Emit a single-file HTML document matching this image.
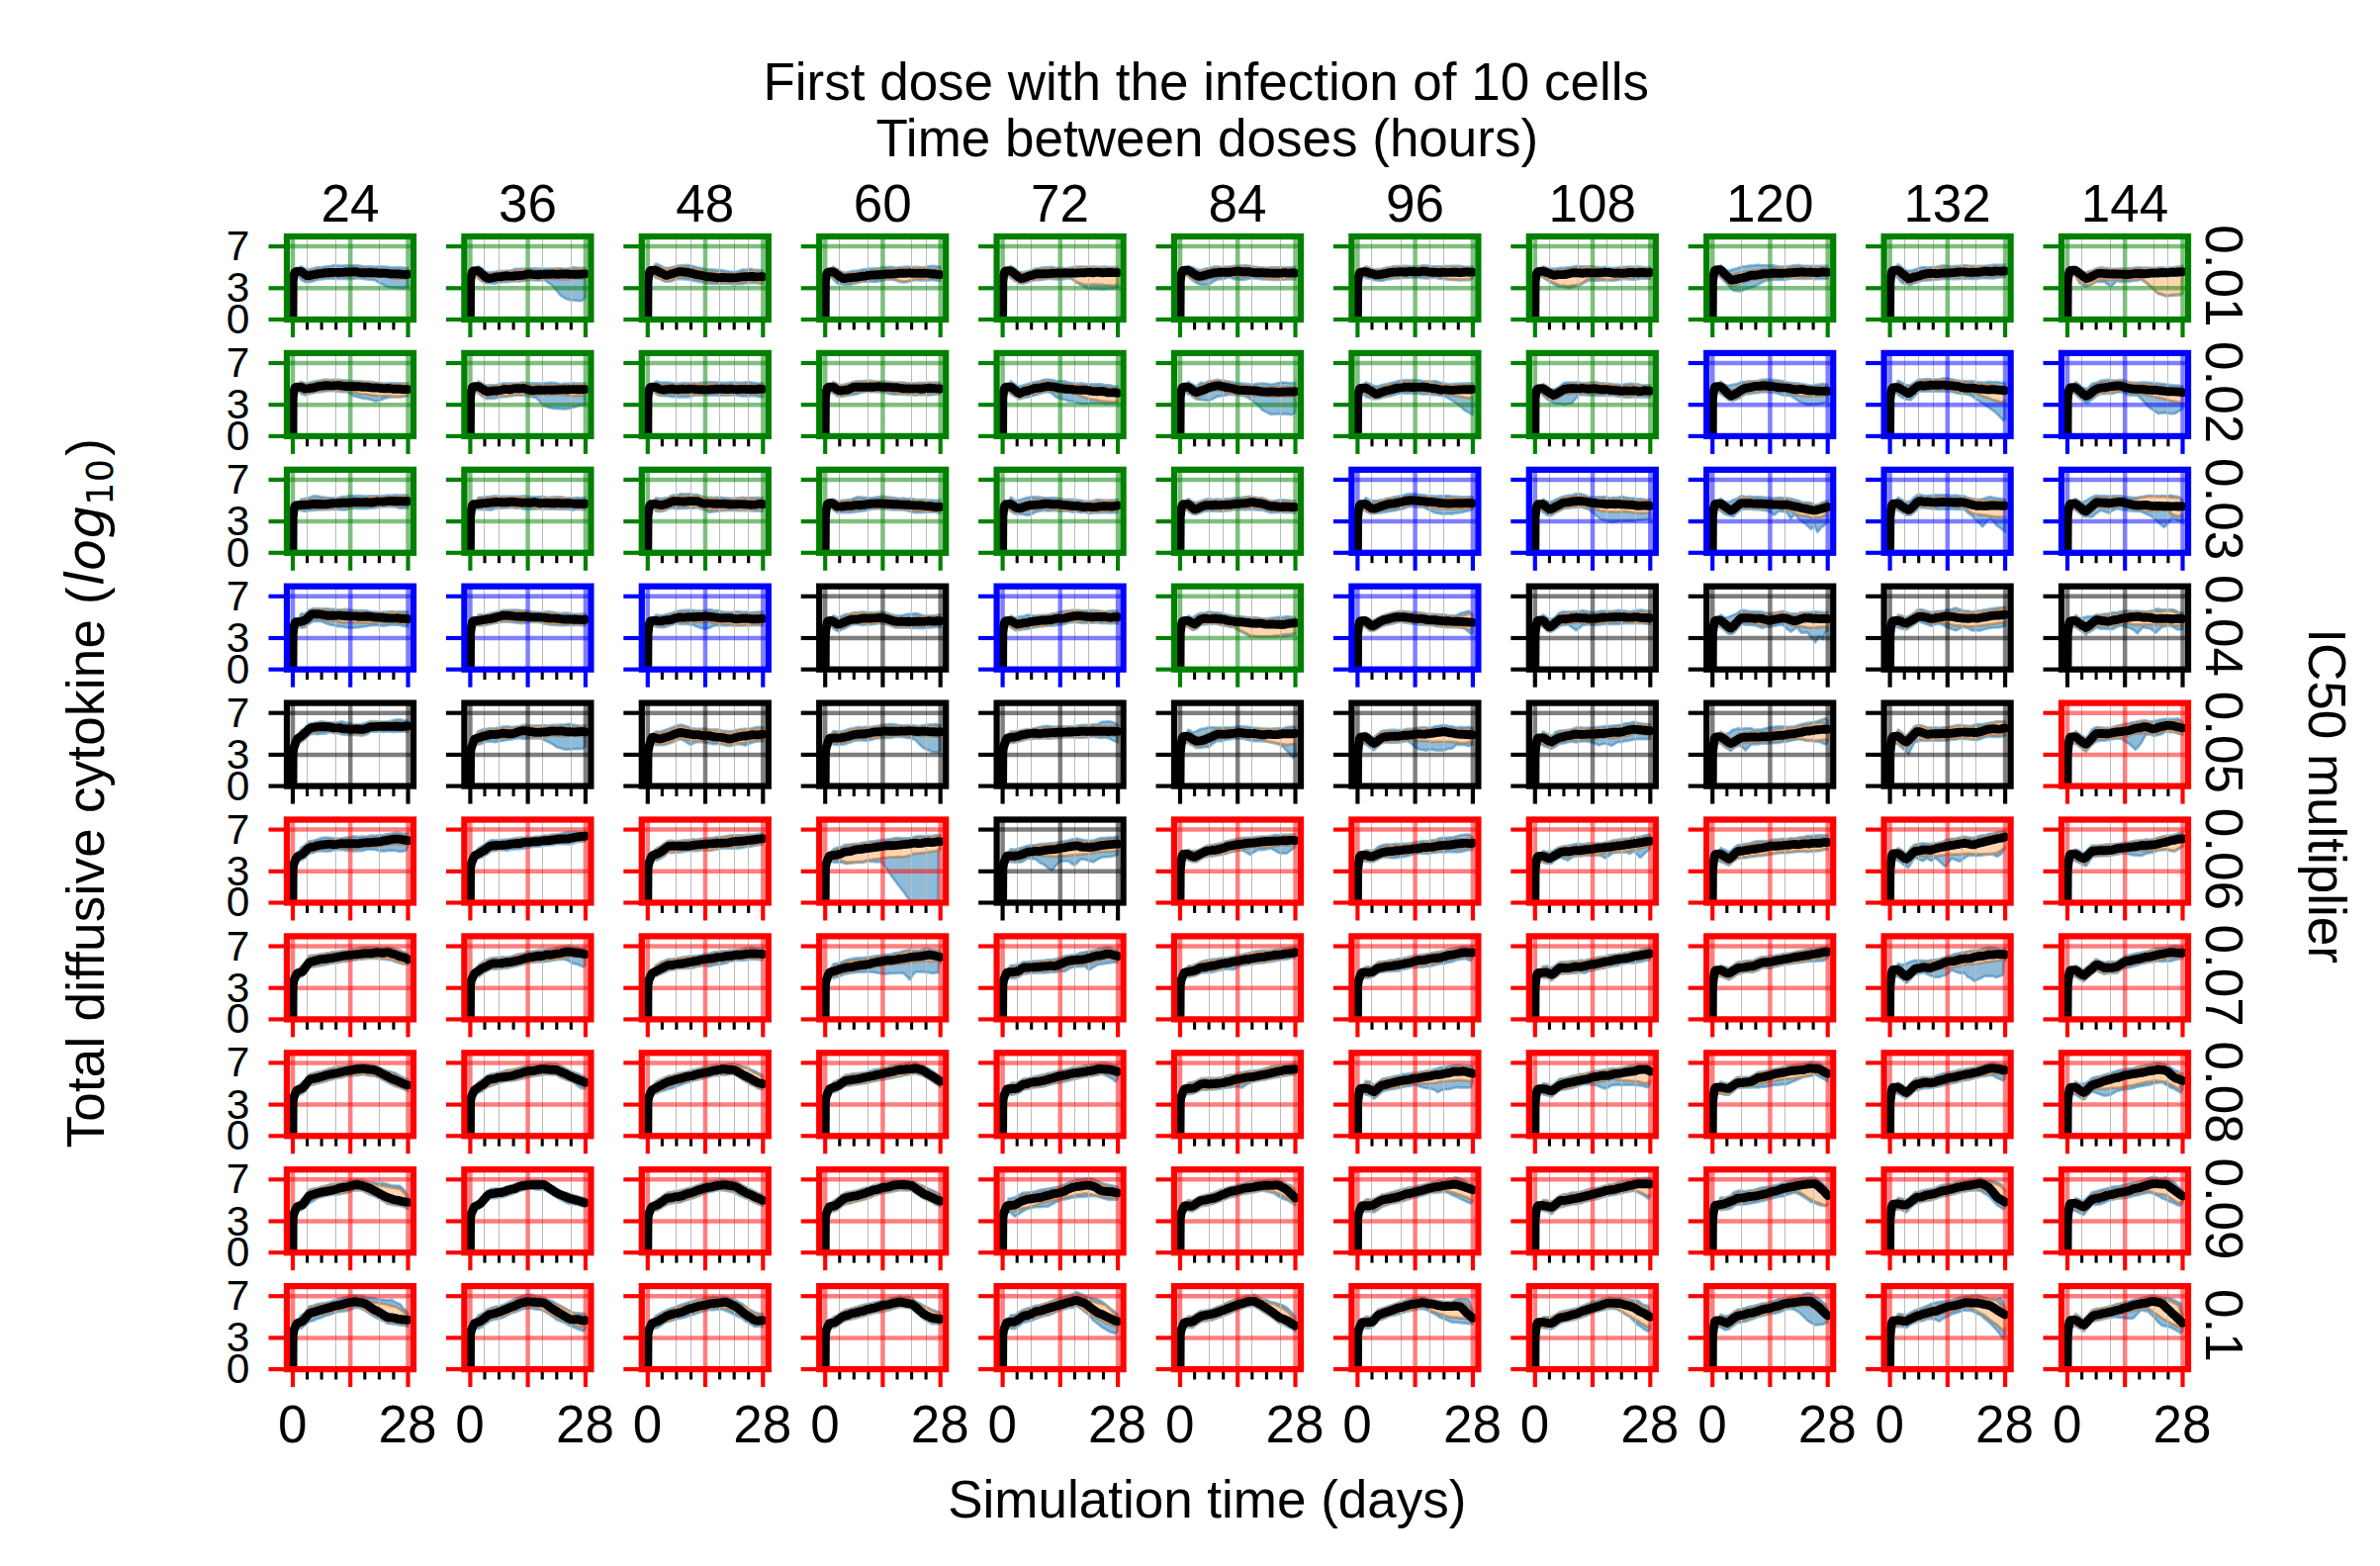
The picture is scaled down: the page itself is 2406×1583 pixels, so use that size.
<!DOCTYPE html>
<html lang="en"><head><meta charset="utf-8"><title>Total diffusive cytokine grid</title>
<style>html,body{margin:0;padding:0;background:#fff}svg{display:block}text{font-family:"Liberation Sans", sans-serif;fill:#000}.t{font-size:53.00px}.y{font-size:42.50px}.bb{fill:#1f77b4;fill-opacity:.5;stroke:#1f77b4;stroke-opacity:.5;stroke-width:2.6;stroke-linejoin:round}.ob{fill:#ff7f0e;fill-opacity:.33;stroke:#ff7f0e;stroke-opacity:.4;stroke-width:2.4;stroke-linejoin:round}.ml{fill:none;stroke:#000;stroke-width:8.9;stroke-linejoin:round;stroke-linecap:round}.g{color:#008000}.b{color:#0000ff}.k{color:#000}.r{color:#ff0000}</style></head><body>
<svg width="2406" height="1583" viewBox="0 0 2406 1583">
<rect width="2406" height="1583" fill="#fff"/>
<defs>
<clipPath id="c"><rect x="0" y="0" width="128" height="84"/></clipPath>
<g id="G" stroke="currentColor" stroke-opacity=".5" stroke-width="4.5" clip-path="url(#c)"><line x1="6" y1="0" x2="6" y2="84"/><line x1="64.2" y1="0" x2="64.2" y2="84"/><line x1="122.5" y1="0" x2="122.5" y2="84"/><line x1="0" y1="84" x2="128" y2="84"/><line x1="0" y1="52.3" x2="128" y2="52.3"/><line x1="0" y1="10.1" x2="128" y2="10.1"/></g>
<g id="m0" stroke="#bcbcbc" stroke-width="1"><line x1="20.5" y1="0" x2="20.5" y2="84"/><line x1="49.5" y1="0" x2="49.5" y2="84"/><line x1="93.5" y1="0" x2="93.5" y2="84"/></g>
<g id="m1" stroke="#bcbcbc" stroke-width="1"><line x1="20.1" y1="0" x2="20.1" y2="84"/><line x1="35.1" y1="0" x2="35.1" y2="84"/><line x1="79.1" y1="0" x2="79.1" y2="84"/><line x1="108.1" y1="0" x2="108.1" y2="84"/></g>
<g id="m2" stroke="#bcbcbc" stroke-width="1"><line x1="34.7" y1="0" x2="34.7" y2="84"/><line x1="49.7" y1="0" x2="49.7" y2="84"/><line x1="78.7" y1="0" x2="78.7" y2="84"/><line x1="93.7" y1="0" x2="93.7" y2="84"/><line x1="107.7" y1="0" x2="107.7" y2="84"/></g>
<g id="m3" stroke="#bcbcbc" stroke-width="1"><line x1="20.3" y1="0" x2="20.3" y2="84"/><line x1="49.3" y1="0" x2="49.3" y2="84"/><line x1="93.3" y1="0" x2="93.3" y2="84"/><line x1="108.3" y1="0" x2="108.3" y2="84"/></g>
<g id="m4" stroke="#bcbcbc" stroke-width="1"><line x1="20.9" y1="0" x2="20.9" y2="84"/><line x1="34.9" y1="0" x2="34.9" y2="84"/><line x1="78.9" y1="0" x2="78.9" y2="84"/><line x1="92.9" y1="0" x2="92.9" y2="84"/></g>
<g id="m5" stroke="#bcbcbc" stroke-width="1"><line x1="35.5" y1="0" x2="35.5" y2="84"/><line x1="49.5" y1="0" x2="49.5" y2="84"/><line x1="78.5" y1="0" x2="78.5" y2="84"/><line x1="107.5" y1="0" x2="107.5" y2="84"/></g>
<g id="m6" stroke="#bcbcbc" stroke-width="1"><line x1="20.1" y1="0" x2="20.1" y2="84"/><line x1="50.1" y1="0" x2="50.1" y2="84"/><line x1="79.1" y1="0" x2="79.1" y2="84"/><line x1="93.1" y1="0" x2="93.1" y2="84"/></g>
<g id="m7" stroke="#bcbcbc" stroke-width="1"><line x1="20.7" y1="0" x2="20.7" y2="84"/><line x1="49.7" y1="0" x2="49.7" y2="84"/><line x1="78.7" y1="0" x2="78.7" y2="84"/><line x1="93.7" y1="0" x2="93.7" y2="84"/><line x1="107.7" y1="0" x2="107.7" y2="84"/></g>
<g id="m8" stroke="#bcbcbc" stroke-width="1"><line x1="35.3" y1="0" x2="35.3" y2="84"/><line x1="79.3" y1="0" x2="79.3" y2="84"/><line x1="108.3" y1="0" x2="108.3" y2="84"/></g>
<g id="m9" stroke="#bcbcbc" stroke-width="1"><line x1="20.9" y1="0" x2="20.9" y2="84"/><line x1="34.9" y1="0" x2="34.9" y2="84"/><line x1="49.9" y1="0" x2="49.9" y2="84"/><line x1="78.9" y1="0" x2="78.9" y2="84"/><line x1="92.9" y1="0" x2="92.9" y2="84"/></g>
<g id="m10" stroke="#bcbcbc" stroke-width="1"><line x1="20.5" y1="0" x2="20.5" y2="84"/><line x1="49.5" y1="0" x2="49.5" y2="84"/><line x1="93.5" y1="0" x2="93.5" y2="84"/><line x1="107.5" y1="0" x2="107.5" y2="84"/></g>
<g id="F"><g stroke="#000" stroke-width="3.1"><line x1="20.6" y1="84" x2="20.6" y2="94.4"/><line x1="35.1" y1="84" x2="35.1" y2="94.4"/><line x1="49.7" y1="84" x2="49.7" y2="94.4"/><line x1="78.8" y1="84" x2="78.8" y2="94.4"/><line x1="93.4" y1="84" x2="93.4" y2="94.4"/><line x1="107.9" y1="84" x2="107.9" y2="94.4"/></g><g stroke="currentColor" stroke-width="4.17"><line x1="6" y1="84" x2="6" y2="102"/><line x1="64.2" y1="84" x2="64.2" y2="102"/><line x1="122.5" y1="84" x2="122.5" y2="102"/><line x1="-18.5" y1="84" x2="0" y2="84"/><line x1="-18.5" y1="52.3" x2="0" y2="52.3"/><line x1="-18.5" y1="10.1" x2="0" y2="10.1"/></g><rect x="0" y="0" width="128" height="84" fill="none" stroke="currentColor" stroke-width="6.25"/></g>
</defs>
<text class="t" x="1219.2" y="100.9" text-anchor="middle">First dose with the infection of 10 cells</text>
<text class="t" x="1220.3" y="158" text-anchor="middle">Time between doses (hours)</text>
<text class="t" x="1220.3" y="1534.4" text-anchor="middle">Simulation time (days)</text>
<text class="t" transform="translate(105,1160.5) rotate(-90)" text-anchor="start" letter-spacing=".22">Total diffusive cytokine (<tspan font-family="'DejaVu Sans',sans-serif" font-style="oblique" dx="1">log</tspan><tspan font-family="'DejaVu Sans',sans-serif" font-size="36.5px" dy="8.6" dx="0">10</tspan><tspan dy="-8.6" dx="3">)</tspan></text>
<text class="t" transform="translate(2333.7,804.6) rotate(90)" text-anchor="middle">IC50 multiplier</text>
<text class="t" x="354" y="223.6" text-anchor="middle">24</text>
<text class="t" x="533.4" y="223.6" text-anchor="middle">36</text>
<text class="t" x="712.8" y="223.6" text-anchor="middle">48</text>
<text class="t" x="892.2" y="223.6" text-anchor="middle">60</text>
<text class="t" x="1071.6" y="223.6" text-anchor="middle">72</text>
<text class="t" x="1251" y="223.6" text-anchor="middle">84</text>
<text class="t" x="1430.4" y="223.6" text-anchor="middle">96</text>
<text class="t" x="1609.8" y="223.6" text-anchor="middle">108</text>
<text class="t" x="1789.2" y="223.6" text-anchor="middle">120</text>
<text class="t" x="1968.6" y="223.6" text-anchor="middle">132</text>
<text class="t" x="2148" y="223.6" text-anchor="middle">144</text>
<text class="t" transform="translate(2230.2,278.8) rotate(90)" text-anchor="middle">0.01</text>
<text class="t" transform="translate(2230.2,396.7) rotate(90)" text-anchor="middle">0.02</text>
<text class="t" transform="translate(2230.2,514.6) rotate(90)" text-anchor="middle">0.03</text>
<text class="t" transform="translate(2230.2,632.5) rotate(90)" text-anchor="middle">0.04</text>
<text class="t" transform="translate(2230.2,750.4) rotate(90)" text-anchor="middle">0.05</text>
<text class="t" transform="translate(2230.2,868.3) rotate(90)" text-anchor="middle">0.06</text>
<text class="t" transform="translate(2230.2,986.2) rotate(90)" text-anchor="middle">0.07</text>
<text class="t" transform="translate(2230.2,1104.1) rotate(90)" text-anchor="middle">0.08</text>
<text class="t" transform="translate(2230.2,1222) rotate(90)" text-anchor="middle">0.09</text>
<text class="t" transform="translate(2230.2,1339.9) rotate(90)" text-anchor="middle">0.1</text>
<text class="y" x="252.3" y="336.9" text-anchor="end">0</text>
<text class="y" x="252.3" y="305.2" text-anchor="end">3</text>
<text class="y" x="252.3" y="263" text-anchor="end">7</text>
<text class="y" x="252.3" y="454.8" text-anchor="end">0</text>
<text class="y" x="252.3" y="423.1" text-anchor="end">3</text>
<text class="y" x="252.3" y="380.9" text-anchor="end">7</text>
<text class="y" x="252.3" y="572.7" text-anchor="end">0</text>
<text class="y" x="252.3" y="541" text-anchor="end">3</text>
<text class="y" x="252.3" y="498.8" text-anchor="end">7</text>
<text class="y" x="252.3" y="690.6" text-anchor="end">0</text>
<text class="y" x="252.3" y="659" text-anchor="end">3</text>
<text class="y" x="252.3" y="616.8" text-anchor="end">7</text>
<text class="y" x="252.3" y="808.5" text-anchor="end">0</text>
<text class="y" x="252.3" y="776.9" text-anchor="end">3</text>
<text class="y" x="252.3" y="734.6" text-anchor="end">7</text>
<text class="y" x="252.3" y="926.4" text-anchor="end">0</text>
<text class="y" x="252.3" y="894.8" text-anchor="end">3</text>
<text class="y" x="252.3" y="852.5" text-anchor="end">7</text>
<text class="y" x="252.3" y="1044.3" text-anchor="end">0</text>
<text class="y" x="252.3" y="1012.7" text-anchor="end">3</text>
<text class="y" x="252.3" y="970.5" text-anchor="end">7</text>
<text class="y" x="252.3" y="1162.2" text-anchor="end">0</text>
<text class="y" x="252.3" y="1130.6" text-anchor="end">3</text>
<text class="y" x="252.3" y="1088.4" text-anchor="end">7</text>
<text class="y" x="252.3" y="1280.1" text-anchor="end">0</text>
<text class="y" x="252.3" y="1248.5" text-anchor="end">3</text>
<text class="y" x="252.3" y="1206.3" text-anchor="end">7</text>
<text class="y" x="252.3" y="1398" text-anchor="end">0</text>
<text class="y" x="252.3" y="1366.4" text-anchor="end">3</text>
<text class="y" x="252.3" y="1324.2" text-anchor="end">7</text>
<text class="t" x="295.7" y="1458" text-anchor="middle">0</text>
<text class="t" x="412" y="1458" text-anchor="middle">28</text>
<text class="t" x="475.1" y="1458" text-anchor="middle">0</text>
<text class="t" x="591.4" y="1458" text-anchor="middle">28</text>
<text class="t" x="654.5" y="1458" text-anchor="middle">0</text>
<text class="t" x="770.8" y="1458" text-anchor="middle">28</text>
<text class="t" x="833.9" y="1458" text-anchor="middle">0</text>
<text class="t" x="950.2" y="1458" text-anchor="middle">28</text>
<text class="t" x="1013.3" y="1458" text-anchor="middle">0</text>
<text class="t" x="1129.6" y="1458" text-anchor="middle">28</text>
<text class="t" x="1192.7" y="1458" text-anchor="middle">0</text>
<text class="t" x="1309" y="1458" text-anchor="middle">28</text>
<text class="t" x="1372.1" y="1458" text-anchor="middle">0</text>
<text class="t" x="1488.4" y="1458" text-anchor="middle">28</text>
<text class="t" x="1551.5" y="1458" text-anchor="middle">0</text>
<text class="t" x="1667.8" y="1458" text-anchor="middle">28</text>
<text class="t" x="1730.9" y="1458" text-anchor="middle">0</text>
<text class="t" x="1847.2" y="1458" text-anchor="middle">28</text>
<text class="t" x="1910.3" y="1458" text-anchor="middle">0</text>
<text class="t" x="2026.6" y="1458" text-anchor="middle">28</text>
<text class="t" x="2089.7" y="1458" text-anchor="middle">0</text>
<text class="t" x="2206" y="1458" text-anchor="middle">28</text>
<g class="g" transform="translate(290,239)">
<g clip-path="url(#c)"><path class="bb" d="M10.2,38.5L14.3,40.3L18.5,42.9L22.6,43.8L26.8,43L31,41.7L35.1,41.3L39.3,40.8L43.4,40.9L47.6,40.8L51.8,40.5L55.9,40.3L60.1,40.6L64.2,40.2L68.4,40.2L72.6,40L76.7,40.6L80.9,40.4L85,40.6L89.2,40.5L93.4,40.5L97.5,40.8L101.7,41.3L105.8,42.1L110,42.9L114.2,42.5L118.3,42.7L122.5,42.6L122.5,50.5L118.3,52.7L114.2,52.4L110,52L105.8,51.6L101.7,51.2L97.5,48.9L93.4,46.9L89.2,44.3L85,43.8L80.9,43.4L76.7,42.9L72.6,42.2L68.4,42.8L64.2,43L60.1,43.1L55.9,42.7L51.8,42.9L47.6,42.8L43.4,42.7L39.3,42.8L35.1,43.5L31,43.7L26.8,45.2L22.6,46.2L18.5,46.2L14.3,43.6L10.2,38.5ZM10.2,35.3L14.3,30.3L18.5,32.7L22.6,33.2L26.8,32.3L31,31.2L35.1,31.3L39.3,30.2L43.4,30.1L47.6,29.2L51.8,29.6L55.9,29.5L60.1,29.3L64.2,29.1L68.4,29L72.6,29.6L76.7,30.1L80.9,30.4L85,30.3L89.2,30.7L93.4,30.3L97.5,30.5L101.7,30.8L105.8,31.4L110,31.4L114.2,31.4L118.3,31.6L122.5,31.7L122.5,35.3L118.3,34.8L114.2,34.1L110,33.7L105.8,34.1L101.7,33.9L97.5,33.8L93.4,33.2L89.2,32.9L85,32.7L80.9,32.1L76.7,32.1L72.6,32L68.4,31.8L64.2,31.4L60.1,32.1L55.9,33.3L51.8,33.7L47.6,33.4L43.4,33.2L39.3,33L35.1,33.4L31,33.1L26.8,34L22.6,35.3L18.5,35.1L14.3,33.3L10.2,35.3Z"/><polygon class="ob" points="10.2,35.3 14.3,33.3 18.5,35.1 22.6,35.3 26.8,34 31,33.1 35.1,33.4 39.3,33 43.4,33.2 47.6,33.4 51.8,33.7 55.9,33.3 60.1,32.1 64.2,31.4 68.4,31.8 72.6,32 76.7,32.1 80.9,32.1 85,32.7 89.2,32.9 93.4,33.2 97.5,33.8 101.7,33.9 105.8,34.1 110,33.7 114.2,34.1 118.3,34.8 122.5,35.3 122.5,42.6 118.3,42.7 114.2,42.5 110,42.9 105.8,42.1 101.7,41.3 97.5,40.8 93.4,40.5 89.2,40.5 85,40.6 80.9,40.4 76.7,40.6 72.6,40 68.4,40.2 64.2,40.2 60.1,40.6 55.9,40.3 51.8,40.5 47.6,40.8 43.4,40.9 39.3,40.8 35.1,41.3 31,41.7 26.8,43 22.6,43.8 18.5,42.9 14.3,40.3 10.2,38.5"/></g>
<use href="#m0"/><use href="#G"/>
<polyline class="ml" clip-path="url(#c)" points="6,84 6.2,45.9 7,39.6 8.1,36.2 9.1,35.6 10.2,35.4 11.2,35.4 12.2,35.3 13.3,35.3 14.3,35.6 15.4,36.1 16.4,36.9 17.4,37.7 18.5,38.6 20.6,39.7 22.6,39.6 24.7,39.1 26.8,38.7 28.9,38.3 31,37.8 33,37.6 35.1,37.4 37.2,37.1 39.3,36.8 41.4,36.7 43.4,36.5 45.5,36.5 47.6,36.4 49.7,36.4 51.8,36.5 53.8,36.4 55.9,36.4 58,36.1 60.1,36 62.2,36.1 64.2,36 66.3,35.9 68.4,35.6 70.5,35.9 72.6,36.3 74.6,36.6 76.7,36.8 78.8,36.7 80.9,36.6 83,36.5 85,36.8 87.1,36.8 89.2,36.9 91.3,36.9 93.4,37.3 95.4,37.2 97.5,37.1 99.6,37.1 101.7,37.4 103.8,37.7 105.8,37.9 107.9,37.9 110,38 112.1,37.9 114.2,38.1 116.2,38.3 118.3,38.4 120.4,38.5 122.5,38.2"/>
<use href="#F"/></g>
<g class="g" transform="translate(469.4,239)">
<g clip-path="url(#c)"><path class="bb" d="M10.2,38.2L14.3,42.1L18.5,44.2L22.6,46.6L26.8,45L31,44.9L35.1,44.5L39.3,45L43.4,44.5L47.6,44.7L51.8,44.3L55.9,44.5L60.1,44.1L64.2,43.5L68.4,43.3L72.6,43.1L76.7,43.3L80.9,42.8L85,42.9L89.2,42.8L93.4,42.9L97.5,43.2L101.7,43.3L105.8,43.2L110,42.6L114.2,42.4L118.3,42.7L122.5,42.6L122.5,61.9L118.3,65.2L114.2,64.9L110,64.5L105.8,64.1L101.7,62.5L97.5,59.9L93.4,55L89.2,49.8L85,46.9L80.9,44L76.7,44.5L72.6,44.4L68.4,44.3L64.2,44.3L60.1,45L55.9,45.4L51.8,45.1L47.6,45.5L43.4,46.1L39.3,46.3L35.1,46.8L31,47.6L26.8,47.2L22.6,47.5L18.5,45.9L14.3,43L10.2,38.2ZM10.2,35L14.3,30L18.5,33.1L22.6,36.2L26.8,36.1L31,35.7L35.1,34.8L39.3,34.7L43.4,34.5L47.6,34.2L51.8,32.7L55.9,32.8L60.1,32.5L64.2,32.8L68.4,32.2L72.6,32.4L76.7,32.5L80.9,32.5L85,32.5L89.2,32.5L93.4,32.3L97.5,32.2L101.7,32.9L105.8,32.2L110,31.3L114.2,31.8L118.3,31.7L122.5,31.9L122.5,32.7L118.3,32.6L114.2,33L110,33.4L105.8,33.9L101.7,33.8L97.5,33L93.4,33.1L89.2,33.4L85,34.2L80.9,34.5L76.7,34.3L72.6,34.7L68.4,34.1L64.2,34L60.1,33.4L55.9,34L51.8,34.7L47.6,35.1L43.4,35.3L39.3,35.9L35.1,36.3L31,37L26.8,37.6L22.6,37.9L18.5,34.7L14.3,31.3L10.2,35Z"/><polygon class="ob" points="10.2,35 14.3,31.3 18.5,34.7 22.6,37.9 26.8,37.6 31,37 35.1,36.3 39.3,35.9 43.4,35.3 47.6,35.1 51.8,34.7 55.9,34 60.1,33.4 64.2,34 68.4,34.1 72.6,34.7 76.7,34.3 80.9,34.5 85,34.2 89.2,33.4 93.4,33.1 97.5,33 101.7,33.8 105.8,33.9 110,33.4 114.2,33 118.3,32.6 122.5,32.7 122.5,42.6 118.3,42.7 114.2,42.4 110,42.6 105.8,43.2 101.7,43.3 97.5,43.2 93.4,42.9 89.2,42.8 85,42.9 80.9,42.8 76.7,43.3 72.6,43.1 68.4,43.3 64.2,43.5 60.1,44.1 55.9,44.5 51.8,44.3 47.6,44.7 43.4,44.5 39.3,45 35.1,44.5 31,44.9 26.8,45 22.6,46.6 18.5,44.2 14.3,42.1 10.2,38.2"/></g>
<use href="#m1"/><use href="#G"/>
<polyline class="ml" clip-path="url(#c)" points="6,84 6.2,45.9 7,39.4 8.1,35.8 9.1,35 10.2,34.9 11.2,34.8 12.2,34.8 13.3,34.7 14.3,35.1 15.4,35.8 16.4,36.8 17.4,37.7 18.5,38.5 20.6,40.4 22.6,41.9 24.7,42.4 26.8,42.2 28.9,41.9 31,41.2 33,40.9 35.1,40.7 37.2,40.7 39.3,40.3 41.4,40 43.4,39.8 45.5,40.1 47.6,40.1 49.7,40.1 51.8,39.6 53.8,39.6 55.9,39.5 58,39.4 60.1,39.1 62.2,38.5 64.2,38.2 66.3,37.9 68.4,38.3 70.5,38.6 72.6,38.6 74.6,38.7 76.7,38.5 78.8,38.4 80.9,38.1 83,38.3 85,38.3 87.1,38.2 89.2,37.9 91.3,38.1 93.4,38.2 95.4,38.3 97.5,37.9 99.6,38 101.7,37.9 103.8,38 105.8,38.2 107.9,38.3 110,38.4 112.1,38.2 114.2,38.3 116.2,38.1 118.3,38.2 120.4,37.9 122.5,37.9"/>
<use href="#F"/></g>
<g class="g" transform="translate(648.8,239)">
<g clip-path="url(#c)"><path class="bb" d="M10.2,37.9L14.3,40.5L18.5,42.3L22.6,44.6L26.8,44.9L31,43.4L35.1,41.8L39.3,41L43.4,41L47.6,41.1L51.8,42.2L55.9,43.2L60.1,44.2L64.2,45.1L68.4,45.9L72.6,46.2L76.7,46.4L80.9,46.2L85,46.3L89.2,46.5L93.4,46.7L97.5,46.2L101.7,46.2L105.8,45.8L110,45.4L114.2,45.8L118.3,46.8L122.5,47.2L122.5,48L118.3,47.6L114.2,47L110,47.1L105.8,47.2L101.7,48.3L97.5,48.3L93.4,48.6L89.2,47.9L85,47.7L80.9,47.9L76.7,47.9L72.6,48.1L68.4,47.8L64.2,47.3L60.1,46.1L55.9,45.6L51.8,44.7L47.6,43.7L43.4,43.4L39.3,43L35.1,43.2L31,44.9L26.8,45.7L22.6,45.4L18.5,43.1L14.3,42L10.2,37.9ZM10.2,34.7L14.3,27.5L18.5,29.3L22.6,31.5L26.8,31.9L31,30.9L35.1,29.9L39.3,29.3L43.4,29L47.6,28.9L51.8,30.1L55.9,31.2L60.1,32.1L64.2,33.1L68.4,33.2L72.6,33.5L76.7,33.9L80.9,34.1L85,34.9L89.2,35.6L93.4,35.8L97.5,35.2L101.7,33.4L105.8,33.7L110,32.8L114.2,33.9L118.3,33.8L122.5,34.8L122.5,36.7L118.3,35.9L114.2,34.9L110,35.1L105.8,35.5L101.7,36.1L97.5,37L93.4,37.7L89.2,37.7L85,37L80.9,36.7L76.7,36.1L72.6,36L68.4,35.6L64.2,35.2L60.1,34.2L55.9,33.2L51.8,32.5L47.6,31.4L43.4,30.9L39.3,30.7L35.1,30.7L31,31.8L26.8,32.8L22.6,32.6L18.5,30.9L14.3,29.3L10.2,34.7Z"/><polygon class="ob" points="10.2,34.7 14.3,29.3 18.5,30.9 22.6,32.6 26.8,32.8 31,31.8 35.1,30.7 39.3,30.7 43.4,30.9 47.6,31.4 51.8,32.5 55.9,33.2 60.1,34.2 64.2,35.2 68.4,35.6 72.6,36 76.7,36.1 80.9,36.7 85,37 89.2,37.7 93.4,37.7 97.5,37 101.7,36.1 105.8,35.5 110,35.1 114.2,34.9 118.3,35.9 122.5,36.7 122.5,47.2 118.3,46.8 114.2,45.8 110,45.4 105.8,45.8 101.7,46.2 97.5,46.2 93.4,46.7 89.2,46.5 85,46.3 80.9,46.2 76.7,46.4 72.6,46.2 68.4,45.9 64.2,45.1 60.1,44.2 55.9,43.2 51.8,42.2 47.6,41.1 43.4,41 39.3,41 35.1,41.8 31,43.4 26.8,44.9 22.6,44.6 18.5,42.3 14.3,40.5 10.2,37.9"/></g>
<use href="#m2"/><use href="#G"/>
<polyline class="ml" clip-path="url(#c)" points="6,84 6.2,45.8 7,39.2 8.1,35.3 9.1,34.5 10.2,34.4 11.2,34.3 12.2,34.2 13.3,34.2 14.3,34.4 15.4,34.8 16.4,35.4 17.4,36 18.5,36.5 20.6,37.3 22.6,38.5 24.7,39.4 26.8,38.9 28.9,38.2 31,37.7 33,37.1 35.1,36.3 37.2,35.6 39.3,35.7 41.4,35.8 43.4,36.1 45.5,36.2 47.6,36.7 49.7,37.2 51.8,37.7 53.8,38.2 55.9,38.6 58,39 60.1,39.4 62.2,39.8 64.2,40.3 66.3,40.7 68.4,40.8 70.5,41 72.6,41.2 74.6,41.5 76.7,41.7 78.8,41.6 80.9,41.5 83,41.5 85,41.6 87.1,41.7 89.2,41.7 91.3,41.6 93.4,41.7 95.4,41.7 97.5,41.4 99.6,41.1 101.7,40.9 103.8,40.7 105.8,40.7 107.9,40.6 110,40.4 112.1,40.5 114.2,40.7 116.2,40.9 118.3,40.9 120.4,40.8 122.5,40.8"/>
<use href="#F"/></g>
<g class="g" transform="translate(828.2,239)">
<g clip-path="url(#c)"><path class="bb" d="M10.2,38.8L14.3,41.7L18.5,43.9L22.6,46.3L26.8,47.4L31,46.6L35.1,46.2L39.3,45.5L43.4,44.6L47.6,44.4L51.8,43.8L55.9,43.6L60.1,42.9L64.2,43L68.4,42.8L72.6,42.4L76.7,43.1L80.9,44.8L85,45.5L89.2,45.1L93.4,44L97.5,43.2L101.7,42.7L105.8,43.2L110,42.4L114.2,42.3L118.3,42.3L122.5,42.8L122.5,44.7L118.3,44.7L114.2,44L110,44.5L105.8,44.3L101.7,44.4L97.5,44L93.4,44.8L89.2,46L85,46.4L80.9,45.7L76.7,44.2L72.6,43.7L68.4,43.7L64.2,44.6L60.1,45.5L55.9,46.1L51.8,45.4L47.6,45.9L43.4,45.6L39.3,47L35.1,47.7L31,49L26.8,48.9L22.6,48.2L18.5,47.7L14.3,43.5L10.2,38.8ZM10.2,35.6L14.3,30.5L18.5,33.5L22.6,35.7L26.8,36.8L31,35.6L35.1,34.9L39.3,34.5L43.4,33.6L47.6,32.9L51.8,32.6L55.9,32.3L60.1,32.3L64.2,30.9L68.4,31L72.6,30.8L76.7,31.5L80.9,31.2L85,30.9L89.2,30.5L93.4,31L97.5,30.9L101.7,31L105.8,31.2L110,30.4L114.2,29.7L118.3,30.1L122.5,30.7L122.5,33.3L118.3,33.5L114.2,33.3L110,32.9L105.8,32L101.7,31.8L97.5,31.7L93.4,32L89.2,32.1L85,32.4L80.9,32.7L76.7,32.8L72.6,32.9L68.4,33L64.2,33.2L60.1,33.8L55.9,34.5L51.8,35L47.6,35.6L43.4,35.9L39.3,36.2L35.1,36.7L31,36.9L26.8,37.8L22.6,36.6L18.5,34.4L14.3,31.5L10.2,35.6Z"/><polygon class="ob" points="10.2,35.6 14.3,31.5 18.5,34.4 22.6,36.6 26.8,37.8 31,36.9 35.1,36.7 39.3,36.2 43.4,35.9 47.6,35.6 51.8,35 55.9,34.5 60.1,33.8 64.2,33.2 68.4,33 72.6,32.9 76.7,32.8 80.9,32.7 85,32.4 89.2,32.1 93.4,32 97.5,31.7 101.7,31.8 105.8,32 110,32.9 114.2,33.3 118.3,33.5 122.5,33.3 122.5,42.8 118.3,42.3 114.2,42.3 110,42.4 105.8,43.2 101.7,42.7 97.5,43.2 93.4,44 89.2,45.1 85,45.5 80.9,44.8 76.7,43.1 72.6,42.4 68.4,42.8 64.2,43 60.1,42.9 55.9,43.6 51.8,43.8 47.6,44.4 43.4,44.6 39.3,45.5 35.1,46.2 31,46.6 26.8,47.4 22.6,46.3 18.5,43.9 14.3,41.7 10.2,38.8"/></g>
<use href="#m3"/><use href="#G"/>
<polyline class="ml" clip-path="url(#c)" points="6,84 6.2,45.9 7,39.8 8.1,36.7 9.1,36.1 10.2,36 11.2,35.9 12.2,35.8 13.3,35.8 14.3,36 15.4,36.5 16.4,37.2 17.4,38 18.5,38.8 20.6,40.5 22.6,41.9 24.7,42.5 26.8,42.3 28.9,41.9 31,41.7 33,41.6 35.1,41.4 37.2,41.3 39.3,40.9 41.4,40.6 43.4,40.3 45.5,40.1 47.6,39.8 49.7,39.3 51.8,39.1 53.8,38.9 55.9,39 58,38.7 60.1,38.7 62.2,38.5 64.2,38.5 66.3,38 68.4,38 70.5,37.9 72.6,38 74.6,37.9 76.7,37.7 78.8,37.5 80.9,37.2 83,37.1 85,37.2 87.1,37.3 89.2,37.1 91.3,37 93.4,37.2 95.4,37.3 97.5,37.4 99.6,37.2 101.7,37.2 103.8,37.4 105.8,37.2 107.9,37.2 110,37.4 112.1,37.7 114.2,38 116.2,37.8 118.3,38.2 120.4,38.4 122.5,38.6"/>
<use href="#F"/></g>
<g class="g" transform="translate(1007.6,239)">
<g clip-path="url(#c)"><path class="bb" d="M10.2,38.2L14.3,41.3L18.5,44.1L22.6,46.4L26.8,47.1L31,45.5L35.1,44.3L39.3,43.2L43.4,43.3L47.6,42.7L51.8,42.1L55.9,42.2L60.1,42.4L64.2,42.2L68.4,41.4L72.6,41.1L76.7,42.6L80.9,45.9L85,47.6L89.2,48.8L93.4,48.7L97.5,48.5L101.7,48.6L105.8,48.8L110,49.1L114.2,49.2L118.3,49.5L122.5,48.4L122.5,51.2L118.3,52.9L114.2,52.7L110,53.2L105.8,53.4L101.7,52.9L97.5,53L93.4,53L89.2,51.6L85,49L80.9,46.8L76.7,43.6L72.6,42.3L68.4,43.2L64.2,43.1L60.1,43.5L55.9,43L51.8,43L47.6,43.5L43.4,44.1L39.3,44.1L35.1,45.1L31,46.4L26.8,47.9L22.6,47.3L18.5,45L14.3,42.2L10.2,38.2ZM10.2,35L14.3,29.8L18.5,32.6L22.6,35.8L26.8,36.3L31,35.3L35.1,33.9L39.3,32.6L43.4,32.1L47.6,31.2L51.8,31.1L55.9,30.8L60.1,31.8L64.2,31.8L68.4,32.1L72.6,31.9L76.7,31.2L80.9,30.6L85,30.5L89.2,30.5L93.4,30.7L97.5,30.5L101.7,30.8L105.8,30.9L110,30.5L114.2,31L118.3,30.9L122.5,31.2L122.5,32L118.3,31.7L114.2,32.1L110,31.9L105.8,31.7L101.7,31.7L97.5,31.4L93.4,31.5L89.2,31.4L85,31.4L80.9,31.4L76.7,32.1L72.6,32.7L68.4,32.9L64.2,32.6L60.1,32.7L55.9,32.6L51.8,32.8L47.6,32.8L43.4,33.5L39.3,33.8L35.1,34.8L31,36.2L26.8,37.1L22.6,36.7L18.5,33.5L14.3,31L10.2,35Z"/><polygon class="ob" points="10.2,35 14.3,31 18.5,33.5 22.6,36.7 26.8,37.1 31,36.2 35.1,34.8 39.3,33.8 43.4,33.5 47.6,32.8 51.8,32.8 55.9,32.6 60.1,32.7 64.2,32.6 68.4,32.9 72.6,32.7 76.7,32.1 80.9,31.4 85,31.4 89.2,31.4 93.4,31.5 97.5,31.4 101.7,31.7 105.8,31.7 110,31.9 114.2,32.1 118.3,31.7 122.5,32 122.5,48.4 118.3,49.5 114.2,49.2 110,49.1 105.8,48.8 101.7,48.6 97.5,48.5 93.4,48.7 89.2,48.8 85,47.6 80.9,45.9 76.7,42.6 72.6,41.1 68.4,41.4 64.2,42.2 60.1,42.4 55.9,42.2 51.8,42.1 47.6,42.7 43.4,43.3 39.3,43.2 35.1,44.3 31,45.5 26.8,47.1 22.6,46.4 18.5,44.1 14.3,41.3 10.2,38.2"/></g>
<use href="#m4"/><use href="#G"/>
<polyline class="ml" clip-path="url(#c)" points="6,84 6.2,45.9 7,39.4 8.1,35.8 9.1,35 10.2,34.9 11.2,34.8 12.2,34.8 13.3,34.7 14.3,35 15.4,35.6 16.4,36.3 17.4,37.2 18.5,38.1 20.6,39.8 22.6,41.4 24.7,42.5 26.8,42.1 28.9,41.5 31,40.6 33,40 35.1,39.4 37.2,38.8 39.3,38 41.4,37.8 43.4,37.7 45.5,37.9 47.6,37.7 49.7,37.8 51.8,37.6 53.8,37.5 55.9,37.3 58,37.2 60.1,37.2 62.2,37 64.2,37.1 66.3,37.1 68.4,37 70.5,37 72.6,37 74.6,37.1 76.7,36.8 78.8,37.1 80.9,37 83,36.9 85,36.8 87.1,36.9 89.2,36.8 91.3,36.4 93.4,36.3 95.4,36.5 97.5,36.8 99.6,36.4 101.7,36.4 103.8,36.4 105.8,36.7 107.9,36.7 110,36.6 112.1,36.5 114.2,36.5 116.2,36.5 118.3,36.6 120.4,36.6 122.5,36.6"/>
<use href="#F"/></g>
<g class="g" transform="translate(1187,239)">
<g clip-path="url(#c)"><path class="bb" d="M10.2,37.9L14.3,40L16.4,41.5L18.5,42.3L22.6,44.8L24.7,45.7L26.8,44.5L31,43.7L35.1,42.5L39.3,42L43.4,41.2L47.6,40.8L51.8,40.8L55.9,40.1L60.1,40.4L64.2,40.4L68.4,40.6L72.6,40.5L76.7,40.4L80.9,40.8L85,41L89.2,41.6L93.4,42.5L97.5,43L101.7,43.2L105.8,43.2L110,42.9L114.2,42.6L118.3,42.1L122.5,41.9L122.5,43.4L118.3,43.4L114.2,43.5L110,43.8L105.8,44L101.7,44L97.5,43.9L93.4,43.3L89.2,43.4L85,42.8L80.9,42.4L76.7,42.5L72.6,43.5L68.4,43.9L64.2,43.6L60.1,43L55.9,41.2L51.8,42.4L47.6,43.1L43.4,43.5L39.3,45.8L35.1,48.6L31,48.9L26.8,48.7L24.7,48.3L22.6,47.2L18.5,44.1L16.4,42.8L14.3,40.8L10.2,37.9ZM10.2,34.7L14.3,29.8L16.4,30.9L18.5,31.1L22.6,33.3L24.7,33.7L26.8,34.3L31,32.8L35.1,32L39.3,30.7L43.4,30.4L47.6,31L51.8,30.6L55.9,30.6L60.1,29.7L64.2,29.9L68.4,29.4L72.6,29.2L76.7,29.8L80.9,30.5L85,31L89.2,31.3L93.4,31.7L97.5,31.3L101.7,31.2L105.8,31.2L110,31.2L114.2,31.2L118.3,31L122.5,30.6L122.5,32.5L118.3,31.9L114.2,32L110,32.1L105.8,32L101.7,32L97.5,32.1L93.4,32.5L89.2,32.2L85,32L80.9,31.4L76.7,30.6L72.6,30.7L68.4,30.5L64.2,30.7L60.1,30.5L55.9,31.7L51.8,31.4L47.6,31.8L43.4,31.4L39.3,33L35.1,33.8L31,34.3L26.8,35.1L24.7,35.8L22.6,35.2L18.5,32.9L16.4,31.8L14.3,30.7L10.2,34.7Z"/><polygon class="ob" points="10.2,34.7 14.3,30.7 16.4,31.8 18.5,32.9 22.6,35.2 24.7,35.8 26.8,35.1 31,34.3 35.1,33.8 39.3,33 43.4,31.4 47.6,31.8 51.8,31.4 55.9,31.7 60.1,30.5 64.2,30.7 68.4,30.5 72.6,30.7 76.7,30.6 80.9,31.4 85,32 89.2,32.2 93.4,32.5 97.5,32.1 101.7,32 105.8,32 110,32.1 114.2,32 118.3,31.9 122.5,32.5 122.5,41.9 118.3,42.1 114.2,42.6 110,42.9 105.8,43.2 101.7,43.2 97.5,43 93.4,42.5 89.2,41.6 85,41 80.9,40.8 76.7,40.4 72.6,40.5 68.4,40.6 64.2,40.4 60.1,40.4 55.9,40.1 51.8,40.8 47.6,40.8 43.4,41.2 39.3,42 35.1,42.5 31,43.7 26.8,44.5 24.7,45.7 22.6,44.8 18.5,42.3 16.4,41.5 14.3,40 10.2,37.9"/></g>
<use href="#m5"/><use href="#G"/>
<polyline class="ml" clip-path="url(#c)" points="6,84 6.2,45.8 7,39.2 8.1,35.3 9.1,34.5 10.2,34.4 11.2,34.3 12.2,34.2 13.3,34.2 14.3,34.4 15.4,34.9 16.4,35.5 17.4,36.2 18.5,37 20.6,38.4 22.6,39.4 24.7,40.3 26.8,40.1 28.9,39.8 31,39.2 33,38.7 35.1,38.2 37.2,37.7 39.3,37.2 41.4,36.8 43.4,36.6 45.5,36.3 47.6,36.3 49.7,36.1 51.8,36.4 53.8,36.3 55.9,36.2 58,36 60.1,35.6 62.2,35.4 64.2,35.2 66.3,35.3 68.4,35.7 70.5,35.8 72.6,35.8 74.6,35.6 76.7,35.8 78.8,36.3 80.9,36.6 83,36.7 85,36.8 87.1,36.7 89.2,36.8 91.3,36.9 93.4,37 95.4,37 97.5,37.1 99.6,37.2 101.7,37.3 103.8,37.3 105.8,37.3 107.9,37.1 110,36.9 112.1,36.7 114.2,37.1 116.2,37 118.3,37 120.4,36.7 122.5,37.1"/>
<use href="#F"/></g>
<g class="g" transform="translate(1366.4,239)">
<g clip-path="url(#c)"><path class="bb" d="M10.2,39.3L14.3,40.4L18.5,41.5L22.6,42.5L26.8,42.9L31,41.9L35.1,41.8L39.3,41.5L43.4,41.5L47.6,41L51.8,40.8L55.9,40.1L60.1,40.1L64.2,39.9L68.4,39.7L72.6,39.8L76.7,40L80.9,40.9L85,40.9L89.2,40.8L93.4,41.5L97.5,42.9L101.7,43.2L105.8,43.4L110,43.6L114.2,43.4L118.3,43.5L122.5,41.7L122.5,42.6L118.3,44.3L114.2,44.2L110,44.4L105.8,44.3L101.7,44L97.5,43.8L93.4,43L89.2,42.9L85,41.8L80.9,42L76.7,42.4L72.6,42.3L68.4,42L64.2,41.6L60.1,41.8L55.9,41.9L51.8,41.8L47.6,42.4L43.4,42.4L39.3,43.1L35.1,43.7L31,44.9L26.8,44.8L22.6,44.1L18.5,42.7L14.3,42.2L10.2,39.3ZM10.2,36.1L14.3,30.2L18.5,31.8L22.6,33.2L26.8,33.3L31,32.5L35.1,31.5L39.3,31L43.4,30.1L47.6,30L51.8,29.9L55.9,29.9L60.1,30.1L64.2,30.2L68.4,29.9L72.6,29.3L76.7,29.5L80.9,30.1L85,30.3L89.2,30.3L93.4,30L97.5,30L101.7,29.7L105.8,29.7L110,29.9L114.2,30.5L118.3,30.7L122.5,30.2L122.5,32L118.3,31.7L114.2,31.6L110,31.4L105.8,31.3L101.7,31L97.5,30.9L93.4,31.1L89.2,31.5L85,31.8L80.9,31.4L76.7,31L72.6,30.8L68.4,30.8L64.2,31L60.1,31.1L55.9,30.7L51.8,30.7L47.6,30.9L43.4,31.1L39.3,31.8L35.1,32.4L31,33.6L26.8,34.6L22.6,34.3L18.5,32.7L14.3,31.1L10.2,36.1Z"/><polygon class="ob" points="10.2,36.1 14.3,31.1 18.5,32.7 22.6,34.3 26.8,34.6 31,33.6 35.1,32.4 39.3,31.8 43.4,31.1 47.6,30.9 51.8,30.7 55.9,30.7 60.1,31.1 64.2,31 68.4,30.8 72.6,30.8 76.7,31 80.9,31.4 85,31.8 89.2,31.5 93.4,31.1 97.5,30.9 101.7,31 105.8,31.3 110,31.4 114.2,31.6 118.3,31.7 122.5,32 122.5,41.7 118.3,43.5 114.2,43.4 110,43.6 105.8,43.4 101.7,43.2 97.5,42.9 93.4,41.5 89.2,40.8 85,40.9 80.9,40.9 76.7,40 72.6,39.8 68.4,39.7 64.2,39.9 60.1,40.1 55.9,40.1 51.8,40.8 47.6,41 43.4,41.5 39.3,41.5 35.1,41.8 31,41.9 26.8,42.9 22.6,42.5 18.5,41.5 14.3,40.4 10.2,39.3"/></g>
<use href="#m6"/><use href="#G"/>
<polyline class="ml" clip-path="url(#c)" points="6,84 6.2,46.8 7,40.4 8.1,36.8 9.1,36.1 10.2,36 11.2,35.9 12.2,35.8 13.3,35.8 14.3,35.9 15.4,36.1 16.4,36.4 17.4,36.8 18.5,37.2 20.6,37.7 22.6,38.3 24.7,38.9 26.8,38.9 28.9,38.4 31,38.1 33,37.7 35.1,37.4 37.2,36.9 39.3,36.4 41.4,36.2 43.4,36.1 45.5,36.1 47.6,35.9 49.7,35.8 51.8,36 53.8,36 55.9,36 58,35.5 60.1,35.6 62.2,35.5 64.2,35.8 66.3,35.9 68.4,35.8 70.5,35.5 72.6,35.2 74.6,35.4 76.7,35.7 78.8,36.1 80.9,36.2 83,36.1 85,36.4 87.1,36.4 89.2,36.5 91.3,36.3 93.4,36.3 95.4,36.4 97.5,36.4 99.6,36.4 101.7,36.1 103.8,36.3 105.8,36.2 107.9,36.5 110,36.6 112.1,36.2 114.2,36.2 116.2,35.9 118.3,36.2 120.4,36.1 122.5,36.1"/>
<use href="#F"/></g>
<g class="g" transform="translate(1545.8,239)">
<g clip-path="url(#c)"><path class="bb" d="M10.2,38.9L14.3,40.9L18.5,43.3L22.6,45.8L26.8,47.4L31,49.6L35.1,49.5L39.3,50.2L43.4,49.3L47.6,49.1L51.8,48.2L55.9,45.6L60.1,42.6L64.2,42.5L68.4,42.3L72.6,42.5L76.7,43.2L80.9,43.7L85,43.4L89.2,42.7L93.4,41.7L97.5,41.6L101.7,41.7L105.8,41.7L110,41.3L114.2,41L118.3,41.1L122.5,41.6L122.5,42.8L118.3,42.6L114.2,42.8L110,43.3L105.8,43.8L101.7,43.5L97.5,42.9L93.4,43.4L89.2,44.3L85,44.8L80.9,44.5L76.7,44.5L72.6,44.5L68.4,44.8L64.2,44.8L60.1,44.5L55.9,46.6L51.8,49.1L47.6,50.3L43.4,51.6L39.3,52.2L35.1,51L31,50.8L26.8,49.5L22.6,46.9L18.5,44.4L14.3,41.7L10.2,38.9ZM10.2,35.8L14.3,30.3L18.5,31.8L22.6,32.5L26.8,32.6L31,31.9L35.1,31.8L39.3,31.2L43.4,30.7L47.6,30L51.8,30.3L55.9,30.2L60.1,30.4L64.2,30.2L68.4,30.9L72.6,31.3L76.7,30.8L80.9,31.7L85,31.7L89.2,31.6L93.4,30.9L97.5,30.8L101.7,30.6L105.8,30.8L110,30.5L114.2,30.9L118.3,31.2L122.5,31.1L122.5,32.6L118.3,32.6L114.2,32.3L110,32.1L105.8,31.6L101.7,31.6L97.5,31.9L93.4,32.6L89.2,32.5L85,32.6L80.9,33.1L76.7,33.2L72.6,32.7L68.4,31.8L64.2,31L60.1,31.2L55.9,31.3L51.8,32L47.6,32L43.4,32.6L39.3,32.9L35.1,33.6L31,34.1L26.8,34.9L22.6,34.4L18.5,32.9L14.3,31.1L10.2,35.8Z"/><polygon class="ob" points="10.2,35.8 14.3,31.1 18.5,32.9 22.6,34.4 26.8,34.9 31,34.1 35.1,33.6 39.3,32.9 43.4,32.6 47.6,32 51.8,32 55.9,31.3 60.1,31.2 64.2,31 68.4,31.8 72.6,32.7 76.7,33.2 80.9,33.1 85,32.6 89.2,32.5 93.4,32.6 97.5,31.9 101.7,31.6 105.8,31.6 110,32.1 114.2,32.3 118.3,32.6 122.5,32.6 122.5,41.6 118.3,41.1 114.2,41 110,41.3 105.8,41.7 101.7,41.7 97.5,41.6 93.4,41.7 89.2,42.7 85,43.4 80.9,43.7 76.7,43.2 72.6,42.5 68.4,42.3 64.2,42.5 60.1,42.6 55.9,45.6 51.8,48.2 47.6,49.1 43.4,49.3 39.3,50.2 35.1,49.5 31,49.6 26.8,47.4 22.6,45.8 18.5,43.3 14.3,40.9 10.2,38.9"/></g>
<use href="#m7"/><use href="#G"/>
<polyline class="ml" clip-path="url(#c)" points="6,84 6.2,46.7 7,40.3 8.1,36.4 9.1,35.6 10.2,35.4 11.2,35.4 12.2,35.3 13.3,35.2 14.3,35.4 15.4,35.6 16.4,36 17.4,36.4 18.5,36.7 20.6,37.4 22.6,38.4 24.7,39.2 26.8,39.1 28.9,38.6 31,38.6 33,38.6 35.1,38.5 37.2,38.3 39.3,37.8 41.4,37.4 43.4,36.9 45.5,36.8 47.6,36.8 49.7,36.9 51.8,37 53.8,37.2 55.9,37 58,36.8 60.1,36.7 62.2,36.9 64.2,36.9 66.3,36.9 68.4,36.8 70.5,36.9 72.6,36.6 74.6,36.6 76.7,36.3 78.8,36.4 80.9,36.5 83,36.8 85,37.1 87.1,37.2 89.2,37 91.3,37.1 93.4,37.2 95.4,37.2 97.5,37.1 99.6,36.7 101.7,36.5 103.8,36.4 105.8,36.8 107.9,36.8 110,36.9 112.1,36.4 114.2,36.5 116.2,36.5 118.3,36.8 120.4,36.6 122.5,36.5"/>
<use href="#F"/></g>
<g class="g" transform="translate(1725.2,239)">
<g clip-path="url(#c)"><path class="bb" d="M10.2,38L14.3,40.1L18.5,44.1L22.6,48L26.8,49.6L31,48.2L35.1,47L39.3,45.7L43.4,44.5L47.6,43.8L51.8,43.2L55.9,43L60.1,42.6L64.2,42.4L68.4,41.7L72.6,41.5L76.7,41.3L80.9,41.6L85,41.8L89.2,41.7L93.4,41.8L97.5,41.4L101.7,41.8L105.8,41.7L110,41.4L114.2,40.5L118.3,39.8L122.5,40.5L122.5,42.8L118.3,43L114.2,42.8L110,43.1L105.8,42.5L101.7,42.6L97.5,42.9L93.4,42.8L89.2,42.5L85,42.7L80.9,43.6L76.7,43.9L72.6,43.9L68.4,43.7L64.2,44L60.1,44.6L55.9,46.5L51.8,48.8L47.6,50.8L43.4,52.3L39.3,53.1L35.1,55.5L31,55.3L26.8,54.6L22.6,49.9L18.5,45.8L14.3,41.5L10.2,38ZM10.2,34.9L14.3,29L18.5,33.1L22.6,35L26.8,33.2L31,32.3L35.1,30.7L39.3,30.3L43.4,29.6L47.6,29.3L51.8,28.7L55.9,29.2L60.1,29.3L64.2,29.4L68.4,29.4L72.6,30.3L76.7,30.6L80.9,30.4L85,29.7L89.2,29.3L93.4,28.9L97.5,29.8L101.7,29.7L105.8,29.9L110,29.9L114.2,29.9L118.3,29.9L122.5,29.5L122.5,31.6L118.3,31.5L114.2,31.1L110,31.2L105.8,31.5L101.7,31.3L97.5,31.5L93.4,31.8L89.2,31.8L85,31.9L80.9,31.2L76.7,31.4L72.6,31.7L68.4,32.4L64.2,33.2L60.1,33.2L55.9,33.6L51.8,34L47.6,34.5L43.4,35.1L39.3,35.8L35.1,36.6L31,37.6L26.8,39L22.6,38.2L18.5,34.4L14.3,30.5L10.2,34.9Z"/><polygon class="ob" points="10.2,34.9 14.3,30.5 18.5,34.4 22.6,38.2 26.8,39 31,37.6 35.1,36.6 39.3,35.8 43.4,35.1 47.6,34.5 51.8,34 55.9,33.6 60.1,33.2 64.2,33.2 68.4,32.4 72.6,31.7 76.7,31.4 80.9,31.2 85,31.9 89.2,31.8 93.4,31.8 97.5,31.5 101.7,31.3 105.8,31.5 110,31.2 114.2,31.1 118.3,31.5 122.5,31.6 122.5,40.5 118.3,39.8 114.2,40.5 110,41.4 105.8,41.7 101.7,41.8 97.5,41.4 93.4,41.8 89.2,41.7 85,41.8 80.9,41.6 76.7,41.3 72.6,41.5 68.4,41.7 64.2,42.4 60.1,42.6 55.9,43 51.8,43.2 47.6,43.8 43.4,44.5 39.3,45.7 35.1,47 31,48.2 26.8,49.6 22.6,48 18.5,44.1 14.3,40.1 10.2,38"/></g>
<use href="#m8"/><use href="#G"/>
<polyline class="ml" clip-path="url(#c)" points="6,84 6.2,46.7 7,39.7 8.1,34.9 9.1,34 10.2,33.9 11.2,33.8 12.2,33.7 13.3,33.7 14.3,34.1 15.4,34.8 16.4,35.9 17.4,37.1 18.5,38.1 20.6,40.2 22.6,42.2 24.7,44 26.8,44 28.9,43.6 31,43 33,42.4 35.1,42.1 37.2,41.7 39.3,41.2 41.4,40.5 43.4,39.7 45.5,39.3 47.6,39.1 49.7,39.2 51.8,38.9 53.8,38.6 55.9,38 58,37.8 60.1,37.8 62.2,37.9 64.2,37.5 66.3,37.2 68.4,37 70.5,37.2 72.6,37.2 74.6,37.2 76.7,37.3 78.8,37.1 80.9,37 83,36.7 85,36.7 87.1,36.5 89.2,36.5 91.3,36.3 93.4,36.2 95.4,36 97.5,36 99.6,36.3 101.7,36.4 103.8,36.3 105.8,36.1 107.9,36.4 110,36.5 112.1,36.6 114.2,36.4 116.2,36 118.3,36 120.4,36.1 122.5,36.2"/>
<use href="#F"/></g>
<g class="g" transform="translate(1904.6,239)">
<g clip-path="url(#c)"><path class="bb" d="M10.2,38.3L14.3,40.6L18.5,43.6L22.6,46.8L26.8,47.2L31,45.9L35.1,44.3L39.3,43.2L43.4,42.6L47.6,42.6L51.8,42.4L55.9,42.3L60.1,41.4L64.2,41L68.4,41.2L72.6,41.8L76.7,41L80.9,40.7L85,40.3L89.2,40.8L93.4,40.3L97.5,40L101.7,39.7L105.8,39.9L110,40.1L114.2,40L118.3,40L122.5,40.1L122.5,40.9L118.3,41.5L114.2,41.9L110,42.5L105.8,42.3L101.7,42.2L97.5,42.2L93.4,42.9L89.2,42.9L85,42.4L80.9,42.6L76.7,43L72.6,43.3L68.4,43.1L64.2,42.8L60.1,42.9L55.9,43.5L51.8,43.8L47.6,44.2L43.4,44.4L39.3,44.6L35.1,45.9L31,47L26.8,49.2L22.6,48L18.5,47.3L14.3,42.5L10.2,38.3ZM10.2,35.2L14.3,28.2L18.5,31.6L22.6,34.4L26.8,34.8L31,33.6L35.1,32L39.3,31.1L43.4,31.2L47.6,31L51.8,31L55.9,30L60.1,29.2L64.2,29.8L68.4,30.3L72.6,29.8L76.7,29.7L80.9,29.1L85,29.5L89.2,29.7L93.4,29.9L97.5,29.9L101.7,29.7L105.8,29.3L110,28.7L114.2,28.5L118.3,28.8L122.5,28.3L122.5,30.6L118.3,30.3L114.2,30.5L110,30.5L105.8,31.1L101.7,30.9L97.5,30.7L93.4,30.7L89.2,30.5L85,30.4L80.9,30.5L76.7,31L72.6,31.4L68.4,31.7L64.2,31.4L60.1,31.4L55.9,31.4L51.8,31.9L47.6,32.9L43.4,33.5L39.3,34.1L35.1,35.3L31,36.7L26.8,38.2L22.6,37.1L18.5,33.7L14.3,30.3L10.2,35.2Z"/><polygon class="ob" points="10.2,35.2 14.3,30.3 18.5,33.7 22.6,37.1 26.8,38.2 31,36.7 35.1,35.3 39.3,34.1 43.4,33.5 47.6,32.9 51.8,31.9 55.9,31.4 60.1,31.4 64.2,31.4 68.4,31.7 72.6,31.4 76.7,31 80.9,30.5 85,30.4 89.2,30.5 93.4,30.7 97.5,30.7 101.7,30.9 105.8,31.1 110,30.5 114.2,30.5 118.3,30.3 122.5,30.6 122.5,40.1 118.3,40 114.2,40 110,40.1 105.8,39.9 101.7,39.7 97.5,40 93.4,40.3 89.2,40.8 85,40.3 80.9,40.7 76.7,41 72.6,41.8 68.4,41.2 64.2,41 60.1,41.4 55.9,42.3 51.8,42.4 47.6,42.6 43.4,42.6 39.3,43.2 35.1,44.3 31,45.9 26.8,47.2 22.6,46.8 18.5,43.6 14.3,40.6 10.2,38.3"/></g>
<use href="#m9"/><use href="#G"/>
<polyline class="ml" clip-path="url(#c)" points="6,84 6.2,46.7 7,39.9 8.1,35.4 9.1,34.5 10.2,34.4 11.2,34.3 12.2,34.2 13.3,34.2 14.3,34.5 15.4,35.1 16.4,36 17.4,36.8 18.5,37.6 20.6,39.2 22.6,41.1 24.7,42.7 26.8,42.4 28.9,41.4 31,40.9 33,40.5 35.1,40 37.2,39.3 39.3,38.4 41.4,38.1 43.4,37.6 45.5,37.5 47.6,37.4 49.7,37.4 51.8,37.5 53.8,37.6 55.9,37.4 58,37.1 60.1,36.9 62.2,37 64.2,36.9 66.3,36.9 68.4,36.6 70.5,36.6 72.6,36.3 74.6,36.2 76.7,35.9 78.8,35.9 80.9,35.9 83,36.1 85,36.4 87.1,36.3 89.2,36.1 91.3,36.2 93.4,36.2 95.4,36.1 97.5,35.9 99.6,35.5 101.7,35.3 103.8,35.1 105.8,35.5 107.9,35.5 110,35.6 112.1,35 114.2,35.1 116.2,35.1 118.3,35.3 120.4,35 122.5,34.9"/>
<use href="#F"/></g>
<g class="g" transform="translate(2084,239)">
<g clip-path="url(#c)"><path class="bb" d="M10.2,38.3L14.3,39.4L18.5,46.1L22.6,47.4L24.7,48.3L26.8,49.3L31,47.6L35.1,45.2L39.3,43.2L43.4,43.4L47.6,43.9L49.7,44L51.8,43.9L55.9,43.5L60.1,43.6L64.2,43.3L68.4,43.6L72.6,43.6L76.7,43L80.9,42.7L85,45.8L89.2,49.4L93.4,53.2L97.5,57L101.7,58.1L105.8,59.7L110,59.1L114.2,58.8L118.3,58.5L120.4,58.4L122.5,56.5L122.5,57.3L120.4,59.5L118.3,59.3L114.2,59.6L110,60L105.8,60.5L101.7,59L97.5,57.9L93.4,54L89.2,50.2L85,46.6L80.9,43.6L76.7,44.6L72.6,44.7L68.4,45.8L64.2,45.3L60.1,46.1L55.9,45.1L51.8,48.9L49.7,50.3L47.6,48.9L43.4,45.9L39.3,45.9L35.1,46L31,48.4L26.8,50.1L24.7,50.8L22.6,50L18.5,47.5L14.3,40.3L10.2,38.3ZM10.2,35.2L14.3,30.5L18.5,33.7L22.6,35.7L24.7,36.7L26.8,35.6L31,34.4L35.1,32.4L39.3,31.4L43.4,31.7L47.6,32.4L49.7,32.3L51.8,32.7L55.9,32.7L60.1,32.4L64.2,32.7L68.4,32.1L72.6,32.1L76.7,31.2L80.9,31.5L85,31.6L89.2,31.7L93.4,31.9L97.5,31.5L101.7,31.4L105.8,31.9L110,31.4L114.2,31L118.3,30.5L120.4,30.3L122.5,29.6L122.5,30.4L120.4,31.1L118.3,31.4L114.2,32.4L110,32.8L105.8,32.7L101.7,32.2L97.5,32.4L93.4,32.7L89.2,32.5L85,32.6L80.9,32.4L76.7,32.8L72.6,32.9L68.4,33.2L64.2,33.7L60.1,33.3L55.9,33.5L51.8,33.5L49.7,33.6L47.6,33.3L43.4,32.6L39.3,32.2L35.1,33.3L31,35.2L26.8,36.5L24.7,37.5L22.6,36.6L18.5,34.7L14.3,31.3L10.2,35.2Z"/><polygon class="ob" points="10.2,35.2 14.3,31.3 18.5,34.7 22.6,36.6 24.7,37.5 26.8,36.5 31,35.2 35.1,33.3 39.3,32.2 43.4,32.6 47.6,33.3 49.7,33.6 51.8,33.5 55.9,33.5 60.1,33.3 64.2,33.7 68.4,33.2 72.6,32.9 76.7,32.8 80.9,32.4 85,32.6 89.2,32.5 93.4,32.7 97.5,32.4 101.7,32.2 105.8,32.7 110,32.8 114.2,32.4 118.3,31.4 120.4,31.1 122.5,30.4 122.5,56.5 120.4,58.4 118.3,58.5 114.2,58.8 110,59.1 105.8,59.7 101.7,58.1 97.5,57 93.4,53.2 89.2,49.4 85,45.8 80.9,42.7 76.7,43 72.6,43.6 68.4,43.6 64.2,43.3 60.1,43.6 55.9,43.5 51.8,43.9 49.7,44 47.6,43.9 43.4,43.4 39.3,43.2 35.1,45.2 31,47.6 26.8,49.3 24.7,48.3 22.6,47.4 18.5,46.1 14.3,39.4 10.2,38.3"/></g>
<use href="#m10"/><use href="#G"/>
<polyline class="ml" clip-path="url(#c)" points="6,84 6.2,46.7 7,39.9 8.1,35.4 9.1,34.5 10.2,34.4 11.2,34.3 12.2,34.2 13.3,34.2 14.3,34.5 15.4,35.1 16.4,36 17.4,36.8 18.5,37.7 20.6,39.3 22.6,41 24.7,42.5 26.8,42.2 28.9,41.3 31,40.2 33,39.2 35.1,38.1 37.2,37.4 39.3,37.4 41.4,37.4 43.4,37.6 45.5,37.7 47.6,37.9 49.7,38 51.8,37.9 53.8,38 55.9,37.9 58,38.1 60.1,38.1 62.2,38.3 64.2,38.2 66.3,38.5 68.4,38.3 70.5,38.1 72.6,37.8 74.6,37.4 76.7,37.6 78.8,37.3 80.9,37.8 83,37.8 85,37.8 87.1,37.6 89.2,37.2 91.3,37.1 93.4,37 95.4,37.1 97.5,37 99.6,36.7 101.7,36.5 103.8,36.7 105.8,36.7 107.9,36.6 110,36.4 112.1,36.3 114.2,36.4 116.2,36.2 118.3,36 120.4,35.9 122.5,35.7"/>
<use href="#F"/></g>
<g class="g" transform="translate(290,356.9)">
<g clip-path="url(#c)"><path class="bb" d="M10.2,37.4L14.3,39.4L18.5,41L22.6,40L26.8,39.3L31,38.8L35.1,38.5L39.3,37.6L43.4,37.5L47.6,37.3L51.8,37.9L55.9,38.3L60.1,38.2L64.2,38.1L68.4,39.4L72.6,41L76.7,41.4L80.9,41.6L85,42.4L89.2,42.8L93.4,43.4L97.5,43.2L101.7,43.2L105.8,43.5L110,43.8L114.2,43.6L118.3,43.1L122.5,42.7L122.5,43.6L118.3,44L114.2,44.5L110,44.6L105.8,44.3L101.7,45.2L97.5,46.4L93.4,48.1L89.2,48.7L85,47.2L80.9,46.2L76.7,45.9L72.6,44.7L68.4,43.6L64.2,41.2L60.1,39L55.9,39.2L51.8,38.7L47.6,38.2L43.4,38.4L39.3,38.5L35.1,39.3L31,39.6L26.8,40.4L22.6,41.4L18.5,42.7L14.3,41.1L10.2,37.4ZM10.2,34.3L14.3,28.9L18.5,30.6L22.6,30.2L26.8,28.9L31,28.1L35.1,27.5L39.3,26.7L43.4,27.1L47.6,26.8L51.8,27L55.9,27.5L60.1,27.5L64.2,28.2L68.4,28.1L72.6,28.3L76.7,28.6L80.9,28.8L85,29.1L89.2,29.6L93.4,30L97.5,30.7L101.7,30.5L105.8,30.1L110,30.5L114.2,30.4L118.3,30.6L122.5,30.5L122.5,31.4L118.3,31.5L114.2,31.3L110,31.6L105.8,31.7L101.7,31.7L97.5,31.5L93.4,30.8L89.2,30.5L85,29.9L80.9,29.9L76.7,29.5L72.6,29.2L68.4,28.9L64.2,29.1L60.1,29L55.9,28.3L51.8,27.9L47.6,27.7L43.4,27.9L39.3,27.6L35.1,28.3L31,29.7L26.8,30.4L22.6,31L18.5,31.5L14.3,29.7L10.2,34.3Z"/><polygon class="ob" points="10.2,34.3 14.3,29.7 18.5,31.5 22.6,31 26.8,30.4 31,29.7 35.1,28.3 39.3,27.6 43.4,27.9 47.6,27.7 51.8,27.9 55.9,28.3 60.1,29 64.2,29.1 68.4,28.9 72.6,29.2 76.7,29.5 80.9,29.9 85,29.9 89.2,30.5 93.4,30.8 97.5,31.5 101.7,31.7 105.8,31.7 110,31.6 114.2,31.3 118.3,31.5 122.5,31.4 122.5,42.7 118.3,43.1 114.2,43.6 110,43.8 105.8,43.5 101.7,43.2 97.5,43.2 93.4,43.4 89.2,42.8 85,42.4 80.9,41.6 76.7,41.4 72.6,41 68.4,39.4 64.2,38.1 60.1,38.2 55.9,38.3 51.8,37.9 47.6,37.3 43.4,37.5 39.3,37.6 35.1,38.5 31,38.8 26.8,39.3 22.6,40 18.5,41 14.3,39.4 10.2,37.4"/></g>
<use href="#m0"/><use href="#G"/>
<polyline class="ml" clip-path="url(#c)" points="6,84 6.2,45 7,38.6 8.1,35.2 9.1,34.5 10.2,34.4 11.2,34.3 12.2,34.2 13.3,34.2 14.3,34.4 15.4,34.8 16.4,35.3 17.4,35.9 18.5,36.2 20.6,36 22.6,35.6 24.7,35.3 26.8,35.1 28.9,34.6 31,33.9 33,33.5 35.1,33.2 37.2,33.1 39.3,32.8 41.4,32.8 43.4,33 45.5,33 47.6,33 49.7,32.7 51.8,32.7 53.8,32.8 55.9,33.2 58,33.3 60.1,33.7 62.2,33.5 64.2,33.6 66.3,33.4 68.4,33.8 70.5,33.9 72.6,33.9 74.6,34.1 76.7,34.3 78.8,34.4 80.9,34.4 83,34.6 85,34.9 87.1,35.2 89.2,35 91.3,35.1 93.4,35.2 95.4,35.7 97.5,35.8 99.6,35.8 101.7,35.6 103.8,35.8 105.8,36 107.9,36.4 110,36.2 112.1,36.3 114.2,36.2 116.2,36.7 118.3,36.7 120.4,36.7 122.5,36.7"/>
<use href="#F"/></g>
<g class="g" transform="translate(469.4,356.9)">
<g clip-path="url(#c)"><path class="bb" d="M10.2,37.1L14.3,39.7L18.5,43.2L22.6,43.9L26.8,43L31,42.4L35.1,43L39.3,43.5L43.4,43.2L47.6,42.5L51.8,42L55.9,41.7L60.1,41.6L64.2,41.2L68.4,42.5L72.6,42L76.7,42.3L80.9,41.9L85,42.1L89.2,42L93.4,41.8L97.5,41.9L101.7,42.5L105.8,42.6L110,43.1L114.2,42.8L118.3,43.2L122.5,42.4L122.5,51.9L118.3,52.7L114.2,53.7L110,55.1L105.8,56.1L101.7,56.7L97.5,56.3L93.4,56.3L89.2,55.8L85,55L80.9,53.2L76.7,49.5L72.6,45.3L68.4,44.3L64.2,43.7L60.1,42.8L55.9,42.8L51.8,42.9L47.6,43.3L43.4,44L39.3,44.4L35.1,44.7L31,45.8L26.8,46L22.6,46.2L18.5,44.2L14.3,40.9L10.2,37.1ZM10.2,34L14.3,28.6L18.5,30.9L22.6,32.7L26.8,32.4L31,32.4L35.1,31.6L39.3,30.5L43.4,30.7L47.6,30.6L51.8,30.6L55.9,30.2L60.1,29.5L64.2,30.7L68.4,30.5L72.6,30.5L76.7,30.6L80.9,30.3L85,30L89.2,29.8L93.4,30.3L97.5,31.3L101.7,30.6L105.8,30.8L110,30.4L114.2,30.7L118.3,30.7L122.5,30.6L122.5,31.9L118.3,31.6L114.2,31.7L110,32L105.8,32.5L101.7,32.2L97.5,32.4L93.4,32.4L89.2,32.8L85,32.5L80.9,32.8L76.7,32.6L72.6,32.7L68.4,32.5L64.2,31.6L60.1,30.7L55.9,31.1L51.8,31.4L47.6,31.5L43.4,32L39.3,32L35.1,32.6L31,33.3L26.8,33.9L22.6,34.4L18.5,31.7L14.3,29.8L10.2,34Z"/><polygon class="ob" points="10.2,34 14.3,29.8 18.5,31.7 22.6,34.4 26.8,33.9 31,33.3 35.1,32.6 39.3,32 43.4,32 47.6,31.5 51.8,31.4 55.9,31.1 60.1,30.7 64.2,31.6 68.4,32.5 72.6,32.7 76.7,32.6 80.9,32.8 85,32.5 89.2,32.8 93.4,32.4 97.5,32.4 101.7,32.2 105.8,32.5 110,32 114.2,31.7 118.3,31.6 122.5,31.9 122.5,42.4 118.3,43.2 114.2,42.8 110,43.1 105.8,42.6 101.7,42.5 97.5,41.9 93.4,41.8 89.2,42 85,42.1 80.9,41.9 76.7,42.3 72.6,42 68.4,42.5 64.2,41.2 60.1,41.6 55.9,41.7 51.8,42 47.6,42.5 43.4,43.2 39.3,43.5 35.1,43 31,42.4 26.8,43 22.6,43.9 18.5,43.2 14.3,39.7 10.2,37.1"/></g>
<use href="#m1"/><use href="#G"/>
<polyline class="ml" clip-path="url(#c)" points="6,84 6.2,44.9 7,38.4 8.1,34.7 9.1,34 10.2,33.9 11.2,33.8 12.2,33.7 13.3,33.7 14.3,33.9 15.4,34.4 16.4,35.1 17.4,35.7 18.5,36.4 20.6,37.8 22.6,38.8 24.7,38.9 26.8,38.3 28.9,38.3 31,38 33,38.1 35.1,37.8 37.2,37.5 39.3,36.8 41.4,36.6 43.4,36.7 45.5,36.8 47.6,36.6 49.7,36 51.8,35.9 53.8,35.8 55.9,35.9 58,35.7 60.1,35.6 62.2,36.2 64.2,36.8 66.3,37.4 68.4,37.8 70.5,37.7 72.6,37.4 74.6,37.3 76.7,37.3 78.8,37.4 80.9,37.5 83,37.2 85,37.2 87.1,37.3 89.2,37.5 91.3,37.2 93.4,37.1 95.4,37.1 97.5,37 99.6,36.9 101.7,36.9 103.8,37.2 105.8,36.8 107.9,36.7 110,36.7 112.1,36.7 114.2,36.8 116.2,36.8 118.3,36.7 120.4,36.8 122.5,36.7"/>
<use href="#F"/></g>
<g class="g" transform="translate(648.8,356.9)">
<g clip-path="url(#c)"><path class="bb" d="M10.2,36.5L14.3,40.6L18.5,42L22.6,41.2L26.8,41.1L31,41.2L35.1,41.3L39.3,41L43.4,41.2L47.6,41.5L51.8,41.8L55.9,42L60.1,41.7L64.2,41.5L68.4,40.8L72.6,40.6L76.7,40.5L80.9,41L85,42L89.2,41.8L93.4,41.5L97.5,40.7L101.7,41L105.8,41.4L110,40.9L114.2,40.9L118.3,41.4L122.5,42L122.5,44.5L118.3,44.1L114.2,43.3L110,43.4L105.8,43.6L101.7,43.6L97.5,43.1L93.4,42.4L89.2,42.9L85,42.8L80.9,42.9L76.7,42.5L72.6,42.7L68.4,42.6L64.2,42.7L60.1,42.6L55.9,42.8L51.8,43.2L47.6,44.4L43.4,44.5L39.3,44.6L35.1,44.4L31,44.2L26.8,43.6L22.6,43.3L18.5,43.2L14.3,41.4L10.2,36.5ZM10.2,33.4L14.3,28.7L18.5,29.5L22.6,29.7L26.8,29.7L31,30.1L35.1,30.7L39.3,30.5L43.4,30.2L47.6,30.3L51.8,30.2L55.9,30.5L60.1,29.9L64.2,29.6L68.4,29.5L72.6,29.5L76.7,29.7L80.9,30L85,29.9L89.2,29.6L93.4,29.7L97.5,29.9L101.7,29.9L105.8,29.5L110,29.7L114.2,30.1L118.3,30.6L122.5,30.1L122.5,31.8L118.3,32.2L114.2,32.6L110,32L105.8,31.8L101.7,31.1L97.5,31.3L93.4,31.2L89.2,31.7L85,32.6L80.9,32.5L76.7,32L72.6,31L68.4,30.8L64.2,31L60.1,31.2L55.9,31.4L51.8,31.1L47.6,31.4L43.4,31.5L39.3,31.9L35.1,32.1L31,32.1L26.8,32.4L22.6,31.9L18.5,32.4L14.3,30.8L10.2,33.4Z"/><polygon class="ob" points="10.2,33.4 14.3,30.8 18.5,32.4 22.6,31.9 26.8,32.4 31,32.1 35.1,32.1 39.3,31.9 43.4,31.5 47.6,31.4 51.8,31.1 55.9,31.4 60.1,31.2 64.2,31 68.4,30.8 72.6,31 76.7,32 80.9,32.5 85,32.6 89.2,31.7 93.4,31.2 97.5,31.3 101.7,31.1 105.8,31.8 110,32 114.2,32.6 118.3,32.2 122.5,31.8 122.5,42 118.3,41.4 114.2,40.9 110,40.9 105.8,41.4 101.7,41 97.5,40.7 93.4,41.5 89.2,41.8 85,42 80.9,41 76.7,40.5 72.6,40.6 68.4,40.8 64.2,41.5 60.1,41.7 55.9,42 51.8,41.8 47.6,41.5 43.4,41.2 39.3,41 35.1,41.3 31,41.2 26.8,41.1 22.6,41.2 18.5,42 14.3,40.6 10.2,36.5"/></g>
<use href="#m2"/><use href="#G"/>
<polyline class="ml" clip-path="url(#c)" points="6,84 6.2,45 7,38.6 8.1,35.2 9.1,34.5 10.2,34.3 11.2,34.3 12.2,34.2 13.3,34.4 14.3,34.7 15.4,35.2 16.4,35.7 17.4,36.1 18.5,36.6 20.6,37 22.6,37.1 24.7,36.8 26.8,36.5 28.9,36.3 31,36.3 33,36.5 35.1,36.9 37.2,36.7 39.3,36.5 41.4,36.3 43.4,36.5 45.5,36.5 47.6,36.3 49.7,36.2 51.8,36.2 53.8,36.6 55.9,36.7 58,36.9 60.1,36.8 62.2,37 64.2,37 66.3,37 68.4,36.8 70.5,36.6 72.6,36.6 74.6,36.4 76.7,36.5 78.8,36.3 80.9,36.2 83,36.4 85,36.6 87.1,36.6 89.2,36.4 91.3,36.3 93.4,36.7 95.4,36.7 97.5,36.8 99.6,36.5 101.7,36.5 103.8,36.5 105.8,36.6 107.9,36.7 110,36.6 112.1,36.7 114.2,36.7 116.2,36.7 118.3,36.3 120.4,36.3 122.5,36.5"/>
<use href="#F"/></g>
<g class="g" transform="translate(828.2,356.9)">
<g clip-path="url(#c)"><path class="bb" d="M10.2,37.9L14.3,39.7L18.5,42.7L22.6,43.2L26.8,42.5L31,40.9L35.1,39.9L39.3,39L43.4,38.9L47.6,38.4L51.8,38.3L55.9,38.3L60.1,38.7L64.2,38.8L68.4,39.2L72.6,39.7L76.7,40.1L80.9,40.7L85,40.9L89.2,41.4L93.4,41.6L97.5,41.7L101.7,41.5L105.8,40.9L110,40.3L114.2,40.5L118.3,40.5L122.5,40.3L122.5,41.2L118.3,41.7L114.2,42.3L110,42.5L105.8,42.1L101.7,42.4L97.5,42.6L93.4,42.4L89.2,42.2L85,41.8L80.9,41.6L76.7,42L72.6,41.5L68.4,40.5L64.2,39.7L60.1,39.6L55.9,39.2L51.8,39.1L47.6,39.2L43.4,39.7L39.3,41L35.1,42L31,42.5L26.8,43.3L22.6,44L18.5,43.6L14.3,40.7L10.2,37.9ZM10.2,34.7L14.3,29.1L18.5,31.3L22.6,32.3L26.8,31.3L31,30.3L35.1,28.9L39.3,28.4L43.4,28.3L47.6,28L51.8,28L55.9,28.4L60.1,28.6L64.2,28.7L68.4,29L72.6,29.4L76.7,29.8L80.9,29.6L85,29.6L89.2,30.4L93.4,30.4L97.5,30.5L101.7,29.9L105.8,30.2L110,29.7L114.2,30L118.3,29.7L122.5,30.2L122.5,31.1L118.3,30.6L114.2,30.8L110,30.6L105.8,31L101.7,30.8L97.5,31.4L93.4,31.2L89.2,31.3L85,30.5L80.9,30.4L76.7,30.6L72.6,30.4L68.4,30.2L64.2,29.6L60.1,29.6L55.9,29.2L51.8,28.8L47.6,28.9L43.4,29.2L39.3,29.6L35.1,30.4L31,31.4L26.8,32.1L22.6,33.1L18.5,32.2L14.3,29.9L10.2,34.7Z"/><polygon class="ob" points="10.2,34.7 14.3,29.9 18.5,32.2 22.6,33.1 26.8,32.1 31,31.4 35.1,30.4 39.3,29.6 43.4,29.2 47.6,28.9 51.8,28.8 55.9,29.2 60.1,29.6 64.2,29.6 68.4,30.2 72.6,30.4 76.7,30.6 80.9,30.4 85,30.5 89.2,31.3 93.4,31.2 97.5,31.4 101.7,30.8 105.8,31 110,30.6 114.2,30.8 118.3,30.6 122.5,31.1 122.5,40.3 118.3,40.5 114.2,40.5 110,40.3 105.8,40.9 101.7,41.5 97.5,41.7 93.4,41.6 89.2,41.4 85,40.9 80.9,40.7 76.7,40.1 72.6,39.7 68.4,39.2 64.2,38.8 60.1,38.7 55.9,38.3 51.8,38.3 47.6,38.4 43.4,38.9 39.3,39 35.1,39.9 31,40.9 26.8,42.5 22.6,43.2 18.5,42.7 14.3,39.7 10.2,37.9"/></g>
<use href="#m3"/><use href="#G"/>
<polyline class="ml" clip-path="url(#c)" points="6,84 6.2,45.8 7,39.2 8.1,35.3 9.1,34.5 10.2,34.4 11.2,34.3 12.2,34.2 13.3,34.2 14.3,34.5 15.4,35 16.4,35.8 17.4,36.6 18.5,37.2 20.6,38.2 22.6,37.9 24.7,37.6 26.8,37.3 28.9,37.1 31,36.1 33,35.1 35.1,34.5 37.2,34.4 39.3,34.4 41.4,34.3 43.4,34.2 45.5,34.4 47.6,34.4 49.7,34.3 51.8,34.1 53.8,34.4 55.9,34.1 58,34 60.1,33.8 62.2,34.2 64.2,34.4 66.3,34.4 68.4,34.5 70.5,34.5 72.6,34.7 74.6,34.8 76.7,34.9 78.8,34.9 80.9,35.2 83,35.6 85,35.9 87.1,36 89.2,36 91.3,36.1 93.4,36.1 95.4,36 97.5,36 99.6,36 101.7,36.3 103.8,36.1 105.8,36.1 107.9,35.6 110,35.6 112.1,35.4 114.2,35.6 116.2,35.7 118.3,36 120.4,36 122.5,36.1"/>
<use href="#F"/></g>
<g class="g" transform="translate(1007.6,356.9)">
<g clip-path="url(#c)"><path class="bb" d="M10.2,37.4L14.3,39.9L18.5,43.2L22.6,45.6L26.8,44.4L31,42.6L35.1,41.5L39.3,40.5L43.4,39.9L47.6,38.8L51.8,37.8L55.9,38.7L60.1,39.3L64.2,40L68.4,39.9L72.6,40.2L76.7,41.1L80.9,41.3L85,43.5L89.2,44.7L93.4,46.5L97.5,46.9L101.7,47.6L105.8,48.7L110,48.8L114.2,49.2L118.3,49.3L122.5,48.8L122.5,50.5L118.3,51.4L114.2,51.3L110,51.7L105.8,50.7L101.7,50.9L97.5,50.5L93.4,51L89.2,51.6L85,51L80.9,50.1L76.7,48.8L72.6,48.5L68.4,47.2L64.2,46.1L60.1,44.5L55.9,40.8L51.8,39.4L47.6,40L43.4,41.2L39.3,42.6L35.1,43.6L31,44.7L26.8,45.3L22.6,46.6L18.5,44L14.3,41.6L10.2,37.4ZM10.2,34.3L14.3,28.3L18.5,31.5L22.6,33.7L26.8,32.7L31,31.3L35.1,30L39.3,29.2L43.4,28.4L47.6,27L51.8,26.6L55.9,27.1L60.1,28.2L64.2,28.4L68.4,28.4L72.6,29.7L76.7,30.3L80.9,31L85,30.5L89.2,31L93.4,31.4L97.5,31.5L101.7,31.3L105.8,31.5L110,32.3L114.2,32.3L118.3,33.3L122.5,33.8L122.5,36L118.3,35.4L114.2,35.1L110,34.7L105.8,34.8L101.7,34.1L97.5,33.8L93.4,33.2L89.2,32.9L85,32.5L80.9,32.1L76.7,31.7L72.6,31.7L68.4,31.4L64.2,31.4L60.1,30.5L55.9,30L51.8,28.4L47.6,29.3L43.4,30.1L39.3,31.3L35.1,32.1L31,33.3L26.8,34.9L22.6,36.1L18.5,33.3L14.3,30.7L10.2,34.3Z"/><polygon class="ob" points="10.2,34.3 14.3,30.7 18.5,33.3 22.6,36.1 26.8,34.9 31,33.3 35.1,32.1 39.3,31.3 43.4,30.1 47.6,29.3 51.8,28.4 55.9,30 60.1,30.5 64.2,31.4 68.4,31.4 72.6,31.7 76.7,31.7 80.9,32.1 85,32.5 89.2,32.9 93.4,33.2 97.5,33.8 101.7,34.1 105.8,34.8 110,34.7 114.2,35.1 118.3,35.4 122.5,36 122.5,48.8 118.3,49.3 114.2,49.2 110,48.8 105.8,48.7 101.7,47.6 97.5,46.9 93.4,46.5 89.2,44.7 85,43.5 80.9,41.3 76.7,41.1 72.6,40.2 68.4,39.9 64.2,40 60.1,39.3 55.9,38.7 51.8,37.8 47.6,38.8 43.4,39.9 39.3,40.5 35.1,41.5 31,42.6 26.8,44.4 22.6,45.6 18.5,43.2 14.3,39.9 10.2,37.4"/></g>
<use href="#m4"/><use href="#G"/>
<polyline class="ml" clip-path="url(#c)" points="6,84 6.2,45 7,38.6 8.1,35.2 9.1,34.5 10.2,34.4 11.2,34.3 12.2,34.2 13.3,34.2 14.3,34.5 15.4,35 16.4,35.8 17.4,36.6 18.5,37.5 20.6,39.4 22.6,40.8 24.7,40.1 26.8,39.1 28.9,38.4 31,38.1 33,37.5 35.1,36.8 37.2,35.9 39.3,35.5 41.4,35.3 43.4,35.1 45.5,34.8 47.6,34.3 49.7,34 51.8,33.5 53.8,33.8 55.9,34 58,34.3 60.1,34.6 62.2,35.2 64.2,35.4 66.3,35.8 68.4,36 70.5,36.4 72.6,36.3 74.6,36.5 76.7,36.8 78.8,37.1 80.9,37.2 83,37.2 85,37.3 87.1,37.2 89.2,37.4 91.3,37.5 93.4,37.9 95.4,38.3 97.5,38.6 99.6,38.7 101.7,38.8 103.8,38.7 105.8,38.6 107.9,38.8 110,39.2 112.1,40 114.2,40 116.2,40 118.3,39.9 120.4,40.1 122.5,40.4"/>
<use href="#F"/></g>
<g class="g" transform="translate(1187,356.9)">
<g clip-path="url(#c)"><path class="bb" d="M10.2,37.4L14.3,39.7L16.4,41L18.5,42.6L22.6,45.6L26.8,43.7L31,41.3L35.1,39.1L39.3,37.9L43.4,37.4L47.6,38.2L51.8,39.4L55.9,40.6L60.1,41.4L64.2,41.7L68.4,42.2L72.6,42.8L76.7,43.4L80.9,43L85,43L89.2,43L93.4,43.5L97.5,43.9L101.7,44.1L105.8,43.9L110,43.6L114.2,43.9L118.3,43.8L122.5,43.8L122.5,60.1L118.3,62.6L114.2,61.6L110,61.7L105.8,61.4L101.7,61.7L97.5,61.9L93.4,59.7L89.2,57.6L85,53L80.9,49.7L76.7,46.4L72.6,44.2L68.4,43.2L64.2,42.5L60.1,42.2L55.9,41.8L51.8,42.8L47.6,43.4L43.4,44L39.3,46.3L35.1,48.3L31,47.6L26.8,47.3L22.6,46.8L18.5,44L16.4,42.4L14.3,41.9L10.2,37.4ZM10.2,34.3L14.3,28.9L16.4,30.6L18.5,31.5L22.6,33.8L26.8,29.8L31,30.3L35.1,28.4L39.3,27.8L43.4,26.9L47.6,27.6L51.8,28.1L55.9,28.8L60.1,29.5L64.2,30.7L68.4,30.7L72.6,31L76.7,31.7L80.9,31.4L85,30.9L89.2,30.7L93.4,30.9L97.5,31.9L101.7,31.1L105.8,30.2L110,29.6L114.2,30L118.3,30.5L122.5,29.8L122.5,34.4L118.3,34.5L114.2,34.4L110,34.3L105.8,34.1L101.7,34.4L97.5,34.5L93.4,34.9L89.2,34.4L85,34.3L80.9,33.4L76.7,33L72.6,32.8L68.4,32.7L64.2,32.6L60.1,31.7L55.9,30.5L51.8,29.6L47.6,28.7L43.4,28L39.3,28.7L35.1,29.2L31,31.3L26.8,33.3L22.6,35.3L18.5,32.8L16.4,32.1L14.3,31.2L10.2,34.3Z"/><polygon class="ob" points="10.2,34.3 14.3,31.2 16.4,32.1 18.5,32.8 22.6,35.3 26.8,33.3 31,31.3 35.1,29.2 39.3,28.7 43.4,28 47.6,28.7 51.8,29.6 55.9,30.5 60.1,31.7 64.2,32.6 68.4,32.7 72.6,32.8 76.7,33 80.9,33.4 85,34.3 89.2,34.4 93.4,34.9 97.5,34.5 101.7,34.4 105.8,34.1 110,34.3 114.2,34.4 118.3,34.5 122.5,34.4 122.5,43.8 118.3,43.8 114.2,43.9 110,43.6 105.8,43.9 101.7,44.1 97.5,43.9 93.4,43.5 89.2,43 85,43 80.9,43 76.7,43.4 72.6,42.8 68.4,42.2 64.2,41.7 60.1,41.4 55.9,40.6 51.8,39.4 47.6,38.2 43.4,37.4 39.3,37.9 35.1,39.1 31,41.3 26.8,43.7 22.6,45.6 18.5,42.6 16.4,41 14.3,39.7 10.2,37.4"/></g>
<use href="#m5"/><use href="#G"/>
<polyline class="ml" clip-path="url(#c)" points="6,84 6.2,45 7,38.6 8.1,35.2 9.1,34.5 10.2,34.4 11.2,34.3 12.2,34.2 13.3,34.2 14.3,34.5 15.4,35 16.4,35.7 17.4,36.5 18.5,37.4 20.6,39 22.6,39.8 24.7,39 26.8,38.1 28.9,37.5 31,36.7 33,35.8 35.1,34.9 37.2,34.2 39.3,33.7 41.4,33.2 43.4,33 45.5,33 47.6,33.5 49.7,33.9 51.8,34.5 53.8,34.9 55.9,35.1 58,35.6 60.1,36 62.2,36.8 64.2,37.1 66.3,37.5 68.4,37.4 70.5,37.6 72.6,37.6 74.6,37.8 76.7,38 78.8,37.9 80.9,38.1 83,38.1 85,38.4 87.1,38.8 89.2,39 91.3,39.2 93.4,39.2 95.4,39.3 97.5,39.1 99.6,39.1 101.7,39.2 103.8,39.4 105.8,39.5 107.9,39.3 110,39.2 112.1,39.2 114.2,39.1 116.2,39.1 118.3,39.1 120.4,39.1 122.5,38.9"/>
<use href="#F"/></g>
<g class="g" transform="translate(1366.4,356.9)">
<g clip-path="url(#c)"><path class="bb" d="M10.2,38.5L14.3,41.3L18.5,43.7L22.6,45.4L26.8,45.5L31,44.2L35.1,42.9L39.3,41.5L43.4,39.9L47.6,39.1L51.8,38.6L55.9,38.5L60.1,38.7L64.2,38.6L68.4,38.4L72.6,38.8L76.7,39.3L80.9,40.4L85,40.8L89.2,41.1L93.4,41.3L97.5,42L101.7,42.5L105.8,43.6L110,43.9L114.2,44.8L118.3,45.3L122.5,44.7L122.5,62.4L118.3,60.2L114.2,57.8L110,53.9L105.8,50.7L101.7,48.1L97.5,45.5L93.4,43.5L89.2,43.1L85,42.3L80.9,42.3L76.7,41.4L72.6,41.9L68.4,41L64.2,41L60.1,40.6L55.9,41.1L51.8,40.6L47.6,41.1L43.4,42.1L39.3,43.4L35.1,44L31,45L26.8,46.3L22.6,46.5L18.5,45.4L14.3,44.1L10.2,38.5ZM10.2,35.3L14.3,29.7L18.5,31L22.6,33.1L26.8,33.3L31,32.1L35.1,31.5L39.3,30.1L43.4,29.4L47.6,28.2L51.8,27.5L55.9,27.2L60.1,27.3L64.2,27.4L68.4,27.3L72.6,28.4L76.7,28.4L80.9,28.6L85,28.4L89.2,29.6L93.4,30.5L97.5,31.4L101.7,31.2L105.8,30.8L110,30.6L114.2,30.7L118.3,30.5L122.5,30.6L122.5,31.8L118.3,32.1L114.2,32.3L110,32.3L105.8,32.6L101.7,32.5L97.5,32.7L93.4,32.3L89.2,31.8L85,30.9L80.9,29.9L76.7,29.6L72.6,30.1L68.4,30.3L64.2,30L60.1,29.3L55.9,28.9L51.8,29.3L47.6,30.5L43.4,31.3L39.3,31.9L35.1,32.7L31,34.3L26.8,35.8L22.6,35.5L18.5,33.8L14.3,31.4L10.2,35.3Z"/><polygon class="ob" points="10.2,35.3 14.3,31.4 18.5,33.8 22.6,35.5 26.8,35.8 31,34.3 35.1,32.7 39.3,31.9 43.4,31.3 47.6,30.5 51.8,29.3 55.9,28.9 60.1,29.3 64.2,30 68.4,30.3 72.6,30.1 76.7,29.6 80.9,29.9 85,30.9 89.2,31.8 93.4,32.3 97.5,32.7 101.7,32.5 105.8,32.6 110,32.3 114.2,32.3 118.3,32.1 122.5,31.8 122.5,44.7 118.3,45.3 114.2,44.8 110,43.9 105.8,43.6 101.7,42.5 97.5,42 93.4,41.3 89.2,41.1 85,40.8 80.9,40.4 76.7,39.3 72.6,38.8 68.4,38.4 64.2,38.6 60.1,38.7 55.9,38.5 51.8,38.6 47.6,39.1 43.4,39.9 39.3,41.5 35.1,42.9 31,44.2 26.8,45.5 22.6,45.4 18.5,43.7 14.3,41.3 10.2,38.5"/></g>
<use href="#m6"/><use href="#G"/>
<polyline class="ml" clip-path="url(#c)" points="6,84 6.2,45.9 7,39.6 8.1,36.2 9.1,35.6 10.2,35.4 11.2,35.4 12.2,35.3 13.3,35.3 14.3,35.5 15.4,35.9 16.4,36.4 17.4,37.1 18.5,37.6 20.6,39 22.6,40.3 24.7,41.4 26.8,40.9 28.9,40.1 31,39.3 33,38.6 35.1,38 37.2,37.6 39.3,37.1 41.4,36.6 43.4,35.9 45.5,35.4 47.6,35.2 49.7,35 51.8,34.7 53.8,34.3 55.9,34.2 58,34.3 60.1,34.6 62.2,34.4 64.2,34.6 66.3,34.5 68.4,34.5 70.5,34.4 72.6,34.4 74.6,34.6 76.7,34.8 78.8,35.2 80.9,35.6 83,35.8 85,35.9 87.1,36.4 89.2,36.9 91.3,37.2 93.4,37 95.4,37 97.5,37.2 99.6,37.5 101.7,37.5 103.8,37.4 105.8,37.2 107.9,37.1 110,37 112.1,36.9 114.2,36.7 116.2,36.8 118.3,36.9 120.4,37 122.5,36.6"/>
<use href="#F"/></g>
<g class="g" transform="translate(1545.8,356.9)">
<g clip-path="url(#c)"><path class="bb" d="M10.2,38.8L14.3,42.1L18.5,44.6L22.6,47.3L26.8,46.5L31,44.2L35.1,41.1L39.3,41.4L43.4,40.6L47.6,40L49.7,40.1L51.8,40.1L55.9,41.1L60.1,40.6L64.2,41L68.4,40.7L72.6,41.4L76.7,40.9L80.9,42.1L85,41.6L89.2,42.3L93.4,42.4L97.5,43.6L101.7,43.6L105.8,43.3L110,42.9L114.2,42.6L118.3,42.4L122.5,42.8L122.5,44.4L118.3,44.7L114.2,44.3L110,44.5L105.8,44.2L101.7,45L97.5,44.7L93.4,44.4L89.2,43.7L85,43L80.9,43L76.7,42.9L72.6,43.1L68.4,43L64.2,42.9L60.1,42.9L55.9,42.4L51.8,42.3L49.7,42.4L47.6,45.4L43.4,50.6L39.3,51.4L35.1,52.2L31,51.2L26.8,51.3L22.6,49.2L18.5,47L14.3,43L10.2,38.8ZM10.2,35.6L14.3,31.2L18.5,33.8L22.6,36.8L26.8,36.1L31,33.5L35.1,30.1L39.3,29.7L43.4,29.7L47.6,29.7L49.7,29.5L51.8,29.9L55.9,30.3L60.1,29.9L64.2,29.6L68.4,29.5L72.6,30.5L76.7,30.7L80.9,30.9L85,31.3L89.2,31.6L93.4,32.2L97.5,31.4L101.7,30.8L105.8,31L110,31.5L114.2,32.4L118.3,32.3L122.5,32.3L122.5,34L118.3,33.7L114.2,33.6L110,32.9L105.8,32.9L101.7,33L97.5,33.5L93.4,33.5L89.2,33L85,32.2L80.9,31.9L76.7,31.5L72.6,31.3L68.4,30.4L64.2,30.5L60.1,30.7L55.9,31.2L51.8,31.2L49.7,30.9L47.6,30.9L43.4,31.1L39.3,32L35.1,32.2L31,35.4L26.8,37.7L22.6,37.9L18.5,34.7L14.3,32L10.2,35.6Z"/><polygon class="ob" points="10.2,35.6 14.3,32 18.5,34.7 22.6,37.9 26.8,37.7 31,35.4 35.1,32.2 39.3,32 43.4,31.1 47.6,30.9 49.7,30.9 51.8,31.2 55.9,31.2 60.1,30.7 64.2,30.5 68.4,30.4 72.6,31.3 76.7,31.5 80.9,31.9 85,32.2 89.2,33 93.4,33.5 97.5,33.5 101.7,33 105.8,32.9 110,32.9 114.2,33.6 118.3,33.7 122.5,34 122.5,42.8 118.3,42.4 114.2,42.6 110,42.9 105.8,43.3 101.7,43.6 97.5,43.6 93.4,42.4 89.2,42.3 85,41.6 80.9,42.1 76.7,40.9 72.6,41.4 68.4,40.7 64.2,41 60.1,40.6 55.9,41.1 51.8,40.1 49.7,40.1 47.6,40 43.4,40.6 39.3,41.4 35.1,41.1 31,44.2 26.8,46.5 22.6,47.3 18.5,44.6 14.3,42.1 10.2,38.8"/></g>
<use href="#m7"/><use href="#G"/>
<polyline class="ml" clip-path="url(#c)" points="6,84 6.2,45.9 7,39.8 8.1,36.7 9.1,36.1 10.2,36 11.2,35.9 12.2,35.8 13.3,35.8 14.3,36.1 15.4,36.7 16.4,37.5 17.4,38.2 18.5,38.7 20.6,40.1 22.6,41.5 24.7,42.6 26.8,41.7 28.9,40.5 31,39.2 33,38.1 35.1,36.6 37.2,36.4 39.3,35.9 41.4,36 43.4,35.6 45.5,35.8 47.6,35.9 49.7,36 51.8,35.8 53.8,35.5 55.9,35.8 58,36 60.1,36.4 62.2,36 64.2,36.1 66.3,35.8 68.4,36.3 70.5,36.4 72.6,36.9 74.6,36.8 76.7,36.8 78.8,36.8 80.9,37.3 83,37.4 85,37.6 87.1,37.6 89.2,37.9 91.3,38.1 93.4,38.3 95.4,38.3 97.5,38 99.6,38.3 101.7,38.2 103.8,38.2 105.8,37.9 107.9,38.1 110,38.6 112.1,38.7 114.2,38.4 116.2,37.9 118.3,38.1 120.4,38.1 122.5,38.2"/>
<use href="#F"/></g>
<g class="b" transform="translate(1725.2,356.9)">
<g clip-path="url(#c)"><path class="bb" d="M10.2,38L14.3,39.5L18.5,42.9L22.6,46.5L26.8,47.4L31,45.4L35.1,43L39.3,40.2L43.4,39.7L47.6,38.9L51.8,38.5L55.9,37.8L60.1,38.5L64.2,38.7L68.4,38.4L72.6,38.5L76.7,38.4L80.9,39.6L85,40.1L89.2,42L93.4,42.8L97.5,43.5L101.7,43.2L105.8,43.3L110,43.6L114.2,43.6L118.3,43.1L122.5,42.3L122.5,49L118.3,50.4L114.2,51.6L110,51.9L105.8,52.1L101.7,52.5L97.5,50.5L93.4,49L89.2,45.6L85,43.3L80.9,42.7L76.7,42.6L72.6,41.2L68.4,40.2L64.2,39.6L60.1,39.6L55.9,39.4L51.8,40.3L47.6,40.6L43.4,41.2L39.3,41.5L35.1,44.4L31,46.7L26.8,48.4L22.6,47.9L18.5,44.1L14.3,41.4L10.2,38ZM10.2,34.9L14.3,28.6L18.5,32.1L22.6,32.8L26.8,31.8L31,31.1L35.1,29.2L39.3,29L43.4,28.3L47.6,28.5L51.8,28L55.9,26.9L60.1,26.7L64.2,27L68.4,27.1L72.6,27.7L76.7,28.3L80.9,29.3L85,30L89.2,30.3L93.4,30.6L97.5,31.5L101.7,32.1L105.8,32.9L110,32L114.2,31.7L118.3,31L122.5,32L122.5,33.9L118.3,34.1L114.2,33.9L110,34.4L105.8,33.9L101.7,33.4L97.5,32.5L93.4,32.3L89.2,31.9L85,31.5L80.9,30.8L76.7,30.6L72.6,29.9L68.4,29.7L64.2,28.9L60.1,28.9L55.9,28.1L51.8,28.8L47.6,29.4L43.4,30.1L39.3,30.6L35.1,33L31,35.4L26.8,37.7L22.6,36.7L18.5,32.9L14.3,30.1L10.2,34.9Z"/><polygon class="ob" points="10.2,34.9 14.3,30.1 18.5,32.9 22.6,36.7 26.8,37.7 31,35.4 35.1,33 39.3,30.6 43.4,30.1 47.6,29.4 51.8,28.8 55.9,28.1 60.1,28.9 64.2,28.9 68.4,29.7 72.6,29.9 76.7,30.6 80.9,30.8 85,31.5 89.2,31.9 93.4,32.3 97.5,32.5 101.7,33.4 105.8,33.9 110,34.4 114.2,33.9 118.3,34.1 122.5,33.9 122.5,42.3 118.3,43.1 114.2,43.6 110,43.6 105.8,43.3 101.7,43.2 97.5,43.5 93.4,42.8 89.2,42 85,40.1 80.9,39.6 76.7,38.4 72.6,38.5 68.4,38.4 64.2,38.7 60.1,38.5 55.9,37.8 51.8,38.5 47.6,38.9 43.4,39.7 39.3,40.2 35.1,43 31,45.4 26.8,47.4 22.6,46.5 18.5,42.9 14.3,39.5 10.2,38"/></g>
<use href="#m8"/><use href="#G"/>
<polyline class="ml" clip-path="url(#c)" points="6,84 6.2,46.7 7,39.7 8.1,34.9 9.1,34 10.2,33.9 11.2,33.8 12.2,33.7 13.3,33.7 14.3,34 15.4,34.7 16.4,35.6 17.4,36.7 18.5,37.6 20.6,39.9 22.6,41.8 24.7,43.3 26.8,42.5 28.9,41.4 31,40.3 33,38.9 35.1,37.5 37.2,36.3 39.3,35.4 41.4,35.2 43.4,34.8 45.5,34.4 47.6,33.8 49.7,33.5 51.8,33.5 53.8,33.4 55.9,33.1 58,32.9 60.1,33.1 62.2,33.4 64.2,33.6 66.3,33.5 68.4,33.9 70.5,34.2 72.6,34.8 74.6,34.9 76.7,35 78.8,35 80.9,35.2 83,35.5 85,36 87.1,36.4 89.2,36.9 91.3,37 93.4,36.6 95.4,36.5 97.5,36.6 99.6,37.3 101.7,37.7 103.8,37.8 105.8,37.9 107.9,38 110,38.2 112.1,38.3 114.2,38.3 116.2,38.5 118.3,38.5 120.4,38.2 122.5,38.5"/>
<use href="#F"/></g>
<g class="b" transform="translate(1904.6,356.9)">
<g clip-path="url(#c)"><path class="bb" d="M10.2,38.6L14.3,39.9L18.5,42.2L22.6,44.4L26.8,44L31,40.8L35.1,37.5L39.3,37.2L43.4,37L47.6,37.2L51.8,37.3L55.9,36.9L60.1,36.6L64.2,37.1L68.4,38.1L72.6,38.6L76.7,39.3L80.9,40L85,40.2L89.2,40.3L93.4,41.2L97.5,42.6L101.7,44.2L105.8,45.3L110,47.4L114.2,48.2L118.3,49.9L120.4,48.7L122.5,48L122.5,67.1L120.4,68L118.3,65.7L114.2,61.3L110,57.9L105.8,55L101.7,52L97.5,49.5L93.4,47L89.2,43.6L85,42.1L80.9,41.4L76.7,41L72.6,40.3L68.4,39.2L64.2,38.7L60.1,38.7L55.9,39.1L51.8,38.9L47.6,38.8L43.4,38.5L39.3,38.9L35.1,39.3L31,43.4L26.8,47.6L22.6,46.9L18.5,45L14.3,42.4L10.2,38.6ZM10.2,35.5L14.3,27.9L18.5,30L22.6,32.3L26.8,32.1L31,29.4L35.1,26.7L39.3,26.6L43.4,26.1L47.6,26.5L51.8,26.7L55.9,26.5L60.1,25.4L64.2,25.6L68.4,26.5L72.6,27.3L76.7,28.1L80.9,28.1L85,28.3L89.2,28.2L93.4,29.3L97.5,29.5L101.7,29.9L105.8,28.8L110,29.3L114.2,29.2L118.3,29.9L120.4,30L122.5,30.1L122.5,33.2L120.4,33.3L118.3,33.3L114.2,33.1L110,32.6L105.8,31.5L101.7,31.5L97.5,31.1L93.4,31.2L89.2,30.5L85,30.3L80.9,30L76.7,29.1L72.6,28.2L68.4,27.3L64.2,26.8L60.1,26.8L55.9,27.3L51.8,27.7L47.6,27.6L43.4,27.8L39.3,28.4L35.1,28.4L31,31.6L26.8,34.1L22.6,34.4L18.5,32.6L14.3,30.4L10.2,35.5Z"/><polygon class="ob" points="10.2,35.5 14.3,30.4 18.5,32.6 22.6,34.4 26.8,34.1 31,31.6 35.1,28.4 39.3,28.4 43.4,27.8 47.6,27.6 51.8,27.7 55.9,27.3 60.1,26.8 64.2,26.8 68.4,27.3 72.6,28.2 76.7,29.1 80.9,30 85,30.3 89.2,30.5 93.4,31.2 97.5,31.1 101.7,31.5 105.8,31.5 110,32.6 114.2,33.1 118.3,33.3 120.4,33.3 122.5,33.2 122.5,48 120.4,48.7 118.3,49.9 114.2,48.2 110,47.4 105.8,45.3 101.7,44.2 97.5,42.6 93.4,41.2 89.2,40.3 85,40.2 80.9,40 76.7,39.3 72.6,38.6 68.4,38.1 64.2,37.1 60.1,36.6 55.9,36.9 51.8,37.3 47.6,37.2 43.4,37 39.3,37.2 35.1,37.5 31,40.8 26.8,44 22.6,44.4 18.5,42.2 14.3,39.9 10.2,38.6"/></g>
<use href="#m9"/><use href="#G"/>
<polyline class="ml" clip-path="url(#c)" points="6,84 6.2,46.7 7,40.1 8.1,35.9 9.1,35 10.2,34.9 11.2,34.8 12.2,34.8 13.3,34.7 14.3,34.9 15.4,35.4 16.4,36.1 17.4,36.6 18.5,37.2 20.6,38.4 22.6,39.9 24.7,40.7 26.8,39.4 28.9,37.6 31,35.8 33,34.3 35.1,33.1 37.2,32.8 39.3,33.1 41.4,33.1 43.4,33 45.5,32.5 47.6,32.3 49.7,32.2 51.8,32.3 53.8,32.2 55.9,32.3 58,32.2 60.1,32.2 62.2,32.4 64.2,32.7 66.3,32.7 68.4,32.9 70.5,33.1 72.6,33.5 74.6,33.6 76.7,34.1 78.8,34.7 80.9,35.2 83,35.4 85,35.4 87.1,35.3 89.2,35.3 91.3,35.5 93.4,36 95.4,36.2 97.5,36.3 99.6,36.4 101.7,36.7 103.8,37 105.8,37 107.9,36.9 110,36.9 112.1,37 114.2,37.2 116.2,37.4 118.3,37.5 120.4,37.8 122.5,37.9"/>
<use href="#F"/></g>
<g class="b" transform="translate(2084,356.9)">
<g clip-path="url(#c)"><path class="bb" d="M10.2,38.6L14.3,41L18.5,43.8L22.6,46.6L26.8,46.9L31,44.6L35.1,42L39.3,40.2L43.4,40.2L47.6,39.7L51.8,39.7L55.9,38.6L60.1,37.7L64.2,38.7L68.4,40.1L72.6,40.9L76.7,41L80.9,41.3L85,41.9L89.2,43.1L93.4,44.1L97.5,44.8L101.7,45.6L105.8,46.9L110,48.1L114.2,48.9L118.3,49.5L120.4,50.1L122.5,50.5L122.5,56.1L120.4,57.7L118.3,59L114.2,61.3L110,61.2L105.8,60.5L101.7,60.5L97.5,61.2L93.4,57.9L89.2,55.5L85,51L80.9,46.6L76.7,42.9L72.6,42.6L68.4,42.7L64.2,40.8L60.1,39.4L55.9,39.8L51.8,40.9L47.6,40.9L43.4,41.3L39.3,41.2L35.1,43.5L31,46.8L26.8,50.2L22.6,49.4L18.5,45.7L14.3,41.9L10.2,38.6ZM10.2,35.5L14.3,29.2L18.5,32.2L22.6,35.7L26.8,35.4L31,30.9L35.1,30.2L39.3,28L43.4,27.3L47.6,27L51.8,27.7L55.9,27.6L60.1,27.2L64.2,27.9L68.4,29.5L72.6,29.8L76.7,29.9L80.9,29.6L85,29.6L89.2,29.8L93.4,30.4L97.5,30.6L101.7,31.1L105.8,31.7L110,32.1L114.2,32.5L118.3,32.7L120.4,33.3L122.5,33.3L122.5,35L120.4,35L118.3,35L114.2,34.8L110,34.4L105.8,34.8L101.7,33.8L97.5,33.7L93.4,32.6L89.2,32.1L85,31.3L80.9,31.2L76.7,31.2L72.6,30.6L68.4,30.3L64.2,28.7L60.1,28.1L55.9,28.5L51.8,29L47.6,29.4L43.4,29.9L39.3,30.4L35.1,32L31,34.7L26.8,37.7L22.6,37.3L18.5,34.5L14.3,31.1L10.2,35.5Z"/><polygon class="ob" points="10.2,35.5 14.3,31.1 18.5,34.5 22.6,37.3 26.8,37.7 31,34.7 35.1,32 39.3,30.4 43.4,29.9 47.6,29.4 51.8,29 55.9,28.5 60.1,28.1 64.2,28.7 68.4,30.3 72.6,30.6 76.7,31.2 80.9,31.2 85,31.3 89.2,32.1 93.4,32.6 97.5,33.7 101.7,33.8 105.8,34.8 110,34.4 114.2,34.8 118.3,35 120.4,35 122.5,35 122.5,50.5 120.4,50.1 118.3,49.5 114.2,48.9 110,48.1 105.8,46.9 101.7,45.6 97.5,44.8 93.4,44.1 89.2,43.1 85,41.9 80.9,41.3 76.7,41 72.6,40.9 68.4,40.1 64.2,38.7 60.1,37.7 55.9,38.6 51.8,39.7 47.6,39.7 43.4,40.2 39.3,40.2 35.1,42 31,44.6 26.8,46.9 22.6,46.6 18.5,43.8 14.3,41 10.2,38.6"/></g>
<use href="#m10"/><use href="#G"/>
<polyline class="ml" clip-path="url(#c)" points="6,84 6.2,46.7 7,40.1 8.1,35.9 9.1,35 10.2,34.9 11.2,34.8 12.2,34.8 13.3,34.7 14.3,35.1 15.4,35.7 16.4,36.6 17.4,37.5 18.5,38.3 20.6,40.2 22.6,42.1 24.7,43.4 26.8,42.5 28.9,41.2 31,39.4 33,37.8 35.1,36.5 37.2,35.7 39.3,35.3 41.4,35 43.4,35 45.5,34.5 47.6,34.2 49.7,33.7 51.8,33.7 53.8,33.3 55.9,33.1 58,33 60.1,33.1 62.2,34 64.2,34.6 66.3,35.3 68.4,35.6 70.5,36.1 72.6,36.1 74.6,36.5 76.7,36.3 78.8,36.5 80.9,36.3 83,36.7 85,36.8 87.1,37.2 89.2,37.2 91.3,37.4 93.4,37.3 95.4,37.5 97.5,37.7 99.6,38.1 101.7,38.1 103.8,38.5 105.8,38.7 107.9,38.9 110,38.9 112.1,39 114.2,39 116.2,39.1 118.3,39.2 120.4,39.4 122.5,39.7"/>
<use href="#F"/></g>
<g class="g" transform="translate(290,474.8)">
<g clip-path="url(#c)"><path class="bb" d="M10.2,39.7L14.3,40L16.4,40.3L18.5,39.5L22.6,39.3L26.8,39.1L31,39.3L35.1,39.4L39.3,39.6L43.4,39.5L47.6,39.2L51.8,38.6L55.9,38.3L60.1,38.2L64.2,38.2L68.4,37.2L72.6,37.2L76.7,37.2L80.9,37.2L85,37.1L89.2,36.5L93.4,36.7L97.5,36.8L101.7,36.5L105.8,36.6L110,36.2L114.2,36.8L118.3,36.3L122.5,36.3L122.5,38.7L118.3,38.9L114.2,38.9L110,37.7L105.8,37.4L101.7,37.4L97.5,37.6L93.4,37.7L89.2,38.6L85,38.9L80.9,39.5L76.7,39.5L72.6,39.5L68.4,39.2L64.2,39.2L60.1,40.7L55.9,40.7L51.8,40.5L47.6,40L43.4,40.4L39.3,40.4L35.1,40.7L31,40.7L26.8,41.1L22.6,41.4L18.5,42.2L16.4,41.6L14.3,41.5L10.2,39.7ZM10.2,36.5L14.3,29.8L16.4,29.7L18.5,29.1L22.6,28.2L26.8,26.6L31,26.8L35.1,27.5L39.3,27.9L43.4,28.4L47.6,28.5L51.8,28.2L55.9,27.2L60.1,26.9L64.2,26.1L68.4,26.2L72.6,26.2L76.7,26.5L80.9,26.7L85,26.5L89.2,26.5L93.4,26.3L97.5,26.5L101.7,25.8L105.8,26L110,25.4L114.2,25.8L118.3,25.6L122.5,25.8L122.5,26.7L118.3,26.6L114.2,27L110,27.5L105.8,27.2L101.7,27.3L97.5,27.4L93.4,27.9L89.2,27.7L85,27.5L80.9,28.4L76.7,29L72.6,29.3L68.4,28.8L64.2,29.3L60.1,28.7L55.9,29.2L51.8,29L47.6,29.9L43.4,30.1L39.3,29.7L35.1,30.2L31,30L26.8,30.4L22.6,30.2L18.5,30.6L16.4,30.7L14.3,30.6L10.2,36.5Z"/><polygon class="ob" points="10.2,36.5 14.3,30.6 16.4,30.7 18.5,30.6 22.6,30.2 26.8,30.4 31,30 35.1,30.2 39.3,29.7 43.4,30.1 47.6,29.9 51.8,29 55.9,29.2 60.1,28.7 64.2,29.3 68.4,28.8 72.6,29.3 76.7,29 80.9,28.4 85,27.5 89.2,27.7 93.4,27.9 97.5,27.4 101.7,27.3 105.8,27.2 110,27.5 114.2,27 118.3,26.6 122.5,26.7 122.5,36.3 118.3,36.3 114.2,36.8 110,36.2 105.8,36.6 101.7,36.5 97.5,36.8 93.4,36.7 89.2,36.5 85,37.1 80.9,37.2 76.7,37.2 72.6,37.2 68.4,37.2 64.2,38.2 60.1,38.2 55.9,38.3 51.8,38.6 47.6,39.2 43.4,39.5 39.3,39.6 35.1,39.4 31,39.3 26.8,39.1 22.6,39.3 18.5,39.5 16.4,40.3 14.3,40 10.2,39.7"/></g>
<use href="#m0"/><use href="#G"/>
<polyline class="ml" clip-path="url(#c)" points="6,84 6.2,47.6 7,41.1 8.1,36.9 9.1,36.1 10.2,36 11.2,35.9 12.2,35.8 13.3,35.7 14.3,35.7 15.4,35.6 16.4,35.6 17.4,35.5 18.5,35.6 20.6,35.5 22.6,35.2 24.7,34.9 26.8,34.7 28.9,34.7 31,34.9 33,34.7 35.1,35 37.2,35 39.3,35 41.4,34.7 43.4,34.4 45.5,34.2 47.6,34.1 49.7,34 51.8,34 53.8,33.7 55.9,33.5 58,33.5 60.1,33.5 62.2,33.5 64.2,33.2 66.3,33.1 68.4,32.9 70.5,32.9 72.6,33 74.6,33.1 76.7,33.1 78.8,32.9 80.9,32.8 83,33.1 85,33.2 87.1,33 89.2,32.6 91.3,32.2 93.4,32.3 95.4,32.3 97.5,32.3 99.6,32.2 101.7,31.8 103.8,31.8 105.8,31.7 107.9,31.9 110,31.9 112.1,32 114.2,32 116.2,32 118.3,31.8 120.4,31.9 122.5,31.9"/>
<use href="#F"/></g>
<g class="g" transform="translate(469.4,474.8)">
<g clip-path="url(#c)"><path class="bb" d="M10.2,39.1L14.3,39.1L18.5,38.3L22.6,38.4L26.8,37.5L31,37.6L35.1,37.4L39.3,37.4L43.4,37.4L47.6,37.4L51.8,38.1L55.9,37.9L60.1,37.6L64.2,37.6L68.4,37.9L72.6,38.7L76.7,38.5L80.9,38.7L85,38.4L89.2,38.8L93.4,38.6L97.5,39.3L101.7,38.8L105.8,38.8L110,38.4L114.2,38.6L118.3,39.4L122.5,39.6L122.5,40.5L118.3,40.3L114.2,40L110,40.9L105.8,40.2L101.7,39.8L97.5,40.1L93.4,39.9L89.2,40L85,39.8L80.9,39.6L76.7,39.7L72.6,39.6L68.4,40.1L64.2,39.9L60.1,39.9L55.9,38.7L51.8,38.9L47.6,38.2L43.4,38.6L39.3,38.8L35.1,38.9L31,39.3L26.8,41L22.6,40.3L18.5,40.3L14.3,40.1L10.2,39.1ZM10.2,35.9L14.3,28L18.5,27.8L22.6,27.2L26.8,27L31,26.6L35.1,26.9L39.3,27.1L43.4,27L47.6,27L51.8,26.9L55.9,26.9L60.1,26.6L64.2,27.1L68.4,27.3L72.6,27.5L76.7,27.3L80.9,27.5L85,28.2L89.2,27.7L93.4,27.4L97.5,27.5L101.7,28.2L105.8,28.6L110,28.6L114.2,28.3L118.3,28.4L122.5,28.1L122.5,30.5L118.3,30.3L114.2,30.2L110,30L105.8,29.8L101.7,29L97.5,28.4L93.4,28.9L89.2,29L85,29L80.9,28.4L76.7,28.9L72.6,29.2L68.4,29.3L64.2,28.3L60.1,27.8L55.9,27.7L51.8,27.7L47.6,27.8L43.4,27.9L39.3,28L35.1,27.7L31,27.8L26.8,28.5L22.6,28.9L18.5,29.4L14.3,29.5L10.2,35.9Z"/><polygon class="ob" points="10.2,35.9 14.3,29.5 18.5,29.4 22.6,28.9 26.8,28.5 31,27.8 35.1,27.7 39.3,28 43.4,27.9 47.6,27.8 51.8,27.7 55.9,27.7 60.1,27.8 64.2,28.3 68.4,29.3 72.6,29.2 76.7,28.9 80.9,28.4 85,29 89.2,29 93.4,28.9 97.5,28.4 101.7,29 105.8,29.8 110,30 114.2,30.2 118.3,30.3 122.5,30.5 122.5,39.6 118.3,39.4 114.2,38.6 110,38.4 105.8,38.8 101.7,38.8 97.5,39.3 93.4,38.6 89.2,38.8 85,38.4 80.9,38.7 76.7,38.5 72.6,38.7 68.4,37.9 64.2,37.6 60.1,37.6 55.9,37.9 51.8,38.1 47.6,37.4 43.4,37.4 39.3,37.4 35.1,37.4 31,37.6 26.8,37.5 22.6,38.4 18.5,38.3 14.3,39.1 10.2,39.1"/></g>
<use href="#m1"/><use href="#G"/>
<polyline class="ml" clip-path="url(#c)" points="6,84 6.2,47.6 7,40.7 8.1,36 9.1,35 10.2,34.9 11.2,34.8 12.2,34.8 13.3,34.7 14.3,34.6 15.4,34.4 16.4,34.3 17.4,34.2 18.5,34.1 20.6,33.8 22.6,33.7 24.7,33.4 26.8,33.3 28.9,33 31,32.9 33,32.6 35.1,32.9 37.2,32.8 39.3,33.1 41.4,33 43.4,33.1 45.5,32.6 47.6,32.3 49.7,32.5 51.8,32.8 53.8,33 55.9,33.1 58,33.4 60.1,33.3 62.2,33.3 64.2,33.2 66.3,33.5 68.4,33.3 70.5,32.9 72.6,33.2 74.6,33.6 76.7,34 78.8,33.8 80.9,33.7 83,33.7 85,33.8 87.1,33.9 89.2,34 91.3,33.9 93.4,33.7 95.4,33.7 97.5,33.9 99.6,34.1 101.7,34 103.8,33.9 105.8,33.8 107.9,34 110,34.3 112.1,34.4 114.2,34.4 116.2,34.3 118.3,34.4 120.4,34.5 122.5,34.4"/>
<use href="#F"/></g>
<g class="g" transform="translate(648.8,474.8)">
<g clip-path="url(#c)"><path class="bb" d="M10.2,37.6L14.3,40.5L18.5,41.4L22.6,40.9L26.8,38.7L31,37L35.1,36.8L39.3,37.2L43.4,37L47.6,37.3L51.8,37.6L55.9,37.2L60.1,38.4L64.2,39.9L68.4,40.3L72.6,40.4L76.7,40.2L80.9,40.5L85,40.1L89.2,39.5L93.4,39.5L97.5,39.9L101.7,40.4L105.8,40.5L110,40.4L114.2,40.2L118.3,40.1L122.5,40L122.5,41.9L118.3,41.7L114.2,41.8L110,41.3L105.8,41.3L101.7,41.3L97.5,41.4L93.4,41.1L89.2,41.2L85,41.3L80.9,41.4L76.7,42.2L72.6,42.4L68.4,43.2L64.2,40.8L60.1,39.7L55.9,38.2L51.8,39.1L47.6,38.7L43.4,39.3L39.3,39.2L35.1,39.5L31,38.8L26.8,39.7L22.6,41.7L18.5,42.3L14.3,42.1L10.2,37.6ZM10.2,34.5L14.3,28.5L18.5,29.2L22.6,28.8L26.8,28.1L31,25.7L35.1,25.8L39.3,24.3L43.4,24.8L47.6,24.2L51.8,25.3L55.9,25.1L60.1,26.6L64.2,27.8L68.4,27.9L72.6,28.2L76.7,27.9L80.9,28L85,28.5L89.2,29L93.4,29.1L97.5,28.6L101.7,28.1L105.8,28.4L110,28.3L114.2,28.2L118.3,28.3L122.5,28.4L122.5,29.4L118.3,29.6L114.2,29.4L110,29.8L105.8,29.6L101.7,29L97.5,29.4L93.4,29.9L89.2,30.8L85,30.2L80.9,29.6L76.7,29.3L72.6,29L68.4,28.7L64.2,28.7L60.1,27.8L55.9,26.9L51.8,26.3L47.6,26.4L43.4,26.3L39.3,26.7L35.1,26.8L31,27L26.8,29L22.6,30.4L18.5,30.7L14.3,29.9L10.2,34.5Z"/><polygon class="ob" points="10.2,34.5 14.3,29.9 18.5,30.7 22.6,30.4 26.8,29 31,27 35.1,26.8 39.3,26.7 43.4,26.3 47.6,26.4 51.8,26.3 55.9,26.9 60.1,27.8 64.2,28.7 68.4,28.7 72.6,29 76.7,29.3 80.9,29.6 85,30.2 89.2,30.8 93.4,29.9 97.5,29.4 101.7,29 105.8,29.6 110,29.8 114.2,29.4 118.3,29.6 122.5,29.4 122.5,40 118.3,40.1 114.2,40.2 110,40.4 105.8,40.5 101.7,40.4 97.5,39.9 93.4,39.5 89.2,39.5 85,40.1 80.9,40.5 76.7,40.2 72.6,40.4 68.4,40.3 64.2,39.9 60.1,38.4 55.9,37.2 51.8,37.6 47.6,37.3 43.4,37 39.3,37.2 35.1,36.8 31,37 26.8,38.7 22.6,40.9 18.5,41.4 14.3,40.5 10.2,37.6"/></g>
<use href="#m2"/><use href="#G"/>
<polyline class="ml" clip-path="url(#c)" points="6,84 6.2,47.6 7,40.7 8.1,36 9.1,35 10.2,34.9 11.2,34.8 12.2,34.7 13.3,34.7 14.3,34.9 15.4,35.1 16.4,35.3 17.4,35.5 18.5,35.7 20.6,35.8 22.6,35.2 24.7,34.6 26.8,33.8 28.9,32.9 31,32 33,31.9 35.1,31.9 37.2,32 39.3,32.1 41.4,32.2 43.4,32.2 45.5,32 47.6,31.8 49.7,31.7 51.8,31.8 53.8,31.8 55.9,31.8 58,32.4 60.1,33.4 62.2,34.1 64.2,34.3 66.3,34.1 68.4,34.1 70.5,34.3 72.6,34.4 74.6,34.4 76.7,34.5 78.8,34.5 80.9,34.6 83,34.5 85,34.6 87.1,34.9 89.2,35 91.3,35.1 93.4,35 95.4,34.9 97.5,34.8 99.6,34.8 101.7,34.8 103.8,34.9 105.8,35.1 107.9,35.3 110,35.4 112.1,35.3 114.2,35.3 116.2,35 118.3,34.6 120.4,34.5 122.5,34.8"/>
<use href="#F"/></g>
<g class="g" transform="translate(828.2,474.8)">
<g clip-path="url(#c)"><path class="bb" d="M10.2,36.8L14.3,39.6L18.5,42L22.6,41.2L26.8,40.6L31,40.4L35.1,40.5L39.3,40.6L43.4,39.8L47.6,38.9L51.8,38.4L55.9,38.7L60.1,38.9L64.2,38.4L68.4,38.4L72.6,38.8L76.7,39.2L80.9,39.5L85,40L89.2,40.4L93.4,41L97.5,41L101.7,41.4L105.8,41.7L110,42.1L114.2,42L118.3,41.9L122.5,42.2L122.5,44.2L118.3,43L114.2,42.8L110,43L105.8,43.1L101.7,43.5L97.5,43.4L93.4,42.8L89.2,41.4L85,40.8L80.9,40.7L76.7,40.6L72.6,40.5L68.4,40.2L64.2,39.7L60.1,39.7L55.9,39.6L51.8,40.3L47.6,41.2L43.4,41.9L39.3,42.3L35.1,42.8L31,43.5L26.8,43.3L22.6,43.2L18.5,43.5L14.3,40.9L10.2,36.8ZM10.2,33.7L14.3,29.6L18.5,31.8L22.6,31.1L26.8,30.7L31,30.3L35.1,28.8L39.3,27.5L43.4,28L47.6,28.1L51.8,28.8L55.9,27.9L60.1,27.6L64.2,26.7L68.4,27.6L72.6,28L76.7,28.4L80.9,29.2L85,28.8L89.2,29.4L93.4,29.3L97.5,30.1L101.7,30.2L105.8,30L110,30.8L114.2,30.8L118.3,31L122.5,30.8L122.5,34L118.3,33.4L114.2,33.2L110,32.1L105.8,31.4L101.7,31.1L97.5,31.5L93.4,31.7L89.2,31.3L85,30.9L80.9,30.6L76.7,30.2L72.6,29.6L68.4,29.1L64.2,29.3L60.1,29.8L55.9,30.7L51.8,30.6L47.6,30.7L43.4,30.7L39.3,30.7L35.1,31.2L31,31.1L26.8,31.7L22.6,31.9L18.5,33.2L14.3,31L10.2,33.7Z"/><polygon class="ob" points="10.2,33.7 14.3,31 18.5,33.2 22.6,31.9 26.8,31.7 31,31.1 35.1,31.2 39.3,30.7 43.4,30.7 47.6,30.7 51.8,30.6 55.9,30.7 60.1,29.8 64.2,29.3 68.4,29.1 72.6,29.6 76.7,30.2 80.9,30.6 85,30.9 89.2,31.3 93.4,31.7 97.5,31.5 101.7,31.1 105.8,31.4 110,32.1 114.2,33.2 118.3,33.4 122.5,34 122.5,42.2 118.3,41.9 114.2,42 110,42.1 105.8,41.7 101.7,41.4 97.5,41 93.4,41 89.2,40.4 85,40 80.9,39.5 76.7,39.2 72.6,38.8 68.4,38.4 64.2,38.4 60.1,38.9 55.9,38.7 51.8,38.4 47.6,38.9 43.4,39.8 39.3,40.6 35.1,40.5 31,40.4 26.8,40.6 22.6,41.2 18.5,42 14.3,39.6 10.2,36.8"/></g>
<use href="#m3"/><use href="#G"/>
<polyline class="ml" clip-path="url(#c)" points="6,84 6.2,47.5 7,40.3 8.1,35 9.1,34 10.2,33.8 11.2,33.7 12.2,33.7 13.3,34 14.3,34.6 15.4,35.4 16.4,36.1 17.4,36.8 18.5,37.3 20.6,37.3 22.6,37.3 24.7,36.9 26.8,36.8 28.9,36.5 31,36.6 33,36.4 35.1,36 37.2,35.8 39.3,35.6 41.4,36 43.4,35.5 45.5,35.5 47.6,34.9 49.7,34.9 51.8,34.4 53.8,34.3 55.9,34.3 58,34.1 60.1,34.2 62.2,34.1 64.2,34.3 66.3,34.5 68.4,34.4 70.5,34.6 72.6,34.7 74.6,34.9 76.7,34.8 78.8,34.9 80.9,35.1 83,35.3 85,35.3 87.1,35.4 89.2,35.3 91.3,35.6 93.4,35.8 95.4,36.1 97.5,36.1 99.6,36.1 101.7,36.2 103.8,36.2 105.8,36.6 107.9,36.8 110,37 112.1,37 114.2,37.2 116.2,37.5 118.3,37.9 120.4,37.6 122.5,37.6"/>
<use href="#F"/></g>
<g class="g" transform="translate(1007.6,474.8)">
<g clip-path="url(#c)"><path class="bb" d="M10.2,39.1L14.3,40.9L18.5,42.9L22.6,43.5L26.8,42L31,41.2L35.1,40.2L39.3,40.2L43.4,39.8L47.6,39.4L51.8,39.3L55.9,39.7L60.1,40.5L64.2,41.3L68.4,41.1L72.6,41.1L76.7,41.1L80.9,41.2L85,41.1L89.2,42L93.4,42.6L97.5,42.8L101.7,42.2L105.8,42.4L110,42L114.2,41.6L118.3,41.3L122.5,41.5L122.5,43.4L118.3,43.4L114.2,43.6L110,43.2L105.8,43.4L101.7,43.7L97.5,43.7L93.4,44.3L89.2,43L85,43.5L80.9,42.4L76.7,42.9L72.6,41.9L68.4,41.9L64.2,42.1L60.1,41.5L55.9,41.5L51.8,41.6L47.6,41.2L43.4,42L39.3,42.9L35.1,45L31,46.1L26.8,45.1L22.6,44.8L18.5,44.6L14.3,42.2L10.2,39.1ZM10.2,35.9L14.3,27.8L18.5,31.1L22.6,30.8L26.8,29.4L31,28.2L35.1,27.6L39.3,27.6L43.4,27.7L47.6,28.3L51.8,28.4L55.9,28.3L60.1,28.5L64.2,29.3L68.4,30L72.6,30L76.7,30.1L80.9,30.6L85,30.9L89.2,31.9L93.4,32L97.5,31.5L101.7,30.3L105.8,30.6L110,31L114.2,30.7L118.3,30.4L122.5,29.9L122.5,31.6L118.3,32L114.2,31.5L110,31.8L105.8,31.7L101.7,32.1L97.5,32.5L93.4,32.9L89.2,32.7L85,32.7L80.9,32.6L76.7,31.9L72.6,31.4L68.4,30.9L64.2,31.1L60.1,30.6L55.9,30.6L51.8,30.3L47.6,30.1L43.4,30L39.3,30.4L35.1,30.8L31,32.4L26.8,33.4L22.6,34.5L18.5,33.3L14.3,31L10.2,35.9Z"/><polygon class="ob" points="10.2,35.9 14.3,31 18.5,33.3 22.6,34.5 26.8,33.4 31,32.4 35.1,30.8 39.3,30.4 43.4,30 47.6,30.1 51.8,30.3 55.9,30.6 60.1,30.6 64.2,31.1 68.4,30.9 72.6,31.4 76.7,31.9 80.9,32.6 85,32.7 89.2,32.7 93.4,32.9 97.5,32.5 101.7,32.1 105.8,31.7 110,31.8 114.2,31.5 118.3,32 122.5,31.6 122.5,41.5 118.3,41.3 114.2,41.6 110,42 105.8,42.4 101.7,42.2 97.5,42.8 93.4,42.6 89.2,42 85,41.1 80.9,41.2 76.7,41.1 72.6,41.1 68.4,41.1 64.2,41.3 60.1,40.5 55.9,39.7 51.8,39.3 47.6,39.4 43.4,39.8 39.3,40.2 35.1,40.2 31,41.2 26.8,42 22.6,43.5 18.5,42.9 14.3,40.9 10.2,39.1"/></g>
<use href="#m4"/><use href="#G"/>
<polyline class="ml" clip-path="url(#c)" points="6,84 6.2,47.6 7,40.7 8.1,36 9.1,35 10.2,34.9 11.2,34.8 12.2,34.8 13.3,34.7 14.3,35 15.4,35.5 16.4,36.2 17.4,37 18.5,37.7 20.6,38.8 22.6,38.9 24.7,38.7 26.8,37.9 28.9,37.2 31,36.5 33,36 35.1,35.8 37.2,35.6 39.3,35.5 41.4,35.3 43.4,35.2 45.5,35 47.6,34.5 49.7,34.4 51.8,34.4 53.8,34.7 55.9,34.9 58,35.1 60.1,34.9 62.2,34.9 64.2,35.2 66.3,35.5 68.4,35.8 70.5,35.9 72.6,36.1 74.6,36.5 76.7,36.6 78.8,36.7 80.9,36.7 83,36.8 85,37.3 87.1,37.7 89.2,37.7 91.3,37.6 93.4,37.5 95.4,37.8 97.5,37.8 99.6,37.8 101.7,37.5 103.8,37.2 105.8,37.1 107.9,37 110,37 112.1,37.1 114.2,37 116.2,37.2 118.3,36.9 120.4,36.6 122.5,36.2"/>
<use href="#F"/></g>
<g class="g" transform="translate(1187,474.8)">
<g clip-path="url(#c)"><path class="bb" d="M10.2,39.1L14.3,41.2L18.5,44L22.6,44.5L26.8,42.4L31,40.3L35.1,40.2L39.3,40.2L43.4,40.3L47.6,40.5L51.8,40.7L55.9,40.6L60.1,39.5L64.2,39.5L68.4,38.8L72.6,39.1L76.7,38.3L80.9,38.7L85,38.8L89.2,38.9L93.4,40.2L97.5,41.5L101.7,41.3L105.8,41.9L110,42L114.2,42.2L118.3,42.3L122.5,42.7L122.5,43.7L118.3,43.3L114.2,43.5L110,43.2L105.8,43.2L101.7,43.3L97.5,43.4L93.4,42.1L89.2,40.7L85,40.8L80.9,40.3L76.7,40.1L72.6,40.4L68.4,40.2L64.2,40.3L60.1,40.4L55.9,41.4L51.8,41.6L47.6,42.1L43.4,41.8L39.3,42L35.1,41.6L31,42L26.8,43.6L22.6,45.3L18.5,44.9L14.3,42L10.2,39.1ZM10.2,35.9L14.3,29.2L18.5,32.2L22.6,33.3L26.8,31.7L31,30.1L35.1,29.6L39.3,30.2L43.4,29.8L47.6,30.2L51.8,29.6L55.9,29.5L60.1,28.6L64.2,28.6L68.4,27.9L72.6,27.4L76.7,27L80.9,27.7L85,28.2L89.2,28.5L93.4,30.1L97.5,31.5L101.7,31.3L105.8,30.7L110,30.4L114.2,30.7L118.3,31.3L122.5,31.6L122.5,32.5L118.3,32.1L114.2,32.3L110,32.6L105.8,32.2L101.7,32.1L97.5,32.4L93.4,30.9L89.2,29.5L85,29L80.9,28.5L76.7,28L72.6,28.8L68.4,29.5L64.2,30.1L60.1,30.2L55.9,31L51.8,30.9L47.6,31.1L43.4,31.1L39.3,31.3L35.1,31.4L31,31.2L26.8,32.8L22.6,34.2L18.5,33.6L14.3,31.1L10.2,35.9Z"/><polygon class="ob" points="10.2,35.9 14.3,31.1 18.5,33.6 22.6,34.2 26.8,32.8 31,31.2 35.1,31.4 39.3,31.3 43.4,31.1 47.6,31.1 51.8,30.9 55.9,31 60.1,30.2 64.2,30.1 68.4,29.5 72.6,28.8 76.7,28 80.9,28.5 85,29 89.2,29.5 93.4,30.9 97.5,32.4 101.7,32.1 105.8,32.2 110,32.6 114.2,32.3 118.3,32.1 122.5,32.5 122.5,42.7 118.3,42.3 114.2,42.2 110,42 105.8,41.9 101.7,41.3 97.5,41.5 93.4,40.2 89.2,38.9 85,38.8 80.9,38.7 76.7,38.3 72.6,39.1 68.4,38.8 64.2,39.5 60.1,39.5 55.9,40.6 51.8,40.7 47.6,40.5 43.4,40.3 39.3,40.2 35.1,40.2 31,40.3 26.8,42.4 22.6,44.5 18.5,44 14.3,41.2 10.2,39.1"/></g>
<use href="#m5"/><use href="#G"/>
<polyline class="ml" clip-path="url(#c)" points="6,84 6.2,47.6 7,40.7 8.1,36 9.1,35 10.2,34.9 11.2,34.8 12.2,34.8 13.3,34.7 14.3,35.1 15.4,35.7 16.4,36.6 17.4,37.5 18.5,38.6 20.6,40 22.6,39.6 24.7,38.8 26.8,37.8 28.9,36.9 31,36.1 33,35.8 35.1,36 37.2,35.9 39.3,36 41.4,35.5 43.4,35.8 45.5,35.8 47.6,35.8 49.7,35.6 51.8,35.6 53.8,35.5 55.9,35.4 58,35.2 60.1,34.7 62.2,34.6 64.2,34.4 66.3,34.4 68.4,34.1 70.5,34.1 72.6,34 74.6,33.5 76.7,33.1 78.8,32.9 80.9,33.2 83,33.6 85,33.8 87.1,34 89.2,34.4 91.3,35 93.4,35.7 95.4,36.4 97.5,37 99.6,37 101.7,36.8 103.8,37.3 105.8,37.5 107.9,37.7 110,37.5 112.1,37.4 114.2,37.4 116.2,37.5 118.3,37.9 120.4,37.7 122.5,37.8"/>
<use href="#F"/></g>
<g class="b" transform="translate(1366.4,474.8)">
<g clip-path="url(#c)"><path class="bb" d="M10.2,39.1L14.3,41.2L18.5,43.5L22.6,43.7L26.8,41.9L31,41L35.1,39.9L39.3,39.4L43.4,38.7L47.6,38.3L51.8,37.6L55.9,36.4L60.1,35.3L64.2,35.9L68.4,36.4L72.6,36.8L76.7,37.2L80.9,38L85,39.2L89.2,39.5L93.4,39.7L97.5,39.7L101.7,39.6L105.8,40L110,39.4L114.2,39.2L118.3,39L122.5,39L122.5,39.9L118.3,41.5L114.2,42.4L110,43.5L105.8,43.8L101.7,44.8L97.5,44.3L93.4,45L89.2,44.3L85,43.7L80.9,42.1L76.7,40.1L72.6,38.1L68.4,38L64.2,37.4L60.1,37.1L55.9,38L51.8,39.7L47.6,40.5L43.4,41.5L39.3,41.9L35.1,42.6L31,43.3L26.8,43.8L22.6,44.5L18.5,44.3L14.3,42.1L10.2,39.1ZM10.2,35.9L14.3,28.4L18.5,30.9L22.6,31.3L26.8,31L31,30.6L35.1,29.3L39.3,28.5L43.4,27.4L47.6,26.8L51.8,25.9L55.9,24.7L60.1,24.2L64.2,24.4L68.4,25L72.6,25.5L76.7,26.2L80.9,26.4L85,26.8L89.2,26.5L93.4,26.4L97.5,26.2L101.7,26.9L105.8,27.1L110,27.5L114.2,27.4L118.3,27.3L122.5,27.3L122.5,29.1L118.3,28.7L114.2,28.5L110,29.2L105.8,28.7L101.7,28.3L97.5,28.8L93.4,29.2L89.2,29.5L85,28.3L80.9,28.3L76.7,27.7L72.6,27.8L68.4,26.8L64.2,27.1L60.1,26.6L55.9,27.5L51.8,27.7L47.6,28.5L43.4,29.1L39.3,29.5L35.1,30.1L31,31.4L26.8,32.6L22.6,33.7L18.5,33.4L14.3,31.4L10.2,35.9Z"/><polygon class="ob" points="10.2,35.9 14.3,31.4 18.5,33.4 22.6,33.7 26.8,32.6 31,31.4 35.1,30.1 39.3,29.5 43.4,29.1 47.6,28.5 51.8,27.7 55.9,27.5 60.1,26.6 64.2,27.1 68.4,26.8 72.6,27.8 76.7,27.7 80.9,28.3 85,28.3 89.2,29.5 93.4,29.2 97.5,28.8 101.7,28.3 105.8,28.7 110,29.2 114.2,28.5 118.3,28.7 122.5,29.1 122.5,39 118.3,39 114.2,39.2 110,39.4 105.8,40 101.7,39.6 97.5,39.7 93.4,39.7 89.2,39.5 85,39.2 80.9,38 76.7,37.2 72.6,36.8 68.4,36.4 64.2,35.9 60.1,35.3 55.9,36.4 51.8,37.6 47.6,38.3 43.4,38.7 39.3,39.4 35.1,39.9 31,41 26.8,41.9 22.6,43.7 18.5,43.5 14.3,41.2 10.2,39.1"/></g>
<use href="#m6"/><use href="#G"/>
<polyline class="ml" clip-path="url(#c)" points="6,84 6.2,47.6 7,40.7 8.1,36 9.1,35 10.2,34.9 11.2,34.8 12.2,34.8 13.3,34.7 14.3,35 15.4,35.6 16.4,36.4 17.4,37.1 18.5,37.9 20.6,39.3 22.6,39.3 24.7,38.8 26.8,38.1 28.9,37.2 31,36.6 33,35.9 35.1,35.3 37.2,34.7 39.3,34.4 41.4,34.3 43.4,34.1 45.5,33.5 47.6,33.2 49.7,32.7 51.8,32.3 53.8,31.7 55.9,31.4 58,31.2 60.1,31 62.2,31.1 64.2,31.1 66.3,31.3 68.4,31.5 70.5,31.8 72.6,31.9 74.6,32.2 76.7,32.4 78.8,32.5 80.9,32.6 83,32.8 85,33.1 87.1,33.4 89.2,33.8 91.3,33.8 93.4,34 95.4,34.1 97.5,34.2 99.6,34.2 101.7,34.1 103.8,34 105.8,33.9 107.9,33.9 110,34.1 112.1,33.9 114.2,33.8 116.2,33.7 118.3,33.7 120.4,33.9 122.5,34"/>
<use href="#F"/></g>
<g class="b" transform="translate(1545.8,474.8)">
<g clip-path="url(#c)"><path class="bb" d="M10.2,39.1L14.3,40.6L18.5,43.6L22.6,44.4L26.8,42.3L31,40.5L35.1,38.4L39.3,38L43.4,37.5L47.6,37.4L51.8,36.8L55.9,37.7L60.1,38.2L64.2,39.5L68.4,40.1L72.6,41.9L76.7,41.7L80.9,42.5L85,42.4L89.2,42.7L93.4,42.2L97.5,42.1L101.7,42.7L105.8,43.3L110,43.6L114.2,43.8L118.3,43.7L122.5,43.7L122.5,49.6L118.3,49.8L114.2,50.6L110,50.7L105.8,52.1L101.7,51.8L97.5,51.9L93.4,51.7L89.2,52.3L85,53.1L80.9,52.7L76.7,51.3L72.6,50.2L68.4,46.9L64.2,43.4L60.1,40.1L55.9,38.8L51.8,37.6L47.6,38.2L43.4,38.3L39.3,38.9L35.1,39.4L31,41.5L26.8,43.5L22.6,46.3L18.5,46.1L14.3,43.2L10.2,39.1ZM10.2,35.9L14.3,29.8L18.5,32.1L22.6,32.3L26.8,30.1L31,28.3L35.1,26.9L39.3,26L43.4,25.8L47.6,24.2L51.8,24.4L55.9,25.4L60.1,27.3L64.2,27.9L68.4,27.5L72.6,27.5L76.7,27.3L80.9,28.7L85,28.1L89.2,28.3L93.4,27.1L97.5,27.9L101.7,28.7L105.8,28.8L110,29.4L114.2,29.5L118.3,30.2L122.5,30.1L122.5,31.3L118.3,31L114.2,31.1L110,31.4L105.8,31.4L101.7,30.9L97.5,29.9L93.4,29.4L89.2,29.8L85,30L80.9,29.8L76.7,29.7L72.6,29.7L68.4,29.7L64.2,29.5L60.1,28.2L55.9,27L51.8,26L47.6,26.8L43.4,27.3L39.3,27.5L35.1,28L31,30.3L26.8,33L22.6,35.4L18.5,34.9L14.3,31.1L10.2,35.9Z"/><polygon class="ob" points="10.2,35.9 14.3,31.1 18.5,34.9 22.6,35.4 26.8,33 31,30.3 35.1,28 39.3,27.5 43.4,27.3 47.6,26.8 51.8,26 55.9,27 60.1,28.2 64.2,29.5 68.4,29.7 72.6,29.7 76.7,29.7 80.9,29.8 85,30 89.2,29.8 93.4,29.4 97.5,29.9 101.7,30.9 105.8,31.4 110,31.4 114.2,31.1 118.3,31 122.5,31.3 122.5,43.7 118.3,43.7 114.2,43.8 110,43.6 105.8,43.3 101.7,42.7 97.5,42.1 93.4,42.2 89.2,42.7 85,42.4 80.9,42.5 76.7,41.7 72.6,41.9 68.4,40.1 64.2,39.5 60.1,38.2 55.9,37.7 51.8,36.8 47.6,37.4 43.4,37.5 39.3,38 35.1,38.4 31,40.5 26.8,42.3 22.6,44.4 18.5,43.6 14.3,40.6 10.2,39.1"/></g>
<use href="#m7"/><use href="#G"/>
<polyline class="ml" clip-path="url(#c)" points="6,84 6.2,47.6 7,40.7 8.1,36 9.1,35 10.2,34.9 11.2,34.8 12.2,34.8 13.3,34.7 14.3,35.1 15.4,35.8 16.4,36.7 17.4,37.6 18.5,38.5 20.6,40 22.6,39.7 24.7,38.5 26.8,37.4 28.9,36.3 31,35.4 33,34.2 35.1,33.4 37.2,33.1 39.3,33.1 41.4,32.5 43.4,32.3 45.5,31.8 47.6,31.9 49.7,31.7 51.8,31.6 53.8,31.8 55.9,32.1 58,32.4 60.1,33 62.2,33.2 64.2,33.7 66.3,33.6 68.4,34.1 70.5,34.3 72.6,34.3 74.6,34.5 76.7,34.7 78.8,34.9 80.9,34.7 83,34.8 85,34.7 87.1,34.9 89.2,34.7 91.3,34.8 93.4,35 95.4,35.1 97.5,35.3 99.6,35.3 101.7,35.6 103.8,35.6 105.8,35.9 107.9,36.2 110,36.5 112.1,36.6 114.2,36.2 116.2,36.3 118.3,36.1 120.4,36.5 122.5,36.6"/>
<use href="#F"/></g>
<g class="b" transform="translate(1725.2,474.8)">
<g clip-path="url(#c)"><path class="bb" d="M10.2,38.8L14.3,39.8L18.5,42.3L22.6,44.5L26.8,44.7L31,41.3L35.1,38.2L39.3,38.3L43.4,38.6L47.6,38.6L51.8,38.9L55.9,39.3L60.1,39.6L64.2,39.3L68.4,39L72.6,39L74.6,39.4L76.7,40L80.9,40.5L85,41.5L89.2,43.6L93.4,45.7L97.5,46.6L99.6,46.3L101.7,47L105.8,48.3L109.2,48.3L110,47.9L112.1,47.9L114.2,48.1L115.4,47.9L118.3,46.5L122.5,44.1L122.5,52.3L118.3,56.9L115.4,58.8L114.2,60.8L112.1,63.2L110,58.3L109.2,55.6L105.8,60.3L101.7,56.5L99.6,54.4L97.5,53.2L93.4,49.9L89.2,45L85,49.5L80.9,43L76.7,42.3L74.6,42L72.6,42.1L68.4,45.8L64.2,42.7L60.1,41.5L55.9,40.8L51.8,40.3L47.6,40.3L43.4,39.8L39.3,40L35.1,40.2L31,43.7L26.8,47.4L22.6,46.3L18.5,44.9L14.3,42L10.2,38.8ZM10.2,35.6L14.3,29.1L18.5,32L22.6,32.9L26.8,30.5L31,29.1L35.1,26.2L39.3,27.4L43.4,27L47.6,27.6L51.8,27.4L55.9,27.4L60.1,28.1L64.2,28.5L68.4,28.7L72.6,28.3L74.6,28.1L76.7,28.5L80.9,28.5L85,29.2L89.2,30.2L93.4,31.5L97.5,33.2L99.6,33L101.7,32.9L105.8,33.6L109.2,35.1L110,35.5L112.1,35.3L114.2,34.4L115.4,33.7L118.3,32.6L122.5,31.2L122.5,33.3L118.3,34.1L115.4,35L114.2,35.5L112.1,36.3L110,36.4L109.2,36.3L105.8,35.7L101.7,35.2L99.6,34.8L97.5,34.6L93.4,33.4L89.2,32.4L85,30.8L80.9,30.3L76.7,29.8L74.6,30.6L72.6,30.6L68.4,30.8L64.2,30.4L60.1,30.5L55.9,30.6L51.8,30.1L47.6,29.5L43.4,28.7L39.3,28.7L35.1,28.1L31,32.2L26.8,35.5L22.6,36.2L18.5,33.1L14.3,30.3L10.2,35.6Z"/><polygon class="ob" points="10.2,35.6 14.3,30.3 18.5,33.1 22.6,36.2 26.8,35.5 31,32.2 35.1,28.1 39.3,28.7 43.4,28.7 47.6,29.5 51.8,30.1 55.9,30.6 60.1,30.5 64.2,30.4 68.4,30.8 72.6,30.6 74.6,30.6 76.7,29.8 80.9,30.3 85,30.8 89.2,32.4 93.4,33.4 97.5,34.6 99.6,34.8 101.7,35.2 105.8,35.7 109.2,36.3 110,36.4 112.1,36.3 114.2,35.5 115.4,35 118.3,34.1 122.5,33.3 122.5,44.1 118.3,46.5 115.4,47.9 114.2,48.1 112.1,47.9 110,47.9 109.2,48.3 105.8,48.3 101.7,47 99.6,46.3 97.5,46.6 93.4,45.7 89.2,43.6 85,41.5 80.9,40.5 76.7,40 74.6,39.4 72.6,39 68.4,39 64.2,39.3 60.1,39.6 55.9,39.3 51.8,38.9 47.6,38.6 43.4,38.6 39.3,38.3 35.1,38.2 31,41.3 26.8,44.7 22.6,44.5 18.5,42.3 14.3,39.8 10.2,38.8"/></g>
<use href="#m8"/><use href="#G"/>
<polyline class="ml" clip-path="url(#c)" points="6,84 6.2,47.6 7,40.5 8.1,35.5 9.1,34.5 10.2,34.4 11.2,34.3 12.2,34.2 13.3,34.2 14.3,34.5 15.4,34.9 16.4,35.7 17.4,36.5 18.5,37.2 20.6,38.7 22.6,40.1 24.7,41.3 26.8,40.3 28.9,38.6 31,36.9 33,35.2 35.1,33.8 37.2,33.8 39.3,34 41.4,33.9 43.4,33.9 45.5,34 47.6,34.3 49.7,34.3 51.8,34.4 53.8,34.3 55.9,34.4 58,34.6 60.1,34.7 62.2,34.9 64.2,34.9 66.3,35 68.4,35.3 70.5,35.3 72.6,35.3 74.6,35.5 76.7,35.4 78.8,35.5 80.9,35.2 83,35.7 85,36.2 87.1,36.7 89.2,37.2 91.3,37.5 93.4,38.1 95.4,38.6 97.5,39 99.6,39.4 101.7,39.8 103.8,40.3 105.8,40.7 107.9,41.1 110,41.1 112.1,40.6 114.2,39.9 116.2,39.4 118.3,38.9 120.4,38.3 122.5,37.7"/>
<use href="#F"/></g>
<g class="b" transform="translate(1904.6,474.8)">
<g clip-path="url(#c)"><path class="bb" d="M10.2,38.8L14.3,39.4L18.5,41.5L22.6,44.2L26.8,44.1L31,40.8L35.1,36.9L39.3,37.1L43.4,37.8L47.6,37.8L51.8,37.7L55.9,36.7L60.1,36.7L64.2,36.2L68.4,37L72.6,37.1L76.7,37.7L80.9,37.7L85,41.1L89.2,44.1L93.4,45L97.5,45.4L99.6,45.8L101.7,46L103.8,46.2L105.8,46.7L107.9,46.8L110,47.3L114.2,47.8L118.3,47.8L122.5,48.1L122.5,62.9L118.3,59.4L114.2,56.6L110,51.6L107.9,49.4L105.8,50.6L103.8,52.3L101.7,55.2L99.6,57.6L97.5,55.3L93.4,51.7L89.2,46.8L85,43.8L80.9,40L76.7,40.1L72.6,40.2L68.4,39.9L64.2,40L60.1,39.8L55.9,40.1L51.8,39.6L47.6,39.5L43.4,38.9L39.3,38.3L35.1,38.7L31,42.7L26.8,45.8L22.6,45.9L18.5,43.7L14.3,41.3L10.2,38.8ZM10.2,35.6L14.3,28L18.5,30.5L22.6,32.6L26.8,31.6L31,27.4L35.1,24.9L39.3,25.9L43.4,26.3L47.6,25.9L51.8,25.6L55.9,25.4L60.1,25.6L64.2,25.6L68.4,26.1L72.6,25.7L76.7,26.4L80.9,26.6L85,28.2L89.2,29.2L93.4,29.9L97.5,30.1L99.6,29.4L101.7,28.9L103.8,28.1L105.8,27.8L107.9,27.4L110,28.1L114.2,28.8L118.3,29.3L122.5,30.2L122.5,31.3L118.3,31.5L114.2,31.4L110,31.4L107.9,31.4L105.8,31.6L103.8,31.7L101.7,31.3L99.6,30.8L97.5,30.9L93.4,30.8L89.2,30L85,29L80.9,28.6L76.7,28.9L72.6,29.3L68.4,28.7L64.2,28.4L60.1,27.6L55.9,28L51.8,28.1L47.6,29L43.4,28.3L39.3,27.8L35.1,27.7L31,32L26.8,35.9L22.6,36L18.5,33.1L14.3,30.5L10.2,35.6Z"/><polygon class="ob" points="10.2,35.6 14.3,30.5 18.5,33.1 22.6,36 26.8,35.9 31,32 35.1,27.7 39.3,27.8 43.4,28.3 47.6,29 51.8,28.1 55.9,28 60.1,27.6 64.2,28.4 68.4,28.7 72.6,29.3 76.7,28.9 80.9,28.6 85,29 89.2,30 93.4,30.8 97.5,30.9 99.6,30.8 101.7,31.3 103.8,31.7 105.8,31.6 107.9,31.4 110,31.4 114.2,31.4 118.3,31.5 122.5,31.3 122.5,48.1 118.3,47.8 114.2,47.8 110,47.3 107.9,46.8 105.8,46.7 103.8,46.2 101.7,46 99.6,45.8 97.5,45.4 93.4,45 89.2,44.1 85,41.1 80.9,37.7 76.7,37.7 72.6,37.1 68.4,37 64.2,36.2 60.1,36.7 55.9,36.7 51.8,37.7 47.6,37.8 43.4,37.8 39.3,37.1 35.1,36.9 31,40.8 26.8,44.1 22.6,44.2 18.5,41.5 14.3,39.4 10.2,38.8"/></g>
<use href="#m9"/><use href="#G"/>
<polyline class="ml" clip-path="url(#c)" points="6,84 6.2,47.6 7,40.5 8.1,35.5 9.1,34.5 10.2,34.4 11.2,34.3 12.2,34.2 13.3,34.2 14.3,34.4 15.4,34.9 16.4,35.6 17.4,36.4 18.5,37.1 20.6,38.4 22.6,39.7 24.7,40.6 26.8,39.7 28.9,37.5 31,35.5 33,33.2 35.1,31.9 37.2,31.9 39.3,32.3 41.4,32.6 43.4,32.5 45.5,32.6 47.6,32.8 49.7,32.9 51.8,33.1 53.8,33 55.9,32.8 58,32.6 60.1,32.7 62.2,32.8 64.2,32.8 66.3,32.9 68.4,32.9 70.5,33.2 72.6,33 74.6,33.2 76.7,33 78.8,33 80.9,33.2 83,33.7 85,34.3 87.1,34.8 89.2,35.5 91.3,35.9 93.4,36.5 95.4,36.4 97.5,36.5 99.6,36.6 101.7,36.7 103.8,36.6 105.8,36.5 107.9,36.1 110,36.2 112.1,36.1 114.2,36.3 116.2,36.3 118.3,36.5 120.4,36.5 122.5,36.4"/>
<use href="#F"/></g>
<g class="b" transform="translate(2084,474.8)">
<g clip-path="url(#c)"><path class="bb" d="M10.2,38.8L14.3,39.9L18.5,42.1L22.6,45.4L26.8,45.6L31,42.3L35.1,38L39.3,37.8L43.4,38.1L47.6,38.8L51.8,38.1L55.9,37.5L60.1,36.6L64.2,38L68.4,39.1L72.6,39.9L76.7,39.9L80.9,40.6L85,41.1L89.2,41.6L93.4,41.5L97.5,41.6L99.6,40.9L101.7,40.4L103.8,40.5L105.8,40.9L107.9,42.2L110,43.4L112.1,45.2L114.2,46L118.3,47.4L122.5,45.6L122.5,53.9L118.3,51.4L114.2,49.8L112.1,48.6L110,51.7L107.9,53.8L105.8,56.5L103.8,58.2L101.7,56.7L99.6,54.8L97.5,52.6L93.4,48.9L89.2,46.2L85,44.5L80.9,42.5L76.7,42.1L72.6,41.8L68.4,41.5L64.2,40.9L60.1,40.3L55.9,39.5L51.8,41.3L47.6,43.8L43.4,42.2L39.3,41.3L35.1,44.2L31,47.7L26.8,47.4L22.6,47.5L18.5,44.3L14.3,41.1L10.2,38.8ZM10.2,35.6L14.3,29.2L18.5,32.1L22.6,32.6L26.8,30.1L31,27.7L35.1,26L39.3,26.4L43.4,26.5L47.6,26.8L51.8,26.6L55.9,26.4L60.1,26.5L64.2,27.4L68.4,27.7L72.6,28.2L76.7,28L80.9,27.4L85,26.8L89.2,26.1L93.4,26.4L97.5,26.5L99.6,26.6L101.7,26.3L103.8,26.4L105.8,26.4L107.9,26.7L110,25.8L112.1,26.2L114.2,26.7L118.3,27.3L122.5,30.8L122.5,31.8L118.3,28.3L114.2,28.2L112.1,28.2L110,28L107.9,28.1L105.8,27.2L103.8,27.3L101.7,27.1L99.6,27.5L97.5,27.3L93.4,27.2L89.2,26.9L85,27.7L80.9,28.2L76.7,29.5L72.6,30.9L68.4,30.6L64.2,29.6L60.1,27.9L55.9,28.3L51.8,28.5L47.6,29L43.4,28.7L39.3,28.6L35.1,28.1L31,32L26.8,35.7L22.6,36.4L18.5,33.5L14.3,30.5L10.2,35.6Z"/><polygon class="ob" points="10.2,35.6 14.3,30.5 18.5,33.5 22.6,36.4 26.8,35.7 31,32 35.1,28.1 39.3,28.6 43.4,28.7 47.6,29 51.8,28.5 55.9,28.3 60.1,27.9 64.2,29.6 68.4,30.6 72.6,30.9 76.7,29.5 80.9,28.2 85,27.7 89.2,26.9 93.4,27.2 97.5,27.3 99.6,27.5 101.7,27.1 103.8,27.3 105.8,27.2 107.9,28.1 110,28 112.1,28.2 114.2,28.2 118.3,28.3 122.5,31.8 122.5,45.6 118.3,47.4 114.2,46 112.1,45.2 110,43.4 107.9,42.2 105.8,40.9 103.8,40.5 101.7,40.4 99.6,40.9 97.5,41.6 93.4,41.5 89.2,41.6 85,41.1 80.9,40.6 76.7,39.9 72.6,39.9 68.4,39.1 64.2,38 60.1,36.6 55.9,37.5 51.8,38.1 47.6,38.8 43.4,38.1 39.3,37.8 35.1,38 31,42.3 26.8,45.6 22.6,45.4 18.5,42.1 14.3,39.9 10.2,38.8"/></g>
<use href="#m10"/><use href="#G"/>
<polyline class="ml" clip-path="url(#c)" points="6,84 6.2,47.6 7,40.5 8.1,35.5 9.1,34.5 10.2,34.4 11.2,34.3 12.2,34.2 13.3,34.2 14.3,34.5 15.4,35.1 16.4,35.9 17.4,36.7 18.5,37.5 20.6,39.5 22.6,41.3 24.7,42.1 26.8,40.4 28.9,38.4 31,36.7 33,34.8 35.1,33.2 37.2,33 39.3,33.3 41.4,33.3 43.4,33.4 45.5,33.5 47.6,33.9 49.7,33.7 51.8,33.5 53.8,33.1 55.9,32.9 58,32.6 60.1,32.6 62.2,33 64.2,33.7 66.3,34.1 68.4,34.6 70.5,35.1 72.6,35.6 74.6,35.9 76.7,35.9 78.8,35.9 80.9,35.9 83,35.7 85,35.6 87.1,35.8 89.2,36.3 91.3,36.6 93.4,36.8 95.4,36.7 97.5,36.7 99.6,36.6 101.7,36.9 103.8,36.9 105.8,37 107.9,36.9 110,37.2 112.1,37.1 114.2,37.1 116.2,37 118.3,37.2 120.4,37 122.5,37.1"/>
<use href="#F"/></g>
<g class="b" transform="translate(290,592.7)">
<g clip-path="url(#c)"><path class="bb" d="M10.2,40.1L14.3,40.3L18.5,39.5L22.6,34.9L26.8,32.4L31,32.5L35.1,33.3L39.3,34L43.4,34.6L47.6,35.2L51.8,35.6L55.9,36.4L60.1,36.6L64.2,36.9L68.4,36.5L72.6,36.6L76.7,36.8L80.9,36.8L85,36.7L89.2,36.4L93.4,36.3L97.5,36.2L101.7,36.3L105.8,36.4L110,36.9L114.2,37.5L118.3,37.7L122.5,37.6L122.5,40.8L118.3,40.2L114.2,39.2L110,38.8L105.8,38.9L101.7,39.5L97.5,40L93.4,39.5L89.2,39.4L85,39.5L80.9,40.4L76.7,40.7L72.6,41.5L68.4,41.7L64.2,42.2L60.1,41.6L55.9,40.8L51.8,40.5L47.6,39.6L43.4,38.8L39.3,37.3L35.1,35.6L31,35.4L26.8,35.3L22.6,37.7L18.5,41.4L14.3,41.9L10.2,40.1ZM10.2,37L14.3,27.7L18.5,27.6L22.6,23.8L26.8,22.4L31,22.4L35.1,22.9L39.3,22.4L43.4,22.9L47.6,23L51.8,23.5L55.9,23.4L60.1,23.2L64.2,23.8L68.4,24.1L72.6,24.5L76.7,24.4L80.9,24.6L85,25.7L89.2,25.9L93.4,26.3L97.5,25.9L101.7,25.7L105.8,25.3L110,25.8L114.2,25.6L118.3,25.5L122.5,25.7L122.5,27.7L118.3,27.9L114.2,27.1L110,26.8L105.8,26.1L101.7,27L97.5,27L93.4,27.4L89.2,26.8L85,26.5L80.9,26.4L76.7,26.1L72.6,25.9L68.4,25.3L64.2,25.3L60.1,25L55.9,24.9L51.8,24.8L47.6,24.7L43.4,24.4L39.3,23.9L35.1,23.7L31,23.6L26.8,23.7L22.6,25.9L18.5,30.1L14.3,31L10.2,37Z"/><polygon class="ob" points="10.2,37 14.3,31 18.5,30.1 22.6,25.9 26.8,23.7 31,23.6 35.1,23.7 39.3,23.9 43.4,24.4 47.6,24.7 51.8,24.8 55.9,24.9 60.1,25 64.2,25.3 68.4,25.3 72.6,25.9 76.7,26.1 80.9,26.4 85,26.5 89.2,26.8 93.4,27.4 97.5,27 101.7,27 105.8,26.1 110,26.8 114.2,27.1 118.3,27.9 122.5,27.7 122.5,37.6 118.3,37.7 114.2,37.5 110,36.9 105.8,36.4 101.7,36.3 97.5,36.2 93.4,36.3 89.2,36.4 85,36.7 80.9,36.8 76.7,36.8 72.6,36.6 68.4,36.5 64.2,36.9 60.1,36.6 55.9,36.4 51.8,35.6 47.6,35.2 43.4,34.6 39.3,34 35.1,33.3 31,32.5 26.8,32.4 22.6,34.9 18.5,39.5 14.3,40.3 10.2,40.1"/></g>
<use href="#m0"/><use href="#G"/>
<polyline class="ml" clip-path="url(#c)" points="6,84 6.2,48.5 7,41.7 8.1,37 9.1,36.1 10.2,36 11.2,35.9 12.2,35.8 13.3,35.7 14.3,35.6 15.4,35.3 16.4,34.9 17.4,34.6 18.5,34.2 20.6,32.5 22.6,30.3 24.7,28.5 26.8,28 28.9,28.2 31,28.1 33,28.2 35.1,28.4 37.2,28.9 39.3,29.3 41.4,29.5 43.4,29.6 45.5,29.6 47.6,29.6 49.7,29.5 51.8,29.4 53.8,29.3 55.9,29.8 58,29.8 60.1,30 62.2,30 64.2,30.4 66.3,30.2 68.4,30.2 70.5,30.3 72.6,30.5 74.6,30.7 76.7,30.4 78.8,30.5 80.9,30.3 83,30.5 85,30.6 87.1,31 89.2,31.2 91.3,31.3 93.4,31.3 95.4,31.5 97.5,31.6 99.6,32 101.7,31.9 103.8,32.1 105.8,32.2 107.9,32.2 110,32.2 112.1,32.1 114.2,32.5 116.2,32.4 118.3,32.7 120.4,32.7 122.5,33"/>
<use href="#F"/></g>
<g class="b" transform="translate(469.4,592.7)">
<g clip-path="url(#c)"><path class="bb" d="M10.2,39.5L14.3,39L18.5,38.9L22.6,38.3L26.8,37.3L31,36.4L35.1,35.7L39.3,35.1L43.4,35.2L47.6,35.3L51.8,35.4L55.9,35.6L60.1,35.3L64.2,35.6L68.4,35.3L72.6,35.5L76.7,35.5L80.9,36.6L85,37.6L89.2,38.2L93.4,38.4L97.5,37.9L101.7,38.4L105.8,38.1L110,38.7L114.2,38.1L118.3,38.7L122.5,38.5L122.5,39.5L118.3,39.5L114.2,38.9L110,39.5L105.8,39L101.7,39.5L97.5,39.5L93.4,39.2L89.2,39L85,38.4L80.9,38.1L76.7,36.6L72.6,36.3L68.4,36.1L64.2,36.4L60.1,37.4L55.9,37.3L51.8,36.8L47.6,36.2L43.4,36L39.3,35.9L35.1,36.5L31,37.3L26.8,38.1L22.6,39.1L18.5,39.7L14.3,39.8L10.2,39.5ZM10.2,36.3L14.3,28.7L18.5,28.6L22.6,28.3L26.8,27L31,26.3L35.1,25.2L39.3,24.1L43.4,24L47.6,23.9L51.8,23.8L55.9,24.1L60.1,24.3L64.2,24.8L68.4,25.7L72.6,26L76.7,26.4L80.9,26.1L85,25.7L89.2,26.2L93.4,26.9L97.5,27.4L101.7,26.9L105.8,27.1L110,27.8L114.2,28.1L118.3,27.8L122.5,27.9L122.5,28.8L118.3,29.1L114.2,28.9L110,29.6L105.8,29.6L101.7,28.8L97.5,28.2L93.4,27.8L89.2,27.5L85,27.6L80.9,27.3L76.7,27.2L72.6,26.9L68.4,26.5L64.2,25.6L60.1,25.2L55.9,25L51.8,25.4L47.6,25.3L43.4,25.4L39.3,25L35.1,26L31,27.2L26.8,28.6L22.6,29.5L18.5,29.9L14.3,29.5L10.2,36.3Z"/><polygon class="ob" points="10.2,36.3 14.3,29.5 18.5,29.9 22.6,29.5 26.8,28.6 31,27.2 35.1,26 39.3,25 43.4,25.4 47.6,25.3 51.8,25.4 55.9,25 60.1,25.2 64.2,25.6 68.4,26.5 72.6,26.9 76.7,27.2 80.9,27.3 85,27.6 89.2,27.5 93.4,27.8 97.5,28.2 101.7,28.8 105.8,29.6 110,29.6 114.2,28.9 118.3,29.1 122.5,28.8 122.5,38.5 118.3,38.7 114.2,38.1 110,38.7 105.8,38.1 101.7,38.4 97.5,37.9 93.4,38.4 89.2,38.2 85,37.6 80.9,36.6 76.7,35.5 72.6,35.5 68.4,35.3 64.2,35.6 60.1,35.3 55.9,35.6 51.8,35.4 47.6,35.3 43.4,35.2 39.3,35.1 35.1,35.7 31,36.4 26.8,37.3 22.6,38.3 18.5,38.9 14.3,39 10.2,39.5"/></g>
<use href="#m1"/><use href="#G"/>
<polyline class="ml" clip-path="url(#c)" points="6,84 6.2,48.4 7,41.3 8.1,36.1 9.1,35 10.2,34.9 11.2,34.8 12.2,34.8 13.3,34.7 14.3,34.6 15.4,34.5 16.4,34.3 17.4,34.1 18.5,33.9 20.6,33.7 22.6,33.2 24.7,32.9 26.8,32.6 28.9,32.1 31,31.6 33,31.1 35.1,30.6 37.2,30 39.3,29.5 41.4,29.5 43.4,29.6 45.5,29.6 47.6,29.9 49.7,30.2 51.8,30.4 53.8,30.4 55.9,30.5 58,30.5 60.1,30.6 62.2,30.6 64.2,30.8 66.3,31.1 68.4,31.2 70.5,31.2 72.6,31.2 74.6,31.2 76.7,31.2 78.8,31.4 80.9,31.6 83,31.9 85,32.1 87.1,32.4 89.2,32.4 91.3,32.4 93.4,32.5 95.4,32.7 97.5,33 99.6,33.2 101.7,33.5 103.8,33.2 105.8,33.4 107.9,33.3 110,33.6 112.1,33.3 114.2,33.5 116.2,33.7 118.3,33.8 120.4,33.7 122.5,33.6"/>
<use href="#F"/></g>
<g class="b" transform="translate(648.8,592.7)">
<g clip-path="url(#c)"><path class="bb" d="M10.2,37.9L14.3,39.1L18.5,39.7L22.6,39.4L26.8,38.1L31,37.1L35.1,36.3L39.3,36.4L43.4,36.2L47.6,36L51.8,36.1L55.9,36.2L60.1,36.2L64.2,35.8L68.4,35.8L72.6,36.9L76.7,37.5L80.9,37.8L85,38.1L89.2,38.3L93.4,39L97.5,39L101.7,38.9L105.8,38.8L110,38.5L114.2,38.6L118.3,38.3L122.5,38.5L122.5,39.8L118.3,39.4L114.2,39.4L110,39.3L105.8,39.6L101.7,39.7L97.5,39.8L93.4,39.8L89.2,39.2L85,39.8L80.9,39.4L76.7,39.3L72.6,40.1L68.4,42L64.2,43L60.1,42.2L55.9,40.8L51.8,39.1L47.6,38.5L43.4,37.9L39.3,38.4L35.1,37.3L31,38.8L26.8,40L22.6,41.5L18.5,41.6L14.3,40.9L10.2,37.9ZM10.2,34.7L14.3,28.8L18.5,29.4L22.6,29.1L26.8,27.8L31,26.7L35.1,25.4L39.3,24.3L43.4,24L47.6,23.8L51.8,24.2L55.9,24.7L60.1,24.5L64.2,24.3L68.4,23.4L72.6,24L76.7,24.4L80.9,25.5L85,26L89.2,26L93.4,26.1L97.5,25.4L101.7,26.1L105.8,25.9L110,26.6L114.2,26.1L118.3,25.9L122.5,25.7L122.5,28.5L118.3,28L114.2,27.9L110,27.8L105.8,28.3L101.7,28.1L97.5,27.8L93.4,27.5L89.2,27.6L85,27.7L80.9,27.5L76.7,27.5L72.6,26.8L68.4,26.1L64.2,25.2L60.1,25.7L55.9,26.6L51.8,26.7L47.6,26.8L43.4,26.6L39.3,26.6L35.1,26.8L31,28.2L26.8,29.9L22.6,31L18.5,31.2L14.3,30.1L10.2,34.7Z"/><polygon class="ob" points="10.2,34.7 14.3,30.1 18.5,31.2 22.6,31 26.8,29.9 31,28.2 35.1,26.8 39.3,26.6 43.4,26.6 47.6,26.8 51.8,26.7 55.9,26.6 60.1,25.7 64.2,25.2 68.4,26.1 72.6,26.8 76.7,27.5 80.9,27.5 85,27.7 89.2,27.6 93.4,27.5 97.5,27.8 101.7,28.1 105.8,28.3 110,27.8 114.2,27.9 118.3,28 122.5,28.5 122.5,38.5 118.3,38.3 114.2,38.6 110,38.5 105.8,38.8 101.7,38.9 97.5,39 93.4,39 89.2,38.3 85,38.1 80.9,37.8 76.7,37.5 72.6,36.9 68.4,35.8 64.2,35.8 60.1,36.2 55.9,36.2 51.8,36.1 47.6,36 43.4,36.2 39.3,36.4 35.1,36.3 31,37.1 26.8,38.1 22.6,39.4 18.5,39.7 14.3,39.1 10.2,37.9"/></g>
<use href="#m2"/><use href="#G"/>
<polyline class="ml" clip-path="url(#c)" points="6,84 6.2,48.4 7,41.3 8.1,36.1 9.1,35 10.2,34.9 11.2,34.8 12.2,34.7 13.3,34.7 14.3,34.8 15.4,34.9 16.4,35.1 17.4,35.2 18.5,35.2 20.6,35 22.6,34.4 24.7,34.2 26.8,34.1 28.9,33.8 31,33.3 33,32.5 35.1,31.9 37.2,31.5 39.3,31.3 41.4,31.4 43.4,31.5 45.5,31.2 47.6,31 49.7,31 51.8,31.1 53.8,31.1 55.9,30.8 58,30.8 60.1,30.7 62.2,30.5 64.2,30.2 66.3,30.4 68.4,30.6 70.5,31 72.6,31.1 74.6,31.4 76.7,31.8 78.8,32 80.9,32.2 83,32 85,32 87.1,31.9 89.2,32 91.3,32.3 93.4,32.8 95.4,33 97.5,33 99.6,32.7 101.7,32.5 103.8,32.4 105.8,32.5 107.9,32.5 110,32.9 112.1,33 114.2,33.1 116.2,33 118.3,33 120.4,32.7 122.5,32.7"/>
<use href="#F"/></g>
<g class="k" transform="translate(828.2,592.7)">
<g clip-path="url(#c)"><path class="bb" d="M10.2,38.1L14.3,41.1L18.5,43.4L22.6,41.7L26.8,40L31,38.1L35.1,36.9L39.3,37.3L43.4,37.4L47.6,37.5L51.8,37.5L55.9,37.3L60.1,36.8L64.2,36L68.4,37.5L72.6,38.9L76.7,40.8L80.9,40.8L85,40.7L89.2,40.1L93.4,40.3L97.5,40.1L101.7,40.3L105.8,40.1L110,39.8L114.2,39.8L118.3,39.4L122.5,39.7L122.5,41.4L118.3,41.1L114.2,41.7L110,41.7L105.8,42.4L101.7,42.4L97.5,41.9L93.4,42.3L89.2,41.5L85,41.8L80.9,41.7L76.7,41.7L72.6,40L68.4,38.8L64.2,37.3L60.1,37.6L55.9,38.2L51.8,38.8L47.6,38.8L43.4,39.3L39.3,38.5L35.1,38.5L31,39.7L26.8,42.2L22.6,43.9L18.5,45.5L14.3,42.7L10.2,38.1ZM10.2,34.9L14.3,29.4L18.5,31.6L22.6,30.1L26.8,28.2L31,27.8L35.1,26.3L39.3,26.3L43.4,25.9L47.6,26.2L51.8,26.4L55.9,26.6L60.1,25.9L64.2,25.9L68.4,26.7L72.6,28.3L76.7,29.4L80.9,29.7L85,29L89.2,28L93.4,27.9L97.5,27.4L101.7,28.2L105.8,29.7L110,29.6L114.2,29.7L118.3,29.2L122.5,28.5L122.5,29.9L118.3,30.1L114.2,30.6L110,30.5L105.8,30.5L101.7,30.4L97.5,31.1L93.4,31.7L89.2,31.9L85,31.7L80.9,31.5L76.7,30.8L72.6,29.6L68.4,28.1L64.2,27.3L60.1,27.3L55.9,27.8L51.8,27.2L47.6,27L43.4,26.8L39.3,27.2L35.1,27.2L31,29L26.8,30.4L22.6,32.8L18.5,33.6L14.3,31.7L10.2,34.9Z"/><polygon class="ob" points="10.2,34.9 14.3,31.7 18.5,33.6 22.6,32.8 26.8,30.4 31,29 35.1,27.2 39.3,27.2 43.4,26.8 47.6,27 51.8,27.2 55.9,27.8 60.1,27.3 64.2,27.3 68.4,28.1 72.6,29.6 76.7,30.8 80.9,31.5 85,31.7 89.2,31.9 93.4,31.7 97.5,31.1 101.7,30.4 105.8,30.5 110,30.5 114.2,30.6 118.3,30.1 122.5,29.9 122.5,39.7 118.3,39.4 114.2,39.8 110,39.8 105.8,40.1 101.7,40.3 97.5,40.1 93.4,40.3 89.2,40.1 85,40.7 80.9,40.8 76.7,40.8 72.6,38.9 68.4,37.5 64.2,36 60.1,36.8 55.9,37.3 51.8,37.5 47.6,37.5 43.4,37.4 39.3,37.3 35.1,36.9 31,38.1 26.8,40 22.6,41.7 18.5,43.4 14.3,41.1 10.2,38.1"/></g>
<use href="#m3"/><use href="#G"/>
<polyline class="ml" clip-path="url(#c)" points="6,84 6.2,49.3 7,42 8.1,36.2 9.1,35 10.2,34.9 11.2,34.8 12.2,34.8 13.3,35.1 14.3,35.7 15.4,36.4 16.4,37.1 17.4,37.9 18.5,38.3 20.6,38.1 22.6,37.4 24.7,36.5 26.8,35.6 28.9,34.7 31,34 33,33.4 35.1,33.3 37.2,33.3 39.3,33.3 41.4,32.7 43.4,32.4 45.5,32.2 47.6,32.3 49.7,32.2 51.8,32.4 53.8,32.2 55.9,32.2 58,31.9 60.1,31.8 62.2,31.9 64.2,31.7 66.3,32.4 68.4,32.8 70.5,33.7 72.6,34.1 74.6,34.9 76.7,35.4 78.8,35.6 80.9,35.7 83,35.6 85,35.7 87.1,35.7 89.2,35.8 91.3,35.6 93.4,35.9 95.4,35.7 97.5,35.7 99.6,35.5 101.7,35.5 103.8,35.7 105.8,35.6 107.9,35.4 110,35.1 112.1,35.2 114.2,35.3 116.2,35.4 118.3,35.1 120.4,35 122.5,35"/>
<use href="#F"/></g>
<g class="b" transform="translate(1007.6,592.7)">
<g clip-path="url(#c)"><path class="bb" d="M10.2,39.1L14.3,40.7L18.5,43.5L22.6,43.3L26.8,42.2L31,41L35.1,40.6L39.3,40.3L43.4,39.8L47.6,39.7L51.8,38.8L55.9,38.5L60.1,37.6L64.2,36.9L68.4,36.2L72.6,35.6L76.7,35.6L80.9,35.3L85,35.7L89.2,35.6L93.4,35.8L97.5,36.1L101.7,35.8L105.8,35.7L110,35.6L114.2,36.1L118.3,36L122.5,36L122.5,37.7L118.3,37.2L114.2,37.7L110,37L105.8,37.5L101.7,36.6L97.5,36.9L93.4,36.7L89.2,37.2L85,37L80.9,36.2L76.7,36.4L72.6,36.8L68.4,38.2L64.2,38.8L60.1,39.6L55.9,40L51.8,39.7L47.6,40.6L43.4,40.7L39.3,41.6L35.1,42.1L31,43.2L26.8,43.4L22.6,44.2L18.5,44.4L14.3,41.5L10.2,39.1ZM10.2,35.9L14.3,29.7L18.5,32L22.6,30.7L26.8,30.2L31,28.7L35.1,29.4L39.3,29.6L43.4,29L47.6,29L51.8,28.7L55.9,27.6L60.1,27L64.2,25.9L68.4,25.1L72.6,24.6L76.7,24.2L80.9,24L85,24.4L89.2,24.5L93.4,24.4L97.5,24.2L101.7,24.6L105.8,25.1L110,25.6L114.2,24.8L118.3,24.5L122.5,24.9L122.5,26L118.3,26.2L114.2,26.1L110,26.4L105.8,25.9L101.7,25.8L97.5,25.8L93.4,26L89.2,25.9L85,25.2L80.9,24.8L76.7,25L72.6,25.4L68.4,26L64.2,26.7L60.1,27.8L55.9,28.5L51.8,29.6L47.6,29.8L43.4,30.9L39.3,31.1L35.1,32L31,32.5L26.8,33.8L22.6,34.5L18.5,33.7L14.3,30.7L10.2,35.9Z"/><polygon class="ob" points="10.2,35.9 14.3,30.7 18.5,33.7 22.6,34.5 26.8,33.8 31,32.5 35.1,32 39.3,31.1 43.4,30.9 47.6,29.8 51.8,29.6 55.9,28.5 60.1,27.8 64.2,26.7 68.4,26 72.6,25.4 76.7,25 80.9,24.8 85,25.2 89.2,25.9 93.4,26 97.5,25.8 101.7,25.8 105.8,25.9 110,26.4 114.2,26.1 118.3,26.2 122.5,26 122.5,36 118.3,36 114.2,36.1 110,35.6 105.8,35.7 101.7,35.8 97.5,36.1 93.4,35.8 89.2,35.6 85,35.7 80.9,35.3 76.7,35.6 72.6,35.6 68.4,36.2 64.2,36.9 60.1,37.6 55.9,38.5 51.8,38.8 47.6,39.7 43.4,39.8 39.3,40.3 35.1,40.6 31,41 26.8,42.2 22.6,43.3 18.5,43.5 14.3,40.7 10.2,39.1"/></g>
<use href="#m4"/><use href="#G"/>
<polyline class="ml" clip-path="url(#c)" points="6,84 6.2,47.6 7,40.7 8.1,36 9.1,35 10.2,34.9 11.2,34.8 12.2,34.8 13.3,34.7 14.3,34.9 15.4,35.4 16.4,36 17.4,36.7 18.5,37.3 20.6,38.4 22.6,38 24.7,37.6 26.8,37.2 28.9,36.9 31,36.6 33,36.2 35.1,35.7 37.2,35.4 39.3,35.2 41.4,35 43.4,34.7 45.5,34.3 47.6,34.2 49.7,34.3 51.8,34.1 53.8,34.1 55.9,33.6 58,33.2 60.1,32.7 62.2,32.4 64.2,32.4 66.3,32.4 68.4,32.1 70.5,31.7 72.6,31.1 74.6,30.8 76.7,30.3 78.8,30.1 80.9,29.9 83,29.9 85,30 87.1,30.2 89.2,30.5 91.3,30.6 93.4,30.8 95.4,31 97.5,31 99.6,30.8 101.7,30.7 103.8,30.8 105.8,31 107.9,30.8 110,30.8 112.1,31.2 114.2,31.5 116.2,31.4 118.3,31 120.4,30.9 122.5,31.1"/>
<use href="#F"/></g>
<g class="g" transform="translate(1187,592.7)">
<g clip-path="url(#c)"><path class="bb" d="M10.2,39.1L14.3,40.7L18.5,43.3L22.6,42.3L26.8,38.4L31,37.6L35.1,37.5L39.3,37.3L43.4,37.3L47.6,38.5L51.8,38.9L55.9,40.1L60.1,40.5L64.2,43.1L68.4,45.3L72.6,47.3L76.7,49.6L80.9,50L85,50.5L89.2,50.5L93.4,50.4L97.5,50.7L101.7,49.8L105.8,49.7L110,48.8L114.2,48.4L118.3,48.3L122.5,47L122.5,48.5L118.3,50.4L114.2,50.7L110,51L105.8,51L101.7,51.3L97.5,51.6L93.4,51.3L89.2,51.3L85,51.3L80.9,50.8L76.7,50.7L72.6,48.6L68.4,46.2L64.2,44L60.1,41.3L55.9,40.9L51.8,39.8L47.6,39.4L43.4,38.1L39.3,38.1L35.1,38.3L31,38.5L26.8,39.2L22.6,43.2L18.5,44.2L14.3,41.5L10.2,39.1ZM10.2,35.9L14.3,29.7L18.5,31.7L22.6,28.8L26.8,27L31,27L35.1,25.6L39.3,26.4L43.4,26.5L47.6,27.1L51.8,28.5L55.9,29L60.1,30.2L64.2,30.4L68.4,30.4L72.6,31L76.7,31.3L80.9,31.4L85,31.8L89.2,32.5L93.4,32.7L97.5,32L101.7,31.6L105.8,31.1L110,31.2L114.2,30.4L118.3,30.8L122.5,31.6L122.5,32.5L118.3,33L114.2,33.3L110,34.2L105.8,33.9L101.7,33.8L97.5,33.2L93.4,33.5L89.2,33.4L85,32.7L80.9,32.2L76.7,32.1L72.6,32L68.4,31.7L64.2,31.4L60.1,31.1L55.9,30.5L51.8,29.8L47.6,29.3L43.4,28.4L39.3,28.1L35.1,28L31,28.2L26.8,28.2L22.6,32.1L18.5,32.6L14.3,30.6L10.2,35.9Z"/><polygon class="ob" points="10.2,35.9 14.3,30.6 18.5,32.6 22.6,32.1 26.8,28.2 31,28.2 35.1,28 39.3,28.1 43.4,28.4 47.6,29.3 51.8,29.8 55.9,30.5 60.1,31.1 64.2,31.4 68.4,31.7 72.6,32 76.7,32.1 80.9,32.2 85,32.7 89.2,33.4 93.4,33.5 97.5,33.2 101.7,33.8 105.8,33.9 110,34.2 114.2,33.3 118.3,33 122.5,32.5 122.5,47 118.3,48.3 114.2,48.4 110,48.8 105.8,49.7 101.7,49.8 97.5,50.7 93.4,50.4 89.2,50.5 85,50.5 80.9,50 76.7,49.6 72.6,47.3 68.4,45.3 64.2,43.1 60.1,40.5 55.9,40.1 51.8,38.9 47.6,38.5 43.4,37.3 39.3,37.3 35.1,37.5 31,37.6 26.8,38.4 22.6,42.3 18.5,43.3 14.3,40.7 10.2,39.1"/></g>
<use href="#m5"/><use href="#G"/>
<polyline class="ml" clip-path="url(#c)" points="6,84 6.2,47.6 7,40.7 8.1,36 9.1,35 10.2,34.9 11.2,34.8 12.2,34.8 13.3,34.7 14.3,34.9 15.4,35.4 16.4,36 17.4,36.6 18.5,37.3 20.6,38.2 22.6,37 24.7,34.9 26.8,33.3 28.9,32.8 31,32.6 33,32.7 35.1,32.9 37.2,32.9 39.3,32.7 41.4,32.6 43.4,32.8 45.5,33.1 47.6,33.3 49.7,33.3 51.8,33.9 53.8,34.5 55.9,34.9 58,35.2 60.1,35.5 62.2,35.9 64.2,36 66.3,35.9 68.4,36.1 70.5,36.4 72.6,36.7 74.6,36.8 76.7,37.1 78.8,37.4 80.9,37.4 83,37.5 85,37.4 87.1,37.4 89.2,37.7 91.3,38.1 93.4,38.4 95.4,38.4 97.5,38.2 99.6,38.3 101.7,38.4 103.8,38.5 105.8,38.6 107.9,38.6 110,38.8 112.1,38.4 114.2,38 116.2,37.5 118.3,37.4 120.4,37.2 122.5,37.1"/>
<use href="#F"/></g>
<g class="b" transform="translate(1366.4,592.7)">
<g clip-path="url(#c)"><path class="bb" d="M10.2,39.1L14.3,40.6L18.5,44L22.6,44.2L26.8,41.9L31,39.3L35.1,38.2L39.3,37.3L43.4,36.4L47.6,35.3L51.8,35.6L55.9,36.1L60.1,36.7L64.2,36.9L68.4,37.2L72.6,37.4L76.7,38.1L80.9,38.5L85,39.4L89.2,39.9L93.4,40.4L97.5,40.5L101.7,40.7L105.8,40.8L110,41.1L114.2,42L118.3,43.7L120.4,43.1L122.5,42.8L122.5,47.3L120.4,48L118.3,46L114.2,42.8L110,41.9L105.8,41.6L101.7,41.6L97.5,41.4L93.4,41.3L89.2,40.7L85,40.3L80.9,39.4L76.7,39.4L72.6,39L68.4,39L64.2,38L60.1,37.7L55.9,36.9L51.8,36.4L47.6,36.1L43.4,37.2L39.3,38.2L35.1,39L31,40.2L26.8,42.7L22.6,45L18.5,44.9L14.3,41.7L10.2,39.1ZM10.2,35.9L14.3,31.1L18.5,33.9L22.6,34.1L26.8,31.8L31,29.6L35.1,28.4L39.3,27L43.4,26.2L47.6,25.2L51.8,25.2L55.9,25.6L60.1,26L64.2,26.4L68.4,26.5L72.6,27.1L76.7,27.8L80.9,28.1L85,28L89.2,28.6L93.4,28.4L97.5,29.5L101.7,29.5L105.8,29.5L110,27.1L114.2,26L118.3,24.8L120.4,26.7L122.5,28L122.5,29.7L120.4,28.1L118.3,27.5L114.2,29.3L110,30.4L105.8,31L101.7,30.5L97.5,30.4L93.4,30.6L89.2,29.5L85,29.7L80.9,29.2L76.7,29.1L72.6,28L68.4,27.3L64.2,27.2L60.1,27L55.9,26.4L51.8,26L47.6,26L43.4,27L39.3,27.8L35.1,29.3L31,30.4L26.8,32.9L22.6,34.9L18.5,34.7L14.3,31.9L10.2,35.9Z"/><polygon class="ob" points="10.2,35.9 14.3,31.9 18.5,34.7 22.6,34.9 26.8,32.9 31,30.4 35.1,29.3 39.3,27.8 43.4,27 47.6,26 51.8,26 55.9,26.4 60.1,27 64.2,27.2 68.4,27.3 72.6,28 76.7,29.1 80.9,29.2 85,29.7 89.2,29.5 93.4,30.6 97.5,30.4 101.7,30.5 105.8,31 110,30.4 114.2,29.3 118.3,27.5 120.4,28.1 122.5,29.7 122.5,42.8 120.4,43.1 118.3,43.7 114.2,42 110,41.1 105.8,40.8 101.7,40.7 97.5,40.5 93.4,40.4 89.2,39.9 85,39.4 80.9,38.5 76.7,38.1 72.6,37.4 68.4,37.2 64.2,36.9 60.1,36.7 55.9,36.1 51.8,35.6 47.6,35.3 43.4,36.4 39.3,37.3 35.1,38.2 31,39.3 26.8,41.9 22.6,44.2 18.5,44 14.3,40.6 10.2,39.1"/></g>
<use href="#m6"/><use href="#G"/>
<polyline class="ml" clip-path="url(#c)" points="6,84 6.2,47.6 7,40.7 8.1,36 9.1,35 10.2,34.9 11.2,34.8 12.2,34.8 13.3,34.7 14.3,35.1 15.4,35.8 16.4,36.8 17.4,37.7 18.5,38.7 20.6,40.2 22.6,39.6 24.7,38.1 26.8,36.9 28.9,35.6 31,34.6 33,33.8 35.1,33.4 37.2,32.9 39.3,32.3 41.4,31.8 43.4,31.2 45.5,31 47.6,30.9 49.7,31.1 51.8,31.1 53.8,31.3 55.9,31.3 58,31.7 60.1,31.8 62.2,32.4 64.2,32.7 66.3,32.7 68.4,32.7 70.5,32.6 72.6,33 74.6,33.3 76.7,33.9 78.8,34.1 80.9,34 83,34 85,34.1 87.1,34.6 89.2,34.7 91.3,35 93.4,35 95.4,35.3 97.5,35 99.6,35.4 101.7,35.4 103.8,35.6 105.8,35.6 107.9,35.6 110,35.7 112.1,35.8 114.2,36 116.2,36 118.3,36.4 120.4,36.3 122.5,36.5"/>
<use href="#F"/></g>
<g class="k" transform="translate(1545.8,592.7)">
<g clip-path="url(#c)"><path class="bb" d="M10.2,39.2L14.3,40.5L16.4,42.3L18.5,44.6L22.6,44.5L26.8,41.6L28.9,39.8L31,38.7L35.1,37.9L39.3,37.6L43.4,37.1L47.6,36.9L51.8,36.6L53.8,36.2L55.9,36.4L60.1,37L64.2,37.3L68.4,37.6L72.6,37L76.7,36.6L80.9,35.9L85,36L89.2,35.6L93.4,35.4L97.5,35.8L101.7,36.6L105.8,36.8L110,36.5L114.2,36.5L118.3,36.8L122.5,37.1L122.5,38L118.3,38.1L114.2,37.6L110,37.4L105.8,37.6L101.7,37.5L97.5,37.5L93.4,37.7L89.2,38.3L85,38L80.9,38.2L76.7,38.2L72.6,38.8L68.4,39.1L64.2,39.3L60.1,38.5L55.9,39L53.8,39.6L51.8,41.4L47.6,44.5L43.4,41.5L39.3,38.8L35.1,39.3L31,40.1L28.9,41.5L26.8,43.2L22.6,46.1L18.5,45.5L16.4,43.1L14.3,41.3L10.2,39.2ZM10.2,36L14.3,28.8L16.4,30.2L18.5,32.1L22.6,33.4L26.8,30.6L28.9,28.4L31,26.4L35.1,25.5L39.3,25.9L43.4,25.7L47.6,25.4L51.8,25.1L53.8,24.2L55.9,24.7L60.1,25.5L64.2,26.7L68.4,25.8L72.6,24.9L76.7,24.8L80.9,25L85,25.1L89.2,24.2L93.4,24.2L97.5,24.9L101.7,25.6L105.8,24.8L110,24.2L114.2,23.8L118.3,24.6L122.5,25.2L122.5,26.7L118.3,26.2L114.2,26L110,26.5L105.8,26.6L101.7,26.6L97.5,26.3L93.4,26.4L89.2,26.5L85,26.1L80.9,26.4L76.7,26.9L72.6,27.8L68.4,28.1L64.2,28.1L60.1,27.3L55.9,27.1L53.8,26.9L51.8,27.2L47.6,27L43.4,27L39.3,27.2L35.1,28L31,29.1L28.9,30.7L26.8,32.5L22.6,35.5L18.5,35.2L16.4,33.4L14.3,31.8L10.2,36Z"/><polygon class="ob" points="10.2,36 14.3,31.8 16.4,33.4 18.5,35.2 22.6,35.5 26.8,32.5 28.9,30.7 31,29.1 35.1,28 39.3,27.2 43.4,27 47.6,27 51.8,27.2 53.8,26.9 55.9,27.1 60.1,27.3 64.2,28.1 68.4,28.1 72.6,27.8 76.7,26.9 80.9,26.4 85,26.1 89.2,26.5 93.4,26.4 97.5,26.3 101.7,26.6 105.8,26.6 110,26.5 114.2,26 118.3,26.2 122.5,26.7 122.5,37.1 118.3,36.8 114.2,36.5 110,36.5 105.8,36.8 101.7,36.6 97.5,35.8 93.4,35.4 89.2,35.6 85,36 80.9,35.9 76.7,36.6 72.6,37 68.4,37.6 64.2,37.3 60.1,37 55.9,36.4 53.8,36.2 51.8,36.6 47.6,36.9 43.4,37.1 39.3,37.6 35.1,37.9 31,38.7 28.9,39.8 26.8,41.6 22.6,44.5 18.5,44.6 16.4,42.3 14.3,40.5 10.2,39.2"/></g>
<use href="#m7"/><use href="#G"/>
<polyline class="ml" clip-path="url(#c)" points="6,84 6.2,48.4 7,41.2 8.1,35.6 9.1,34.5 10.2,34.4 11.2,34.3 12.2,34.2 13.3,34.2 14.3,34.7 15.4,35.6 16.4,36.8 17.4,38 18.5,39.4 20.6,41.2 22.6,40.4 24.7,38.6 26.8,36.6 28.9,35 31,33.3 33,33.2 35.1,32.9 37.2,33.1 39.3,32.7 41.4,32.4 43.4,32 45.5,31.9 47.6,31.6 49.7,31.8 51.8,32 53.8,32.1 55.9,32.1 58,32.1 60.1,32.6 62.2,32.7 64.2,32.6 66.3,32.6 68.4,32.3 70.5,32.2 72.6,31.6 74.6,31.6 76.7,31.4 78.8,31.4 80.9,31.2 83,31.2 85,31.1 87.1,31 89.2,30.9 91.3,30.9 93.4,30.9 95.4,31 97.5,31.2 99.6,31.4 101.7,31.4 103.8,31.4 105.8,31.1 107.9,31.1 110,31.2 112.1,31.5 114.2,31.7 116.2,31.8 118.3,31.8 120.4,32 122.5,32"/>
<use href="#F"/></g>
<g class="k" transform="translate(1725.2,592.7)">
<g clip-path="url(#c)"><path class="bb" d="M10.2,39.2L14.3,40.1L18.5,42.6L22.6,46.4L26.8,45.5L31,40.9L35.1,36L39.3,35.8L43.4,36.6L47.6,36.9L51.8,38.5L55.9,38.8L60.1,39.5L64.2,39.1L68.4,37.9L72.6,36.4L76.7,35.5L80.9,37L85,38.8L89.2,39.9L91.3,40.1L93.4,39.9L95.4,40.7L97.5,40.7L101.7,41.5L105.8,41.8L110,41.7L114.2,41.1L117.5,41.2L118.3,40.8L120.4,41.2L122.5,41L122.5,45.2L120.4,46.2L118.3,50.7L117.5,53.5L114.2,50.2L110,56.7L105.8,51.5L101.7,46.5L97.5,47L95.4,46.8L93.4,44.1L91.3,41.2L89.2,43.1L85,45.9L80.9,42.6L76.7,38.7L72.6,39.3L68.4,40.2L64.2,41.1L60.1,41.1L55.9,42.2L51.8,40.4L47.6,39.2L43.4,39L39.3,38.9L35.1,38.3L31,43.3L26.8,47.8L22.6,48.3L18.5,44.7L14.3,41.6L10.2,39.2ZM10.2,36L14.3,28.7L18.5,31.9L22.6,30.9L26.8,29.1L31,27.1L35.1,24.2L39.3,24.2L43.4,25.3L47.6,25.3L51.8,25.6L55.9,25.7L60.1,26.6L64.2,27.3L68.4,26.7L72.6,26L76.7,25.1L80.9,26.4L85,27.7L89.2,27.6L91.3,28L93.4,27.1L95.4,26.5L97.5,26.3L101.7,26.1L105.8,26.1L110,25.6L114.2,26.1L117.5,26.1L118.3,26.6L120.4,26.2L122.5,25.8L122.5,28L120.4,27.9L118.3,28L117.5,28.1L114.2,27.9L110,28L105.8,28.2L101.7,28.3L97.5,27.3L95.4,27.4L93.4,28.1L91.3,29.7L89.2,31L85,29.4L80.9,27.7L76.7,25.9L72.6,27L68.4,27.8L64.2,29.3L60.1,28.6L55.9,28.7L51.8,27.7L47.6,27.5L43.4,27L39.3,27.1L35.1,27L31,31.6L26.8,36.1L22.6,37L18.5,33.9L14.3,30.6L10.2,36Z"/><polygon class="ob" points="10.2,36 14.3,30.6 18.5,33.9 22.6,37 26.8,36.1 31,31.6 35.1,27 39.3,27.1 43.4,27 47.6,27.5 51.8,27.7 55.9,28.7 60.1,28.6 64.2,29.3 68.4,27.8 72.6,27 76.7,25.9 80.9,27.7 85,29.4 89.2,31 91.3,29.7 93.4,28.1 95.4,27.4 97.5,27.3 101.7,28.3 105.8,28.2 110,28 114.2,27.9 117.5,28.1 118.3,28 120.4,27.9 122.5,28 122.5,41 120.4,41.2 118.3,40.8 117.5,41.2 114.2,41.1 110,41.7 105.8,41.8 101.7,41.5 97.5,40.7 95.4,40.7 93.4,39.9 91.3,40.1 89.2,39.9 85,38.8 80.9,37 76.7,35.5 72.6,36.4 68.4,37.9 64.2,39.1 60.1,39.5 55.9,38.8 51.8,38.5 47.6,36.9 43.4,36.6 39.3,35.8 35.1,36 31,40.9 26.8,45.5 22.6,46.4 18.5,42.6 14.3,40.1 10.2,39.2"/></g>
<use href="#m8"/><use href="#G"/>
<polyline class="ml" clip-path="url(#c)" points="6,84 6.2,48.4 7,41.2 8.1,35.6 9.1,34.5 10.2,34.4 11.2,34.3 12.2,34.2 13.3,34.2 14.3,34.5 15.4,35.1 16.4,36 17.4,36.9 18.5,37.8 20.6,39.6 22.6,41.5 24.7,42.4 26.8,40.7 28.9,38.4 31,36.1 33,33.7 35.1,32 37.2,31.9 39.3,32.1 41.4,32 43.4,32.1 45.5,32.2 47.6,32.5 49.7,32.5 51.8,32.4 53.8,32.4 55.9,32.7 58,33.3 60.1,33.8 62.2,34.4 64.2,34.5 66.3,34 68.4,33.5 70.5,33.1 72.6,32.8 74.6,32.2 76.7,31.9 78.8,32.2 80.9,32.6 83,33.2 85,33.9 87.1,34.6 89.2,35 91.3,34.5 93.4,33.8 95.4,33 97.5,32.3 99.6,32.1 101.7,32.2 103.8,32.1 105.8,32.3 107.9,32.5 110,32.6 112.1,32.7 114.2,32.9 116.2,32.8 118.3,32.8 120.4,32.7 122.5,32.9"/>
<use href="#F"/></g>
<g class="k" transform="translate(1904.6,592.7)">
<g clip-path="url(#c)"><path class="bb" d="M10.2,39.5L14.3,39.5L18.5,40.9L22.6,42.5L26.8,39.5L31,36.9L35.1,33.9L39.3,34.7L43.4,35.8L47.6,37.4L51.8,37L55.9,36.5L60.1,36.9L64.2,38L68.4,38.8L72.6,39.7L76.7,39.7L80.9,40.1L85,40.5L89.2,40.6L93.4,40.2L97.5,39.8L101.7,39.2L105.8,38.7L110,38.1L114.2,37.4L118.3,36.8L122.5,36.4L122.5,39.9L118.3,41.3L114.2,41.7L110,41.8L105.8,42.4L101.7,43.4L97.5,44.8L93.4,44.4L89.2,44.8L85,42.6L80.9,41.4L76.7,42.6L72.6,44.7L68.4,43.2L64.2,41.9L60.1,39.4L55.9,38L51.8,38.6L47.6,40L43.4,38.5L39.3,37.1L35.1,35.5L31,38.5L26.8,41.1L22.6,43.6L18.5,43.1L14.3,42L10.2,39.5ZM10.2,36.3L14.3,28.7L18.5,29.8L22.6,31.5L26.8,29.1L31,26.3L35.1,23L39.3,23.8L43.4,25.1L47.6,26.4L51.8,25.7L55.9,25.1L60.1,24.8L64.2,23.4L68.4,23.1L72.6,21.8L76.7,23.4L80.9,24.5L85,24.9L89.2,25.8L93.4,25.1L97.5,24.5L101.7,23.7L105.8,23L110,22.3L114.2,21.9L118.3,21.4L122.5,21L122.5,22.2L118.3,22.9L114.2,23.8L110,24.4L105.8,24.8L101.7,25.1L97.5,25.4L93.4,25.9L89.2,26.6L85,26.3L80.9,25.9L76.7,25.7L72.6,25.5L68.4,25.9L64.2,25.2L60.1,26.2L55.9,26.2L51.8,27.1L47.6,28L43.4,27L39.3,25.6L35.1,24.4L31,27.3L26.8,30.2L22.6,32.5L18.5,31.3L14.3,30.6L10.2,36.3Z"/><polygon class="ob" points="10.2,36.3 14.3,30.6 18.5,31.3 22.6,32.5 26.8,30.2 31,27.3 35.1,24.4 39.3,25.6 43.4,27 47.6,28 51.8,27.1 55.9,26.2 60.1,26.2 64.2,25.2 68.4,25.9 72.6,25.5 76.7,25.7 80.9,25.9 85,26.3 89.2,26.6 93.4,25.9 97.5,25.4 101.7,25.1 105.8,24.8 110,24.4 114.2,23.8 118.3,22.9 122.5,22.2 122.5,36.4 118.3,36.8 114.2,37.4 110,38.1 105.8,38.7 101.7,39.2 97.5,39.8 93.4,40.2 89.2,40.6 85,40.5 80.9,40.1 76.7,39.7 72.6,39.7 68.4,38.8 64.2,38 60.1,36.9 55.9,36.5 51.8,37 47.6,37.4 43.4,35.8 39.3,34.7 35.1,33.9 31,36.9 26.8,39.5 22.6,42.5 18.5,40.9 14.3,39.5 10.2,39.5"/></g>
<use href="#m9"/><use href="#G"/>
<polyline class="ml" clip-path="url(#c)" points="6,84 6.2,48.4 7,41.3 8.1,36.1 9.1,35 10.2,34.9 11.2,34.8 12.2,34.8 13.3,34.7 14.3,34.8 15.4,35 16.4,35.4 17.4,35.7 18.5,36.2 20.6,37.1 22.6,37.4 24.7,36.3 26.8,35 28.9,33.9 31,32.7 33,31.5 35.1,30.5 37.2,30.6 39.3,30.7 41.4,31.1 43.4,31.4 45.5,32.3 47.6,32.7 49.7,32.7 51.8,32 53.8,31.8 55.9,31.4 58,31.1 60.1,30.6 62.2,30.3 64.2,30.2 66.3,30.4 68.4,30.7 70.5,30.9 72.6,31.4 74.6,31.7 76.7,32 78.8,32.1 80.9,32.3 83,32.3 85,32.5 87.1,32.3 89.2,32.2 91.3,32.2 93.4,32.3 95.4,32.3 97.5,31.7 99.6,31.3 101.7,31.1 103.8,30.6 105.8,30.4 107.9,29.8 110,29.7 112.1,29.4 114.2,29.2 116.2,29.3 118.3,29.1 120.4,28.8 122.5,28.6"/>
<use href="#F"/></g>
<g class="k" transform="translate(2084,592.7)">
<g clip-path="url(#c)"><path class="bb" d="M10.2,40L14.3,40.6L18.5,43.2L22.6,45.7L24.7,47.1L26.8,45.6L31,42.4L35.1,39.2L39.3,39.8L43.4,39.3L47.6,39.9L51.8,39.5L55.9,38.9L60.1,37.8L64.2,37.2L68.4,37.5L70.5,38.2L72.6,38.5L76.7,38.5L80.9,38.8L83,38.7L85,38.7L89.2,38.6L93.4,38.8L95.4,38.4L97.5,38.6L101.7,38.5L105.8,38.8L110,38.6L114.2,39.3L118.3,39.6L122.5,37.6L122.5,43L118.3,44.1L114.2,42L110,39.8L105.8,40.4L101.7,41L97.5,44.9L95.4,47L93.4,45.3L89.2,42.5L85,42L83,41.2L80.9,42.7L76.7,47.6L72.6,43.9L70.5,42.8L68.4,42.1L64.2,41L60.1,39.6L55.9,41.1L51.8,43.4L47.6,43.2L43.4,42.8L39.3,42.9L35.1,41.5L31,44.7L26.8,47L24.7,49.1L22.6,46.6L18.5,44.1L14.3,41.5L10.2,40ZM10.2,36.8L14.3,29.1L18.5,32L22.6,31.6L24.7,30.9L26.8,30.7L31,30.4L35.1,28.7L39.3,28.9L43.4,27.9L47.6,27.5L51.8,26.5L55.9,26.5L60.1,25.4L64.2,24.7L68.4,24.8L70.5,25L72.6,25.1L76.7,24.8L80.9,25.3L83,25.4L85,25.3L89.2,25L93.4,24.1L95.4,22.8L97.5,22.8L101.7,23.5L105.8,23.6L110,23.4L114.2,23.9L118.3,26L122.5,26.6L122.5,28.3L118.3,27.4L114.2,26.2L110,24.7L105.8,24.9L101.7,25.4L97.5,25.7L95.4,25.7L93.4,25.6L89.2,25.9L85,26.1L83,26.2L80.9,26.2L76.7,25.6L72.6,26L70.5,26.7L68.4,26.4L64.2,26.7L60.1,27.1L55.9,28.6L51.8,28.9L47.6,29.2L43.4,29.5L39.3,29.7L35.1,29.7L31,33.4L26.8,36.5L24.7,37.6L22.6,35.9L18.5,33.4L14.3,31.1L10.2,36.8Z"/><polygon class="ob" points="10.2,36.8 14.3,31.1 18.5,33.4 22.6,35.9 24.7,37.6 26.8,36.5 31,33.4 35.1,29.7 39.3,29.7 43.4,29.5 47.6,29.2 51.8,28.9 55.9,28.6 60.1,27.1 64.2,26.7 68.4,26.4 70.5,26.7 72.6,26 76.7,25.6 80.9,26.2 83,26.2 85,26.1 89.2,25.9 93.4,25.6 95.4,25.7 97.5,25.7 101.7,25.4 105.8,24.9 110,24.7 114.2,26.2 118.3,27.4 122.5,28.3 122.5,37.6 118.3,39.6 114.2,39.3 110,38.6 105.8,38.8 101.7,38.5 97.5,38.6 95.4,38.4 93.4,38.8 89.2,38.6 85,38.7 83,38.7 80.9,38.8 76.7,38.5 72.6,38.5 70.5,38.2 68.4,37.5 64.2,37.2 60.1,37.8 55.9,38.9 51.8,39.5 47.6,39.9 43.4,39.3 39.3,39.8 35.1,39.2 31,42.4 26.8,45.6 24.7,47.1 22.6,45.7 18.5,43.2 14.3,40.6 10.2,40"/></g>
<use href="#m10"/><use href="#G"/>
<polyline class="ml" clip-path="url(#c)" points="6,84 6.2,49.3 7,42 8.1,36.2 9.1,35.1 10.2,34.9 11.2,34.8 12.2,34.8 13.3,34.7 14.3,35 15.4,35.5 16.4,36.3 17.4,37.1 18.5,37.8 20.6,39.1 22.6,40.5 24.7,41.7 26.8,40.6 28.9,39 31,37.2 33,35.5 35.1,34.1 37.2,34.1 39.3,34.5 41.4,34.8 43.4,34.9 45.5,35.3 47.6,35.4 49.7,35 51.8,34.2 53.8,34.1 55.9,33.7 58,33.3 60.1,32.6 62.2,32.2 64.2,32 66.3,31.8 68.4,31.3 70.5,31.1 72.6,30.9 74.6,30.9 76.7,30.4 78.8,30.7 80.9,31.1 83,31.5 85,31.3 87.1,31.4 89.2,31.6 91.3,31.8 93.4,32.4 95.4,32.7 97.5,32.7 99.6,32.6 101.7,32.5 103.8,32.7 105.8,32.4 107.9,32.7 110,32.8 112.1,33 114.2,32.9 116.2,32.8 118.3,32.8 120.4,32.6 122.5,32.7"/>
<use href="#F"/></g>
<g class="k" transform="translate(290,710.6)">
<g clip-path="url(#c)"><path class="bb" d="M10.2,38.1L14.3,37.9L18.5,34.7L22.6,30.3L26.8,29.9L31,29.2L35.1,27.8L39.3,28L43.4,28.4L47.6,29.7L51.8,29.8L55.9,30.2L60.1,30.3L64.2,31.2L68.4,31.5L72.6,31.8L76.7,31.7L80.9,29.7L85,27.7L89.2,27.2L93.4,27.2L97.5,26.9L101.7,27L105.8,27L110,27.3L114.2,27.8L118.3,28.1L122.5,28.5L122.5,29.4L118.3,29L114.2,29.2L110,29.4L105.8,29.2L101.7,29L97.5,29.3L93.4,28.9L89.2,29L85,29.1L80.9,31.6L76.7,33L72.6,32.6L68.4,32.3L64.2,32.2L60.1,32.3L55.9,31.8L51.8,30.7L47.6,30.6L43.4,29.4L39.3,31L35.1,31L31,31.7L26.8,31.1L22.6,32.2L18.5,36.3L14.3,39.8L10.2,38.1ZM10.2,34.9L14.3,27.5L18.5,24.9L22.6,20.9L26.8,20.2L31,19.3L35.1,18.3L39.3,19.3L43.4,19.6L47.6,19.7L51.8,19.4L55.9,18.8L60.1,19.9L64.2,20.7L68.4,21.6L72.6,21.4L76.7,21.1L80.9,19.7L85,18.4L89.2,18.4L93.4,18.7L97.5,18.9L101.7,18.8L105.8,18L110,16.9L114.2,16.6L118.3,17.4L122.5,17.8L122.5,19.7L118.3,20L114.2,19.5L110,19.4L105.8,19.2L101.7,19.6L97.5,19.8L93.4,19.6L89.2,19.3L85,19.5L80.9,21.4L76.7,23.2L72.6,23.1L68.4,22.6L64.2,22.6L60.1,22L55.9,21.8L51.8,21L47.6,20.6L43.4,20.5L39.3,20.1L35.1,19.8L31,20.3L26.8,21.1L22.6,21.8L18.5,26.1L14.3,29.3L10.2,34.9Z"/><polygon class="ob" points="10.2,34.9 14.3,29.3 18.5,26.1 22.6,21.8 26.8,21.1 31,20.3 35.1,19.8 39.3,20.1 43.4,20.5 47.6,20.6 51.8,21 55.9,21.8 60.1,22 64.2,22.6 68.4,22.6 72.6,23.1 76.7,23.2 80.9,21.4 85,19.5 89.2,19.3 93.4,19.6 97.5,19.8 101.7,19.6 105.8,19.2 110,19.4 114.2,19.5 118.3,20 122.5,19.7 122.5,28.5 118.3,28.1 114.2,27.8 110,27.3 105.8,27 101.7,27 97.5,26.9 93.4,27.2 89.2,27.2 85,27.7 80.9,29.7 76.7,31.7 72.6,31.8 68.4,31.5 64.2,31.2 60.1,30.3 55.9,30.2 51.8,29.8 47.6,29.7 43.4,28.4 39.3,28 35.1,27.8 31,29.2 26.8,29.9 22.6,30.3 18.5,34.7 14.3,37.9 10.2,38.1"/></g>
<use href="#m0"/><use href="#G"/>
<polyline class="ml" clip-path="url(#c)" points="6,84 6.2,50.8 7,45.3 8.1,42.4 9.1,39.5 10.2,36.8 11.2,35.8 12.2,35.1 13.3,34.4 14.3,33.7 15.4,33 16.4,32.2 17.4,31.3 18.5,30.3 20.6,28.2 22.6,26.1 24.7,25.3 26.8,24.8 28.9,24.4 31,24.3 33,24.2 35.1,24.1 37.2,23.9 39.3,24.1 41.4,24.1 43.4,24.4 45.5,24.7 47.6,25.2 49.7,25.3 51.8,25.3 53.8,25.2 55.9,25.9 58,26 60.1,26.2 62.2,26.3 64.2,26.7 66.3,26.6 68.4,26.5 70.5,26.4 72.6,26.6 74.6,26.6 76.7,26.8 78.8,26.2 80.9,25.6 83,24.6 85,24.2 87.1,24 89.2,24 91.3,23.8 93.4,23.8 95.4,23.7 97.5,23.7 99.6,23.7 101.7,23.7 103.8,23.7 105.8,23.8 107.9,23.6 110,23.6 112.1,23.7 114.2,23.9 116.2,23.9 118.3,23.6 120.4,23.4 122.5,23.3"/>
<use href="#F"/></g>
<g class="k" transform="translate(469.4,710.6)">
<g clip-path="url(#c)"><path class="bb" d="M10.2,38.1L14.3,40.1L18.5,38.7L22.6,37.2L26.8,36L31,35.9L35.1,35.7L39.3,35.7L43.4,35.1L47.6,35.2L51.8,34.1L55.9,33.3L60.1,32.6L64.2,33.4L68.4,34.2L72.6,34.9L76.7,34.8L80.9,34.3L85,33.5L89.2,32.7L93.4,33.1L97.5,33.6L101.7,33.5L105.8,33.1L110,33L114.2,33L118.3,33.5L120.4,33.5L122.5,34.2L122.5,43.4L120.4,45.6L118.3,46.5L114.2,46.3L110,46.6L105.8,46.8L101.7,47.1L97.5,45.7L93.4,44.6L89.2,41.6L85,39.4L80.9,37.7L76.7,35.7L72.6,35.9L68.4,35.6L64.2,35.9L60.1,36.3L55.9,35.5L51.8,36.2L47.6,36.9L43.4,37.4L39.3,38.2L35.1,38.8L31,39.6L26.8,38.8L22.6,39L18.5,40.6L14.3,42.1L10.2,38.1ZM10.2,34.9L14.3,28.3L18.5,26.8L22.6,26.2L26.8,25.8L31,25.6L35.1,24.9L39.3,23.9L43.4,23.8L47.6,24.5L51.8,23.9L55.9,23.5L60.1,22.1L64.2,22.4L68.4,22.9L72.6,22.9L76.7,22.8L80.9,22.7L85,22.6L89.2,22.2L93.4,22.3L97.5,22L101.7,21.7L105.8,21.1L110,21.9L114.2,22.6L118.3,23.2L120.4,22.8L122.5,22.7L122.5,24.6L120.4,24.5L118.3,24.6L114.2,24.3L110,24.1L105.8,24L101.7,24.1L97.5,23.9L93.4,23.9L89.2,23.8L85,23.9L80.9,23.8L76.7,23.7L72.6,23.8L68.4,23.8L64.2,24.2L60.1,23.9L55.9,24.7L51.8,24.8L47.6,25.3L43.4,25.4L39.3,25.6L35.1,26.1L31,26.5L26.8,26.8L22.6,28L18.5,28.7L14.3,30.2L10.2,34.9Z"/><polygon class="ob" points="10.2,34.9 14.3,30.2 18.5,28.7 22.6,28 26.8,26.8 31,26.5 35.1,26.1 39.3,25.6 43.4,25.4 47.6,25.3 51.8,24.8 55.9,24.7 60.1,23.9 64.2,24.2 68.4,23.8 72.6,23.8 76.7,23.7 80.9,23.8 85,23.9 89.2,23.8 93.4,23.9 97.5,23.9 101.7,24.1 105.8,24 110,24.1 114.2,24.3 118.3,24.6 120.4,24.5 122.5,24.6 122.5,34.2 120.4,33.5 118.3,33.5 114.2,33 110,33 105.8,33.1 101.7,33.5 97.5,33.6 93.4,33.1 89.2,32.7 85,33.5 80.9,34.3 76.7,34.8 72.6,34.9 68.4,34.2 64.2,33.4 60.1,32.6 55.9,33.3 51.8,34.1 47.6,35.2 43.4,35.1 39.3,35.7 35.1,35.7 31,35.9 26.8,36 22.6,37.2 18.5,38.7 14.3,40.1 10.2,38.1"/></g>
<use href="#m1"/><use href="#G"/>
<polyline class="ml" clip-path="url(#c)" points="6,84 6.2,50.8 7,45.3 8.1,42.4 9.1,39.5 10.2,36.8 11.2,36.2 12.2,35.9 13.3,35.5 14.3,35.2 15.4,34.9 16.4,34.6 17.4,34.2 18.5,33.9 20.6,33.3 22.6,32.8 24.7,32.3 26.8,31.8 28.9,31.8 31,31.9 33,31.7 35.1,31.4 37.2,30.9 39.3,30.7 41.4,30.8 43.4,31.1 45.5,31.2 47.6,31.2 49.7,30.7 51.8,30.2 53.8,29.4 55.9,28.8 58,28.1 60.1,28.1 62.2,28.1 64.2,28.7 66.3,28.9 68.4,29 70.5,29.6 72.6,29.7 74.6,29.8 76.7,29.6 78.8,29.4 80.9,29.4 83,29.2 85,28.9 87.1,28.6 89.2,28.3 91.3,28.5 93.4,28.5 95.4,28.5 97.5,28.3 99.6,28.5 101.7,28.9 103.8,29.2 105.8,29.2 107.9,29.2 110,29.3 112.1,29.4 114.2,29.2 116.2,29 118.3,28.9 120.4,29 122.5,29.3"/>
<use href="#F"/></g>
<g class="k" transform="translate(648.8,710.6)">
<g clip-path="url(#c)"><path class="bb" d="M10.2,36L14.3,41.7L16.4,41.1L18.5,41.6L20.6,41L22.6,41.5L26.8,40.1L31,39L35.1,37.2L39.3,35.7L43.4,36.7L47.6,37.2L49.7,38.1L51.8,38L55.9,38.6L60.1,37.8L64.2,38L68.4,37.7L72.6,38.5L74.6,39.3L76.7,40.2L80.9,40.8L85,41.5L89.2,42.2L93.4,41.3L97.5,40.7L101.7,40.2L103.8,40L105.8,39.3L110,38.3L114.2,37.9L118.3,37.8L122.5,37.7L122.5,38.5L118.3,38.9L114.2,39.3L110,40.7L105.8,42.5L103.8,43L101.7,42.2L97.5,41.5L93.4,42.1L89.2,43.6L85,43L80.9,42L76.7,41.1L74.6,41.6L72.6,41.7L68.4,40.9L64.2,40.2L60.1,39.3L55.9,39.5L51.8,40.9L49.7,42.3L47.6,41.4L43.4,38.4L39.3,36.6L35.1,38L31,39.8L26.8,41.2L22.6,42.3L20.6,42.5L18.5,42.5L16.4,42.6L14.3,42.5L10.2,36ZM10.2,32.8L14.3,28.9L16.4,29L18.5,29.3L20.6,28.3L22.6,27.6L26.8,26.3L31,24.7L35.1,23L39.3,22L43.4,23L47.6,24.4L49.7,25.5L51.8,25.6L55.9,26.3L60.1,26L64.2,26.3L68.4,26.7L72.6,27L74.6,26.8L76.7,27L80.9,27.9L85,28.3L89.2,28.8L93.4,28.1L97.5,27.1L101.7,26.4L103.8,26.2L105.8,26.1L110,25.9L114.2,25L118.3,24.3L122.5,24.6L122.5,25.4L118.3,26L114.2,26.2L110,26.8L105.8,26.9L103.8,27L101.7,27.2L97.5,27.9L93.4,28.9L89.2,30.1L85,29.6L80.9,28.8L76.7,27.9L74.6,27.8L72.6,27.9L68.4,27.6L64.2,27.2L60.1,26.9L55.9,27.1L51.8,26.9L49.7,26.6L47.6,25.6L43.4,24.5L39.3,23.7L35.1,25.1L31,26.3L26.8,27.8L22.6,29.4L20.6,30.4L18.5,31L16.4,30.5L14.3,30.1L10.2,32.8Z"/><polygon class="ob" points="10.2,32.8 14.3,30.1 16.4,30.5 18.5,31 20.6,30.4 22.6,29.4 26.8,27.8 31,26.3 35.1,25.1 39.3,23.7 43.4,24.5 47.6,25.6 49.7,26.6 51.8,26.9 55.9,27.1 60.1,26.9 64.2,27.2 68.4,27.6 72.6,27.9 74.6,27.8 76.7,27.9 80.9,28.8 85,29.6 89.2,30.1 93.4,28.9 97.5,27.9 101.7,27.2 103.8,27 105.8,26.9 110,26.8 114.2,26.2 118.3,26 122.5,25.4 122.5,37.7 118.3,37.8 114.2,37.9 110,38.3 105.8,39.3 103.8,40 101.7,40.2 97.5,40.7 93.4,41.3 89.2,42.2 85,41.5 80.9,40.8 76.7,40.2 74.6,39.3 72.6,38.5 68.4,37.7 64.2,38 60.1,37.8 55.9,38.6 51.8,38 49.7,38.1 47.6,37.2 43.4,36.7 39.3,35.7 35.1,37.2 31,39 26.8,40.1 22.6,41.5 20.6,41 18.5,41.6 16.4,41.1 14.3,41.7 10.2,36"/></g>
<use href="#m2"/><use href="#G"/>
<polyline class="ml" clip-path="url(#c)" points="6,84 6.2,50.8 7,45 8.1,41.4 9.1,37.9 10.2,34.8 11.2,34.7 12.2,34.9 13.3,35.2 14.3,35.5 15.4,35.7 16.4,36 17.4,36.2 18.5,36.3 20.6,35.9 22.6,35.2 24.7,34.6 26.8,33.9 28.9,33.4 31,32.4 33,31.7 35.1,30.9 37.2,30.2 39.3,29.9 41.4,30.1 43.4,30.7 45.5,30.9 47.6,31.1 49.7,31.7 51.8,32 53.8,32.1 55.9,32.1 58,32.3 60.1,32.7 62.2,33.1 64.2,33 66.3,33 68.4,33 70.5,33.6 72.6,34.2 74.6,34.3 76.7,34.5 78.8,34.5 80.9,34.9 83,35.2 85,35.7 87.1,36.2 89.2,36.4 91.3,36 93.4,35.3 95.4,34.8 97.5,34.2 99.6,33.9 101.7,33.4 103.8,33.4 105.8,33.2 107.9,32.9 110,32.4 112.1,32.1 114.2,32.2 116.2,32.3 118.3,32.2 120.4,31.9 122.5,31.6"/>
<use href="#F"/></g>
<g class="k" transform="translate(828.2,710.6)">
<g clip-path="url(#c)"><path class="bb" d="M10.2,37.1L14.3,40.4L18.5,40.2L22.6,40.2L26.8,39.6L31,38.4L35.1,37L39.3,36L43.4,35.8L47.6,35.5L51.8,35.4L55.9,35.1L60.1,34.4L64.2,33.8L68.4,33.7L72.6,33.7L76.7,33L80.9,33.3L85,33.2L89.2,33.8L93.4,33.2L97.5,33L101.7,33.3L105.8,33.7L110,33.6L114.2,33.5L118.3,34L120.4,34.4L122.5,34.7L122.5,47.6L120.4,50.1L118.3,49.8L114.2,49.7L110,47.4L105.8,46L101.7,42.2L97.5,37.7L93.4,35.6L89.2,35.3L85,34.6L80.9,34.2L76.7,34.4L72.6,35.4L68.4,35.4L64.2,35.2L60.1,35.6L55.9,36.4L51.8,37.4L47.6,38L43.4,37.9L39.3,37.7L35.1,38.3L31,40L26.8,41.5L22.6,42.2L18.5,42.3L14.3,42.1L10.2,37.1ZM10.2,33.9L14.3,28.5L18.5,28.9L22.6,28.9L26.8,27.5L31,26.1L35.1,25.3L39.3,24.3L43.4,24.6L47.6,24.1L51.8,24.2L55.9,23.8L60.1,22.9L64.2,22.2L68.4,21.7L72.6,21.3L76.7,21.8L80.9,22.4L85,22.7L89.2,22.4L93.4,22.6L97.5,22.9L101.7,23.1L105.8,22.4L110,21.9L114.2,21.6L118.3,21.3L120.4,21.9L122.5,22.4L122.5,25L120.4,24.3L118.3,24L114.2,23.5L110,24L105.8,23.9L101.7,24.5L97.5,24.5L93.4,24.8L89.2,24.4L85,23.8L80.9,23.6L76.7,23.9L72.6,23.9L68.4,23.6L64.2,23L60.1,23.8L55.9,24.7L51.8,25.6L47.6,25.8L43.4,26L39.3,26.1L35.1,26.5L31,27.7L26.8,29.1L22.6,30.3L18.5,30.4L14.3,30.7L10.2,33.9Z"/><polygon class="ob" points="10.2,33.9 14.3,30.7 18.5,30.4 22.6,30.3 26.8,29.1 31,27.7 35.1,26.5 39.3,26.1 43.4,26 47.6,25.8 51.8,25.6 55.9,24.7 60.1,23.8 64.2,23 68.4,23.6 72.6,23.9 76.7,23.9 80.9,23.6 85,23.8 89.2,24.4 93.4,24.8 97.5,24.5 101.7,24.5 105.8,23.9 110,24 114.2,23.5 118.3,24 120.4,24.3 122.5,25 122.5,34.7 120.4,34.4 118.3,34 114.2,33.5 110,33.6 105.8,33.7 101.7,33.3 97.5,33 93.4,33.2 89.2,33.8 85,33.2 80.9,33.3 76.7,33 72.6,33.7 68.4,33.7 64.2,33.8 60.1,34.4 55.9,35.1 51.8,35.4 47.6,35.5 43.4,35.8 39.3,36 35.1,37 31,38.4 26.8,39.6 22.6,40.2 18.5,40.2 14.3,40.4 10.2,37.1"/></g>
<use href="#m3"/><use href="#G"/>
<polyline class="ml" clip-path="url(#c)" points="6,84 6.2,50.8 7,45.1 8.1,41.9 9.1,38.7 10.2,35.8 11.2,35.5 12.2,35.5 13.3,35.5 14.3,35.5 15.4,35.4 16.4,35.4 17.4,35.5 18.5,35.5 20.6,35.4 22.6,35.1 24.7,34.7 26.8,34.3 28.9,33.9 31,33.2 33,32.6 35.1,32.1 37.2,31.7 39.3,31.6 41.4,31.3 43.4,31.4 45.5,31.2 47.6,31 49.7,30.5 51.8,30.2 53.8,29.7 55.9,29.4 58,29.3 60.1,29.2 62.2,29.1 64.2,28.6 66.3,28.3 68.4,28.6 70.5,28.6 72.6,28.7 74.6,28.5 76.7,28.7 78.8,28.7 80.9,28.6 83,28.4 85,28.5 87.1,28.5 89.2,28.4 91.3,28.3 93.4,28.2 95.4,28.6 97.5,28.7 99.6,28.9 101.7,28.8 103.8,28.7 105.8,28.6 107.9,28.6 110,28.9 112.1,29 114.2,29.1 116.2,29.2 118.3,29.3 120.4,29.4 122.5,29.2"/>
<use href="#F"/></g>
<g class="k" transform="translate(1007.6,710.6)">
<g clip-path="url(#c)"><path class="bb" d="M10.2,37.1L14.3,39.9L18.5,38.9L22.6,38.1L26.8,37.1L31,35.7L35.1,35.6L39.3,35.1L43.4,35.4L47.6,34.7L51.8,35.4L55.9,35L60.1,34.9L64.2,34.1L68.4,33.7L72.6,33.7L76.7,33.4L80.9,33.8L85,34.1L89.2,34.1L93.4,33.6L97.5,33.3L101.7,33.3L105.8,33.4L110,33.1L114.2,33L118.3,32.8L122.5,33.2L122.5,39.9L118.3,38.3L114.2,36.1L110,35L105.8,35.3L101.7,34.8L97.5,34.2L93.4,34.4L89.2,35L85,34.9L80.9,35.1L76.7,34.9L72.6,34.5L68.4,34.8L64.2,35L60.1,35.7L55.9,35.9L51.8,36.2L47.6,35.6L43.4,36.2L39.3,35.9L35.1,36.7L31,36.5L26.8,37.9L22.6,39L18.5,39.8L14.3,40.7L10.2,37.1ZM10.2,33.9L14.3,28.9L18.5,28.6L22.6,28.1L26.8,27.2L31,26.4L35.1,26.1L39.3,25.4L43.4,24.3L47.6,23.4L51.8,23.2L55.9,23.9L60.1,23.9L64.2,23.7L68.4,24L72.6,23.8L76.7,23.7L80.9,23.1L85,22.5L89.2,22.1L93.4,22.4L97.5,21.7L101.7,21.8L105.8,19.3L110,19L114.2,18.7L118.3,19.9L122.5,21.9L122.5,23.5L118.3,23.8L114.2,23.4L110,23.7L105.8,23.7L101.7,23.6L97.5,23.4L93.4,23.6L89.2,23.7L85,24.2L80.9,24.7L76.7,25L72.6,25.2L68.4,24.9L64.2,24.9L60.1,24.9L55.9,25.3L51.8,25.4L47.6,25.2L43.4,25.8L39.3,26.2L35.1,26.9L31,27.3L26.8,28L22.6,29.1L18.5,29.5L14.3,30L10.2,33.9Z"/><polygon class="ob" points="10.2,33.9 14.3,30 18.5,29.5 22.6,29.1 26.8,28 31,27.3 35.1,26.9 39.3,26.2 43.4,25.8 47.6,25.2 51.8,25.4 55.9,25.3 60.1,24.9 64.2,24.9 68.4,24.9 72.6,25.2 76.7,25 80.9,24.7 85,24.2 89.2,23.7 93.4,23.6 97.5,23.4 101.7,23.6 105.8,23.7 110,23.7 114.2,23.4 118.3,23.8 122.5,23.5 122.5,33.2 118.3,32.8 114.2,33 110,33.1 105.8,33.4 101.7,33.3 97.5,33.3 93.4,33.6 89.2,34.1 85,34.1 80.9,33.8 76.7,33.4 72.6,33.7 68.4,33.7 64.2,34.1 60.1,34.9 55.9,35 51.8,35.4 47.6,34.7 43.4,35.4 39.3,35.1 35.1,35.6 31,35.7 26.8,37.1 22.6,38.1 18.5,38.9 14.3,39.9 10.2,37.1"/></g>
<use href="#m4"/><use href="#G"/>
<polyline class="ml" clip-path="url(#c)" points="6,84 6.2,49.8 7,44.3 8.1,41.3 9.1,38.4 10.2,35.8 11.2,35.3 12.2,35.2 13.3,35 14.3,34.8 15.4,34.7 16.4,34.6 17.4,34.5 18.5,34.4 20.6,34 22.6,33.2 24.7,32.5 26.8,32 28.9,31.8 31,31.3 33,31 35.1,30.8 37.2,30.5 39.3,30.6 41.4,30.9 43.4,31 45.5,30.8 47.6,30.4 49.7,30.4 51.8,30.4 53.8,30.1 55.9,30 58,29.8 60.1,29.9 62.2,29.6 64.2,29.7 66.3,29.7 68.4,29.5 70.5,29.4 72.6,29.2 74.6,29.4 76.7,29.1 78.8,29.1 80.9,29 83,29 85,28.6 87.1,28.6 89.2,28.5 91.3,28.9 93.4,28.6 95.4,28.6 97.5,28.4 99.6,28.6 101.7,28.6 103.8,28.6 105.8,28.6 107.9,28.7 110,28.7 112.1,28.9 114.2,28.7 116.2,28.5 118.3,28.6 120.4,28.8 122.5,28.8"/>
<use href="#F"/></g>
<g class="k" transform="translate(1187,710.6)">
<g clip-path="url(#c)"><path class="bb" d="M10.2,40.2L14.3,39.2L16.4,41L18.5,42.1L22.6,44.1L26.8,43.1L31,42.3L35.1,40.4L39.3,37.9L43.4,36L47.6,35.6L51.8,35.6L55.9,35.2L60.1,34.8L64.2,34.5L68.4,34.5L72.6,35.4L76.7,35.7L80.9,35.9L85,35.8L89.2,36.8L93.4,38.3L97.5,39.1L101.7,40.1L105.8,40.9L110,41.7L114.2,42.5L118.3,41.6L120.4,41.4L122.5,41.1L122.5,52.9L120.4,55.4L118.3,53.4L114.2,48.7L110,44.3L105.8,41.8L101.7,40.9L97.5,40L93.4,39.2L89.2,38.6L85,38.7L80.9,38.6L76.7,37.8L72.6,37L68.4,36L64.2,36L60.1,35.8L55.9,36.8L51.8,37.4L47.6,38.6L43.4,38.4L39.3,41L35.1,44.6L31,44.4L26.8,45.3L22.6,45.5L18.5,43.1L16.4,42.1L14.3,40.6L10.2,40.2ZM10.2,37.1L14.3,27L16.4,28.3L18.5,29.8L22.6,28.6L26.8,26.4L31,25.7L35.1,24.6L39.3,24.7L43.4,25L47.6,25L51.8,24.7L55.9,24.6L60.1,24.4L64.2,23.9L68.4,23.6L72.6,24L76.7,24.5L80.9,25.1L85,25.3L89.2,25.7L93.4,25.9L97.5,26.2L101.7,25.6L105.8,25.4L110,25.6L114.2,24.5L118.3,24L120.4,24L122.5,24.6L122.5,26.4L120.4,27.1L118.3,26.9L114.2,27L110,26.6L105.8,26.2L101.7,26.5L97.5,27L93.4,26.8L89.2,26.7L85,26.6L80.9,26.8L76.7,26.3L72.6,26.3L68.4,26.6L64.2,26.2L60.1,26.2L55.9,26.3L51.8,26.7L47.6,26.7L43.4,26.5L39.3,28.5L35.1,30.8L31,33L26.8,34.1L22.6,34.5L18.5,32.3L16.4,30.7L14.3,29.9L10.2,37.1Z"/><polygon class="ob" points="10.2,37.1 14.3,29.9 16.4,30.7 18.5,32.3 22.6,34.5 26.8,34.1 31,33 35.1,30.8 39.3,28.5 43.4,26.5 47.6,26.7 51.8,26.7 55.9,26.3 60.1,26.2 64.2,26.2 68.4,26.6 72.6,26.3 76.7,26.3 80.9,26.8 85,26.6 89.2,26.7 93.4,26.8 97.5,27 101.7,26.5 105.8,26.2 110,26.6 114.2,27 118.3,26.9 120.4,27.1 122.5,26.4 122.5,41.1 120.4,41.4 118.3,41.6 114.2,42.5 110,41.7 105.8,40.9 101.7,40.1 97.5,39.1 93.4,38.3 89.2,36.8 85,35.8 80.9,35.9 76.7,35.7 72.6,35.4 68.4,34.5 64.2,34.5 60.1,34.8 55.9,35.2 51.8,35.6 47.6,35.6 43.4,36 39.3,37.9 35.1,40.4 31,42.3 26.8,43.1 22.6,44.1 18.5,42.1 16.4,41 14.3,39.2 10.2,40.2"/></g>
<use href="#m5"/><use href="#G"/>
<polyline class="ml" clip-path="url(#c)" points="6,84 6.2,51 7,42.9 8.1,35.5 9.1,34 10.2,33.9 11.2,33.8 12.2,33.7 13.3,33.7 14.3,33.9 15.4,34.4 16.4,35 17.4,35.7 18.5,36.5 20.6,37.7 22.6,38.8 24.7,38.5 26.8,38.3 28.9,37.7 31,37.2 33,36.2 35.1,35.4 37.2,34.4 39.3,33.6 41.4,32.5 43.4,31.7 45.5,31.5 47.6,31.5 49.7,31.6 51.8,31.5 53.8,31.4 55.9,31.1 58,31.1 60.1,30.8 62.2,30.5 64.2,30 66.3,30 68.4,30.2 70.5,30.7 72.6,30.7 74.6,31 76.7,30.8 78.8,31 80.9,30.8 83,31.2 85,31.5 87.1,31.9 89.2,32.1 91.3,32.2 93.4,31.8 95.4,31.7 97.5,31.7 99.6,32 101.7,32 103.8,32 105.8,31.7 107.9,31.4 110,31.2 112.1,31 114.2,31.1 116.2,31.1 118.3,31.3 120.4,31 122.5,30.8"/>
<use href="#F"/></g>
<g class="k" transform="translate(1366.4,710.6)">
<g clip-path="url(#c)"><path class="bb" d="M10.2,40.5L14.3,40.3L18.5,42.3L22.6,45.7L24.7,44.2L26.8,42.6L31,39L35.1,39L39.3,39.5L43.4,39L47.6,38.7L51.8,38.1L55.9,37.5L60.1,37.2L62.2,36.9L64.2,37.8L68.4,38.3L72.6,38.2L74.6,38.5L76.7,38.5L80.9,39.4L85,39.1L89.2,39.1L93.4,39.2L97.5,39.1L101.7,39.3L105.8,39.7L110,40.4L114.2,40.5L118.3,39.8L122.5,39.2L122.5,42L118.3,43.6L114.2,42.3L110,42.1L105.8,42.4L101.7,45.8L97.5,46.4L93.4,47.8L89.2,48L85,47.8L80.9,47L76.7,47.5L74.6,48.1L72.6,47.5L68.4,47.1L64.2,44.8L62.2,42.7L60.1,40.9L55.9,38.4L51.8,39.3L47.6,40L43.4,39.9L39.3,40.3L35.1,39.8L31,40.5L26.8,43.8L24.7,45.8L22.6,47.8L18.5,45L14.3,41.8L10.2,40.5ZM10.2,37.4L14.3,29.9L18.5,32.9L22.6,34.8L24.7,32.9L26.8,31L31,28.1L35.1,27.6L39.3,27.3L43.4,27.1L47.6,27.5L51.8,27.5L55.9,26.3L60.1,26.2L62.2,26L64.2,25.4L68.4,24.9L72.6,24.6L74.6,24.7L76.7,25.2L80.9,24.6L85,23.5L89.2,23L93.4,22.3L97.5,23.2L101.7,23.6L105.8,24.9L110,24.3L114.2,24.6L118.3,24.2L122.5,25.1L122.5,27.8L118.3,27.2L114.2,27.2L110,26.7L105.8,26.7L101.7,26.2L97.5,25.9L93.4,25L89.2,25.5L85,25.9L80.9,26.5L76.7,26.1L74.6,25.6L72.6,25.4L68.4,26.2L64.2,27L62.2,27.1L60.1,27L55.9,27.2L51.8,28.3L47.6,28.8L43.4,29.5L39.3,29.2L35.1,29.2L31,29L26.8,32.7L24.7,34.6L22.6,36.8L18.5,34.1L14.3,31.5L10.2,37.4Z"/><polygon class="ob" points="10.2,37.4 14.3,31.5 18.5,34.1 22.6,36.8 24.7,34.6 26.8,32.7 31,29 35.1,29.2 39.3,29.2 43.4,29.5 47.6,28.8 51.8,28.3 55.9,27.2 60.1,27 62.2,27.1 64.2,27 68.4,26.2 72.6,25.4 74.6,25.6 76.7,26.1 80.9,26.5 85,25.9 89.2,25.5 93.4,25 97.5,25.9 101.7,26.2 105.8,26.7 110,26.7 114.2,27.2 118.3,27.2 122.5,27.8 122.5,39.2 118.3,39.8 114.2,40.5 110,40.4 105.8,39.7 101.7,39.3 97.5,39.1 93.4,39.2 89.2,39.1 85,39.1 80.9,39.4 76.7,38.5 74.6,38.5 72.6,38.2 68.4,38.3 64.2,37.8 62.2,36.9 60.1,37.2 55.9,37.5 51.8,38.1 47.6,38.7 43.4,39 39.3,39.5 35.1,39 31,39 26.8,42.6 24.7,44.2 22.6,45.7 18.5,42.3 14.3,40.3 10.2,40.5"/></g>
<use href="#m6"/><use href="#G"/>
<polyline class="ml" clip-path="url(#c)" points="6,84 6.2,51 7,43.1 8.1,35.9 9.1,34.5 10.2,34.4 11.2,34.3 12.2,34.2 13.3,34.2 14.3,34.5 15.4,35.1 16.4,36 17.4,36.9 18.5,37.8 20.6,39.6 22.6,40.9 24.7,39.7 26.8,38 28.9,36.4 31,34.9 33,34.4 35.1,34.1 37.2,34.1 39.3,33.8 41.4,33.8 43.4,33.6 45.5,33.8 47.6,33.5 49.7,33.2 51.8,32.9 53.8,32.7 55.9,32.6 58,32.4 60.1,32.3 62.2,31.9 64.2,31.7 66.3,31.5 68.4,31.3 70.5,31.5 72.6,31.5 74.6,31.6 76.7,31.1 78.8,30.9 80.9,30.6 83,30.4 85,30.1 87.1,29.8 89.2,29.6 91.3,29.2 93.4,28.9 95.4,29.5 97.5,29.7 99.6,30.3 101.7,30.4 103.8,30.8 105.8,31.3 107.9,31.5 110,31.6 112.1,31.6 114.2,31.9 116.2,31.9 118.3,32.1 120.4,31.9 122.5,32.3"/>
<use href="#F"/></g>
<g class="k" transform="translate(1545.8,710.6)">
<g clip-path="url(#c)"><path class="bb" d="M10.2,41.1L14.3,41.3L18.5,42.8L22.6,45L24.7,43.6L26.8,42.5L31,39.3L35.1,38.3L39.3,37.8L43.4,37.6L47.6,36.8L51.8,36.8L55.9,36.4L60.1,36.7L64.2,36.6L68.4,36.1L70.5,35.2L72.6,35L76.7,34.9L80.9,35.5L83,35.1L85,35.6L89.2,34.8L93.4,34.7L97.5,33.7L101.7,32.4L105.8,30.9L110,30.5L114.2,31.4L118.3,32.2L122.5,33L122.5,36.1L118.3,36.7L114.2,36.4L110,36.5L105.8,36.9L101.7,37.8L97.5,38.5L93.4,39.3L89.2,39.7L85,42.3L83,43.2L80.9,42.1L76.7,40.9L72.6,41.9L70.5,42.8L68.4,41.6L64.2,40.1L60.1,39.1L55.9,38.7L51.8,39.1L47.6,39.9L43.4,39.2L39.3,39.6L35.1,40.8L31,41.1L26.8,44.1L24.7,45.3L22.6,46.4L18.5,44.8L14.3,43.1L10.2,41.1ZM10.2,38L14.3,29L18.5,31.2L22.6,33.1L24.7,32L26.8,29.3L31,28L35.1,28L39.3,27.3L43.4,26.4L47.6,25L51.8,24.8L55.9,25.2L60.1,25L64.2,24.9L68.4,24.4L70.5,24.3L72.6,24.2L76.7,23.5L80.9,23.2L83,23.3L85,23L89.2,22.5L93.4,21.9L97.5,20.7L101.7,20.1L105.8,19.1L110,20.2L114.2,21L118.3,21.1L122.5,21.8L122.5,23.1L118.3,22.2L114.2,22.2L110,21.9L105.8,21.8L101.7,22.7L97.5,23.9L93.4,24.7L89.2,24.9L85,25.3L83,25.6L80.9,25.5L76.7,25.8L72.6,25.7L70.5,26.2L68.4,26L64.2,26.7L60.1,26.3L55.9,26.2L51.8,26.1L47.6,26.5L43.4,27.5L39.3,28.3L35.1,29L31,29.6L26.8,32.1L24.7,33.5L22.6,34.7L18.5,32.7L14.3,30.6L10.2,38Z"/><polygon class="ob" points="10.2,38 14.3,30.6 18.5,32.7 22.6,34.7 24.7,33.5 26.8,32.1 31,29.6 35.1,29 39.3,28.3 43.4,27.5 47.6,26.5 51.8,26.1 55.9,26.2 60.1,26.3 64.2,26.7 68.4,26 70.5,26.2 72.6,25.7 76.7,25.8 80.9,25.5 83,25.6 85,25.3 89.2,24.9 93.4,24.7 97.5,23.9 101.7,22.7 105.8,21.8 110,21.9 114.2,22.2 118.3,22.2 122.5,23.1 122.5,33 118.3,32.2 114.2,31.4 110,30.5 105.8,30.9 101.7,32.4 97.5,33.7 93.4,34.7 89.2,34.8 85,35.6 83,35.1 80.9,35.5 76.7,34.9 72.6,35 70.5,35.2 68.4,36.1 64.2,36.6 60.1,36.7 55.9,36.4 51.8,36.8 47.6,36.8 43.4,37.6 39.3,37.8 35.1,38.3 31,39.3 26.8,42.5 24.7,43.6 22.6,45 18.5,42.8 14.3,41.3 10.2,41.1"/></g>
<use href="#m7"/><use href="#G"/>
<polyline class="ml" clip-path="url(#c)" points="6,84 6.2,51.1 7,43.5 8.1,36.9 9.1,35.6 10.2,35.4 11.2,35.4 12.2,35.3 13.3,35.2 14.3,35.4 15.4,35.8 16.4,36.4 17.4,37 18.5,37.7 20.6,38.9 22.6,39.5 24.7,38.3 26.8,36.9 28.9,35.8 31,34.8 33,34.5 35.1,34 37.2,33.4 39.3,33 41.4,32.8 43.4,32.3 45.5,31.7 47.6,31.6 49.7,31.6 51.8,31.8 53.8,31.9 55.9,31.8 58,31.7 60.1,31.4 62.2,31.5 64.2,31.6 66.3,31.4 68.4,31.1 70.5,30.9 72.6,30.8 74.6,30.9 76.7,30.7 78.8,30.5 80.9,30 83,29.9 85,29.7 87.1,29.7 89.2,29.7 91.3,29.6 93.4,29.4 95.4,28.8 97.5,28.2 99.6,27.6 101.7,27.2 103.8,26.8 105.8,26.7 107.9,26.8 110,27.1 112.1,27.1 114.2,27.5 116.2,27.6 118.3,27.7 120.4,28 122.5,28.2"/>
<use href="#F"/></g>
<g class="k" transform="translate(1725.2,710.6)">
<g clip-path="url(#c)"><path class="bb" d="M10.2,40.5L14.3,40L18.5,42.9L22.6,45.2L24.7,46.2L26.8,44.9L31,42.6L35.1,40.6L39.3,40.3L43.4,39.6L45.5,39.7L47.6,39.6L51.8,39.6L55.9,39.3L60.1,38.8L64.2,38.5L68.4,37.9L72.6,37.7L76.7,36.9L80.9,36.8L85,36.1L89.2,35.4L93.4,35.9L97.5,36.5L101.7,37.5L105.8,37.4L110,38.2L114.2,37.6L118.3,37.2L120.4,37.2L122.5,36.5L122.5,39.1L120.4,41.9L118.3,41.1L114.2,39.3L110,39.1L105.8,38.2L101.7,38.3L97.5,37.3L93.4,36.7L89.2,37.3L85,38.1L80.9,39.2L76.7,39.5L72.6,40.4L68.4,40.6L64.2,40.6L60.1,41.2L55.9,40.9L51.8,41.9L47.6,41.7L45.5,42L43.4,43.4L39.3,47.9L35.1,43.6L31,43.5L26.8,46.2L24.7,48.5L22.6,47.4L18.5,44.6L14.3,40.9L10.2,40.5ZM10.2,37.4L14.3,29.1L18.5,31.5L22.6,30.5L24.7,28.4L26.8,27.1L31,25.8L35.1,26.3L39.3,25.7L43.4,25.5L45.5,25.6L47.6,27.2L51.8,27L55.9,26.8L60.1,25.5L64.2,24.6L68.4,24.1L72.6,23.6L76.7,23.8L80.9,24.1L85,24L89.2,23.6L93.4,22.2L97.5,21.1L101.7,20.3L105.8,19.7L110,19.1L114.2,17.6L118.3,16.2L120.4,15.4L122.5,17.6L122.5,21.9L120.4,22.7L118.3,20.1L114.2,20.5L110,20.5L105.8,21.7L101.7,22.4L97.5,23.7L93.4,24.1L89.2,24.9L85,25.1L80.9,25.5L76.7,26.1L72.6,26.7L68.4,27.4L64.2,28.3L60.1,29.8L55.9,29.6L51.8,29.1L47.6,29L45.5,29.5L43.4,30.1L39.3,30.1L35.1,30.4L31,32.9L26.8,35.4L24.7,36.7L22.6,35L18.5,32.4L14.3,30L10.2,37.4Z"/><polygon class="ob" points="10.2,37.4 14.3,30 18.5,32.4 22.6,35 24.7,36.7 26.8,35.4 31,32.9 35.1,30.4 39.3,30.1 43.4,30.1 45.5,29.5 47.6,29 51.8,29.1 55.9,29.6 60.1,29.8 64.2,28.3 68.4,27.4 72.6,26.7 76.7,26.1 80.9,25.5 85,25.1 89.2,24.9 93.4,24.1 97.5,23.7 101.7,22.4 105.8,21.7 110,20.5 114.2,20.5 118.3,20.1 120.4,22.7 122.5,21.9 122.5,36.5 120.4,37.2 118.3,37.2 114.2,37.6 110,38.2 105.8,37.4 101.7,37.5 97.5,36.5 93.4,35.9 89.2,35.4 85,36.1 80.9,36.8 76.7,36.9 72.6,37.7 68.4,37.9 64.2,38.5 60.1,38.8 55.9,39.3 51.8,39.6 47.6,39.6 45.5,39.7 43.4,39.6 39.3,40.3 35.1,40.6 31,42.6 26.8,44.9 24.7,46.2 22.6,45.2 18.5,42.9 14.3,40 10.2,40.5"/></g>
<use href="#m8"/><use href="#G"/>
<polyline class="ml" clip-path="url(#c)" points="6,84 6.2,51 7,43.1 8.1,35.9 9.1,34.5 10.2,34.4 11.2,34.3 12.2,34.2 13.3,34.2 14.3,34.4 15.4,35 16.4,35.7 17.4,36.3 18.5,37 20.6,38.6 22.6,40.1 24.7,40.9 26.8,40 28.9,38.6 31,37.5 33,36.2 35.1,35.1 37.2,34.9 39.3,34.7 41.4,34.7 43.4,34.5 45.5,34.4 47.6,34.4 49.7,34.4 51.8,34.5 53.8,34.4 55.9,34.2 58,34 60.1,34.1 62.2,34 64.2,34 66.3,33.6 68.4,33.3 70.5,33 72.6,32.8 74.6,32.6 76.7,32.6 78.8,32.4 80.9,32 83,31.4 85,31.3 87.1,31.2 89.2,30.9 91.3,30.4 93.4,30 95.4,29.8 97.5,29.3 99.6,28.8 101.7,28.4 103.8,28.4 105.8,28.1 107.9,27.8 110,27.3 112.1,27.1 114.2,27 116.2,26.8 118.3,26.7 120.4,26.6 122.5,26.6"/>
<use href="#F"/></g>
<g class="k" transform="translate(1904.6,710.6)">
<g clip-path="url(#c)"><path class="bb" d="M10.2,40.2L14.3,41L18.5,43.7L22.6,46L24.7,43.1L26.8,41.1L31,36.9L35.1,35.6L39.3,37L43.4,37.4L47.6,37L51.8,36.8L55.9,37.1L60.1,36.6L64.2,36.1L68.4,35.6L72.6,35.5L76.7,35.1L80.9,35.4L85,35.8L89.2,36.3L93.4,35.7L97.5,34.5L101.7,33.1L105.8,32.6L110,32.5L114.2,32.4L118.3,31.9L122.5,32.3L122.5,33.2L118.3,34.2L114.2,34.4L110,34.3L105.8,33.9L101.7,34.8L97.5,36.4L93.4,37.6L89.2,37.1L85,36.6L80.9,36.3L76.7,36.1L72.6,36.9L68.4,37.1L64.2,37.9L60.1,37.9L55.9,38.3L51.8,38.2L47.6,37.8L43.4,38.3L39.3,37.8L35.1,38.6L31,39.9L26.8,47.6L24.7,52L22.6,49.3L18.5,45.6L14.3,41.9L10.2,40.2ZM10.2,37.1L14.3,26.8L18.5,30.4L22.6,33.3L24.7,30.6L26.8,28.4L31,23.6L35.1,22.2L39.3,23.2L43.4,24.7L47.6,25L51.8,24.7L55.9,25.1L60.1,24.7L64.2,24.6L68.4,23.6L72.6,22.8L76.7,22.3L80.9,22.6L85,23.2L89.2,22.9L93.4,21.4L97.5,21.4L101.7,21.2L105.8,20.2L110,19.5L114.2,18.7L118.3,18.8L122.5,19L122.5,19.9L118.3,19.6L114.2,19.5L110,20.4L105.8,21.5L101.7,23.1L97.5,23.8L93.4,24.4L89.2,24.3L85,24L80.9,23.4L76.7,23.2L72.6,23.7L68.4,24.4L64.2,25.4L60.1,26.2L55.9,26.5L51.8,26.3L47.6,25.8L43.4,25.5L39.3,24L35.1,23L31,24.4L26.8,29.2L24.7,31.5L22.6,34.1L18.5,31.2L14.3,28.8L10.2,37.1Z"/><polygon class="ob" points="10.2,37.1 14.3,28.8 18.5,31.2 22.6,34.1 24.7,31.5 26.8,29.2 31,24.4 35.1,23 39.3,24 43.4,25.5 47.6,25.8 51.8,26.3 55.9,26.5 60.1,26.2 64.2,25.4 68.4,24.4 72.6,23.7 76.7,23.2 80.9,23.4 85,24 89.2,24.3 93.4,24.4 97.5,23.8 101.7,23.1 105.8,21.5 110,20.4 114.2,19.5 118.3,19.6 122.5,19.9 122.5,32.3 118.3,31.9 114.2,32.4 110,32.5 105.8,32.6 101.7,33.1 97.5,34.5 93.4,35.7 89.2,36.3 85,35.8 80.9,35.4 76.7,35.1 72.6,35.5 68.4,35.6 64.2,36.1 60.1,36.6 55.9,37.1 51.8,36.8 47.6,37 43.4,37.4 39.3,37 35.1,35.6 31,36.9 26.8,41.1 24.7,43.1 22.6,46 18.5,43.7 14.3,41 10.2,40.2"/></g>
<use href="#m9"/><use href="#G"/>
<polyline class="ml" clip-path="url(#c)" points="6,84 6.2,51 7,42.9 8.1,35.5 9.1,34 10.2,33.9 11.2,33.8 12.2,33.7 13.3,33.7 14.3,34 15.4,34.6 16.4,35.5 17.4,36.3 18.5,37 20.6,38.6 22.6,39.5 24.7,37.8 26.8,35.4 28.9,33.3 31,31 33,29.1 35.1,28.9 37.2,29.5 39.3,30.2 41.4,31 43.4,31.6 45.5,31.6 47.6,31.3 49.7,31 51.8,31.1 53.8,31 55.9,31.1 58,30.9 60.1,31 62.2,30.7 64.2,30.9 66.3,30.8 68.4,30.6 70.5,30.2 72.6,30.1 74.6,29.7 76.7,29.6 78.8,29.5 80.9,29.4 83,29.6 85,29.5 87.1,29.8 89.2,29.7 91.3,29.9 93.4,29.9 95.4,29.6 97.5,29.1 99.6,28.4 101.7,27.6 103.8,27 105.8,26.6 107.9,26.4 110,26.2 112.1,26.2 114.2,26.4 116.2,26.5 118.3,26.3 120.4,25.8 122.5,25.5"/>
<use href="#F"/></g>
<g class="r" transform="translate(2084,710.6)">
<g clip-path="url(#c)"><path class="bb" d="M10.2,40.5L14.3,40.3L18.5,42.9L22.6,46.2L24.7,48L26.8,45.9L31,41.2L35.1,36.3L39.3,36.2L43.4,35.9L47.6,36L51.8,35.6L55.9,35L60.1,34.8L64.2,34L68.4,32.8L72.6,31.3L74.6,30.7L76.7,31L80.9,30.5L85,29.8L89.2,30.7L93.4,31.7L97.5,30.4L101.7,29L105.8,28L110,28.8L114.2,28.9L118.3,30.3L122.5,31.1L122.5,32L118.3,31.2L114.2,29.7L110,29.6L105.8,28.9L101.7,31.3L97.5,32.4L93.4,33.4L89.2,31.6L85,32.3L80.9,40.1L76.7,45.3L74.6,47.2L72.6,44.9L68.4,41.3L64.2,38.9L60.1,36.1L55.9,36.2L51.8,36.6L47.6,37.4L43.4,38.2L39.3,38.2L35.1,39L31,42.1L26.8,46.7L24.7,49.3L22.6,47.8L18.5,44.4L14.3,41.3L10.2,40.5ZM10.2,37.4L14.3,28.7L18.5,31.4L22.6,34.3L24.7,35.5L26.8,33.1L31,26.7L35.1,24.4L39.3,24.6L43.4,25.2L47.6,25.3L51.8,24.3L55.9,23.1L60.1,22.2L64.2,21.2L68.4,20.4L72.6,19.4L74.6,19.3L76.7,18.6L80.9,18L85,17.6L89.2,18.9L93.4,18.3L97.5,17.3L101.7,16.5L105.8,16.1L110,16.3L114.2,16.2L118.3,15.8L122.5,19.1L122.5,20.3L118.3,18.8L114.2,18L110,18.2L105.8,18.7L101.7,19.5L97.5,20.4L93.4,20.7L89.2,19.8L85,18.6L80.9,19.7L76.7,20.3L74.6,21.1L72.6,21.1L68.4,22.1L64.2,22L60.1,23.1L55.9,24L51.8,25.3L47.6,26.4L43.4,26.2L39.3,25.9L35.1,26.2L31,30.9L26.8,35.7L24.7,37.8L22.6,36L18.5,32.6L14.3,29.6L10.2,37.4Z"/><polygon class="ob" points="10.2,37.4 14.3,29.6 18.5,32.6 22.6,36 24.7,37.8 26.8,35.7 31,30.9 35.1,26.2 39.3,25.9 43.4,26.2 47.6,26.4 51.8,25.3 55.9,24 60.1,23.1 64.2,22 68.4,22.1 72.6,21.1 74.6,21.1 76.7,20.3 80.9,19.7 85,18.6 89.2,19.8 93.4,20.7 97.5,20.4 101.7,19.5 105.8,18.7 110,18.2 114.2,18 118.3,18.8 122.5,20.3 122.5,31.1 118.3,30.3 114.2,28.9 110,28.8 105.8,28 101.7,29 97.5,30.4 93.4,31.7 89.2,30.7 85,29.8 80.9,30.5 76.7,31 74.6,30.7 72.6,31.3 68.4,32.8 64.2,34 60.1,34.8 55.9,35 51.8,35.6 47.6,36 43.4,35.9 39.3,36.2 35.1,36.3 31,41.2 26.8,45.9 24.7,48 22.6,46.2 18.5,42.9 14.3,40.3 10.2,40.5"/></g>
<use href="#m10"/><use href="#G"/>
<polyline class="ml" clip-path="url(#c)" points="6,84 6.2,51 7,43.1 8.1,35.9 9.1,34.5 10.2,34.4 11.2,34.3 12.2,34.2 13.3,34.2 14.3,34.5 15.4,35 16.4,35.8 17.4,36.7 18.5,37.5 20.6,39.1 22.6,40.7 24.7,41.6 26.8,39.9 28.9,37.6 31,35.3 33,33 35.1,31.2 37.2,31 39.3,30.9 41.4,30.9 43.4,31 45.5,31.2 47.6,31.2 49.7,30.6 51.8,30.1 53.8,29.7 55.9,29.4 58,29.2 60.1,29 62.2,28.5 64.2,28.5 66.3,28 68.4,27.8 70.5,27.1 72.6,26.2 74.6,25.9 76.7,25.4 78.8,25.3 80.9,24.8 83,24.2 85,24 87.1,24.4 89.2,25.2 91.3,26 93.4,26.2 95.4,25.7 97.5,24.8 99.6,24.3 101.7,23.8 103.8,23.3 105.8,22.9 107.9,22.7 110,22.8 112.1,22.9 114.2,23.3 116.2,23.9 118.3,24.4 120.4,24.9 122.5,25.3"/>
<use href="#F"/></g>
<g class="r" transform="translate(290,828.5)">
<g clip-path="url(#c)"><path class="bb" d="M10.2,39.2L14.3,39.8L18.5,36.4L22.6,32.8L26.8,31.5L31,31L35.1,29.4L39.3,29.3L43.4,28.8L47.6,29.1L51.8,28.9L55.9,28.8L60.1,28.9L64.2,29.2L68.4,29.2L72.6,28.6L76.7,28L80.9,27.8L85,27.5L89.2,27.5L93.4,26.7L97.5,26.2L101.7,25L105.8,24.8L110,24.2L114.2,25.3L118.3,25.3L120.4,25.1L122.5,24.8L122.5,27.6L120.4,31.3L118.3,31.9L114.2,32.4L110,31.5L105.8,31.3L101.7,31.4L97.5,32L93.4,31.6L89.2,30.5L85,30.3L80.9,30.3L76.7,31.6L72.6,31.6L68.4,31.9L64.2,31.6L60.1,31.5L55.9,30.4L51.8,30.6L47.6,30.7L43.4,31.9L39.3,32.1L35.1,31.8L31,32.1L26.8,33.4L22.6,34.5L18.5,38.6L14.3,41.5L10.2,39.2ZM10.2,36L14.3,28.3L18.5,25.5L22.6,21.7L26.8,21.3L31,19.9L35.1,18.5L39.3,18L43.4,18.4L47.6,18.9L51.8,19.2L55.9,18.7L60.1,18.1L64.2,17.5L68.4,16.9L72.6,17.5L76.7,17L80.9,17.2L85,16.1L89.2,16.4L93.4,15.7L97.5,15.6L101.7,14.6L105.8,14.1L110,13.1L114.2,13.4L118.3,14.2L120.4,13.9L122.5,13.6L122.5,16.4L120.4,16L118.3,15.8L114.2,15.5L110,15.2L105.8,15.9L101.7,16.2L97.5,17.3L93.4,18.4L89.2,18.8L85,19L80.9,19L76.7,19.6L72.6,20.1L68.4,20.4L64.2,20.6L60.1,20.3L55.9,20.1L51.8,20.2L47.6,20.5L43.4,21.1L39.3,21.8L35.1,21.8L31,22.2L26.8,22.5L22.6,23.4L18.5,27.7L14.3,31.3L10.2,36Z"/><polygon class="ob" points="10.2,36 14.3,31.3 18.5,27.7 22.6,23.4 26.8,22.5 31,22.2 35.1,21.8 39.3,21.8 43.4,21.1 47.6,20.5 51.8,20.2 55.9,20.1 60.1,20.3 64.2,20.6 68.4,20.4 72.6,20.1 76.7,19.6 80.9,19 85,19 89.2,18.8 93.4,18.4 97.5,17.3 101.7,16.2 105.8,15.9 110,15.2 114.2,15.5 118.3,15.8 120.4,16 122.5,16.4 122.5,24.8 120.4,25.1 118.3,25.3 114.2,25.3 110,24.2 105.8,24.8 101.7,25 97.5,26.2 93.4,26.7 89.2,27.5 85,27.5 80.9,27.8 76.7,28 72.6,28.6 68.4,29.2 64.2,29.2 60.1,28.9 55.9,28.8 51.8,28.9 47.6,29.1 43.4,28.8 39.3,29.3 35.1,29.4 31,31 26.8,31.5 22.6,32.8 18.5,36.4 14.3,39.8 10.2,39.2"/></g>
<use href="#m0"/><use href="#G"/>
<polyline class="ml" clip-path="url(#c)" points="6,84 6.2,49.8 7,44.6 8.1,42.3 9.1,39.9 10.2,37.8 11.2,37.1 12.2,36.5 13.3,36 14.3,35.5 15.4,35 16.4,34.3 17.4,33.4 18.5,32.3 20.6,30 22.6,28.5 24.7,27.8 26.8,27.6 28.9,26.9 31,26.3 33,25.9 35.1,25.5 37.2,25.4 39.3,25.1 41.4,24.9 43.4,24.9 45.5,25 47.6,25.3 49.7,25.1 51.8,24.7 53.8,24.4 55.9,24.2 58,24.4 60.1,24.3 62.2,24.5 64.2,24.2 66.3,24.4 68.4,24.2 70.5,24.4 72.6,24.2 74.6,24 76.7,23.6 78.8,23.4 80.9,23.3 83,23.2 85,23.1 87.1,22.8 89.2,22.8 91.3,22.6 93.4,22.5 95.4,22.1 97.5,21.4 99.6,21.3 101.7,20.8 103.8,20.5 105.8,19.9 107.9,19.8 110,19.6 112.1,19.6 114.2,19.9 116.2,20.2 118.3,20.6 120.4,20.8 122.5,21.1"/>
<use href="#F"/></g>
<g class="r" transform="translate(469.4,828.5)">
<g clip-path="url(#c)"><path class="bb" d="M10.2,38.1L14.3,38.3L18.5,36.5L22.6,33.3L26.8,30.8L31,30.5L35.1,30.2L39.3,29.5L43.4,28.9L47.6,28.3L51.8,27.6L55.9,27L60.1,26.4L64.2,26.3L68.4,25.9L72.6,25.7L76.7,25.1L80.9,24.5L85,24.1L89.2,23.9L93.4,23.8L97.5,23.1L101.7,22.6L105.8,22L110,21.8L114.2,21.5L118.3,21.6L122.5,21.1L122.5,22L118.3,22.4L114.2,22.6L110,24.1L105.8,24.8L101.7,24.7L97.5,24.7L93.4,24.8L89.2,25.7L85,25.6L80.9,26.1L76.7,26.9L72.6,27.3L68.4,27.6L64.2,28.2L60.1,29.3L55.9,29.7L51.8,30L47.6,30.3L43.4,31.3L39.3,30.8L35.1,31L31,31.4L26.8,32.1L22.6,35.4L18.5,37.8L14.3,39.2L10.2,38.1ZM10.2,34.9L14.3,28.8L18.5,26.2L22.6,23.4L26.8,20.8L31,20.7L35.1,20.8L39.3,20.4L43.4,20L47.6,19.5L51.8,18.9L55.9,18.3L60.1,18L64.2,17.9L68.4,18L72.6,17L76.7,16.7L80.9,16.1L85,15.8L89.2,15.1L93.4,14.7L97.5,14.2L101.7,13.1L105.8,12.6L110,12.2L114.2,12.4L118.3,12.5L122.5,12.2L122.5,13.1L118.3,13.8L114.2,14.6L110,15L105.8,15.3L101.7,15.1L97.5,15.2L93.4,15.8L89.2,15.9L85,16.6L80.9,16.9L76.7,17.8L72.6,17.9L68.4,18.8L64.2,19.1L60.1,19.5L55.9,19.1L51.8,19.8L47.6,20.4L43.4,21.5L39.3,21.8L35.1,22.5L31,22.6L26.8,23.3L22.6,25.4L18.5,28L14.3,30.1L10.2,34.9Z"/><polygon class="ob" points="10.2,34.9 14.3,30.1 18.5,28 22.6,25.4 26.8,23.3 31,22.6 35.1,22.5 39.3,21.8 43.4,21.5 47.6,20.4 51.8,19.8 55.9,19.1 60.1,19.5 64.2,19.1 68.4,18.8 72.6,17.9 76.7,17.8 80.9,16.9 85,16.6 89.2,15.9 93.4,15.8 97.5,15.2 101.7,15.1 105.8,15.3 110,15 114.2,14.6 118.3,13.8 122.5,13.1 122.5,21.1 118.3,21.6 114.2,21.5 110,21.8 105.8,22 101.7,22.6 97.5,23.1 93.4,23.8 89.2,23.9 85,24.1 80.9,24.5 76.7,25.1 72.6,25.7 68.4,25.9 64.2,26.3 60.1,26.4 55.9,27 51.8,27.6 47.6,28.3 43.4,28.9 39.3,29.5 35.1,30.2 31,30.5 26.8,30.8 22.6,33.3 18.5,36.5 14.3,38.3 10.2,38.1"/></g>
<use href="#m1"/><use href="#G"/>
<polyline class="ml" clip-path="url(#c)" points="6,84 6.2,49.8 7,44.4 8.1,41.8 9.1,39.2 10.2,36.8 11.2,36 12.2,35.5 13.3,34.9 14.3,34.4 15.4,33.9 16.4,33.3 17.4,32.7 18.5,32.1 20.6,30.9 22.6,29.1 24.7,27.6 26.8,26.6 28.9,26.3 31,26.3 33,26 35.1,26 37.2,25.9 39.3,25.8 41.4,25.7 43.4,25.4 45.5,25 47.6,24.7 49.7,24.4 51.8,24.2 53.8,24 55.9,24.2 58,23.5 60.1,23.2 62.2,22.8 64.2,22.9 66.3,22.8 68.4,22.4 70.5,22.3 72.6,22.1 74.6,22.2 76.7,21.9 78.8,21.5 80.9,21.2 83,21.3 85,21.3 87.1,20.9 89.2,20.4 91.3,20.2 93.4,19.8 95.4,19.7 97.5,19.5 99.6,19.5 101.7,19.4 103.8,19.4 105.8,19.2 107.9,18.6 110,18.2 112.1,17.9 114.2,17.5 116.2,17.2 118.3,17 120.4,16.9 122.5,16.8"/>
<use href="#F"/></g>
<g class="r" transform="translate(648.8,828.5)">
<g clip-path="url(#c)"><path class="bb" d="M10.2,38.1L14.3,39.9L18.5,38.1L22.6,35.8L26.8,32.4L31,32.9L35.1,32.4L39.3,32.1L43.4,30.7L47.6,30.8L51.8,30.5L55.9,30.6L60.1,30L64.2,30L68.4,30.7L72.6,29.9L76.7,29.1L80.9,28.4L85,28.3L89.2,28L93.4,27.3L97.5,26.9L101.7,26.3L105.8,26.2L110,25.7L114.2,25.3L118.3,24.6L122.5,24.2L122.5,25L118.3,25.7L114.2,26.2L110,27.2L105.8,27.4L101.7,28.4L97.5,29.1L93.4,29.3L89.2,29.1L85,29.2L80.9,29.2L76.7,29.9L72.6,30.7L68.4,31.5L64.2,30.8L60.1,31L55.9,31.6L51.8,31.4L47.6,31.8L43.4,32.2L39.3,32.9L35.1,33.3L31,33.7L26.8,33.3L22.6,37.1L18.5,39.7L14.3,41.5L10.2,38.1ZM10.2,34.9L14.3,29.4L18.5,27.2L22.6,24.1L26.8,21.2L31,21.4L35.1,21.5L39.3,21.4L43.4,20.8L47.6,20.5L51.8,19.8L55.9,20.2L60.1,19.3L64.2,19.2L68.4,18.5L72.6,18.3L76.7,17.4L80.9,17.5L85,16.8L89.2,16.1L93.4,15.8L97.5,15.8L101.7,15.7L105.8,15.5L110,15.3L114.2,15.1L118.3,14.4L122.5,13.8L122.5,14.6L118.3,15.8L114.2,16.1L110,16.7L105.8,16.3L101.7,16.6L97.5,16.6L93.4,16.7L89.2,16.9L85,17.7L80.9,18.7L76.7,18.9L72.6,19.5L68.4,19.4L64.2,20.1L60.1,20.1L55.9,21.1L51.8,21.2L47.6,21.4L43.4,21.6L39.3,22.3L35.1,22.3L31,22.5L26.8,22L22.6,24.9L18.5,28.1L14.3,30.5L10.2,34.9Z"/><polygon class="ob" points="10.2,34.9 14.3,30.5 18.5,28.1 22.6,24.9 26.8,22 31,22.5 35.1,22.3 39.3,22.3 43.4,21.6 47.6,21.4 51.8,21.2 55.9,21.1 60.1,20.1 64.2,20.1 68.4,19.4 72.6,19.5 76.7,18.9 80.9,18.7 85,17.7 89.2,16.9 93.4,16.7 97.5,16.6 101.7,16.6 105.8,16.3 110,16.7 114.2,16.1 118.3,15.8 122.5,14.6 122.5,24.2 118.3,24.6 114.2,25.3 110,25.7 105.8,26.2 101.7,26.3 97.5,26.9 93.4,27.3 89.2,28 85,28.3 80.9,28.4 76.7,29.1 72.6,29.9 68.4,30.7 64.2,30 60.1,30 55.9,30.6 51.8,30.5 47.6,30.8 43.4,30.7 39.3,32.1 35.1,32.4 31,32.9 26.8,32.4 22.6,35.8 18.5,38.1 14.3,39.9 10.2,38.1"/></g>
<use href="#m2"/><use href="#G"/>
<polyline class="ml" clip-path="url(#c)" points="6,84 6.2,49.8 7,44.4 8.1,41.8 9.1,39.2 10.2,36.8 11.2,36.1 12.2,35.7 13.3,35.3 14.3,34.9 15.4,34.6 16.4,34.2 17.4,33.7 18.5,33.1 20.6,31.7 22.6,30.1 24.7,28.5 26.8,27 28.9,26.9 31,26.8 33,26.8 35.1,26.7 37.2,26.8 39.3,26.8 41.4,26.7 43.4,26.8 45.5,26.7 47.6,26.8 49.7,26.4 51.8,25.9 53.8,25.7 55.9,25.4 58,25.3 60.1,25.1 62.2,24.9 64.2,24.8 66.3,24.7 68.4,24.4 70.5,24.4 72.6,24.1 74.6,24 76.7,23.7 78.8,23.6 80.9,23.7 83,23.6 85,23.6 87.1,23.3 89.2,23 91.3,22.4 93.4,22.2 95.4,22 97.5,22 99.6,21.7 101.7,21.7 103.8,21.4 105.8,21.2 107.9,20.8 110,20.8 112.1,20.5 114.2,20.3 116.2,19.9 118.3,19.6 120.4,19.4 122.5,19.3"/>
<use href="#F"/></g>
<g class="r" transform="translate(828.2,828.5)">
<g clip-path="url(#c)"><path class="bb" d="M10.2,38.1L14.3,40.8L18.5,39.9L22.6,41.4L26.8,43L31,43L35.1,42.8L39.3,42.6L43.4,42.6L47.6,41.5L51.8,40.8L55.9,39.9L60.1,39.5L62.2,39.1L64.2,38.6L68.4,38.4L72.6,38L76.7,37.8L80.9,37.5L85,37.7L89.2,36.8L93.4,35.7L95.4,34.3L97.5,34.4L101.7,33.9L105.8,33.5L110,32.9L114.2,32.2L118.3,31.6L120,30.7L120.4,30.2L122.5,29L122.5,29.9L120.4,31.7L120,87.1L118.3,87.7L114.2,87.5L110,87.2L105.8,86.8L101.7,87.2L97.5,87.2L95.4,87.2L93.4,84.1L89.2,78.7L85,72.5L80.9,67.5L76.7,61.8L72.6,56.4L68.4,49.9L64.2,44.7L62.2,42.2L60.1,43L55.9,42.6L51.8,42.3L47.6,42.4L43.4,43.5L39.3,43.4L35.1,43.8L31,44.3L26.8,44.8L22.6,43.1L18.5,42.9L14.3,43.2L10.2,38.1ZM10.2,34.9L14.3,29.8L18.5,28.2L22.6,27.2L26.8,25.3L31,25.1L35.1,24.6L39.3,24.4L43.4,23.6L47.6,22.7L51.8,22.1L55.9,21.8L60.1,21.1L62.2,20.6L64.2,20.6L68.4,20.1L72.6,19.6L76.7,18.6L80.9,18.6L85,18.7L89.2,18.8L93.4,18.2L95.4,17.8L97.5,17.1L101.7,16.5L105.8,16.8L110,16.6L114.2,16.6L118.3,15.7L120,15.6L120.4,15.9L122.5,15.4L122.5,16.7L120.4,17.2L120,17.4L118.3,17.7L114.2,18L110,18.1L105.8,18.6L101.7,18.8L97.5,19.5L95.4,19.7L93.4,19.9L89.2,20.2L85,20.7L80.9,20.9L76.7,21.1L72.6,21.5L68.4,22.3L64.2,22.7L62.2,23.2L60.1,23.1L55.9,23.7L51.8,23.4L47.6,23.8L43.4,24.6L39.3,25.6L35.1,26.3L31,26.8L26.8,27.2L22.6,29L18.5,30.7L14.3,31.6L10.2,34.9Z"/><polygon class="ob" points="10.2,34.9 14.3,31.6 18.5,30.7 22.6,29 26.8,27.2 31,26.8 35.1,26.3 39.3,25.6 43.4,24.6 47.6,23.8 51.8,23.4 55.9,23.7 60.1,23.1 62.2,23.2 64.2,22.7 68.4,22.3 72.6,21.5 76.7,21.1 80.9,20.9 85,20.7 89.2,20.2 93.4,19.9 95.4,19.7 97.5,19.5 101.7,18.8 105.8,18.6 110,18.1 114.2,18 118.3,17.7 120,17.4 120.4,17.2 122.5,16.7 122.5,29 120.4,30.2 120,30.7 118.3,31.6 114.2,32.2 110,32.9 105.8,33.5 101.7,33.9 97.5,34.4 95.4,34.3 93.4,35.7 89.2,36.8 85,37.7 80.9,37.5 76.7,37.8 72.6,38 68.4,38.4 64.2,38.6 62.2,39.1 60.1,39.5 55.9,39.9 51.8,40.8 47.6,41.5 43.4,42.6 39.3,42.6 35.1,42.8 31,43 26.8,43 22.6,41.4 18.5,39.9 14.3,40.8 10.2,38.1"/></g>
<use href="#m3"/><use href="#G"/>
<polyline class="ml" clip-path="url(#c)" points="6,84 6.2,49.8 7,44.4 8.1,41.8 9.1,39.2 10.2,36.8 11.2,36.4 12.2,36.3 13.3,36.1 14.3,36 15.4,35.8 16.4,35.7 17.4,35.6 18.5,35.5 20.6,34.9 22.6,34.2 24.7,33 26.8,32.5 28.9,32.4 31,32.1 33,31.6 35.1,30.9 37.2,30.4 39.3,30.1 41.4,30 43.4,29.8 45.5,29.3 47.6,28.9 49.7,29 51.8,28.6 53.8,28.4 55.9,28 58,27.7 60.1,27.5 62.2,27.1 64.2,27 66.3,26.5 68.4,26.3 70.5,26.1 72.6,26.3 74.6,26.2 76.7,26.1 78.8,25.9 80.9,25.6 83,25.5 85,25.1 87.1,25 89.2,24.7 91.3,24.6 93.4,24.1 95.4,23.9 97.5,23.8 99.6,24 101.7,24.1 103.8,23.8 105.8,23.4 107.9,23 110,22.7 112.1,23 114.2,23.1 116.2,22.9 118.3,22.5 120.4,22.1 122.5,22.2"/>
<use href="#F"/></g>
<g class="k" transform="translate(1007.6,828.5)">
<g clip-path="url(#c)"><path class="bb" d="M10.2,38.1L14.3,41.7L18.5,41.4L22.6,41.2L24.7,40.1L26.8,39.5L31,37L35.1,36.6L39.3,36.5L43.4,36.3L47.6,36.7L51.8,37L55.9,37.3L60.1,37.3L64.2,37L68.4,36.6L72.6,36.3L76.7,35.8L78.8,35.7L80.9,35.5L85,35.2L89.2,34.8L93.4,34.5L97.5,33.5L101.7,33L105.8,32.3L110,32.4L114.2,32.4L118.3,31.7L122.5,31.5L122.5,35.2L118.3,36.7L114.2,37.6L110,37.8L105.8,38.3L101.7,40.4L97.5,42.9L93.4,41.6L89.2,40.5L85,40L80.9,44.2L78.8,46L76.7,45.1L72.6,42L68.4,42L64.2,42L60.1,46.4L55.9,51.2L51.8,48.9L47.6,45.4L43.4,43.5L39.3,39.9L35.1,39.8L31,39.2L26.8,42.2L24.7,42.9L22.6,43.3L18.5,43.2L14.3,42.8L10.2,38.1ZM10.2,34.9L14.3,29.9L18.5,30.2L22.6,29L24.7,28.6L26.8,27.8L31,26.5L35.1,25.8L39.3,25.6L43.4,24.8L47.6,24.4L51.8,24.1L55.9,23.6L60.1,23.3L64.2,22.6L68.4,21.9L72.6,21.1L76.7,19.7L78.8,19.5L80.9,19.1L85,20L89.2,20.9L93.4,21.4L97.5,21.1L101.7,19.6L105.8,18.5L110,18.3L114.2,18L118.3,17.8L122.5,17.1L122.5,19.4L118.3,20.1L114.2,20.6L110,20.5L105.8,20.7L101.7,21.6L97.5,22.8L93.4,23.1L89.2,22.6L85,22.3L80.9,21.8L78.8,22.2L76.7,22.2L72.6,23.2L68.4,23.5L64.2,24L60.1,24.1L55.9,24.6L51.8,25.3L47.6,26L43.4,26.8L39.3,27.2L35.1,28.2L31,29.1L26.8,30.7L24.7,31.2L22.6,31.5L18.5,32.2L14.3,31.6L10.2,34.9Z"/><polygon class="ob" points="10.2,34.9 14.3,31.6 18.5,32.2 22.6,31.5 24.7,31.2 26.8,30.7 31,29.1 35.1,28.2 39.3,27.2 43.4,26.8 47.6,26 51.8,25.3 55.9,24.6 60.1,24.1 64.2,24 68.4,23.5 72.6,23.2 76.7,22.2 78.8,22.2 80.9,21.8 85,22.3 89.2,22.6 93.4,23.1 97.5,22.8 101.7,21.6 105.8,20.7 110,20.5 114.2,20.6 118.3,20.1 122.5,19.4 122.5,31.5 118.3,31.7 114.2,32.4 110,32.4 105.8,32.3 101.7,33 97.5,33.5 93.4,34.5 89.2,34.8 85,35.2 80.9,35.5 78.8,35.7 76.7,35.8 72.6,36.3 68.4,36.6 64.2,37 60.1,37.3 55.9,37.3 51.8,37 47.6,36.7 43.4,36.3 39.3,36.5 35.1,36.6 31,37 26.8,39.5 24.7,40.1 22.6,41.2 18.5,41.4 14.3,41.7 10.2,38.1"/></g>
<use href="#m4"/><use href="#G"/>
<polyline class="ml" clip-path="url(#c)" points="6,84 6.2,49.8 7,44.4 8.1,41.8 9.1,39.2 10.2,36.8 11.2,36.6 12.2,36.6 13.3,36.7 14.3,36.7 15.4,36.8 16.4,36.9 17.4,36.8 18.5,36.7 20.6,36.5 22.6,36.1 24.7,35.4 26.8,34.8 28.9,33.6 31,32.9 33,32.6 35.1,32.5 37.2,32.2 39.3,31.9 41.4,31.9 43.4,32 45.5,31.6 47.6,31.2 49.7,30.8 51.8,30.6 53.8,30.4 55.9,30.2 58,30.1 60.1,29.8 62.2,29.2 64.2,29 66.3,28.6 68.4,28.3 70.5,27.9 72.6,27.5 74.6,27.2 76.7,27 78.8,26.5 80.9,26.5 83,26.7 85,27.5 87.1,27.7 89.2,27.9 91.3,27.8 93.4,28 95.4,27.8 97.5,27.7 99.6,27.3 101.7,26.9 103.8,26.4 105.8,26 107.9,25.9 110,25.6 112.1,25.4 114.2,25.2 116.2,25.1 118.3,24.8 120.4,24.6 122.5,24.6"/>
<use href="#F"/></g>
<g class="r" transform="translate(1187,828.5)">
<g clip-path="url(#c)"><path class="bb" d="M10.2,38.6L14.3,40.5L18.5,41.9L22.6,41.8L26.8,39.1L31,36.9L35.1,36.4L39.3,36.1L43.4,35.4L47.6,34.7L51.8,33.9L55.9,32.4L60.1,31.6L64.2,30.3L68.4,30.3L72.6,28.9L76.7,28.2L80.9,27.6L85,27.5L89.2,27.7L93.4,27.6L97.5,27.6L101.7,26.8L105.8,26.1L110,25.8L114.2,25.6L118.3,25.7L122.5,25.5L122.5,27.7L118.3,30.8L114.2,33.9L110,34.1L105.8,33.6L101.7,31.2L97.5,28.9L93.4,29.9L89.2,30.6L85,30.4L80.9,32.9L76.7,35.4L72.6,32.8L68.4,31.2L64.2,31.1L60.1,32.4L55.9,33.3L51.8,34.8L47.6,35.5L43.4,36.2L39.3,36.9L35.1,37.3L31,37.9L26.8,40.1L22.6,42.9L18.5,42.8L14.3,41.3L10.2,38.6ZM10.2,35.4L14.3,30.4L18.5,31.9L22.6,31.4L26.8,29.8L31,27.3L35.1,25.7L39.3,25.3L43.4,24.5L47.6,23.9L51.8,22.1L55.9,21.3L60.1,20.2L64.2,19.2L68.4,18.4L72.6,18.3L76.7,18.1L80.9,17.7L85,17.3L89.2,17L93.4,17L97.5,16.4L101.7,15.4L105.8,15.7L110,15.4L114.2,15.3L118.3,15.1L122.5,15.1L122.5,15.9L118.3,15.9L114.2,16.3L110,17L105.8,17.4L101.7,17.7L97.5,17.8L93.4,18.1L89.2,17.9L85,18.2L80.9,18.8L76.7,19.4L72.6,19.5L68.4,19.6L64.2,20.1L60.1,21L55.9,22.1L51.8,22.9L47.6,24.7L43.4,25.4L39.3,26.1L35.1,27.2L31,28.1L26.8,30.7L22.6,32.3L18.5,32.7L14.3,31.3L10.2,35.4Z"/><polygon class="ob" points="10.2,35.4 14.3,31.3 18.5,32.7 22.6,32.3 26.8,30.7 31,28.1 35.1,27.2 39.3,26.1 43.4,25.4 47.6,24.7 51.8,22.9 55.9,22.1 60.1,21 64.2,20.1 68.4,19.6 72.6,19.5 76.7,19.4 80.9,18.8 85,18.2 89.2,17.9 93.4,18.1 97.5,17.8 101.7,17.7 105.8,17.4 110,17 114.2,16.3 118.3,15.9 122.5,15.9 122.5,25.5 118.3,25.7 114.2,25.6 110,25.8 105.8,26.1 101.7,26.8 97.5,27.6 93.4,27.6 89.2,27.7 85,27.5 80.9,27.6 76.7,28.2 72.6,28.9 68.4,30.3 64.2,30.3 60.1,31.6 55.9,32.4 51.8,33.9 47.6,34.7 43.4,35.4 39.3,36.1 35.1,36.4 31,36.9 26.8,39.1 22.6,41.8 18.5,41.9 14.3,40.5 10.2,38.6"/></g>
<use href="#m5"/><use href="#G"/>
<polyline class="ml" clip-path="url(#c)" points="6,84 6.2,51 7,43.3 8.1,36.4 9.1,35 10.2,34.9 11.2,34.8 12.2,34.7 13.3,34.9 14.3,35.3 15.4,35.8 16.4,36.2 17.4,36.7 18.5,37.2 20.6,37.8 22.6,36.8 24.7,35.6 26.8,34.5 28.9,33.5 31,32.4 33,31.9 35.1,31.5 37.2,31.1 39.3,30.9 41.4,30.7 43.4,30.3 45.5,29.8 47.6,29.4 49.7,28.8 51.8,28 53.8,27.1 55.9,26.7 58,26.3 60.1,25.9 62.2,25.4 64.2,25.3 66.3,25 68.4,24.8 70.5,24.3 72.6,24.2 74.6,23.8 76.7,23.7 78.8,23.5 80.9,23.5 83,23.1 85,22.8 87.1,22.7 89.2,22.3 91.3,22.2 93.4,22 95.4,22 97.5,22 99.6,21.7 101.7,21.7 103.8,21.6 105.8,21.6 107.9,21.3 110,21.4 112.1,21.2 114.2,21.3 116.2,20.9 118.3,20.9 120.4,20.9 122.5,21.1"/>
<use href="#F"/></g>
<g class="r" transform="translate(1366.4,828.5)">
<g clip-path="url(#c)"><path class="bb" d="M10.2,41.4L14.3,41L18.5,41.8L22.6,41.6L26.8,39.4L31,37.4L35.1,36.9L39.3,36.5L43.4,36.1L47.6,35.7L51.8,35L55.9,34.6L60.1,34.3L64.2,33.6L68.4,33L72.6,32.6L76.7,32.6L80.9,32.6L85,31.9L89.2,31.4L93.4,30.2L97.5,29.8L101.7,29.3L105.8,29.4L110,29.4L114.2,29L118.3,28.4L122.5,28L122.5,30.5L118.3,30.8L114.2,31.8L110,32.7L105.8,32.9L101.7,32.8L97.5,32.6L93.4,33.1L89.2,32.8L85,33.4L80.9,33.7L76.7,34.5L72.6,34.1L68.4,34.3L64.2,34.5L60.1,35.8L55.9,36.9L51.8,37.7L47.6,38.1L43.4,38.9L39.3,38.7L35.1,37.9L31,38.2L26.8,40.3L22.6,42.4L18.5,42.8L14.3,42.1L10.2,41.4ZM10.2,38.3L14.3,30.8L18.5,31.2L22.6,31L26.8,27.5L31,25.8L35.1,24.9L39.3,25.2L43.4,24.6L47.6,24.6L51.8,24.2L55.9,24.3L60.1,23.8L64.2,22.7L68.4,22.4L72.6,21.6L76.7,21.9L80.9,20.8L85,20.4L89.2,18.6L93.4,18.5L97.5,18.1L101.7,18L105.8,16.9L110,15.8L114.2,15.2L118.3,14.9L122.5,17.5L122.5,19.3L118.3,19L114.2,19.7L110,19.7L105.8,20L101.7,20.3L97.5,20.8L93.4,21.6L89.2,21.8L85,22L80.9,22.2L76.7,22.7L72.6,23.4L68.4,24.1L64.2,24.4L60.1,24.8L55.9,25.4L51.8,25.7L47.6,26L43.4,26.5L39.3,27L35.1,27.3L31,27.7L26.8,30L22.6,32.5L18.5,32.9L14.3,31.6L10.2,38.3Z"/><polygon class="ob" points="10.2,38.3 14.3,31.6 18.5,32.9 22.6,32.5 26.8,30 31,27.7 35.1,27.3 39.3,27 43.4,26.5 47.6,26 51.8,25.7 55.9,25.4 60.1,24.8 64.2,24.4 68.4,24.1 72.6,23.4 76.7,22.7 80.9,22.2 85,22 89.2,21.8 93.4,21.6 97.5,20.8 101.7,20.3 105.8,20 110,19.7 114.2,19.7 118.3,19 122.5,19.3 122.5,28 118.3,28.4 114.2,29 110,29.4 105.8,29.4 101.7,29.3 97.5,29.8 93.4,30.2 89.2,31.4 85,31.9 80.9,32.6 76.7,32.6 72.6,32.6 68.4,33 64.2,33.6 60.1,34.3 55.9,34.6 51.8,35 47.6,35.7 43.4,36.1 39.3,36.5 35.1,36.9 31,37.4 26.8,39.4 22.6,41.6 18.5,41.8 14.3,41 10.2,41.4"/></g>
<use href="#m6"/><use href="#G"/>
<polyline class="ml" clip-path="url(#c)" points="6,84 6.2,51.1 7,43.6 8.1,37.4 9.1,36.1 10.2,36 11.2,35.9 12.2,35.8 13.3,35.8 14.3,35.9 15.4,36.2 16.4,36.6 17.4,37 18.5,37.3 20.6,37.6 22.6,36.6 24.7,35.8 26.8,34.8 28.9,34 31,33.2 33,32.9 35.1,32.4 37.2,32.1 39.3,32.1 41.4,32 43.4,31.6 45.5,31.2 47.6,31.2 49.7,31 51.8,30.7 53.8,30.4 55.9,30.3 58,30.1 60.1,29.9 62.2,29.4 64.2,29.4 66.3,29.3 68.4,29 70.5,28.4 72.6,28 74.6,28.1 76.7,27.9 78.8,27.9 80.9,27.7 83,27.5 85,27 87.1,26.6 89.2,26.2 91.3,26.1 93.4,25.9 95.4,25.8 97.5,25.7 99.6,25.5 101.7,25.3 103.8,24.8 105.8,24.5 107.9,24.4 110,24.2 112.1,24 114.2,23.9 116.2,23.9 118.3,24.1 120.4,24 122.5,23.8"/>
<use href="#F"/></g>
<g class="r" transform="translate(1545.8,828.5)">
<g clip-path="url(#c)"><path class="bb" d="M10.2,42.1L14.3,42.3L16.4,43.3L18.5,43.6L22.6,42.4L26.8,39.6L31,36.9L35.1,36.9L39.3,36.9L43.4,36.9L47.6,36.2L51.8,36.1L55.9,35.5L60.1,35.6L64.2,35.3L68.4,35.3L72.6,34.8L76.7,33.7L80.9,33.1L85,32.6L89.2,32.7L93.4,32.2L97.5,32L101.7,31.1L105.8,30.4L110,29.5L112.1,29.1L114.2,28.5L118.3,27.5L122.5,26.8L122.5,29.8L118.3,32.8L114.2,36.9L112.1,38.3L110,35.9L105.8,32.1L101.7,34.6L97.5,32.9L93.4,33.1L89.2,33.5L85,33.7L80.9,36.5L76.7,39L72.6,36.5L68.4,36.2L64.2,36.2L60.1,36.4L55.9,36.4L51.8,36.9L47.6,37.1L43.4,38.3L39.3,41.2L35.1,39.6L31,38.3L26.8,40.8L22.6,44.4L18.5,44.5L16.4,44.1L14.3,43.2L10.2,42.1ZM10.2,38.9L14.3,31.5L16.4,32.3L18.5,32.5L22.6,32.4L26.8,30L31,27.7L35.1,26.9L39.3,26.3L43.4,25.4L47.6,24.4L51.8,24.5L55.9,24.7L60.1,23.8L64.2,24.2L68.4,23.8L72.6,23.9L76.7,22.9L80.9,22.2L85,21L89.2,20.4L93.4,19.7L97.5,19.4L101.7,19.1L105.8,17.8L110,17.5L112.1,17.4L114.2,16.7L118.3,15.6L122.5,14.9L122.5,17.9L118.3,18.2L114.2,17.9L112.1,18.2L110,18.5L105.8,20L101.7,20.2L97.5,20.2L93.4,20.6L89.2,21.2L85,22.4L80.9,23L76.7,23.8L72.6,24.7L68.4,24.6L64.2,25.1L60.1,24.6L55.9,25.7L51.8,26.6L47.6,27L43.4,27.1L39.3,27.1L35.1,27.7L31,28.5L26.8,31.3L22.6,34L18.5,33.9L16.4,33.1L14.3,32.5L10.2,38.9Z"/><polygon class="ob" points="10.2,38.9 14.3,32.5 16.4,33.1 18.5,33.9 22.6,34 26.8,31.3 31,28.5 35.1,27.7 39.3,27.1 43.4,27.1 47.6,27 51.8,26.6 55.9,25.7 60.1,24.6 64.2,25.1 68.4,24.6 72.6,24.7 76.7,23.8 80.9,23 85,22.4 89.2,21.2 93.4,20.6 97.5,20.2 101.7,20.2 105.8,20 110,18.5 112.1,18.2 114.2,17.9 118.3,18.2 122.5,17.9 122.5,26.8 118.3,27.5 114.2,28.5 112.1,29.1 110,29.5 105.8,30.4 101.7,31.1 97.5,32 93.4,32.2 89.2,32.7 85,32.6 80.9,33.1 76.7,33.7 72.6,34.8 68.4,35.3 64.2,35.3 60.1,35.6 55.9,35.5 51.8,36.1 47.6,36.2 43.4,36.9 39.3,36.9 35.1,36.9 31,36.9 26.8,39.6 22.6,42.4 18.5,43.6 16.4,43.3 14.3,42.3 10.2,42.1"/></g>
<use href="#m7"/><use href="#G"/>
<polyline class="ml" clip-path="url(#c)" points="6,84 6.2,51.1 7,44 8.1,38.3 9.1,37.2 10.2,37 11.2,36.9 12.2,36.9 13.3,36.8 14.3,37 15.4,37.3 16.4,37.7 17.4,38.2 18.5,38.7 20.6,39.3 22.6,38.2 24.7,37.1 26.8,35.9 28.9,34.6 31,33.3 33,32.7 35.1,32.3 37.2,32.3 39.3,32.2 41.4,32.2 43.4,31.7 45.5,31.4 47.6,31.3 49.7,31.3 51.8,31.2 53.8,30.8 55.9,30.5 58,30.2 60.1,30.1 62.2,29.9 64.2,29.7 66.3,29.3 68.4,29 70.5,28.7 72.6,28.6 74.6,28.3 76.7,28.2 78.8,27.8 80.9,27.7 83,27.5 85,27.2 87.1,26.9 89.2,26.5 91.3,26.4 93.4,26.1 95.4,25.8 97.5,25.5 99.6,25.1 101.7,25 103.8,24.5 105.8,24.4 107.9,23.9 110,23.7 112.1,23.2 114.2,23 116.2,22.5 118.3,22.3 120.4,21.9 122.5,21.8"/>
<use href="#F"/></g>
<g class="r" transform="translate(1725.2,828.5)">
<g clip-path="url(#c)"><path class="bb" d="M10.2,40.8L14.3,40.7L18.5,42.5L22.6,45.5L26.8,41.6L31,38.8L35.1,37.9L39.3,37.8L43.4,36.9L47.6,36.5L51.8,35.9L55.9,35.9L60.1,35.1L64.2,34.4L68.4,33.7L72.6,33.1L76.7,32.5L80.9,32.2L85,32.5L89.2,31.8L93.4,31.6L97.5,31.3L101.7,31.7L105.8,31.4L110,31.1L114.2,30.7L118.3,29.9L122.5,29.4L122.5,30.3L118.3,30.8L114.2,31.6L110,32L105.8,32.3L101.7,32.6L97.5,32.1L93.4,32.5L89.2,32.7L85,33.3L80.9,33.7L76.7,33.7L72.6,34L68.4,34.6L64.2,35.2L60.1,36L55.9,36.7L51.8,36.7L47.6,37.4L43.4,37.8L39.3,38.7L35.1,38.7L31,39.6L26.8,42.5L22.6,46.4L18.5,44.3L14.3,42.7L10.2,40.8ZM10.2,37.7L14.3,28.7L18.5,30.7L22.6,33L26.8,29.6L31,25.8L35.1,25.2L39.3,24.6L43.4,24.1L47.6,22.5L51.8,21.7L55.9,21.6L60.1,21.8L64.2,21.1L68.4,20.1L72.6,20L76.7,19.3L80.9,19.7L85,18.8L89.2,19L93.4,17.9L97.5,17.8L101.7,16.4L105.8,16.5L110,16.1L114.2,15.9L118.3,15.9L122.5,15.4L122.5,18.8L118.3,18.9L114.2,19L110,19.1L105.8,19.1L101.7,19.3L97.5,19.3L93.4,19.7L89.2,19.9L85,20.7L80.9,20.8L76.7,21.1L72.6,21.3L68.4,21.8L64.2,22.2L60.1,22.9L55.9,23.4L51.8,24L47.6,24L43.4,25.1L39.3,26L35.1,27.2L31,27.7L26.8,32.3L22.6,36.3L18.5,34.1L14.3,31.3L10.2,37.7Z"/><polygon class="ob" points="10.2,37.7 14.3,31.3 18.5,34.1 22.6,36.3 26.8,32.3 31,27.7 35.1,27.2 39.3,26 43.4,25.1 47.6,24 51.8,24 55.9,23.4 60.1,22.9 64.2,22.2 68.4,21.8 72.6,21.3 76.7,21.1 80.9,20.8 85,20.7 89.2,19.9 93.4,19.7 97.5,19.3 101.7,19.3 105.8,19.1 110,19.1 114.2,19 118.3,18.9 122.5,18.8 122.5,29.4 118.3,29.9 114.2,30.7 110,31.1 105.8,31.4 101.7,31.7 97.5,31.3 93.4,31.6 89.2,31.8 85,32.5 80.9,32.2 76.7,32.5 72.6,33.1 68.4,33.7 64.2,34.4 60.1,35.1 55.9,35.9 51.8,35.9 47.6,36.5 43.4,36.9 39.3,37.8 35.1,37.9 31,38.8 26.8,41.6 22.6,45.5 18.5,42.5 14.3,40.7 10.2,40.8"/></g>
<use href="#m8"/><use href="#G"/>
<polyline class="ml" clip-path="url(#c)" points="6,84 6.2,51 7,43.3 8.1,36.4 9.1,35.1 10.2,34.9 11.2,34.8 12.2,34.8 13.3,34.7 14.3,35 15.4,35.4 16.4,36.2 17.4,36.8 18.5,37.5 20.6,38.7 22.6,39.7 24.7,38.3 26.8,36.5 28.9,34.2 31,32.3 33,31.9 35.1,31.7 37.2,31.5 39.3,31 41.4,30.9 43.4,30.4 45.5,30 47.6,29.8 49.7,29.7 51.8,29.2 53.8,29 55.9,28.6 58,28.4 60.1,27.8 62.2,27.3 64.2,26.8 66.3,26.7 68.4,26.8 70.5,26.7 72.6,26.5 74.6,26.4 76.7,26.2 78.8,25.9 80.9,25.8 83,25.8 85,25.4 87.1,25.1 89.2,25 91.3,25.2 93.4,25.2 95.4,24.9 97.5,24.4 99.6,24.4 101.7,24.4 103.8,24.5 105.8,23.9 107.9,23.7 110,23.6 112.1,23.9 114.2,23.8 116.2,23.5 118.3,23.1 120.4,22.9 122.5,23"/>
<use href="#F"/></g>
<g class="r" transform="translate(1904.6,828.5)">
<g clip-path="url(#c)"><path class="bb" d="M10.2,40.5L14.3,40L18.5,42.3L22.6,44.6L24.7,42.7L26.8,40.6L31,36.9L35.1,36.4L39.3,36.5L43.4,36.3L47.6,36.3L51.8,36.9L55.9,36.4L60.1,35.9L62.2,35.5L64.2,35.2L68.4,35.3L72.6,35.1L76.7,35L80.9,34.5L85,34.3L89.2,34.5L93.4,34.6L97.5,34.7L101.7,34.8L105.8,34.5L110,34.3L114.2,33.7L118.3,31.1L122.5,28.1L122.5,29.2L118.3,35.1L114.2,37.4L110,35.1L105.8,35.3L101.7,35.7L97.5,36.5L93.4,36.8L89.2,36.3L85,36.5L80.9,39.3L76.7,42.3L72.6,40.9L68.4,39.3L64.2,44.7L62.2,47.5L60.1,45.9L55.9,42L51.8,38.8L47.6,41.7L43.4,38.9L39.3,41.9L35.1,40.1L31,38.6L26.8,45.1L24.7,48.5L22.6,47.5L18.5,44.6L14.3,41.6L10.2,40.5ZM10.2,37.4L14.3,28.9L18.5,31.2L22.6,34.1L24.7,31.9L26.8,28.8L31,25.3L35.1,24.5L39.3,23.9L43.4,24.2L47.6,24.4L51.8,23.9L55.9,23L60.1,22L62.2,20.7L64.2,20L68.4,19.3L72.6,19.1L76.7,18.1L80.9,17L85,17.8L89.2,18.4L93.4,17.5L97.5,16L101.7,15.9L105.8,14.6L110,14.1L114.2,12.6L118.3,12L122.5,11L122.5,12.4L118.3,13.2L114.2,14.7L110,15.5L105.8,16.6L101.7,17.6L97.5,18.5L93.4,19.7L89.2,20.9L85,19.8L80.9,18.5L76.7,19L72.6,20.1L68.4,21.2L64.2,22.5L62.2,23L60.1,23.2L55.9,23.9L51.8,24.8L47.6,26L43.4,26.2L39.3,26.6L35.1,26.6L31,26.9L26.8,30.9L24.7,32.8L22.6,34.9L18.5,32.1L14.3,29.9L10.2,37.4Z"/><polygon class="ob" points="10.2,37.4 14.3,29.9 18.5,32.1 22.6,34.9 24.7,32.8 26.8,30.9 31,26.9 35.1,26.6 39.3,26.6 43.4,26.2 47.6,26 51.8,24.8 55.9,23.9 60.1,23.2 62.2,23 64.2,22.5 68.4,21.2 72.6,20.1 76.7,19 80.9,18.5 85,19.8 89.2,20.9 93.4,19.7 97.5,18.5 101.7,17.6 105.8,16.6 110,15.5 114.2,14.7 118.3,13.2 122.5,12.4 122.5,28.1 118.3,31.1 114.2,33.7 110,34.3 105.8,34.5 101.7,34.8 97.5,34.7 93.4,34.6 89.2,34.5 85,34.3 80.9,34.5 76.7,35 72.6,35.1 68.4,35.3 64.2,35.2 62.2,35.5 60.1,35.9 55.9,36.4 51.8,36.9 47.6,36.3 43.4,36.3 39.3,36.5 35.1,36.4 31,36.9 26.8,40.6 24.7,42.7 22.6,44.6 18.5,42.3 14.3,40 10.2,40.5"/></g>
<use href="#m9"/><use href="#G"/>
<polyline class="ml" clip-path="url(#c)" points="6,84 6.2,51 7,43.1 8.1,35.9 9.1,34.5 10.2,34.4 11.2,34.3 12.2,34.2 13.3,34.2 14.3,34.5 15.4,35 16.4,35.7 17.4,36.5 18.5,37.3 20.6,38.9 22.6,39.8 24.7,38.2 26.8,36.1 28.9,33.9 31,32.1 33,31.8 35.1,31.6 37.2,31.2 39.3,30.7 41.4,30.6 43.4,30.6 45.5,30.7 47.6,30.8 49.7,30.1 51.8,29.4 53.8,28.8 55.9,28.4 58,28 60.1,27.6 62.2,27.2 64.2,26.8 66.3,26.4 68.4,25.9 70.5,25.8 72.6,25.1 74.6,25.1 76.7,24.5 78.8,24.4 80.9,23.7 83,24.1 85,24.4 87.1,25 89.2,25.4 91.3,25.2 93.4,24.5 95.4,23.9 97.5,23.3 99.6,23 101.7,22.3 103.8,21.8 105.8,21.4 107.9,20.9 110,20.5 112.1,19.8 114.2,19.4 116.2,19 118.3,18.6 120.4,18.1 122.5,17.5"/>
<use href="#F"/></g>
<g class="r" transform="translate(2084,828.5)">
<g clip-path="url(#c)"><path class="bb" d="M10.2,40.8L14.3,40.3L18.5,42.5L22.6,45.2L24.7,43.3L26.8,40.8L31,36.6L35.1,36.3L39.3,36.1L43.4,36L47.6,36L51.8,35L55.9,34.4L60.1,33.4L64.2,33.2L68.4,32L72.6,31.5L76.7,31.3L80.9,31.3L85,31.6L89.2,31.1L93.4,31.1L97.5,30.4L101.7,30.1L105.8,29.6L110,30.6L114.2,31.4L118.3,28.9L122.5,26.5L122.5,27.4L118.3,29.8L114.2,32.2L110,31.4L105.8,30.4L101.7,30.9L97.5,31.2L93.4,32.9L89.2,33.7L85,34.6L80.9,36.5L76.7,36.3L72.6,35.9L68.4,35.1L64.2,34.1L60.1,34.5L55.9,35.3L51.8,35.9L47.6,36.8L43.4,36.8L39.3,36.9L35.1,37.2L31,38.1L26.8,44.2L24.7,47L22.6,46L18.5,44L14.3,42.1L10.2,40.8ZM10.2,37.7L14.3,30L18.5,31.8L22.6,33.9L24.7,32.4L26.8,29.6L31,26L35.1,26.3L39.3,25.8L43.4,25.4L47.6,24.7L51.8,24.9L55.9,24.3L60.1,23.7L64.2,23.2L68.4,22.6L72.6,21.7L76.7,21L80.9,20.9L85,20L89.2,20.4L93.4,19.6L97.5,18.2L101.7,17.1L105.8,16.4L110,16L114.2,15.2L118.3,13.7L122.5,12.5L122.5,14.7L118.3,15.7L114.2,16.4L110,17L105.8,17.3L101.7,17.9L97.5,19L93.4,20.5L89.2,21.2L85,21.7L80.9,21.7L76.7,21.9L72.6,22.6L68.4,23.6L64.2,24.3L60.1,24.5L55.9,25.1L51.8,25.8L47.6,26.8L43.4,26.4L39.3,26.7L35.1,27.1L31,27.9L26.8,31.7L24.7,33.2L22.6,34.8L18.5,32.7L14.3,30.9L10.2,37.7Z"/><polygon class="ob" points="10.2,37.7 14.3,30.9 18.5,32.7 22.6,34.8 24.7,33.2 26.8,31.7 31,27.9 35.1,27.1 39.3,26.7 43.4,26.4 47.6,26.8 51.8,25.8 55.9,25.1 60.1,24.5 64.2,24.3 68.4,23.6 72.6,22.6 76.7,21.9 80.9,21.7 85,21.7 89.2,21.2 93.4,20.5 97.5,19 101.7,17.9 105.8,17.3 110,17 114.2,16.4 118.3,15.7 122.5,14.7 122.5,26.5 118.3,28.9 114.2,31.4 110,30.6 105.8,29.6 101.7,30.1 97.5,30.4 93.4,31.1 89.2,31.1 85,31.6 80.9,31.3 76.7,31.3 72.6,31.5 68.4,32 64.2,33.2 60.1,33.4 55.9,34.4 51.8,35 47.6,36 43.4,36 39.3,36.1 35.1,36.3 31,36.6 26.8,40.8 24.7,43.3 22.6,45.2 18.5,42.5 14.3,40.3 10.2,40.8"/></g>
<use href="#m10"/><use href="#G"/>
<polyline class="ml" clip-path="url(#c)" points="6,84 6.2,51 7,43.3 8.1,36.4 9.1,35.1 10.2,34.9 11.2,34.8 12.2,34.8 13.3,34.7 14.3,35 15.4,35.4 16.4,36.1 17.4,36.8 18.5,37.5 20.6,38.6 22.6,39.4 24.7,38 26.8,35.9 28.9,33.8 31,32 33,31.7 35.1,31.5 37.2,31.4 39.3,31.2 41.4,31.2 43.4,31.2 45.5,31.1 47.6,31.1 49.7,30.8 51.8,30.6 53.8,29.8 55.9,29.3 58,29 60.1,28.8 62.2,28.7 64.2,28.4 66.3,28.1 68.4,28 70.5,27.6 72.6,27.5 74.6,27.3 76.7,26.9 78.8,26.5 80.9,26 83,26.2 85,26.3 87.1,25.9 89.2,25.8 91.3,25.5 93.4,25.6 95.4,25 97.5,24.6 99.6,24 101.7,23.5 103.8,23.1 105.8,22.6 107.9,22.1 110,21.4 112.1,21 114.2,20.8 116.2,20.2 118.3,19.7 120.4,19.5 122.5,19.5"/>
<use href="#F"/></g>
<g class="r" transform="translate(290,946.4)">
<g clip-path="url(#c)"><path class="bb" d="M10.2,39.2L14.3,40.6L18.5,37.4L22.6,31L26.8,30.1L31,29.4L35.1,28.4L39.3,27L43.4,26.6L47.6,26.2L51.8,26L55.9,25L60.1,24.7L64.2,23.9L68.4,23.6L72.6,22.7L76.7,22.5L80.9,21.9L85,21.8L89.2,21.7L93.4,21.9L97.5,22.5L101.7,22.9L105.8,23.4L110,25.1L114.2,26.4L118.3,27.5L122.5,27.4L122.5,28.3L118.3,28.3L114.2,27.3L110,25.9L105.8,24.3L101.7,23.7L97.5,23.4L93.4,22.7L89.2,22.6L85,22.6L80.9,22.7L76.7,23.3L72.6,23.6L68.4,24.4L64.2,24.8L60.1,25.6L55.9,25.8L51.8,26.9L47.6,27L43.4,27.9L39.3,28.9L35.1,29.7L31,30.3L26.8,31L22.6,31.8L18.5,38.2L14.3,41.5L10.2,39.2ZM10.2,36L14.3,30.6L18.5,26.4L22.6,19.7L26.8,19.2L31,18.7L35.1,18L39.3,17.1L43.4,16.7L47.6,15.7L51.8,15.5L55.9,14.5L60.1,14.5L64.2,13.5L68.4,12.9L72.6,12.1L76.7,11.4L80.9,11.1L85,11L89.2,11.2L93.4,11.4L97.5,11.4L101.7,11.1L105.8,11.6L110,12.9L114.2,13.9L118.3,15.9L122.5,17.6L122.5,18.7L118.3,16.9L114.2,14.8L110,13.8L105.8,12.4L101.7,12L97.5,12.3L93.4,12.3L89.2,12.1L85,11.9L80.9,11.9L76.7,12.3L72.6,12.9L68.4,13.8L64.2,14.3L60.1,15.4L55.9,15.3L51.8,16.4L47.6,16.6L43.4,17.6L39.3,18L35.1,18.8L31,19.5L26.8,20L22.6,20.6L18.5,27.3L14.3,31.4L10.2,36Z"/><polygon class="ob" points="10.2,36 14.3,31.4 18.5,27.3 22.6,20.6 26.8,20 31,19.5 35.1,18.8 39.3,18 43.4,17.6 47.6,16.6 51.8,16.4 55.9,15.3 60.1,15.4 64.2,14.3 68.4,13.8 72.6,12.9 76.7,12.3 80.9,11.9 85,11.9 89.2,12.1 93.4,12.3 97.5,12.3 101.7,12 105.8,12.4 110,13.8 114.2,14.8 118.3,16.9 122.5,18.7 122.5,27.4 118.3,27.5 114.2,26.4 110,25.1 105.8,23.4 101.7,22.9 97.5,22.5 93.4,21.9 89.2,21.7 85,21.8 80.9,21.9 76.7,22.5 72.6,22.7 68.4,23.6 64.2,23.9 60.1,24.7 55.9,25 51.8,26 47.6,26.2 43.4,26.6 39.3,27 35.1,28.4 31,29.4 26.8,30.1 22.6,31 18.5,37.4 14.3,40.6 10.2,39.2"/></g>
<use href="#m0"/><use href="#G"/>
<polyline class="ml" clip-path="url(#c)" points="6,84 6.2,49.8 7,44.6 8.1,42.3 9.1,39.9 10.2,37.8 11.2,37.2 12.2,36.9 13.3,36.5 14.3,36.2 15.4,35.8 16.4,35 17.4,33.8 18.5,32.1 20.6,29.1 22.6,26.6 24.7,25.8 26.8,25.2 28.9,24.7 31,24.3 33,23.5 35.1,23.3 37.2,23 39.3,23 41.4,22.5 43.4,22.2 45.5,22 47.6,21.6 49.7,21.3 51.8,20.8 53.8,20.5 55.9,20.1 58,19.7 60.1,19.5 62.2,19.4 64.2,19 66.3,18.8 68.4,18.5 70.5,18.5 72.6,18 74.6,17.9 76.7,17.6 78.8,17.4 80.9,17.3 83,17.3 85,17.4 87.1,16.9 89.2,16.6 91.3,16.4 93.4,16.5 95.4,16.9 97.5,16.8 99.6,16.6 101.7,16.3 103.8,16.8 105.8,17.5 107.9,18 110,18.7 112.1,19.5 114.2,20.4 116.2,20.8 118.3,21.4 120.4,22.2 122.5,23.3"/>
<use href="#F"/></g>
<g class="r" transform="translate(469.4,946.4)">
<g clip-path="url(#c)"><path class="bb" d="M10.2,39.2L14.3,39.4L18.5,36.8L22.6,34.7L26.8,32.4L31,32L35.1,31.7L39.3,31.7L43.4,30.8L47.6,30.5L51.8,29.4L55.9,28.3L60.1,27.3L64.2,26.3L68.4,26.1L72.6,25.3L76.7,24.5L80.9,24.1L85,24L89.2,23.7L93.4,23.1L97.5,22.4L101.7,21.7L105.8,20.5L110,20.7L114.2,20.5L118.3,21.7L120.4,21.6L122.5,22.4L122.5,29.3L120.4,31L118.3,30.2L114.2,28.4L110,27.5L105.8,25.1L101.7,23.6L97.5,23.2L93.4,23.9L89.2,24.5L85,25.2L80.9,25.9L76.7,26L72.6,26.1L68.4,26.9L64.2,27.1L60.1,28.3L55.9,29.4L51.8,30.5L47.6,31.4L43.4,32.2L39.3,32.5L35.1,33L31,33.3L26.8,33.4L22.6,35.5L18.5,38.1L14.3,41L10.2,39.2ZM10.2,36L14.3,29.1L18.5,26.1L22.6,23.8L26.8,22.2L31,21.7L35.1,21.3L39.3,21L43.4,21.1L47.6,20.4L51.8,18.9L55.9,17.9L60.1,17.2L64.2,15.8L68.4,15.2L72.6,14.6L76.7,14.1L80.9,13.6L85,13.2L89.2,12.5L93.4,11.3L97.5,10.7L101.7,10.2L105.8,9.7L110,10.6L114.2,11L118.3,12L120.4,11.7L122.5,12.3L122.5,13.3L120.4,12.8L118.3,12.8L114.2,12.4L110,12.3L105.8,11.2L101.7,11.1L97.5,11.6L93.4,12.2L89.2,13.4L85,14L80.9,14.8L76.7,15.4L72.6,15.9L68.4,16.7L64.2,17L60.1,18.1L55.9,18.8L51.8,19.7L47.6,21.3L43.4,22L39.3,22.9L35.1,22.6L31,22.9L26.8,23L22.6,25.1L18.5,27L14.3,29.9L10.2,36Z"/><polygon class="ob" points="10.2,36 14.3,29.9 18.5,27 22.6,25.1 26.8,23 31,22.9 35.1,22.6 39.3,22.9 43.4,22 47.6,21.3 51.8,19.7 55.9,18.8 60.1,18.1 64.2,17 68.4,16.7 72.6,15.9 76.7,15.4 80.9,14.8 85,14 89.2,13.4 93.4,12.2 97.5,11.6 101.7,11.1 105.8,11.2 110,12.3 114.2,12.4 118.3,12.8 120.4,12.8 122.5,13.3 122.5,22.4 120.4,21.6 118.3,21.7 114.2,20.5 110,20.7 105.8,20.5 101.7,21.7 97.5,22.4 93.4,23.1 89.2,23.7 85,24 80.9,24.1 76.7,24.5 72.6,25.3 68.4,26.1 64.2,26.3 60.1,27.3 55.9,28.3 51.8,29.4 47.6,30.5 43.4,30.8 39.3,31.7 35.1,31.7 31,32 26.8,32.4 22.6,34.7 18.5,36.8 14.3,39.4 10.2,39.2"/></g>
<use href="#m1"/><use href="#G"/>
<polyline class="ml" clip-path="url(#c)" points="6,84 6.2,49.8 7,44.6 8.1,42.3 9.1,39.9 10.2,37.8 11.2,36.9 12.2,36.3 13.3,35.6 14.3,34.9 15.4,34.2 16.4,33.6 17.4,32.9 18.5,32.3 20.6,31.2 22.6,30.3 24.7,29.3 26.8,28.1 28.9,27.6 31,27.5 33,27.5 35.1,27.5 37.2,27.4 39.3,27 41.4,26.6 43.4,26.4 45.5,26.3 47.6,26 49.7,25.4 51.8,25 53.8,24.6 55.9,24.2 58,23.5 60.1,22.8 62.2,22.2 64.2,21.8 66.3,21.2 68.4,21.2 70.5,20.6 72.6,20.4 74.6,19.9 76.7,20.1 78.8,19.9 80.9,19.3 83,18.7 85,18.6 87.1,18.8 89.2,18.4 91.3,18 93.4,17.6 95.4,17.5 97.5,17.1 99.6,16.5 101.7,16.1 103.8,15.8 105.8,15.8 107.9,15.9 110,16.3 112.1,16.5 114.2,16.9 116.2,16.9 118.3,17.3 120.4,17.7 122.5,18.1"/>
<use href="#F"/></g>
<g class="r" transform="translate(648.8,946.4)">
<g clip-path="url(#c)"><path class="bb" d="M10.2,39.2L14.3,39.5L18.5,37.8L22.6,36L26.8,34.1L31,32.9L35.1,32.3L39.3,31.6L43.4,31.3L47.6,31.3L51.8,30.7L55.9,29.9L60.1,29.1L64.2,28.3L68.4,28.1L72.6,27.1L76.7,26.1L80.9,25.1L85,24.9L89.2,24.5L93.4,23.7L97.5,23.1L101.7,22.7L105.8,22.7L110,22L114.2,22.6L118.3,22.9L120.4,23.1L122.5,22.5L122.5,23.4L120.4,24.3L118.3,23.7L114.2,23.5L110,23.3L105.8,24.1L101.7,24.6L97.5,24.2L93.4,24.7L89.2,25.5L85,27.3L80.9,28.2L76.7,28.5L72.6,29.4L68.4,30.5L64.2,29.6L60.1,30L55.9,30.8L51.8,32L47.6,32.4L43.4,32.7L39.3,32.7L35.1,33.1L31,34L26.8,34.9L22.6,36.9L18.5,38.7L14.3,40.4L10.2,39.2ZM10.2,36L14.3,29.3L18.5,26.6L22.6,24.9L26.8,23.1L31,22.9L35.1,22.4L39.3,21.5L43.4,21L47.6,20.1L51.8,20L55.9,19.5L60.1,18.8L64.2,17.9L68.4,17.4L72.6,16L76.7,15.7L80.9,14.9L85,14.9L89.2,14.4L93.4,14L97.5,13.5L101.7,12.6L105.8,11.8L110,11L114.2,11.7L118.3,12L120.4,12.7L122.5,12.4L122.5,13.2L120.4,13.6L118.3,13.6L114.2,13.1L110,12.6L105.8,12.6L101.7,13.5L97.5,14.4L93.4,14.9L89.2,15.3L85,15.8L80.9,16.4L76.7,16.9L72.6,17.6L68.4,18.9L64.2,20.2L60.1,21.1L55.9,20.9L51.8,20.8L47.6,20.9L43.4,21.8L39.3,22.3L35.1,23.2L31,23.7L26.8,24L22.6,25.8L18.5,27.5L14.3,30.1L10.2,36Z"/><polygon class="ob" points="10.2,36 14.3,30.1 18.5,27.5 22.6,25.8 26.8,24 31,23.7 35.1,23.2 39.3,22.3 43.4,21.8 47.6,20.9 51.8,20.8 55.9,20.9 60.1,21.1 64.2,20.2 68.4,18.9 72.6,17.6 76.7,16.9 80.9,16.4 85,15.8 89.2,15.3 93.4,14.9 97.5,14.4 101.7,13.5 105.8,12.6 110,12.6 114.2,13.1 118.3,13.6 120.4,13.6 122.5,13.2 122.5,22.5 120.4,23.1 118.3,22.9 114.2,22.6 110,22 105.8,22.7 101.7,22.7 97.5,23.1 93.4,23.7 89.2,24.5 85,24.9 80.9,25.1 76.7,26.1 72.6,27.1 68.4,28.1 64.2,28.3 60.1,29.1 55.9,29.9 51.8,30.7 47.6,31.3 43.4,31.3 39.3,31.6 35.1,32.3 31,32.9 26.8,34.1 22.6,36 18.5,37.8 14.3,39.5 10.2,39.2"/></g>
<use href="#m2"/><use href="#G"/>
<polyline class="ml" clip-path="url(#c)" points="6,84 6.2,49.8 7,44.6 8.1,42.3 9.1,39.9 10.2,37.8 11.2,37.1 12.2,36.5 13.3,36 14.3,35.5 15.4,34.9 16.4,34.3 17.4,33.9 18.5,33.3 20.6,32.2 22.6,31 24.7,30 26.8,29.2 28.9,29 31,29.1 33,28.6 35.1,28.1 37.2,27.7 39.3,27.8 41.4,27.6 43.4,27.1 45.5,26.8 47.6,26.3 49.7,25.9 51.8,25.4 53.8,25.3 55.9,24.9 58,24.4 60.1,23.7 62.2,23.5 64.2,23.2 66.3,23 68.4,22.6 70.5,22.6 72.6,22.3 74.6,21.6 76.7,21.2 78.8,21.2 80.9,21.1 83,20.7 85,20.1 87.1,20.1 89.2,19.8 91.3,19.8 93.4,19.2 95.4,18.8 97.5,18.8 99.6,18.9 101.7,18.6 103.8,18.2 105.8,17.8 107.9,17.8 110,17.5 112.1,17.6 114.2,17.5 116.2,17.7 118.3,17.7 120.4,18 122.5,18.1"/>
<use href="#F"/></g>
<g class="r" transform="translate(828.2,946.4)">
<g clip-path="url(#c)"><path class="bb" d="M10.2,38.1L14.3,40.6L18.5,39.3L22.6,37.9L26.8,36.6L31,36.1L35.1,34.9L39.3,34.2L43.4,33.2L47.6,32.8L51.8,32.2L55.9,31.4L60.1,30.4L64.2,29.7L68.4,28.9L72.6,28.7L76.7,28L80.9,27.8L85,27.3L89.2,26.9L91.3,26.5L93.4,26.2L95.4,26L97.5,25.9L101.7,25.4L105.8,25.1L110,25.2L114.2,25.4L118.3,25.3L120.4,24.8L120.8,24.8L122.5,25.4L122.5,27.6L120.8,26.9L120.4,36.7L118.3,36.9L114.2,37.6L110,36.7L105.8,36.1L101.7,35.8L97.5,36.1L95.4,38L93.4,40.9L91.3,43.8L89.2,41.1L85,37.4L80.9,37.1L76.7,37.6L72.6,37.5L68.4,38L64.2,38L60.1,37.3L55.9,36.5L51.8,36.1L47.6,36.1L43.4,36.3L39.3,36.4L35.1,36.8L31,37.3L26.8,38L22.6,39.6L18.5,41.1L14.3,42.4L10.2,38.1ZM10.2,34.9L14.3,28.2L18.5,27.5L22.6,26.1L26.8,24.4L31,23.2L35.1,22.5L39.3,21.9L43.4,22L47.6,21.3L51.8,20.9L55.9,20L60.1,19.5L64.2,19.3L68.4,18.5L72.6,18.3L76.7,16.8L80.9,16.5L85,14.9L89.2,14.1L91.3,13.6L93.4,13.9L95.4,14.5L97.5,14.3L101.7,14.3L105.8,12.9L110,12.7L114.2,13.4L118.3,13.8L120.4,14L120.8,13.8L122.5,14.5L122.5,15.4L120.8,15.2L120.4,15.4L118.3,15.4L114.2,14.6L110,14L105.8,14.9L101.7,15.6L97.5,15.6L95.4,15.3L93.4,15L91.3,15.1L89.2,15L85,16.5L80.9,17.5L76.7,19L72.6,20L68.4,20.7L64.2,21L60.1,21.7L55.9,21.9L51.8,22.6L47.6,23L43.4,23.9L39.3,24.2L35.1,24.8L31,25.2L26.8,26.7L22.6,28.5L18.5,29.7L14.3,30.5L10.2,34.9Z"/><polygon class="ob" points="10.2,34.9 14.3,30.5 18.5,29.7 22.6,28.5 26.8,26.7 31,25.2 35.1,24.8 39.3,24.2 43.4,23.9 47.6,23 51.8,22.6 55.9,21.9 60.1,21.7 64.2,21 68.4,20.7 72.6,20 76.7,19 80.9,17.5 85,16.5 89.2,15 91.3,15.1 93.4,15 95.4,15.3 97.5,15.6 101.7,15.6 105.8,14.9 110,14 114.2,14.6 118.3,15.4 120.4,15.4 120.8,15.2 122.5,15.4 122.5,25.4 120.8,24.8 120.4,24.8 118.3,25.3 114.2,25.4 110,25.2 105.8,25.1 101.7,25.4 97.5,25.9 95.4,26 93.4,26.2 91.3,26.5 89.2,26.9 85,27.3 80.9,27.8 76.7,28 72.6,28.7 68.4,28.9 64.2,29.7 60.1,30.4 55.9,31.4 51.8,32.2 47.6,32.8 43.4,33.2 39.3,34.2 35.1,34.9 31,36.1 26.8,36.6 22.6,37.9 18.5,39.3 14.3,40.6 10.2,38.1"/></g>
<use href="#m3"/><use href="#G"/>
<polyline class="ml" clip-path="url(#c)" points="6,84 6.2,49.8 7,44.4 8.1,41.8 9.1,39.2 10.2,36.8 11.2,36.3 12.2,36 13.3,35.7 14.3,35.5 15.4,35.2 16.4,34.9 17.4,34.6 18.5,34.2 20.6,33.4 22.6,32.7 24.7,32.3 26.8,31.8 28.9,31.4 31,31.2 33,31 35.1,30.6 37.2,30 39.3,29.6 41.4,29.3 43.4,29 45.5,28.8 47.6,28.6 49.7,28.2 51.8,27.7 53.8,27.1 55.9,26.6 58,26.2 60.1,25.8 62.2,25.6 64.2,25 66.3,24.8 68.4,24.4 70.5,24.4 72.6,24.3 74.6,24.1 76.7,23.8 78.8,23.4 80.9,22.9 83,22.7 85,22.5 87.1,22.1 89.2,21.7 91.3,21.2 93.4,21.1 95.4,20.7 97.5,20.6 99.6,20.5 101.7,20.3 103.8,19.9 105.8,19.7 107.9,19.2 110,18.9 112.1,18.8 114.2,19.2 116.2,19.5 118.3,20.1 120.4,20.6 122.5,21.1"/>
<use href="#F"/></g>
<g class="r" transform="translate(1007.6,946.4)">
<g clip-path="url(#c)"><path class="bb" d="M10.2,38.1L14.3,41L18.5,41.1L22.6,39.6L26.8,37.3L31,36.2L35.1,36.2L39.3,35.5L43.4,35.3L47.6,35.1L51.8,35.2L55.9,35.3L60.1,34.4L64.2,32.9L68.4,31.2L72.6,30L76.7,29.4L80.9,29L85,28.7L89.2,28.5L93.4,27.4L97.5,26.5L101.7,24.6L105.8,24L110,22.9L114.2,22.8L118.3,23.9L122.5,25.3L122.5,26.7L118.3,26.4L114.2,27L110,27.5L105.8,28.2L101.7,28.9L97.5,31.5L93.4,34.1L89.2,30.3L85,30.7L80.9,30.9L76.7,31.5L72.6,33.2L68.4,35.6L64.2,35.2L60.1,36.4L55.9,36.4L51.8,36.8L47.6,37L43.4,36.9L39.3,37.2L35.1,37.1L31,37.7L26.8,38.2L22.6,41L18.5,42.6L14.3,42.6L10.2,38.1ZM10.2,34.9L14.3,29.3L18.5,29.4L22.6,28.3L26.8,25.9L31,25.9L35.1,25.2L39.3,25.1L43.4,24.6L47.6,24.5L51.8,23.6L55.9,23.6L60.1,22.8L64.2,21.6L68.4,20.1L72.6,19.5L76.7,18.9L80.9,18L85,16.5L89.2,16.1L93.4,14.9L97.5,14.5L101.7,13L105.8,12.2L110,11.2L114.2,11L118.3,12.9L122.5,14.1L122.5,15.8L118.3,14L114.2,13.1L110,13.6L105.8,14.3L101.7,14.5L97.5,15.6L93.4,17.2L89.2,18.8L85,19L80.9,19.7L76.7,20.3L72.6,20.9L68.4,22L64.2,23.4L60.1,25L55.9,25.1L51.8,25.1L47.6,25.4L43.4,26.1L39.3,26.6L35.1,27.1L31,27.3L26.8,27.4L22.6,29.9L18.5,31L14.3,31.5L10.2,34.9Z"/><polygon class="ob" points="10.2,34.9 14.3,31.5 18.5,31 22.6,29.9 26.8,27.4 31,27.3 35.1,27.1 39.3,26.6 43.4,26.1 47.6,25.4 51.8,25.1 55.9,25.1 60.1,25 64.2,23.4 68.4,22 72.6,20.9 76.7,20.3 80.9,19.7 85,19 89.2,18.8 93.4,17.2 97.5,15.6 101.7,14.5 105.8,14.3 110,13.6 114.2,13.1 118.3,14 122.5,15.8 122.5,25.3 118.3,23.9 114.2,22.8 110,22.9 105.8,24 101.7,24.6 97.5,26.5 93.4,27.4 89.2,28.5 85,28.7 80.9,29 76.7,29.4 72.6,30 68.4,31.2 64.2,32.9 60.1,34.4 55.9,35.3 51.8,35.2 47.6,35.1 43.4,35.3 39.3,35.5 35.1,36.2 31,36.2 26.8,37.3 22.6,39.6 18.5,41.1 14.3,41 10.2,38.1"/></g>
<use href="#m4"/><use href="#G"/>
<polyline class="ml" clip-path="url(#c)" points="6,84 6.2,49.8 7,44.4 8.1,41.8 9.1,39.2 10.2,36.8 11.2,36.5 12.2,36.4 13.3,36.4 14.3,36.3 15.4,36.3 16.4,36.2 17.4,36 18.5,35.9 20.6,35.6 22.6,34.8 24.7,33.1 26.8,32 28.9,31.5 31,31.7 33,31.5 35.1,31.5 37.2,31.4 39.3,31.1 41.4,31.1 43.4,30.9 45.5,30.6 47.6,30.5 49.7,30.4 51.8,30.2 53.8,29.9 55.9,29.9 58,30.2 60.1,29.8 62.2,29 64.2,28 66.3,27.3 68.4,26.3 70.5,25.6 72.6,24.9 74.6,24.6 76.7,24.4 78.8,24.1 80.9,23.9 83,23.8 85,23.7 87.1,23.6 89.2,23.1 91.3,22.6 93.4,22 95.4,21.5 97.5,20.7 99.6,20.1 101.7,19.6 103.8,19.7 105.8,19.3 107.9,18.8 110,18.1 112.1,17.8 114.2,17.8 116.2,18.3 118.3,19.1 120.4,19.5 122.5,20.3"/>
<use href="#F"/></g>
<g class="r" transform="translate(1187,946.4)">
<g clip-path="url(#c)"><path class="bb" d="M10.2,38.1L14.3,40.4L18.5,39.8L22.6,38.7L26.8,36.4L31,35.8L35.1,35L39.3,34.3L43.4,33.5L47.6,32.8L51.8,32L55.9,30.7L60.1,29.7L64.2,28.9L68.4,28.9L72.6,28.2L76.7,27.4L80.9,26.9L85,26.4L89.2,26.2L93.4,25.6L97.5,24.8L101.7,24.2L105.8,22.9L110,22.2L114.2,21.5L118.3,21.4L122.5,21.3L122.5,22.1L118.3,22.2L114.2,23.4L110,23.6L105.8,24.4L101.7,25L97.5,25.7L93.4,26.4L89.2,27.1L85,27.2L80.9,27.8L76.7,28.3L72.6,29L68.4,29.7L64.2,31.2L60.1,33.7L55.9,33.2L51.8,33.2L47.6,34L43.4,34.8L39.3,36.4L35.1,36.5L31,36.9L26.8,37.2L22.6,39.5L18.5,40.6L14.3,41.2L10.2,38.1ZM10.2,34.9L14.3,30.1L18.5,29.6L22.6,27.9L26.8,25.8L31,24.6L35.1,23.9L39.3,23.2L43.4,22.9L47.6,22.2L51.8,22L55.9,21.3L60.1,20.6L64.2,19.6L68.4,18.7L72.6,17.5L76.7,16.6L80.9,15.5L85,14.9L89.2,14.5L93.4,14.5L97.5,14.4L101.7,13.6L105.8,13.1L110,12.2L114.2,11.8L118.3,11.1L122.5,10.8L122.5,11.6L118.3,11.9L114.2,12.6L110,13L105.8,13.9L101.7,14.4L97.5,15.2L93.4,15.4L89.2,15.3L85,15.7L80.9,16.4L76.7,17.4L72.6,18.4L68.4,19.5L64.2,20.5L60.1,21.7L55.9,22.1L51.8,22.9L47.6,23L43.4,23.7L39.3,24.1L35.1,24.8L31,25.5L26.8,26.6L22.6,29.1L18.5,30.5L14.3,31L10.2,34.9Z"/><polygon class="ob" points="10.2,34.9 14.3,31 18.5,30.5 22.6,29.1 26.8,26.6 31,25.5 35.1,24.8 39.3,24.1 43.4,23.7 47.6,23 51.8,22.9 55.9,22.1 60.1,21.7 64.2,20.5 68.4,19.5 72.6,18.4 76.7,17.4 80.9,16.4 85,15.7 89.2,15.3 93.4,15.4 97.5,15.2 101.7,14.4 105.8,13.9 110,13 114.2,12.6 118.3,11.9 122.5,11.6 122.5,21.3 118.3,21.4 114.2,21.5 110,22.2 105.8,22.9 101.7,24.2 97.5,24.8 93.4,25.6 89.2,26.2 85,26.4 80.9,26.9 76.7,27.4 72.6,28.2 68.4,28.9 64.2,28.9 60.1,29.7 55.9,30.7 51.8,32 47.6,32.8 43.4,33.5 39.3,34.3 35.1,35 31,35.8 26.8,36.4 22.6,38.7 18.5,39.8 14.3,40.4 10.2,38.1"/></g>
<use href="#m5"/><use href="#G"/>
<polyline class="ml" clip-path="url(#c)" points="6,84 6.2,49.8 7,44.4 8.1,41.8 9.1,39.2 10.2,36.8 11.2,36.4 12.2,36.2 13.3,36.1 14.3,35.9 15.4,35.7 16.4,35.5 17.4,35.4 18.5,35.2 20.6,34.7 22.6,34 24.7,32.7 26.8,31.7 28.9,31.4 31,31.4 33,30.9 35.1,30.4 37.2,29.9 39.3,29.7 41.4,29.4 43.4,28.9 45.5,28.3 47.6,28 49.7,27.5 51.8,27.4 53.8,27 55.9,26.7 58,26.1 60.1,25.6 62.2,25.5 64.2,25.1 66.3,24.8 68.4,24 70.5,23.7 72.6,23.3 74.6,23.4 76.7,23 78.8,22.5 80.9,22.1 83,21.7 85,21.4 87.1,21.2 89.2,21 91.3,20.8 93.4,20.2 95.4,20.1 97.5,19.7 99.6,19.5 101.7,18.9 103.8,19 105.8,18.7 107.9,18.6 110,18 112.1,17.8 114.2,17.5 116.2,17.5 118.3,17 120.4,16.8 122.5,16.4"/>
<use href="#F"/></g>
<g class="r" transform="translate(1366.4,946.4)">
<g clip-path="url(#c)"><path class="bb" d="M10.2,38.1L14.3,41.7L18.5,41.2L22.6,39.4L26.8,36L31,35.5L35.1,35L39.3,34.6L43.4,33.9L47.6,33.4L51.8,31.7L55.9,31.4L60.1,30.8L64.2,30.9L68.4,30.2L72.6,29.5L76.7,28.8L80.9,28L85,27.2L89.2,26L93.4,25.1L97.5,24L101.7,23.3L105.8,22.7L110,21.4L114.2,21.4L118.3,21.1L120.4,21.4L122.5,20.8L122.5,22.5L120.4,24.8L118.3,24L114.2,22.7L110,23.5L105.8,24.1L101.7,25.8L97.5,26.5L93.4,27.6L89.2,27.9L85,28.9L80.9,30.1L76.7,30.4L72.6,31.1L68.4,31.2L64.2,31.7L60.1,31.6L55.9,32.9L51.8,33.6L47.6,35L43.4,35.3L39.3,35.6L35.1,35.8L31,36.3L26.8,37L22.6,40.3L18.5,42L14.3,42.5L10.2,38.1ZM10.2,34.9L14.3,30.8L18.5,31L22.6,29.3L26.8,26.2L31,25.6L35.1,25.2L39.3,24.1L43.4,23.8L47.6,22.7L51.8,22.3L55.9,21.4L60.1,20.4L64.2,19.4L68.4,19L72.6,18.3L76.7,17.8L80.9,16.8L85,16.2L89.2,15.5L93.4,14.7L97.5,13.4L101.7,12.6L105.8,11.7L110,10.5L114.2,10.2L118.3,10.7L120.4,9.9L122.5,9.9L122.5,10.7L120.4,10.7L118.3,11.9L114.2,11.8L110,12.2L105.8,12.6L101.7,13.4L97.5,14.2L93.4,15.6L89.2,16.3L85,17L80.9,17.6L76.7,18.6L72.6,19.2L68.4,19.9L64.2,20.2L60.1,21.2L55.9,22.3L51.8,23.3L47.6,24L43.4,24.7L39.3,25.1L35.1,26.2L31,26.4L26.8,27L22.6,30.1L18.5,31.8L14.3,31.6L10.2,34.9Z"/><polygon class="ob" points="10.2,34.9 14.3,31.6 18.5,31.8 22.6,30.1 26.8,27 31,26.4 35.1,26.2 39.3,25.1 43.4,24.7 47.6,24 51.8,23.3 55.9,22.3 60.1,21.2 64.2,20.2 68.4,19.9 72.6,19.2 76.7,18.6 80.9,17.6 85,17 89.2,16.3 93.4,15.6 97.5,14.2 101.7,13.4 105.8,12.6 110,12.2 114.2,11.8 118.3,11.9 120.4,10.7 122.5,10.7 122.5,20.8 120.4,21.4 118.3,21.1 114.2,21.4 110,21.4 105.8,22.7 101.7,23.3 97.5,24 93.4,25.1 89.2,26 85,27.2 80.9,28 76.7,28.8 72.6,29.5 68.4,30.2 64.2,30.9 60.1,30.8 55.9,31.4 51.8,31.7 47.6,33.4 43.4,33.9 39.3,34.6 35.1,35 31,35.5 26.8,36 22.6,39.4 18.5,41.2 14.3,41.7 10.2,38.1"/></g>
<use href="#m6"/><use href="#G"/>
<polyline class="ml" clip-path="url(#c)" points="6,84 6.2,49.8 7,44.4 8.1,41.8 9.1,39.2 10.2,36.8 11.2,36.5 12.2,36.5 13.3,36.5 14.3,36.5 15.4,36.5 16.4,36.5 17.4,36.6 18.5,36.5 20.6,36.3 22.6,34.9 24.7,33.4 26.8,32.3 28.9,31.8 31,31.5 33,30.9 35.1,30.5 37.2,30.5 39.3,30.2 41.4,30 43.4,29.5 45.5,29.2 47.6,29 49.7,28.5 51.8,28.1 53.8,27.6 55.9,27.3 58,26.9 60.1,26.4 62.2,25.8 64.2,25.2 66.3,24.8 68.4,24.3 70.5,24.3 72.6,24.1 74.6,23.9 76.7,23.2 78.8,22.8 80.9,22.5 83,22.2 85,22.1 87.1,21.9 89.2,21.7 91.3,21.3 93.4,20.5 95.4,20 97.5,19.3 99.6,19 101.7,18.7 103.8,18.4 105.8,17.9 107.9,17.4 110,16.8 112.1,16.6 114.2,16.4 116.2,16.4 118.3,16.7 120.4,16.5 122.5,16.5"/>
<use href="#F"/></g>
<g class="r" transform="translate(1545.8,946.4)">
<g clip-path="url(#c)"><path class="bb" d="M10.2,40.2L14.3,41.3L18.5,41.3L22.6,43.9L26.8,40.8L28.9,39.3L31,37.5L35.1,36.9L39.3,37L43.4,36.7L47.6,36.4L51.8,35.4L55.9,34.4L60.1,34.2L64.2,33.1L68.4,32.8L72.6,32.1L76.7,31.3L80.9,30.3L85,28.9L89.2,27.6L93.4,26.5L97.5,25.9L101.7,25.7L105.8,24.6L110,23.9L114.2,23.4L118.3,23.2L122.5,22.8L122.5,23.7L118.3,24.6L114.2,25.7L110,26.2L105.8,27L101.7,26.9L97.5,27.6L93.4,28.2L89.2,29.7L85,30.2L80.9,31.2L76.7,32.2L72.6,32.9L68.4,33.6L64.2,34.5L60.1,35.7L55.9,37.3L51.8,36.5L47.6,37.3L43.4,37.6L39.3,37.8L35.1,37.8L31,38.4L28.9,40.2L26.8,41.6L22.6,44.7L18.5,42.2L14.3,42.1L10.2,40.2ZM10.2,37.1L14.3,30.3L18.5,30.2L22.6,32L26.8,29.1L28.9,27.7L31,26.2L35.1,26L39.3,25.8L43.4,25.1L47.6,25.2L51.8,24.1L55.9,24.6L60.1,23.4L64.2,22.6L68.4,21.5L72.6,20.9L76.7,20.3L80.9,19.2L85,18.6L89.2,18.1L93.4,17.3L97.5,16.6L101.7,16L105.8,15L110,14.6L114.2,13.2L118.3,12.3L122.5,11.7L122.5,12.8L118.3,13.7L114.2,14.1L110,15.4L105.8,15.8L101.7,16.8L97.5,17.5L93.4,18.4L89.2,18.9L85,19.4L80.9,20.1L76.7,21.1L72.6,21.7L68.4,22.4L64.2,23.5L60.1,24.2L55.9,25.5L51.8,25.4L47.6,26L43.4,26L39.3,26.7L35.1,26.9L31,27L28.9,28.5L26.8,30.6L22.6,34L18.5,31.8L14.3,31.7L10.2,37.1Z"/><polygon class="ob" points="10.2,37.1 14.3,31.7 18.5,31.8 22.6,34 26.8,30.6 28.9,28.5 31,27 35.1,26.9 39.3,26.7 43.4,26 47.6,26 51.8,25.4 55.9,25.5 60.1,24.2 64.2,23.5 68.4,22.4 72.6,21.7 76.7,21.1 80.9,20.1 85,19.4 89.2,18.9 93.4,18.4 97.5,17.5 101.7,16.8 105.8,15.8 110,15.4 114.2,14.1 118.3,13.7 122.5,12.8 122.5,22.8 118.3,23.2 114.2,23.4 110,23.9 105.8,24.6 101.7,25.7 97.5,25.9 93.4,26.5 89.2,27.6 85,28.9 80.9,30.3 76.7,31.3 72.6,32.1 68.4,32.8 64.2,33.1 60.1,34.2 55.9,34.4 51.8,35.4 47.6,36.4 43.4,36.7 39.3,37 35.1,36.9 31,37.5 28.9,39.3 26.8,40.8 22.6,43.9 18.5,41.3 14.3,41.3 10.2,40.2"/></g>
<use href="#m7"/><use href="#G"/>
<polyline class="ml" clip-path="url(#c)" points="6,84 6.2,51.1 7,44 8.1,38.3 9.1,37.1 10.2,37 11.2,36.9 12.2,36.8 13.3,36.7 14.3,36.7 15.4,36.6 16.4,36.6 17.4,36.6 18.5,36.7 20.6,37.9 22.6,38.8 24.7,37.8 26.8,35.7 28.9,33.8 31,32.1 33,31.9 35.1,32.1 37.2,32.1 39.3,32.2 41.4,31.8 43.4,31.4 45.5,30.9 47.6,30.7 49.7,30.9 51.8,30.8 53.8,30.6 55.9,30.3 58,29.7 60.1,29.1 62.2,28.6 64.2,28.4 66.3,28.3 68.4,27.7 70.5,27.3 72.6,26.7 74.6,26.3 76.7,25.8 78.8,25.6 80.9,25.2 83,24.7 85,24.2 87.1,23.6 89.2,23.4 91.3,22.9 93.4,22.8 95.4,22.5 97.5,22.3 99.6,22.1 101.7,21.6 103.8,21 105.8,20.3 107.9,20 110,19.7 112.1,19.5 114.2,18.9 116.2,18.7 118.3,18.1 120.4,18 122.5,17.5"/>
<use href="#F"/></g>
<g class="r" transform="translate(1725.2,946.4)">
<g clip-path="url(#c)"><path class="bb" d="M10.2,40.5L14.3,39.9L18.5,41.6L22.6,43.2L26.8,40.8L31,37.8L35.1,36.6L39.3,35.5L43.4,35.4L47.6,35.3L51.8,33.8L55.9,31.1L60.1,30.9L64.2,30.3L68.4,29.9L72.6,28.8L76.7,28.2L80.9,27.4L85,26.8L89.2,26.3L93.4,25.9L97.5,25.1L101.7,24.4L105.8,23.6L110,23.3L114.2,22.1L118.3,21.3L122.5,20.2L122.5,22.1L118.3,24.8L114.2,25L110,25.2L105.8,25.4L101.7,25.5L97.5,26.2L93.4,26.8L89.2,27.2L85,27.7L80.9,28.3L76.7,29L72.6,30.2L68.4,31.2L64.2,32.5L60.1,31.9L55.9,32L51.8,34.7L47.6,36.2L43.4,36.3L39.3,36.3L35.1,37.4L31,38.6L26.8,41.6L22.6,44L18.5,42.4L14.3,40.7L10.2,40.5ZM10.2,37.4L14.3,29.4L18.5,30.9L22.6,32.4L26.8,29.4L31,26.4L35.1,25.7L39.3,25.1L43.4,24.7L47.6,24.5L51.8,22.3L55.9,20.9L60.1,20.6L64.2,20.2L68.4,19.7L72.6,18.9L76.7,18L80.9,17.5L85,16.9L89.2,16.1L93.4,14.9L97.5,14.3L101.7,13.5L105.8,12.9L110,12.5L114.2,11.7L118.3,11L122.5,10.1L122.5,10.9L118.3,11.8L114.2,12.7L110,13.4L105.8,13.7L101.7,14.4L97.5,15.1L93.4,15.7L89.2,16.9L85,17.8L80.9,18.4L76.7,18.8L72.6,19.8L68.4,21L64.2,21.8L60.1,21.4L55.9,21.7L51.8,23.2L47.6,25.3L43.4,25.5L39.3,25.9L35.1,26.6L31,27.3L26.8,30.3L22.6,33.3L18.5,31.7L14.3,30.5L10.2,37.4Z"/><polygon class="ob" points="10.2,37.4 14.3,30.5 18.5,31.7 22.6,33.3 26.8,30.3 31,27.3 35.1,26.6 39.3,25.9 43.4,25.5 47.6,25.3 51.8,23.2 55.9,21.7 60.1,21.4 64.2,21.8 68.4,21 72.6,19.8 76.7,18.8 80.9,18.4 85,17.8 89.2,16.9 93.4,15.7 97.5,15.1 101.7,14.4 105.8,13.7 110,13.4 114.2,12.7 118.3,11.8 122.5,10.9 122.5,20.2 118.3,21.3 114.2,22.1 110,23.3 105.8,23.6 101.7,24.4 97.5,25.1 93.4,25.9 89.2,26.3 85,26.8 80.9,27.4 76.7,28.2 72.6,28.8 68.4,29.9 64.2,30.3 60.1,30.9 55.9,31.1 51.8,33.8 47.6,35.3 43.4,35.4 39.3,35.5 35.1,36.6 31,37.8 26.8,40.8 22.6,43.2 18.5,41.6 14.3,39.9 10.2,40.5"/></g>
<use href="#m8"/><use href="#G"/>
<polyline class="ml" clip-path="url(#c)" points="6,84 6.2,51 7,43.1 8.1,35.9 9.1,34.5 10.2,34.4 11.2,34.3 12.2,34.2 13.3,34.2 14.3,34.3 15.4,34.7 16.4,35.2 17.4,35.8 18.5,36.3 20.6,37.2 22.6,37.5 24.7,36.3 26.8,35 28.9,33.8 31,32.5 33,32 35.1,31.7 37.2,31.5 39.3,31.2 41.4,30.7 43.4,30.5 45.5,30.4 47.6,30.1 49.7,29.2 51.8,28.3 53.8,27.5 55.9,26.7 58,26.4 60.1,26.3 62.2,26.2 64.2,26 66.3,25.6 68.4,25.1 70.5,24.6 72.6,24.3 74.6,24 76.7,23.6 78.8,23.1 80.9,22.8 83,22.5 85,22.1 87.1,21.6 89.2,21.1 91.3,20.9 93.4,20.6 95.4,20.2 97.5,19.9 99.6,19.5 101.7,19.3 103.8,18.9 105.8,18.5 107.9,18.1 110,17.7 112.1,17.4 114.2,17.2 116.2,16.6 118.3,16.1 120.4,15.8 122.5,15.8"/>
<use href="#F"/></g>
<g class="r" transform="translate(1904.6,946.4)">
<g clip-path="url(#c)"><path class="bb" d="M10.2,40.2L14.3,39.1L18.5,42.6L22.6,46L26.8,42L31,37.4L35.1,36.1L39.3,35L43.4,35.7L47.6,36.3L51.8,34.6L55.9,33L60.1,31.9L62.2,32.1L64.2,31.9L68.4,31.6L72.6,30.9L74.6,30.4L76.7,29.9L80.9,28.9L85,28.4L87.1,28.2L89.2,28.1L91.3,27.9L93.4,27.6L95.4,27.8L97.5,27.2L99.6,26.8L101.7,26.1L105.8,25.7L110,25.3L114.2,24.8L118.3,23.6L120.4,23.7L120.8,23.5L122.5,23.2L122.5,25.1L120.8,24.9L120.4,39.1L118.3,39.8L114.2,41.5L110,40.4L105.8,40L101.7,40.4L99.6,41.3L97.5,42.8L95.4,43.2L93.4,44.4L91.3,45.3L89.2,43.7L87.1,42.1L85,41.4L80.9,37L76.7,37.4L74.6,36.7L72.6,36L68.4,34.2L64.2,38.1L62.2,39.3L60.1,39.7L55.9,41.4L51.8,41.3L47.6,40.2L43.4,38.2L39.3,36.6L35.1,38L31,38.9L26.8,43.6L22.6,47.4L18.5,43.9L14.3,40.9L10.2,40.2ZM10.2,37.1L14.3,27.7L18.5,28.8L22.6,27.5L26.8,25.7L31,24.3L35.1,24.5L39.3,24.7L43.4,24.9L47.6,24.2L51.8,23.6L55.9,23.1L60.1,21.6L62.2,21.2L64.2,20.2L68.4,19.1L72.6,17.7L74.6,17.5L76.7,16.7L80.9,16.2L85,15.2L87.1,14.7L89.2,14.4L91.3,14.2L93.4,14.2L95.4,14.1L97.5,13.5L99.6,12.4L101.7,12.1L105.8,11.1L110,11.5L114.2,12L118.3,12.9L120.4,13L120.8,13L122.5,12.1L122.5,14.1L120.8,14.1L120.4,14.1L118.3,13.7L114.2,13.9L110,13.7L105.8,14L101.7,13.9L99.6,14.2L97.5,14.6L95.4,15L93.4,15.1L91.3,15L89.2,15.3L87.1,15.5L85,16L80.9,17.1L76.7,18.6L74.6,19.6L72.6,20.3L68.4,21.2L64.2,21.5L62.2,22.2L60.1,22.5L55.9,23.9L51.8,24.5L47.6,25.5L43.4,26.4L39.3,27.1L35.1,28.2L31,28.9L26.8,32.8L22.6,36.6L18.5,33.3L14.3,30L10.2,37.1Z"/><polygon class="ob" points="10.2,37.1 14.3,30 18.5,33.3 22.6,36.6 26.8,32.8 31,28.9 35.1,28.2 39.3,27.1 43.4,26.4 47.6,25.5 51.8,24.5 55.9,23.9 60.1,22.5 62.2,22.2 64.2,21.5 68.4,21.2 72.6,20.3 74.6,19.6 76.7,18.6 80.9,17.1 85,16 87.1,15.5 89.2,15.3 91.3,15 93.4,15.1 95.4,15 97.5,14.6 99.6,14.2 101.7,13.9 105.8,14 110,13.7 114.2,13.9 118.3,13.7 120.4,14.1 120.8,14.1 122.5,14.1 122.5,23.2 120.8,23.5 120.4,23.7 118.3,23.6 114.2,24.8 110,25.3 105.8,25.7 101.7,26.1 99.6,26.8 97.5,27.2 95.4,27.8 93.4,27.6 91.3,27.9 89.2,28.1 87.1,28.2 85,28.4 80.9,28.9 76.7,29.9 74.6,30.4 72.6,30.9 68.4,31.6 64.2,31.9 62.2,32.1 60.1,31.9 55.9,33 51.8,34.6 47.6,36.3 43.4,35.7 39.3,35 35.1,36.1 31,37.4 26.8,42 22.6,46 18.5,42.6 14.3,39.1 10.2,40.2"/></g>
<use href="#m9"/><use href="#G"/>
<polyline class="ml" clip-path="url(#c)" points="6,84 6.2,51 7,42.9 8.1,35.5 9.1,34 10.2,33.9 11.2,33.8 12.2,33.7 13.3,33.7 14.3,34 15.4,34.7 16.4,35.7 17.4,36.6 18.5,37.6 20.6,39.4 22.6,40.7 24.7,39.3 26.8,37.2 28.9,35.3 31,33.2 33,32.8 35.1,32.2 37.2,31.9 39.3,31.5 41.4,31.3 43.4,31.8 45.5,31.8 47.6,31.8 49.7,30.8 51.8,30.1 53.8,29.6 55.9,28.8 58,28.1 60.1,27.1 62.2,26.3 64.2,25.7 66.3,25.5 68.4,25.4 70.5,25.2 72.6,24.7 74.6,24.1 76.7,23.5 78.8,23 80.9,22.7 83,22.6 85,22.5 87.1,22.3 89.2,21.7 91.3,21.1 93.4,20.6 95.4,20.3 97.5,20.1 99.6,20 101.7,19.6 103.8,19.1 105.8,18.5 107.9,18.7 110,18.6 112.1,18.4 114.2,18.2 116.2,18.1 118.3,18.3 120.4,18.3 122.5,18.6"/>
<use href="#F"/></g>
<g class="r" transform="translate(2084,946.4)">
<g clip-path="url(#c)"><path class="bb" d="M10.2,40.5L14.3,39.6L18.5,42.1L22.6,44.5L26.8,40.6L31,37.3L35.1,34L39.3,35.8L43.4,37.4L47.6,36.5L51.8,36.1L55.9,36.1L60.1,33.4L64.2,30.1L68.4,29.2L72.6,28.2L76.7,27.8L80.9,26.7L85,26.2L89.2,25.2L93.4,24.9L97.5,24.2L101.7,23.4L105.8,22.4L110,21L114.2,21.4L118.3,21.5L122.5,21.7L122.5,22.5L118.3,23L114.2,24L110,25.4L105.8,25.1L101.7,25.7L97.5,25L93.4,25.8L89.2,26L85,27.1L80.9,27.8L76.7,29.4L72.6,30.4L68.4,31.5L64.2,32L60.1,34.3L55.9,37.3L51.8,37.4L47.6,37.4L43.4,38.3L39.3,36.7L35.1,34.9L31,38.1L26.8,41.5L22.6,45.7L18.5,43.7L14.3,41L10.2,40.5ZM10.2,37.4L14.3,29.4L18.5,31.7L22.6,33.9L26.8,30.1L31,26.6L35.1,23.1L39.3,25L43.4,26.5L47.6,25.6L51.8,25.6L55.9,25.4L60.1,22.8L64.2,20L68.4,19.2L72.6,18L76.7,17.2L80.9,16.5L85,15.7L89.2,14.6L93.4,13.2L97.5,12.2L101.7,11.8L105.8,11.3L110,10.4L114.2,9.7L118.3,10L122.5,10.8L122.5,11.7L118.3,11.1L114.2,11.5L110,11.4L105.8,12.8L101.7,13.2L97.5,14L93.4,14.3L89.2,15.4L85,16.5L80.9,17.7L76.7,19.2L72.6,19.9L68.4,21.1L64.2,21.3L60.1,24.1L55.9,26.7L51.8,26.8L47.6,27.2L43.4,27.3L39.3,26L35.1,24L31,27.6L26.8,31.1L22.6,34.9L18.5,32.8L14.3,30.3L10.2,37.4Z"/><polygon class="ob" points="10.2,37.4 14.3,30.3 18.5,32.8 22.6,34.9 26.8,31.1 31,27.6 35.1,24 39.3,26 43.4,27.3 47.6,27.2 51.8,26.8 55.9,26.7 60.1,24.1 64.2,21.3 68.4,21.1 72.6,19.9 76.7,19.2 80.9,17.7 85,16.5 89.2,15.4 93.4,14.3 97.5,14 101.7,13.2 105.8,12.8 110,11.4 114.2,11.5 118.3,11.1 122.5,11.7 122.5,21.7 118.3,21.5 114.2,21.4 110,21 105.8,22.4 101.7,23.4 97.5,24.2 93.4,24.9 89.2,25.2 85,26.2 80.9,26.7 76.7,27.8 72.6,28.2 68.4,29.2 64.2,30.1 60.1,33.4 55.9,36.1 51.8,36.1 47.6,36.5 43.4,37.4 39.3,35.8 35.1,34 31,37.3 26.8,40.6 22.6,44.5 18.5,42.1 14.3,39.6 10.2,40.5"/></g>
<use href="#m10"/><use href="#G"/>
<polyline class="ml" clip-path="url(#c)" points="6,84 6.2,51 7,43.1 8.1,35.9 9.1,34.5 10.2,34.4 11.2,34.3 12.2,34.2 13.3,34.2 14.3,34.5 15.4,35 16.4,35.7 17.4,36.4 18.5,37.3 20.6,38.7 22.6,39.7 24.7,37.8 26.8,36.1 28.9,34.3 31,32.9 33,30.7 35.1,29.1 37.2,29 39.3,30.1 41.4,30.8 43.4,31.9 45.5,31.8 47.6,31.9 49.7,31.8 51.8,31.6 53.8,31.4 55.9,30.8 58,29.7 60.1,28.3 62.2,26.9 64.2,25.7 66.3,25.1 68.4,25.1 70.5,24.4 72.6,23.9 74.6,23.4 76.7,23.1 78.8,22.9 80.9,22.2 83,21.6 85,21 87.1,20.9 89.2,20.7 91.3,20.3 93.4,19.7 95.4,19.1 97.5,18.7 99.6,18.3 101.7,18 103.8,17.5 105.8,17.1 107.9,16.6 110,16.4 112.1,16.2 114.2,16.6 116.2,16.7 118.3,16.9 120.4,16.8 122.5,16.8"/>
<use href="#F"/></g>
<g class="r" transform="translate(290,1064.3)">
<g clip-path="url(#c)"><path class="bb" d="M10.2,39.2L14.3,41.2L18.5,38L22.6,32.3L26.8,31.2L31,30L35.1,29.1L39.3,28.1L43.4,26.6L47.6,25.5L51.8,24.7L55.9,24L60.1,22.9L64.2,22.4L68.4,22L72.6,21.8L76.7,20.9L80.9,21.8L85,22.2L89.2,22.8L93.4,24.7L97.5,26.5L101.7,29L105.8,31.3L110,33.1L114.2,34.4L118.3,36.1L122.5,37.9L122.5,38.8L118.3,36.9L114.2,35.3L110,34L105.8,32.1L101.7,29.8L97.5,27.6L93.4,25.5L89.2,23.6L85,23.1L80.9,22.7L76.7,21.7L72.6,22.6L68.4,22.9L64.2,23.3L60.1,23.8L55.9,24.9L51.8,25.5L47.6,26.4L43.4,27.5L39.3,28.9L35.1,30L31,30.8L26.8,32.1L22.6,33.2L18.5,38.9L14.3,42.1L10.2,39.2ZM10.2,36L14.3,30.5L18.5,27.8L22.6,21.7L26.8,20.4L31,19.3L35.1,18.7L39.3,17.2L43.4,16L47.6,14.8L51.8,14L55.9,13.7L60.1,13.2L64.2,12.5L68.4,12.2L72.6,11.6L76.7,11.2L80.9,11.6L85,12.2L89.2,12.6L93.4,14.6L97.5,16.6L101.7,18.1L105.8,19.3L110,20.4L114.2,23.2L118.3,25.3L122.5,26.6L122.5,27.5L118.3,26.2L114.2,25.1L110,22.7L105.8,20.3L101.7,19L97.5,17.4L93.4,15.4L89.2,13.5L85,13.1L80.9,12.5L76.7,12L72.6,12.4L68.4,13.1L64.2,13.4L60.1,14.1L55.9,14.5L51.8,14.9L47.6,15.7L43.4,16.9L39.3,18.1L35.1,19.6L31,20.2L26.8,21.3L22.6,22.5L18.5,28.8L14.3,32.2L10.2,36Z"/><polygon class="ob" points="10.2,36 14.3,32.2 18.5,28.8 22.6,22.5 26.8,21.3 31,20.2 35.1,19.6 39.3,18.1 43.4,16.9 47.6,15.7 51.8,14.9 55.9,14.5 60.1,14.1 64.2,13.4 68.4,13.1 72.6,12.4 76.7,12 80.9,12.5 85,13.1 89.2,13.5 93.4,15.4 97.5,17.4 101.7,19 105.8,20.3 110,22.7 114.2,25.1 118.3,26.2 122.5,27.5 122.5,37.9 118.3,36.1 114.2,34.4 110,33.1 105.8,31.3 101.7,29 97.5,26.5 93.4,24.7 89.2,22.8 85,22.2 80.9,21.8 76.7,20.9 72.6,21.8 68.4,22 64.2,22.4 60.1,22.9 55.9,24 51.8,24.7 47.6,25.5 43.4,26.6 39.3,28.1 35.1,29.1 31,30 26.8,31.2 22.6,32.3 18.5,38 14.3,41.2 10.2,39.2"/></g>
<use href="#m0"/><use href="#G"/>
<polyline class="ml" clip-path="url(#c)" points="6,84 6.2,49.8 7,44.6 8.1,42.3 9.1,39.9 10.2,37.8 11.2,37.2 12.2,36.9 13.3,36.5 14.3,36.2 15.4,35.8 16.4,35.1 17.4,34.1 18.5,32.7 20.6,29.9 22.6,27.3 24.7,26.3 26.8,26 28.9,25.5 31,25.2 33,24.6 35.1,24.1 37.2,23.4 39.3,22.7 41.4,22.2 43.4,21.7 45.5,21.4 47.6,21 49.7,20.6 51.8,20.2 53.8,19.6 55.9,19.2 58,18.7 60.1,18.3 62.2,17.9 64.2,17.8 66.3,17.2 68.4,16.9 70.5,16.4 72.6,16.5 74.6,16.1 76.7,16 78.8,16.1 80.9,16.5 83,16.7 85,16.8 87.1,17.1 89.2,17.5 91.3,18.3 93.4,19.4 95.4,20.6 97.5,21.7 99.6,22.9 101.7,23.7 103.8,25 105.8,26.1 107.9,26.9 110,27.7 112.1,28.6 114.2,29.5 116.2,30.5 118.3,31.3 120.4,32.2 122.5,32.6"/>
<use href="#F"/></g>
<g class="r" transform="translate(469.4,1064.3)">
<g clip-path="url(#c)"><path class="bb" d="M10.2,39.2L14.3,39.7L18.5,37.8L22.6,34.3L26.8,32.5L31,31.1L35.1,29.7L39.3,28.3L43.4,27.8L47.6,27.5L51.8,26.9L55.9,25.9L60.1,25.1L64.2,23.5L68.4,23.1L72.6,22.2L76.7,21.9L80.9,21.1L85,20.7L89.2,21.4L93.4,21.7L97.5,24.2L101.7,25.9L105.8,27.3L110,28.9L114.2,30.6L118.3,33.1L122.5,34.7L122.5,36.2L118.3,35.8L114.2,33.1L110,29.8L105.8,28.2L101.7,26.7L97.5,25.1L93.4,22.5L89.2,22.2L85,21.9L80.9,22L76.7,22.7L72.6,23.2L68.4,23.9L64.2,24.6L60.1,25.9L55.9,26.7L51.8,27.7L47.6,28.4L43.4,28.7L39.3,29.2L35.1,30.5L31,32L26.8,33.4L22.6,35.1L18.5,38.6L14.3,40.6L10.2,39.2ZM10.2,36L14.3,29.2L18.5,26.5L22.6,23.3L26.8,21.5L31,20.7L35.1,19.7L39.3,18.8L43.4,17.5L47.6,16.9L51.8,15.9L55.9,15L60.1,13.8L64.2,13L68.4,12.3L72.6,12.3L76.7,11.4L80.9,11.3L85,10.6L89.2,10.9L93.4,11.1L97.5,13.1L101.7,15.1L105.8,17.7L110,19.3L114.2,20.7L118.3,22.7L122.5,24.1L122.5,25L118.3,23.6L114.2,22.4L110,20.2L105.8,18.5L101.7,16L97.5,13.9L93.4,12L89.2,12.5L85,12.3L80.9,12.2L76.7,12.3L72.6,13.1L68.4,13.2L64.2,13.8L60.1,14.6L55.9,15.9L51.8,16.8L47.6,17.7L43.4,18.3L39.3,19.6L35.1,20.6L31,21.9L26.8,22.3L22.6,24.1L18.5,27.3L14.3,30.1L10.2,36Z"/><polygon class="ob" points="10.2,36 14.3,30.1 18.5,27.3 22.6,24.1 26.8,22.3 31,21.9 35.1,20.6 39.3,19.6 43.4,18.3 47.6,17.7 51.8,16.8 55.9,15.9 60.1,14.6 64.2,13.8 68.4,13.2 72.6,13.1 76.7,12.3 80.9,12.2 85,12.3 89.2,12.5 93.4,12 97.5,13.9 101.7,16 105.8,18.5 110,20.2 114.2,22.4 118.3,23.6 122.5,25 122.5,34.7 118.3,33.1 114.2,30.6 110,28.9 105.8,27.3 101.7,25.9 97.5,24.2 93.4,21.7 89.2,21.4 85,20.7 80.9,21.1 76.7,21.9 72.6,22.2 68.4,23.1 64.2,23.5 60.1,25.1 55.9,25.9 51.8,26.9 47.6,27.5 43.4,27.8 39.3,28.3 35.1,29.7 31,31.1 26.8,32.5 22.6,34.3 18.5,37.8 14.3,39.7 10.2,39.2"/></g>
<use href="#m1"/><use href="#G"/>
<polyline class="ml" clip-path="url(#c)" points="6,84 6.2,49.8 7,44.6 8.1,42.3 9.1,39.9 10.2,37.8 11.2,36.9 12.2,36.3 13.3,35.6 14.3,34.9 15.4,34.2 16.4,33.6 17.4,32.9 18.5,32.4 20.6,30.7 22.6,28.9 24.7,27.1 26.8,26.6 28.9,26.4 31,26.1 33,25.4 35.1,24.9 37.2,24.6 39.3,24.5 41.4,24.2 43.4,23.9 45.5,23.6 47.6,23.2 49.7,22.7 51.8,22.1 53.8,21.5 55.9,20.9 58,20.3 60.1,19.6 62.2,19 64.2,18.5 66.3,18.5 68.4,18.1 70.5,17.9 72.6,17.5 74.6,17 76.7,16.7 78.8,16.4 80.9,16.4 83,16.6 85,16.7 87.1,17.1 89.2,17 91.3,17.1 93.4,17.2 95.4,18.2 97.5,19.1 99.6,20 101.7,20.8 103.8,21.7 105.8,23 107.9,24 110,25.1 112.1,25.9 114.2,26.7 116.2,27.6 118.3,28.3 120.4,29.3 122.5,30"/>
<use href="#F"/></g>
<g class="r" transform="translate(648.8,1064.3)">
<g clip-path="url(#c)"><path class="bb" d="M10.2,39.2L14.3,40.1L18.5,38.4L22.6,36.5L26.8,34.1L31,32.8L35.1,31.1L39.3,30.3L43.4,29.3L47.6,28.4L51.8,27.4L55.9,26.4L60.1,25.6L64.2,24.5L68.4,23.6L72.6,22.4L76.7,22.1L80.9,21.4L85,21.6L89.2,20.9L93.4,20.8L97.5,23.1L101.7,26.2L105.8,28.8L110,31.2L114.2,33L118.3,35.4L122.5,36.1L122.5,36.9L118.3,36.3L114.2,33.8L110,32L105.8,29.6L101.7,27.1L97.5,24L93.4,21.6L89.2,21.7L85,22.5L80.9,22.2L76.7,23L72.6,23.2L68.4,24.4L64.2,25.4L60.1,26.5L55.9,27.3L51.8,28.2L47.6,29.7L43.4,30.8L39.3,32.4L35.1,33.9L31,35.9L26.8,36.8L22.6,38.2L18.5,39.3L14.3,41.4L10.2,39.2ZM10.2,36L14.3,29.5L18.5,27.1L22.6,25.1L26.8,23.3L31,22.5L35.1,21.2L39.3,20.3L43.4,19.6L47.6,18.5L51.8,17.3L55.9,16.2L60.1,15L64.2,13.9L68.4,13L72.6,12.5L76.7,12L80.9,11.7L85,11.4L89.2,11.1L93.4,10.9L97.5,12.2L101.7,13.7L105.8,14.4L110,16.7L114.2,18.3L118.3,20.7L122.5,22.9L122.5,25L118.3,21.9L114.2,20.2L110,17.6L105.8,15.2L101.7,14.6L97.5,14.1L93.4,11.8L89.2,11.9L85,12.2L80.9,12.5L76.7,13.2L72.6,13.5L68.4,13.9L64.2,14.7L60.1,15.9L55.9,17L51.8,18.1L47.6,19.4L43.4,20.4L39.3,21.2L35.1,22L31,23.3L26.8,24.1L22.6,26L18.5,27.9L14.3,30.3L10.2,36Z"/><polygon class="ob" points="10.2,36 14.3,30.3 18.5,27.9 22.6,26 26.8,24.1 31,23.3 35.1,22 39.3,21.2 43.4,20.4 47.6,19.4 51.8,18.1 55.9,17 60.1,15.9 64.2,14.7 68.4,13.9 72.6,13.5 76.7,13.2 80.9,12.5 85,12.2 89.2,11.9 93.4,11.8 97.5,14.1 101.7,14.6 105.8,15.2 110,17.6 114.2,20.2 118.3,21.9 122.5,25 122.5,36.1 118.3,35.4 114.2,33 110,31.2 105.8,28.8 101.7,26.2 97.5,23.1 93.4,20.8 89.2,20.9 85,21.6 80.9,21.4 76.7,22.1 72.6,22.4 68.4,23.6 64.2,24.5 60.1,25.6 55.9,26.4 51.8,27.4 47.6,28.4 43.4,29.3 39.3,30.3 35.1,31.1 31,32.8 26.8,34.1 22.6,36.5 18.5,38.4 14.3,40.1 10.2,39.2"/></g>
<use href="#m2"/><use href="#G"/>
<polyline class="ml" clip-path="url(#c)" points="6,84 6.2,49.8 7,44.6 8.1,42.3 9.1,39.9 10.2,37.8 11.2,37.1 12.2,36.5 13.3,36 14.3,35.5 15.4,35 16.4,34.4 17.4,33.8 18.5,33.2 20.6,32.2 22.6,31.1 24.7,30.2 26.8,29 28.9,28.7 31,28 33,27.5 35.1,26.6 37.2,26.3 39.3,25.8 41.4,25.4 43.4,24.6 45.5,24 47.6,23.8 49.7,23.4 51.8,23 53.8,22.2 55.9,21.7 58,21.1 60.1,20.8 62.2,20.3 64.2,19.9 66.3,19.5 68.4,19 70.5,18.5 72.6,17.8 74.6,17.7 76.7,17.4 78.8,17.1 80.9,16.5 83,16.5 85,16.7 87.1,16.9 89.2,16.9 91.3,17.1 93.4,17.3 95.4,18.4 97.5,19.5 99.6,20.6 101.7,21.8 103.8,22.9 105.8,23.9 107.9,24.9 110,26.1 112.1,27.4 114.2,28.5 116.2,29.5 118.3,30.4 120.4,31 122.5,31.2"/>
<use href="#F"/></g>
<g class="r" transform="translate(828.2,1064.3)">
<g clip-path="url(#c)"><path class="bb" d="M10.2,38.1L14.3,39.2L18.5,37.7L22.6,34.9L26.8,32.5L31,32.3L35.1,31.4L39.3,31.1L43.4,30.4L47.6,29.7L51.8,28.7L55.9,27.6L60.1,27.1L64.2,26.3L68.4,25.6L72.6,24.9L76.7,23.9L80.9,23.1L85,22.1L89.2,21.3L93.4,20.6L97.5,20.1L101.7,21.4L105.8,22.7L110,25.1L114.2,28.1L118.3,30.9L122.5,33.8L122.5,34.6L118.3,31.7L114.2,28.9L110,26L105.8,23.6L101.7,22.2L97.5,20.9L93.4,21.4L89.2,22.2L85,22.9L80.9,23.9L76.7,24.8L72.6,25.7L68.4,26.4L64.2,27.2L60.1,27.9L55.9,28.4L51.8,29.5L47.6,30.6L43.4,31.2L39.3,31.9L35.1,32.2L31,33.1L26.8,33.4L22.6,35.7L18.5,38.5L14.3,40.1L10.2,38.1ZM10.2,34.9L14.3,29.4L18.5,27.7L22.6,25.1L26.8,22.2L31,21.7L35.1,20.8L39.3,20.6L43.4,20.1L47.6,19.4L51.8,18.1L55.9,16.8L60.1,16.3L64.2,15.4L68.4,14.5L72.6,13.2L76.7,12.4L80.9,11.9L85,11.3L89.2,10.2L93.4,9.9L97.5,9.8L101.7,11.6L105.8,12.7L110,15.6L114.2,18L118.3,21L122.5,23.3L122.5,24.2L118.3,21.8L114.2,18.8L110,16.7L105.8,13.5L101.7,12.6L97.5,10.7L93.4,10.8L89.2,11.1L85,12.1L80.9,12.7L76.7,13.6L72.6,14.1L68.4,15.5L64.2,16.2L60.1,17.5L55.9,18.7L51.8,19.7L47.6,20.9L43.4,20.9L39.3,21.5L35.1,21.7L31,22.6L26.8,23L22.6,26L18.5,28.5L14.3,30.2L10.2,34.9Z"/><polygon class="ob" points="10.2,34.9 14.3,30.2 18.5,28.5 22.6,26 26.8,23 31,22.6 35.1,21.7 39.3,21.5 43.4,20.9 47.6,20.9 51.8,19.7 55.9,18.7 60.1,17.5 64.2,16.2 68.4,15.5 72.6,14.1 76.7,13.6 80.9,12.7 85,12.1 89.2,11.1 93.4,10.8 97.5,10.7 101.7,12.6 105.8,13.5 110,16.7 114.2,18.8 118.3,21.8 122.5,24.2 122.5,33.8 118.3,30.9 114.2,28.1 110,25.1 105.8,22.7 101.7,21.4 97.5,20.1 93.4,20.6 89.2,21.3 85,22.1 80.9,23.1 76.7,23.9 72.6,24.9 68.4,25.6 64.2,26.3 60.1,27.1 55.9,27.6 51.8,28.7 47.6,29.7 43.4,30.4 39.3,31.1 35.1,31.4 31,32.3 26.8,32.5 22.6,34.9 18.5,37.7 14.3,39.2 10.2,38.1"/></g>
<use href="#m3"/><use href="#G"/>
<polyline class="ml" clip-path="url(#c)" points="6,84 6.2,49.8 7,44.4 8.1,41.8 9.1,39.2 10.2,36.8 11.2,36.1 12.2,35.7 13.3,35.3 14.3,34.9 15.4,34.5 16.4,34.2 17.4,34 18.5,33.5 20.6,32.3 22.6,30.6 24.7,29.3 26.8,28.1 28.9,27.8 31,27.5 33,27.2 35.1,26.8 37.2,26.6 39.3,26.3 41.4,25.9 43.4,25.4 45.5,24.9 47.6,24.5 49.7,24 51.8,23.6 53.8,23.3 55.9,22.9 58,22.4 60.1,21.9 62.2,21.5 64.2,21 66.3,20.6 68.4,20 70.5,19.7 72.6,19.1 74.6,18.8 76.7,18.2 78.8,17.5 80.9,17.2 83,17 85,17.1 87.1,16.7 89.2,16.4 91.3,16.3 93.4,16.2 95.4,16 97.5,15.6 99.6,16.1 101.7,16.8 103.8,17.3 105.8,18.2 107.9,19.6 110,21.2 112.1,22.3 114.2,23.4 116.2,24.7 118.3,26.2 120.4,27.6 122.5,28.7"/>
<use href="#F"/></g>
<g class="r" transform="translate(1007.6,1064.3)">
<g clip-path="url(#c)"><path class="bb" d="M10.2,38.1L14.3,40.5L16.4,40.4L18.5,40.6L20.6,40.5L22.6,39.4L26.8,36.7L31,35.8L35.1,34.9L39.3,34L43.4,33.8L47.6,33.1L51.8,31.8L55.9,30.6L60.1,29L64.2,28.1L68.4,27.1L72.6,26.7L76.7,26.2L80.9,25.4L85,24.4L89.2,23.5L93.4,23.1L97.5,22.4L101.7,21L105.8,20.3L110,20.8L114.2,21.6L118.3,22.4L120.4,23.2L122.5,23.9L122.5,26.7L120.4,29.3L118.3,27.4L114.2,24.7L110,22.7L105.8,21.4L101.7,22.4L97.5,23.2L93.4,24L89.2,24.3L85,25.3L80.9,26.2L76.7,27L72.6,28.1L68.4,29.2L64.2,30L60.1,30.6L55.9,31.4L51.8,32.7L47.6,34L43.4,34.6L39.3,34.9L35.1,35.7L31,36.7L26.8,37.5L22.6,40.3L20.6,41.4L18.5,41.7L16.4,42.2L14.3,42.6L10.2,38.1ZM10.2,34.9L14.3,30.9L16.4,30.1L18.5,30.7L20.6,30L22.6,29L26.8,26.2L31,25.8L35.1,24.7L39.3,23.7L43.4,22.8L47.6,22.1L51.8,20.5L55.9,20L60.1,18.8L64.2,17.9L68.4,17.2L72.6,16.3L76.7,14.6L80.9,14.5L85,13.9L89.2,13.1L93.4,12.3L97.5,11.4L101.7,10.8L105.8,10L110,10.2L114.2,10.9L118.3,12L120.4,12.5L122.5,13.1L122.5,14.6L120.4,13.9L118.3,13L114.2,11.9L110,11.4L105.8,10.8L101.7,11.7L97.5,12.2L93.4,13.2L89.2,13.9L85,14.7L80.9,15.6L76.7,16.3L72.6,17.1L68.4,18L64.2,18.8L60.1,20.2L55.9,21.2L51.8,22.3L47.6,22.9L43.4,23.6L39.3,25L35.1,26.2L31,26.7L26.8,27.3L22.6,29.8L20.6,31.6L18.5,31.7L16.4,32L14.3,32.2L10.2,34.9Z"/><polygon class="ob" points="10.2,34.9 14.3,32.2 16.4,32 18.5,31.7 20.6,31.6 22.6,29.8 26.8,27.3 31,26.7 35.1,26.2 39.3,25 43.4,23.6 47.6,22.9 51.8,22.3 55.9,21.2 60.1,20.2 64.2,18.8 68.4,18 72.6,17.1 76.7,16.3 80.9,15.6 85,14.7 89.2,13.9 93.4,13.2 97.5,12.2 101.7,11.7 105.8,10.8 110,11.4 114.2,11.9 118.3,13 120.4,13.9 122.5,14.6 122.5,23.9 120.4,23.2 118.3,22.4 114.2,21.6 110,20.8 105.8,20.3 101.7,21 97.5,22.4 93.4,23.1 89.2,23.5 85,24.4 80.9,25.4 76.7,26.2 72.6,26.7 68.4,27.1 64.2,28.1 60.1,29 55.9,30.6 51.8,31.8 47.6,33.1 43.4,33.8 39.3,34 35.1,34.9 31,35.8 26.8,36.7 22.6,39.4 20.6,40.5 18.5,40.6 16.4,40.4 14.3,40.5 10.2,38.1"/></g>
<use href="#m4"/><use href="#G"/>
<polyline class="ml" clip-path="url(#c)" points="6,84 6.2,49.8 7,44.4 8.1,41.8 9.1,39.2 10.2,36.8 11.2,36.5 12.2,36.4 13.3,36.4 14.3,36.3 15.4,36.2 16.4,36.1 17.4,36.1 18.5,36.2 20.6,35.9 22.6,34.7 24.7,33.1 26.8,31.9 28.9,31.5 31,31.2 33,30.4 35.1,29.8 37.2,29.5 39.3,29.4 41.4,29.1 43.4,28.8 45.5,28.4 47.6,28 49.7,27.4 51.8,26.8 53.8,26.2 55.9,25.7 58,25.1 60.1,24.4 62.2,23.8 64.2,23.3 66.3,23.1 68.4,22.6 70.5,22.3 72.6,21.7 74.6,21.2 76.7,20.8 78.8,20.4 80.9,20.2 83,20 85,19.6 87.1,19.5 89.2,18.9 91.3,18.7 93.4,18.1 95.4,18 97.5,17.6 99.6,17.1 101.7,16.5 103.8,16.1 105.8,16.2 107.9,16.3 110,16.7 112.1,16.6 114.2,16.8 116.2,17.3 118.3,17.8 120.4,18.5 122.5,19"/>
<use href="#F"/></g>
<g class="r" transform="translate(1187,1064.3)">
<g clip-path="url(#c)"><path class="bb" d="M10.2,38.1L14.3,41.1L18.5,40.6L22.6,39.1L26.8,36.8L31,36.7L35.1,36.7L39.3,36.2L43.4,35.8L47.6,35.3L51.8,34.3L55.9,33.5L60.1,32.7L64.2,31.7L68.4,30.8L72.6,30L76.7,29L80.9,28.2L85,27.3L89.2,26.7L93.4,26L97.5,24.9L101.7,24.4L105.8,23.6L110,22.7L114.2,21.9L118.3,21.6L122.5,21.1L122.5,21.9L118.3,22.4L114.2,22.8L110,23.5L105.8,24.4L101.7,25.2L97.5,25.8L93.4,26.8L89.2,27.5L85,28.1L80.9,29L76.7,30.3L72.6,32.4L68.4,35.3L64.2,34.1L60.1,34.2L55.9,35.1L51.8,35.3L47.6,36.2L43.4,36.6L39.3,37.1L35.1,37.5L31,37.5L26.8,37.7L22.6,39.9L18.5,41.4L14.3,41.9L10.2,38.1ZM10.2,34.9L14.3,30.3L18.5,29.8L22.6,28.5L26.8,26.1L31,25.6L35.1,25.5L39.3,25.4L43.4,25.5L47.6,24.8L51.8,23.6L55.9,22.4L60.1,21.9L64.2,20.8L68.4,19.8L72.6,18.9L76.7,18.3L80.9,17.8L85,17.4L89.2,16.5L93.4,15.3L97.5,13.8L101.7,13.3L105.8,12.7L110,12.6L114.2,12.1L118.3,11.2L122.5,10L122.5,10.8L118.3,12.1L114.2,13L110,13.5L105.8,13.6L101.7,14.1L97.5,14.7L93.4,16.2L89.2,17.3L85,18.3L80.9,18.7L76.7,19.2L72.6,19.7L68.4,20.6L64.2,21.6L60.1,22.7L55.9,23.3L51.8,24.6L47.6,25.8L43.4,26.6L39.3,26.5L35.1,26.4L31,26.5L26.8,26.9L22.6,29.3L18.5,30.6L14.3,31.2L10.2,34.9Z"/><polygon class="ob" points="10.2,34.9 14.3,31.2 18.5,30.6 22.6,29.3 26.8,26.9 31,26.5 35.1,26.4 39.3,26.5 43.4,26.6 47.6,25.8 51.8,24.6 55.9,23.3 60.1,22.7 64.2,21.6 68.4,20.6 72.6,19.7 76.7,19.2 80.9,18.7 85,18.3 89.2,17.3 93.4,16.2 97.5,14.7 101.7,14.1 105.8,13.6 110,13.5 114.2,13 118.3,12.1 122.5,10.8 122.5,21.1 118.3,21.6 114.2,21.9 110,22.7 105.8,23.6 101.7,24.4 97.5,24.9 93.4,26 89.2,26.7 85,27.3 80.9,28.2 76.7,29 72.6,30 68.4,30.8 64.2,31.7 60.1,32.7 55.9,33.5 51.8,34.3 47.6,35.3 43.4,35.8 39.3,36.2 35.1,36.7 31,36.7 26.8,36.8 22.6,39.1 18.5,40.6 14.3,41.1 10.2,38.1"/></g>
<use href="#m5"/><use href="#G"/>
<polyline class="ml" clip-path="url(#c)" points="6,84 6.2,49.8 7,44.4 8.1,41.8 9.1,39.2 10.2,36.8 11.2,36.4 12.2,36.3 13.3,36.2 14.3,36.1 15.4,36 16.4,35.9 17.4,35.9 18.5,35.8 20.6,35.5 22.6,34.3 24.7,33 26.8,31.7 28.9,31.3 31,31.2 33,31.4 35.1,31.7 37.2,31.4 39.3,31.3 41.4,31.2 43.4,30.9 45.5,30.8 47.6,30.6 49.7,30.3 51.8,29.5 53.8,29.1 55.9,28.8 58,28.2 60.1,27.3 62.2,26.8 64.2,26.4 66.3,26.2 68.4,25.7 70.5,25.4 72.6,24.9 74.6,24.6 76.7,24.4 78.8,24.3 80.9,23.8 83,23.5 85,23 87.1,22.6 89.2,22.2 91.3,21.8 93.4,21.5 95.4,21 97.5,20.5 99.6,19.9 101.7,19.5 103.8,18.9 105.8,18.6 107.9,18.2 110,17.7 112.1,17.2 114.2,17.1 116.2,17 118.3,17 120.4,16.6 122.5,16.5"/>
<use href="#F"/></g>
<g class="r" transform="translate(1366.4,1064.3)">
<g clip-path="url(#c)"><path class="bb" d="M10.2,39.4L14.3,40.7L18.5,41.5L22.6,44.3L26.8,41.2L28.9,38.6L31,36.6L35.1,35.8L39.3,35.7L43.4,35.1L47.6,34.3L51.8,33.4L55.9,32.3L60.1,30.9L64.2,30.5L68.4,31.1L72.6,31L76.7,31.1L80.9,30.7L85,30.4L87.1,29.8L89.2,29.2L93.4,28.7L97.5,28.5L101.7,28.1L105.8,27.7L110,27.6L114.2,28L118.3,28.6L120.4,28.5L122.5,28.1L122.5,29.6L120.4,35L118.3,35.1L114.2,35.2L110,35.1L105.8,34.8L101.7,36L97.5,36.9L93.4,36.6L89.2,38.6L87.1,39.9L85,38.1L80.9,36.3L76.7,35.9L72.6,35.1L68.4,33.9L64.2,32.3L60.1,33.3L55.9,33.8L51.8,34.7L47.6,35.7L43.4,36.3L39.3,37L35.1,37.8L31,39.1L28.9,40.9L26.8,43.1L22.6,46.5L18.5,43.3L14.3,42.3L10.2,39.4ZM10.2,36.2L14.3,28.5L18.5,29.1L22.6,32.7L26.8,29.3L28.9,28L31,26.3L35.1,25.5L39.3,24.6L43.4,23.4L47.6,22.9L51.8,21.5L55.9,21.3L60.1,20.6L64.2,20L68.4,19.4L72.6,18.7L76.7,18L80.9,17.4L85,16.1L87.1,15.8L89.2,14.8L93.4,14.6L97.5,13.7L101.7,12.7L105.8,12L110,12.2L114.2,12.9L118.3,12.9L120.4,13.1L122.5,13.3L122.5,16.6L120.4,16.2L118.3,15.4L114.2,13.8L110,13.9L105.8,14.1L101.7,15.2L97.5,15.8L93.4,17L89.2,18L87.1,18.3L85,18L80.9,18.3L76.7,18.9L72.6,19.7L68.4,20.5L64.2,21.4L60.1,22.3L55.9,23.1L51.8,23.7L47.6,24.4L43.4,25.1L39.3,25.7L35.1,26.9L31,27.2L28.9,28.9L26.8,30.2L22.6,34.1L18.5,31.4L14.3,30.7L10.2,36.2Z"/><polygon class="ob" points="10.2,36.2 14.3,30.7 18.5,31.4 22.6,34.1 26.8,30.2 28.9,28.9 31,27.2 35.1,26.9 39.3,25.7 43.4,25.1 47.6,24.4 51.8,23.7 55.9,23.1 60.1,22.3 64.2,21.4 68.4,20.5 72.6,19.7 76.7,18.9 80.9,18.3 85,18 87.1,18.3 89.2,18 93.4,17 97.5,15.8 101.7,15.2 105.8,14.1 110,13.9 114.2,13.8 118.3,15.4 120.4,16.2 122.5,16.6 122.5,28.1 120.4,28.5 118.3,28.6 114.2,28 110,27.6 105.8,27.7 101.7,28.1 97.5,28.5 93.4,28.7 89.2,29.2 87.1,29.8 85,30.4 80.9,30.7 76.7,31.1 72.6,31 68.4,31.1 64.2,30.5 60.1,30.9 55.9,32.3 51.8,33.4 47.6,34.3 43.4,35.1 39.3,35.7 35.1,35.8 31,36.6 28.9,38.6 26.8,41.2 22.6,44.3 18.5,41.5 14.3,40.7 10.2,39.4"/></g>
<use href="#m6"/><use href="#G"/>
<polyline class="ml" clip-path="url(#c)" points="6,84 6.2,51.1 7,43.6 8.1,37.4 9.1,36.1 10.2,35.9 11.2,35.8 12.2,35.8 13.3,35.8 14.3,35.9 15.4,36 16.4,36.3 17.4,36.5 18.5,37.1 20.6,38.4 22.6,39.3 24.7,37.8 26.8,35.7 28.9,33.9 31,32.6 33,32.3 35.1,31.8 37.2,31.2 39.3,30.7 41.4,30.2 43.4,29.6 45.5,29.3 47.6,28.7 49.7,28.4 51.8,27.9 53.8,27.6 55.9,27.4 58,27 60.1,26.5 62.2,26 64.2,25.8 66.3,25.6 68.4,25.3 70.5,24.9 72.6,24.5 74.6,24.1 76.7,23.9 78.8,23.6 80.9,23.1 83,22.7 85,22.3 87.1,22.2 89.2,22.1 91.3,21.7 93.4,21.2 95.4,20.7 97.5,20.5 99.6,20 101.7,19.4 103.8,18.9 105.8,18.8 107.9,19 110,18.8 112.1,18.5 114.2,18.7 116.2,19.3 118.3,19.8 120.4,20.4 122.5,20.9"/>
<use href="#F"/></g>
<g class="r" transform="translate(1545.8,1064.3)">
<g clip-path="url(#c)"><path class="bb" d="M10.2,39.8L14.3,41.1L18.5,41.8L22.6,43.8L26.8,40.2L28.9,38.2L31,36.4L35.1,36.3L39.3,35.7L43.4,34.7L47.6,33.4L51.8,31.8L55.9,30.8L60.1,29.9L64.2,29.5L68.4,29.3L72.6,28.7L76.7,28.2L80.9,27.3L83,26.5L85,26.1L89.2,26.8L93.4,27.8L97.5,27.9L101.7,28.2L105.8,28.4L110,28.9L114.2,29.9L118.3,31.1L120.4,29.7L122.5,27.8L122.5,30.5L120.4,34.8L118.3,34.4L114.2,33.3L110,32.8L105.8,32.5L101.7,32.2L97.5,32.3L93.4,32.7L89.2,32.1L85,32.8L83,33L80.9,34.4L76.7,36.3L72.6,34.7L68.4,32.8L64.2,32.3L60.1,31.7L55.9,31.8L51.8,33L47.6,34.3L43.4,35.6L39.3,36.5L35.1,37.1L31,37.8L28.9,39.2L26.8,41.3L22.6,44.8L18.5,43L14.3,42.1L10.2,39.8ZM10.2,36.6L14.3,30.7L18.5,31.4L22.6,33.3L26.8,30.2L28.9,28L31,26.2L35.1,25.7L39.3,25L43.4,23.5L47.6,22.6L51.8,21.5L55.9,21.2L60.1,20L64.2,19.1L68.4,18.2L72.6,17.8L76.7,17.1L80.9,16.2L83,15.7L85,15.8L89.2,15.8L93.4,15.1L97.5,14.2L101.7,12.9L105.8,12.6L110,11.3L114.2,11.7L118.3,11.4L120.4,12.4L122.5,13.8L122.5,14.7L120.4,13.8L118.3,12.2L114.2,12.5L110,12.2L105.8,13.4L101.7,13.8L97.5,15L93.4,15.9L89.2,16.7L85,16.6L83,16.5L80.9,17L76.7,17.9L72.6,18.7L68.4,19.1L64.2,20L60.1,20.9L55.9,22L51.8,22.3L47.6,23.5L43.4,24.3L39.3,26.1L35.1,26.9L31,28.2L28.9,29.4L26.8,31.4L22.6,34.3L18.5,32.7L14.3,31.6L10.2,36.6Z"/><polygon class="ob" points="10.2,36.6 14.3,31.6 18.5,32.7 22.6,34.3 26.8,31.4 28.9,29.4 31,28.2 35.1,26.9 39.3,26.1 43.4,24.3 47.6,23.5 51.8,22.3 55.9,22 60.1,20.9 64.2,20 68.4,19.1 72.6,18.7 76.7,17.9 80.9,17 83,16.5 85,16.6 89.2,16.7 93.4,15.9 97.5,15 101.7,13.8 105.8,13.4 110,12.2 114.2,12.5 118.3,12.2 120.4,13.8 122.5,14.7 122.5,27.8 120.4,29.7 118.3,31.1 114.2,29.9 110,28.9 105.8,28.4 101.7,28.2 97.5,27.9 93.4,27.8 89.2,26.8 85,26.1 83,26.5 80.9,27.3 76.7,28.2 72.6,28.7 68.4,29.3 64.2,29.5 60.1,29.9 55.9,30.8 51.8,31.8 47.6,33.4 43.4,34.7 39.3,35.7 35.1,36.3 31,36.4 28.9,38.2 26.8,40.2 22.6,43.8 18.5,41.8 14.3,41.1 10.2,39.8"/></g>
<use href="#m7"/><use href="#G"/>
<polyline class="ml" clip-path="url(#c)" points="6,84 6.2,51.1 7,43.8 8.1,37.8 9.1,36.6 10.2,36.5 11.2,36.4 12.2,36.3 13.3,36.3 14.3,36.4 15.4,36.6 16.4,36.7 17.4,36.9 18.5,37.2 20.6,38.2 22.6,38.6 24.7,37.5 26.8,35.8 28.9,34.3 31,32.8 33,32.1 35.1,31.4 37.2,30.8 39.3,30.4 41.4,29.8 43.4,29.5 45.5,29 47.6,28.6 49.7,28.1 51.8,27.7 53.8,27.3 55.9,26.9 58,26.6 60.1,26.2 62.2,25.3 64.2,24.7 66.3,24.2 68.4,24.1 70.5,23.7 72.6,23.1 74.6,23 76.7,22.9 78.8,22.9 80.9,22.7 83,22.1 85,21.6 87.1,21.1 89.2,21.1 91.3,20.8 93.4,20.5 95.4,20 97.5,19.6 99.6,19.4 101.7,19 103.8,18.8 105.8,18.5 107.9,18 110,17.2 112.1,16.9 114.2,16.8 116.2,16.8 118.3,16.6 120.4,17.7 122.5,18.7"/>
<use href="#F"/></g>
<g class="r" transform="translate(1725.2,1064.3)">
<g clip-path="url(#c)"><path class="bb" d="M10.2,40.8L14.3,40.5L18.5,41.7L22.6,41.7L26.8,38.5L31,34.6L35.1,34.5L39.3,34.1L43.4,34.2L47.6,32.7L51.8,31.4L55.9,30.4L60.1,29.6L64.2,28.8L68.4,28.3L72.6,27.3L76.7,26.7L80.9,26.2L85,25.9L89.2,25.5L93.4,24.7L97.5,23.9L101.7,23L105.8,22.3L110,20.9L114.2,21.2L118.3,22.9L122.5,24.8L122.5,28.9L118.3,26.3L114.2,24.3L110,21.8L105.8,23.3L101.7,24L97.5,24.8L93.4,26.5L89.2,28.3L85,29.9L80.9,31.8L76.7,31.8L72.6,32.4L68.4,32.5L64.2,33.5L60.1,34.1L55.9,34.4L51.8,35.1L47.6,34.7L43.4,35.1L39.3,34.9L35.1,35.3L31,35.4L26.8,39.3L22.6,42.5L18.5,42.5L14.3,41.3L10.2,40.8ZM10.2,37.7L14.3,29.3L18.5,30.4L22.6,30.9L26.8,27.7L31,24.6L35.1,24.4L39.3,24.5L43.4,24.3L47.6,22.2L51.8,19.5L55.9,19L60.1,18.2L64.2,17.4L68.4,16.2L72.6,15.4L76.7,14.4L80.9,13.2L85,12.5L89.2,11.9L93.4,11.4L97.5,11.2L101.7,10.6L105.8,9L110,10.1L114.2,10.5L118.3,13.1L122.5,15.6L122.5,16.4L118.3,14L114.2,12.1L110,12.1L105.8,12L101.7,12.2L97.5,12.1L93.4,12.2L89.2,12.7L85,13.3L80.9,14.1L76.7,15.3L72.6,16.3L68.4,17L64.2,18.2L60.1,19L55.9,19.8L51.8,20.4L47.6,23L43.4,25.4L39.3,25.4L35.1,25.2L31,25.5L26.8,28.5L22.6,31.8L18.5,31.3L14.3,31.3L10.2,37.7Z"/><polygon class="ob" points="10.2,37.7 14.3,31.3 18.5,31.3 22.6,31.8 26.8,28.5 31,25.5 35.1,25.2 39.3,25.4 43.4,25.4 47.6,23 51.8,20.4 55.9,19.8 60.1,19 64.2,18.2 68.4,17 72.6,16.3 76.7,15.3 80.9,14.1 85,13.3 89.2,12.7 93.4,12.2 97.5,12.1 101.7,12.2 105.8,12 110,12.1 114.2,12.1 118.3,14 122.5,16.4 122.5,24.8 118.3,22.9 114.2,21.2 110,20.9 105.8,22.3 101.7,23 97.5,23.9 93.4,24.7 89.2,25.5 85,25.9 80.9,26.2 76.7,26.7 72.6,27.3 68.4,28.3 64.2,28.8 60.1,29.6 55.9,30.4 51.8,31.4 47.6,32.7 43.4,34.2 39.3,34.1 35.1,34.5 31,34.6 26.8,38.5 22.6,41.7 18.5,41.7 14.3,40.5 10.2,40.8"/></g>
<use href="#m8"/><use href="#G"/>
<polyline class="ml" clip-path="url(#c)" points="6,84 6.2,51 7,43.3 8.1,36.4 9.1,35.1 10.2,34.9 11.2,34.8 12.2,34.8 13.3,34.7 14.3,34.8 15.4,34.9 16.4,35.2 17.4,35.4 18.5,35.7 20.6,36.1 22.6,35.9 24.7,34.5 26.8,33.2 28.9,31.7 31,30.5 33,30.2 35.1,30.2 37.2,30 39.3,29.7 41.4,29.7 43.4,29.3 45.5,28.8 47.6,27.5 49.7,26.6 51.8,25.2 53.8,25 55.9,24.6 58,24.3 60.1,23.7 62.2,23.4 64.2,22.9 66.3,22.2 68.4,21.6 70.5,21 72.6,20.7 74.6,20.4 76.7,20 78.8,19.6 80.9,19.2 83,18.7 85,18.4 87.1,17.9 89.2,18 91.3,17.6 93.4,17.5 95.4,17.3 97.5,17.3 99.6,16.7 101.7,16.2 103.8,15.6 105.8,15.7 107.9,15.8 110,16.1 112.1,15.9 114.2,16.5 116.2,17.6 118.3,19 120.4,20.1 122.5,20.9"/>
<use href="#F"/></g>
<g class="r" transform="translate(1904.6,1064.3)">
<g clip-path="url(#c)"><path class="bb" d="M10.2,40.8L14.3,39.4L18.5,42.4L22.6,45.1L26.8,41.7L31,37.6L35.1,36.2L39.3,34.3L43.4,34.3L47.6,34.2L51.8,33.2L55.9,32.6L60.1,31.5L64.2,30.7L68.4,29.2L72.6,28.7L76.7,27.9L80.9,27.2L85,26.6L89.2,25.2L93.4,24.4L97.5,23L101.7,22.8L105.8,21.9L110,21L114.2,21.1L118.3,21.6L120.4,21.6L122.5,22.1L122.5,26.1L120.4,28.1L118.3,27.1L114.2,25.3L110,22.8L105.8,22.7L101.7,23.6L97.5,23.9L93.4,25.2L89.2,26.1L85,27.5L80.9,28L76.7,28.8L72.6,30.1L68.4,30.9L64.2,31.8L60.1,33L55.9,33.9L51.8,34.7L47.6,35.4L43.4,35.8L39.3,36L35.1,37.4L31,38.4L26.8,42.5L22.6,46L18.5,43.8L14.3,41.5L10.2,40.8ZM10.2,37.7L14.3,30L18.5,32.5L22.6,35.3L26.8,30.9L31,26.5L35.1,25.5L39.3,24.6L43.4,24.8L47.6,24.7L51.8,23.4L55.9,21.9L60.1,20.6L64.2,20.3L68.4,19.2L72.6,18.2L76.7,17L80.9,16.8L85,15.7L89.2,15.1L93.4,14L97.5,13.1L101.7,12.1L105.8,10.8L110,9.8L114.2,10.7L118.3,11.8L120.4,11.9L122.5,12L122.5,12.8L120.4,12.8L118.3,13.1L114.2,11.6L110,10.7L105.8,11.6L101.7,12.9L97.5,14L93.4,14.8L89.2,16L85,16.6L80.9,17.6L76.7,17.8L72.6,19L68.4,20.1L64.2,21.4L60.1,22.5L55.9,23.5L51.8,25L47.6,25.8L43.4,25.9L39.3,25.4L35.1,26.3L31,27.3L26.8,31.7L22.6,36.2L18.5,33.3L14.3,30.8L10.2,37.7Z"/><polygon class="ob" points="10.2,37.7 14.3,30.8 18.5,33.3 22.6,36.2 26.8,31.7 31,27.3 35.1,26.3 39.3,25.4 43.4,25.9 47.6,25.8 51.8,25 55.9,23.5 60.1,22.5 64.2,21.4 68.4,20.1 72.6,19 76.7,17.8 80.9,17.6 85,16.6 89.2,16 93.4,14.8 97.5,14 101.7,12.9 105.8,11.6 110,10.7 114.2,11.6 118.3,13.1 120.4,12.8 122.5,12.8 122.5,22.1 120.4,21.6 118.3,21.6 114.2,21.1 110,21 105.8,21.9 101.7,22.8 97.5,23 93.4,24.4 89.2,25.2 85,26.6 80.9,27.2 76.7,27.9 72.6,28.7 68.4,29.2 64.2,30.7 60.1,31.5 55.9,32.6 51.8,33.2 47.6,34.2 43.4,34.3 39.3,34.3 35.1,36.2 31,37.6 26.8,41.7 22.6,45.1 18.5,42.4 14.3,39.4 10.2,40.8"/></g>
<use href="#m9"/><use href="#G"/>
<polyline class="ml" clip-path="url(#c)" points="6,84 6.2,51 7,43.3 8.1,36.4 9.1,35.1 10.2,34.9 11.2,34.8 12.2,34.8 13.3,34.7 14.3,35 15.4,35.5 16.4,36.2 17.4,37 18.5,37.7 20.6,39.1 22.6,40.1 24.7,38.6 26.8,36.6 28.9,34.3 31,32.4 33,31.7 35.1,31.4 37.2,30.9 39.3,30.2 41.4,30 43.4,29.9 45.5,30.3 47.6,30.2 49.7,30 51.8,29.4 53.8,28.5 55.9,28 58,27.5 60.1,27.1 62.2,26.5 64.2,25.5 66.3,25.1 68.4,24.8 70.5,24.6 72.6,24.1 74.6,23.5 76.7,23.1 78.8,22.7 80.9,22.1 83,21.7 85,21.3 87.1,21 89.2,20.6 91.3,20.1 93.4,19.7 95.4,19.1 97.5,18.6 99.6,17.8 101.7,17.3 103.8,16.4 105.8,16 107.9,15.6 110,15.6 112.1,15.8 114.2,16.1 116.2,16.4 118.3,16.9 120.4,17.4 122.5,17.5"/>
<use href="#F"/></g>
<g class="r" transform="translate(2084,1064.3)">
<g clip-path="url(#c)"><path class="bb" d="M10.2,40.8L14.3,40.7L18.5,43.3L22.6,46.5L24.7,44L26.8,41.8L31,37.5L35.1,36L39.3,36.4L43.4,36.4L47.6,35.9L49.7,35.5L51.8,35.4L55.9,35.4L60.1,34.9L64.2,33.9L68.4,33.2L72.6,32.7L76.7,31.6L80.9,30.6L85,29.6L89.2,29.1L93.4,28.3L97.5,28.4L101.7,28.9L105.8,29.4L107.9,30.4L110,31.6L114.2,33.8L118.3,36.9L120.4,32.3L122.5,33.1L122.5,37.2L120.4,40.2L118.3,39L114.2,36.5L110,34.9L107.9,33.4L105.8,32.4L101.7,29.8L97.5,30.4L93.4,31L89.2,32.3L85,32.8L80.9,33.6L76.7,34.3L72.6,35.7L68.4,36.4L64.2,36.8L60.1,37.7L55.9,38.7L51.8,41.2L49.7,42.5L47.6,42.8L43.4,43.4L39.3,42L35.1,40.5L31,39.3L26.8,42.7L24.7,45.2L22.6,47.4L18.5,45.2L14.3,42.4L10.2,40.8ZM10.2,37.7L14.3,29.1L18.5,31.5L22.6,31.1L24.7,30.1L26.8,29.1L31,25.4L35.1,24.2L39.3,23.6L43.4,22.3L47.6,21L49.7,20.5L51.8,19.4L55.9,18.3L60.1,16.9L64.2,16.4L68.4,15.7L72.6,15.5L76.7,14.3L80.9,13.4L85,12.5L89.2,12.2L93.4,10.7L97.5,9.8L101.7,10.8L105.8,11.8L107.9,13.1L110,14.5L114.2,17.5L118.3,18.8L120.4,20.8L122.5,21L122.5,22.8L120.4,21.8L118.3,20.2L114.2,19.2L110,17.8L107.9,16L105.8,13.4L101.7,12.4L97.5,12.1L93.4,12.9L89.2,13.4L85,13.4L80.9,14.2L76.7,15.2L72.6,16.5L68.4,17.7L64.2,18.1L60.1,19.6L55.9,20.9L51.8,22.2L49.7,22.3L47.6,22.2L43.4,23.8L39.3,25L35.1,26.4L31,27.9L26.8,31.6L24.7,33.9L22.6,35.5L18.5,33L14.3,30.4L10.2,37.7Z"/><polygon class="ob" points="10.2,37.7 14.3,30.4 18.5,33 22.6,35.5 24.7,33.9 26.8,31.6 31,27.9 35.1,26.4 39.3,25 43.4,23.8 47.6,22.2 49.7,22.3 51.8,22.2 55.9,20.9 60.1,19.6 64.2,18.1 68.4,17.7 72.6,16.5 76.7,15.2 80.9,14.2 85,13.4 89.2,13.4 93.4,12.9 97.5,12.1 101.7,12.4 105.8,13.4 107.9,16 110,17.8 114.2,19.2 118.3,20.2 120.4,21.8 122.5,22.8 122.5,33.1 120.4,32.3 118.3,36.9 114.2,33.8 110,31.6 107.9,30.4 105.8,29.4 101.7,28.9 97.5,28.4 93.4,28.3 89.2,29.1 85,29.6 80.9,30.6 76.7,31.6 72.6,32.7 68.4,33.2 64.2,33.9 60.1,34.9 55.9,35.4 51.8,35.4 49.7,35.5 47.6,35.9 43.4,36.4 39.3,36.4 35.1,36 31,37.5 26.8,41.8 24.7,44 22.6,46.5 18.5,43.3 14.3,40.7 10.2,40.8"/></g>
<use href="#m10"/><use href="#G"/>
<polyline class="ml" clip-path="url(#c)" points="6,84 6.2,51 7,43.3 8.1,36.4 9.1,35.1 10.2,34.9 11.2,34.8 12.2,34.8 13.3,34.7 14.3,35 15.4,35.5 16.4,36.3 17.4,36.9 18.5,37.7 20.6,39.2 22.6,40.1 24.7,38.7 26.8,36.4 28.9,34.4 31,32.6 33,31.9 35.1,31.3 37.2,30.7 39.3,30 41.4,29.1 43.4,28.4 45.5,27.8 47.6,27.2 49.7,26.8 51.8,25.9 53.8,25.6 55.9,25 58,24.9 60.1,24.1 62.2,23.3 64.2,22.7 66.3,22.4 68.4,22.1 70.5,21.6 72.6,21.2 74.6,21 76.7,20.6 78.8,20.3 80.9,19.9 83,19.7 85,19.2 87.1,18.6 89.2,18.2 91.3,18 93.4,17.7 95.4,17.3 97.5,16.8 99.6,17.1 101.7,17.3 103.8,17.5 105.8,18.1 107.9,19.5 110,21.5 112.1,23.3 114.2,24.9 116.2,25.9 118.3,26.4 120.4,27.4 122.5,28"/>
<use href="#F"/></g>
<g class="r" transform="translate(290,1182.2)">
<g clip-path="url(#c)"><path class="bb" d="M10.2,39.2L14.3,40.4L18.5,36.6L22.6,30.5L26.8,29.2L31,28.1L35.1,27L39.3,25.7L43.4,25.3L47.6,24.4L51.8,24.4L55.9,23.5L60.1,22.8L64.2,21.8L68.4,20.4L72.6,20.2L76.7,20.8L80.9,23L85,25.1L89.2,26.4L93.4,28.7L97.5,31.2L101.7,33.9L105.8,34.6L110,35.4L114.2,36L118.3,37.1L120.4,37.9L122.5,38.8L122.5,39.7L120.4,38.7L118.3,37.9L114.2,36.8L110,36.2L105.8,35.5L101.7,34.7L97.5,32L93.4,29.6L89.2,27.2L85,25.9L80.9,23.9L76.7,21.6L72.6,21.1L68.4,21.2L64.2,22.7L60.1,23.7L55.9,24.3L51.8,25.3L47.6,25.3L43.4,26.1L39.3,26.7L35.1,27.8L31,29L26.8,31.8L22.6,34.2L18.5,37.5L14.3,41.3L10.2,39.2ZM10.2,36L14.3,30.9L18.5,27.1L22.6,20.5L26.8,19.3L31,18.6L35.1,17.4L39.3,16.4L43.4,14.9L47.6,14.4L51.8,13.8L55.9,13.4L60.1,12.3L64.2,11.1L68.4,10.1L72.6,10.2L76.7,10.3L80.9,11.8L85,13.2L89.2,13.4L93.4,14L97.5,13.8L101.7,14.9L105.8,16.1L110,16.3L114.2,16.6L118.3,20.2L120.4,23.1L122.5,27.3L122.5,28.1L120.4,26L118.3,23.3L114.2,19.6L110,18.9L105.8,18.2L101.7,17.5L97.5,16.6L93.4,16.2L89.2,15.1L85,14.5L80.9,13L76.7,11.2L72.6,11L68.4,10.9L64.2,11.9L60.1,13.2L55.9,14.2L51.8,14.7L47.6,15.2L43.4,15.7L39.3,17.3L35.1,18.2L31,19.4L26.8,20.2L22.6,21.4L18.5,27.9L14.3,31.7L10.2,36Z"/><polygon class="ob" points="10.2,36 14.3,31.7 18.5,27.9 22.6,21.4 26.8,20.2 31,19.4 35.1,18.2 39.3,17.3 43.4,15.7 47.6,15.2 51.8,14.7 55.9,14.2 60.1,13.2 64.2,11.9 68.4,10.9 72.6,11 76.7,11.2 80.9,13 85,14.5 89.2,15.1 93.4,16.2 97.5,16.6 101.7,17.5 105.8,18.2 110,18.9 114.2,19.6 118.3,23.3 120.4,26 122.5,28.1 122.5,38.8 120.4,37.9 118.3,37.1 114.2,36 110,35.4 105.8,34.6 101.7,33.9 97.5,31.2 93.4,28.7 89.2,26.4 85,25.1 80.9,23 76.7,20.8 72.6,20.2 68.4,20.4 64.2,21.8 60.1,22.8 55.9,23.5 51.8,24.4 47.6,24.4 43.4,25.3 39.3,25.7 35.1,27 31,28.1 26.8,29.2 22.6,30.5 18.5,36.6 14.3,40.4 10.2,39.2"/></g>
<use href="#m0"/><use href="#G"/>
<polyline class="ml" clip-path="url(#c)" points="6,84 6.2,49.8 7,44.6 8.1,42.3 9.1,39.9 10.2,37.8 11.2,37.2 12.2,36.9 13.3,36.5 14.3,36.2 15.4,35.9 16.4,35 17.4,33.8 18.5,32.1 20.6,29.1 22.6,26.5 24.7,25.9 26.8,25.1 28.9,24.6 31,23.8 33,23.3 35.1,23 37.2,22.4 39.3,22.3 41.4,21.7 43.4,21.4 45.5,20.9 47.6,20.6 49.7,20 51.8,19.2 53.8,18.6 55.9,18.3 58,18 60.1,17.7 62.2,17.3 64.2,16.7 66.3,16.2 68.4,15.5 70.5,15.3 72.6,15.5 74.6,16 76.7,16.5 78.8,17.2 80.9,17.9 83,18.7 85,19.6 87.1,20.7 89.2,21.8 91.3,23 93.4,24 95.4,25.3 97.5,26.3 99.6,27.4 101.7,28.2 103.8,29 105.8,29.6 107.9,30.4 110,30.8 112.1,31.2 114.2,31.7 116.2,32.2 118.3,32.4 120.4,32.9 122.5,33.2"/>
<use href="#F"/></g>
<g class="r" transform="translate(469.4,1182.2)">
<g clip-path="url(#c)"><path class="bb" d="M10.2,39.2L14.3,38.7L18.5,35.3L22.6,30.8L26.8,28.1L31,27.6L35.1,27.1L39.3,27L43.4,25.4L47.6,24L51.8,22.3L55.9,21L60.1,19.9L64.2,18.6L68.4,18.4L72.6,18.3L76.7,18.4L80.9,18.2L85,20.9L89.2,23.5L93.4,26.6L97.5,27.9L101.7,30.2L105.8,32.1L110,34.2L114.2,34.8L118.3,35.5L122.5,36.3L122.5,37.7L118.3,37.1L114.2,35.9L110,35L105.8,34.6L101.7,33L97.5,30.6L93.4,28.3L89.2,25.5L85,23.1L80.9,20.6L76.7,20.5L72.6,20.2L68.4,19.3L64.2,19.4L60.1,20.7L55.9,21.9L51.8,23.5L47.6,25L43.4,26.6L39.3,27.8L35.1,28.2L31,28.9L26.8,28.9L22.6,31.6L18.5,36.1L14.3,39.6L10.2,39.2ZM10.2,36L14.3,31.8L18.5,28L22.6,22.8L26.8,19.6L31,19.3L35.1,19.1L39.3,18.5L43.4,17.2L47.6,15.9L51.8,14.6L55.9,12.7L60.1,11.8L64.2,10.6L68.4,11.3L72.6,10.8L76.7,11.6L80.9,11.7L85,14.6L89.2,17.5L93.4,20.1L97.5,21.8L101.7,23.1L105.8,24.5L110,25.9L114.2,26.9L118.3,28.4L122.5,29.2L122.5,30.4L118.3,29.3L114.2,27.7L110,26.9L105.8,25.5L101.7,24.3L97.5,22.7L93.4,20.9L89.2,18.3L85,15.5L80.9,12.6L76.7,12.4L72.6,12.4L68.4,12.9L64.2,13L60.1,13.9L55.9,14.6L51.8,15.4L47.6,16.7L43.4,18.1L39.3,19.7L35.1,20L31,20.4L26.8,21.2L22.6,24.4L18.5,29.5L14.3,32.6L10.2,36Z"/><polygon class="ob" points="10.2,36 14.3,32.6 18.5,29.5 22.6,24.4 26.8,21.2 31,20.4 35.1,20 39.3,19.7 43.4,18.1 47.6,16.7 51.8,15.4 55.9,14.6 60.1,13.9 64.2,13 68.4,12.9 72.6,12.4 76.7,12.4 80.9,12.6 85,15.5 89.2,18.3 93.4,20.9 97.5,22.7 101.7,24.3 105.8,25.5 110,26.9 114.2,27.7 118.3,29.3 122.5,30.4 122.5,36.3 118.3,35.5 114.2,34.8 110,34.2 105.8,32.1 101.7,30.2 97.5,27.9 93.4,26.6 89.2,23.5 85,20.9 80.9,18.2 76.7,18.4 72.6,18.3 68.4,18.4 64.2,18.6 60.1,19.9 55.9,21 51.8,22.3 47.6,24 43.4,25.4 39.3,27 35.1,27.1 31,27.6 26.8,28.1 22.6,30.8 18.5,35.3 14.3,38.7 10.2,39.2"/></g>
<use href="#m1"/><use href="#G"/>
<polyline class="ml" clip-path="url(#c)" points="6,84 6.2,49.8 7,44.6 8.1,42.3 9.1,39.9 10.2,37.8 11.2,37.1 12.2,36.5 13.3,36 14.3,35.5 15.4,35 16.4,34.2 17.4,33.3 18.5,32 20.6,29.5 22.6,26.9 24.7,25.1 26.8,24.5 28.9,24.4 31,23.8 33,23.6 35.1,23.2 37.2,23.3 39.3,22.6 41.4,22.2 43.4,21 45.5,20.6 47.6,20 49.7,19.7 51.8,19.1 53.8,18 55.9,17.2 58,16.5 60.1,16.3 62.2,16.1 64.2,15.7 66.3,15.7 68.4,15.3 70.5,15.5 72.6,15.5 74.6,15.6 76.7,15.3 78.8,15.2 80.9,15.5 83,16.8 85,18.2 87.1,19.6 89.2,20.9 91.3,22.4 93.4,23.6 95.4,24.8 97.5,25.7 99.6,26.5 101.7,27.2 103.8,28.1 105.8,29.1 107.9,29.5 110,30.3 112.1,30.7 114.2,31.3 116.2,31.7 118.3,32.5 120.4,33.2 122.5,33.6"/>
<use href="#F"/></g>
<g class="r" transform="translate(648.8,1182.2)">
<g clip-path="url(#c)"><path class="bb" d="M10.2,39.2L14.3,41L18.5,38.8L22.6,36.1L26.8,34.3L31,33.2L35.1,32.5L39.3,31.7L43.4,30.6L47.6,29.5L51.8,28.2L55.9,26.6L60.1,25L64.2,23L68.4,21.9L72.6,20.7L76.7,20.1L80.9,20L85,20.7L89.2,21.4L93.4,21.7L97.5,23.9L101.7,26.2L105.8,28.5L110,30.6L114.2,32.5L118.3,34.1L122.5,35.9L122.5,36.8L118.3,35.3L114.2,33.3L110,31.4L105.8,29.4L101.7,27.5L97.5,25.6L93.4,23.4L89.2,22.2L85,21.5L80.9,20.8L76.7,21.1L72.6,22.1L68.4,22.8L64.2,24.2L60.1,25.8L55.9,27.5L51.8,29.1L47.6,30.4L43.4,31.6L39.3,33.2L35.1,33.5L31,34.1L26.8,35.1L22.6,36.9L18.5,39.7L14.3,41.8L10.2,39.2ZM10.2,36L14.3,31L18.5,28.8L22.6,25.5L26.8,23L31,22.5L35.1,21.8L39.3,21.1L43.4,19.9L47.6,18.6L51.8,17.6L55.9,16L60.1,14.4L64.2,13.2L68.4,12.2L72.6,11.6L76.7,10.9L80.9,9.7L85,10.4L89.2,10.6L93.4,10.7L97.5,13.1L101.7,15.8L105.8,17.9L110,19.9L114.2,22L118.3,24.1L122.5,25.7L122.5,26.5L118.3,25.2L114.2,22.9L110,21.2L105.8,19L101.7,16.9L97.5,13.9L93.4,11.5L89.2,11.5L85,11.9L80.9,11.4L76.7,11.8L72.6,12.4L68.4,13L64.2,14L60.1,15.3L55.9,16.9L51.8,18.4L47.6,19.5L43.4,20.8L39.3,21.9L35.1,22.6L31,23.3L26.8,24.1L22.6,26.3L18.5,29.7L14.3,31.9L10.2,36Z"/><polygon class="ob" points="10.2,36 14.3,31.9 18.5,29.7 22.6,26.3 26.8,24.1 31,23.3 35.1,22.6 39.3,21.9 43.4,20.8 47.6,19.5 51.8,18.4 55.9,16.9 60.1,15.3 64.2,14 68.4,13 72.6,12.4 76.7,11.8 80.9,11.4 85,11.9 89.2,11.5 93.4,11.5 97.5,13.9 101.7,16.9 105.8,19 110,21.2 114.2,22.9 118.3,25.2 122.5,26.5 122.5,35.9 118.3,34.1 114.2,32.5 110,30.6 105.8,28.5 101.7,26.2 97.5,23.9 93.4,21.7 89.2,21.4 85,20.7 80.9,20 76.7,20.1 72.6,20.7 68.4,21.9 64.2,23 60.1,25 55.9,26.6 51.8,28.2 47.6,29.5 43.4,30.6 39.3,31.7 35.1,32.5 31,33.2 26.8,34.3 22.6,36.1 18.5,38.8 14.3,41 10.2,39.2"/></g>
<use href="#m2"/><use href="#G"/>
<polyline class="ml" clip-path="url(#c)" points="6,84 6.2,49.8 7,44.6 8.1,42.3 9.1,39.9 10.2,37.8 11.2,37.2 12.2,36.9 13.3,36.5 14.3,36.2 15.4,35.8 16.4,35.3 17.4,34.8 18.5,34 20.6,32.5 22.6,30.9 24.7,29.4 26.8,28.8 28.9,28.7 31,28.3 33,27.9 35.1,27.5 37.2,27.4 39.3,27 41.4,26.4 43.4,25.5 45.5,24.7 47.6,24.1 49.7,23.6 51.8,22.9 53.8,22.2 55.9,21.2 58,20.7 60.1,20 62.2,19.4 64.2,18.6 66.3,18.3 68.4,18 70.5,17.7 72.6,17.1 74.6,16.5 76.7,16.3 78.8,16 80.9,15.7 83,15.7 85,15.6 87.1,16 89.2,16.2 91.3,16.7 93.4,16.7 95.4,17.7 97.5,18.8 99.6,20.2 101.7,21.5 103.8,22.6 105.8,23.8 107.9,24.7 110,25.5 112.1,26.5 114.2,27.7 116.2,28.6 118.3,29.3 120.4,30.3 122.5,31.2"/>
<use href="#F"/></g>
<g class="r" transform="translate(828.2,1182.2)">
<g clip-path="url(#c)"><path class="bb" d="M10.2,39.2L14.3,41.8L18.5,39.9L22.6,36.4L26.8,34.2L31,33.4L35.1,32.2L39.3,31.2L43.4,30.3L47.6,29L51.8,27.4L55.9,25.3L60.1,24.2L64.2,23.1L68.4,22.6L72.6,21.9L76.7,20.9L80.9,20.1L85,20L89.2,20.4L93.4,20.5L97.5,23.3L101.7,26.1L105.8,28.7L110,30.3L114.2,32.4L118.3,35L122.5,36.5L122.5,37.4L118.3,35.9L114.2,33.2L110,31.3L105.8,29.5L101.7,26.9L97.5,24.2L93.4,21.3L89.2,21.3L85,21L80.9,20.9L76.7,21.7L72.6,22.8L68.4,23.5L64.2,24L60.1,25.1L55.9,26.2L51.8,28.3L47.6,29.9L43.4,31.1L39.3,32.1L35.1,33.1L31,34.3L26.8,35L22.6,37.2L18.5,40.7L14.3,42.7L10.2,39.2ZM10.2,36L14.3,31.6L18.5,28.8L22.6,25.4L26.8,23.3L31,22.7L35.1,21.7L39.3,20.8L43.4,19.5L47.6,18.3L51.8,17.3L55.9,15.6L60.1,14.5L64.2,13.1L68.4,11.9L72.6,11.5L76.7,10.7L80.9,10.7L85,10.8L89.2,11.2L93.4,11.3L97.5,13.2L101.7,15.2L105.8,17.1L110,19.2L114.2,20.9L118.3,22.8L122.5,25.8L122.5,26.8L118.3,24.8L114.2,22.6L110,20.4L105.8,17.9L101.7,16.3L97.5,14.6L93.4,12.2L89.2,12L85,11.6L80.9,11.5L76.7,11.6L72.6,12.3L68.4,12.8L64.2,14.6L60.1,16L55.9,17.3L51.8,18.1L47.6,19.2L43.4,20.4L39.3,21.7L35.1,22.5L31,23.8L26.8,24.2L22.6,26.4L18.5,29.6L14.3,32.4L10.2,36Z"/><polygon class="ob" points="10.2,36 14.3,32.4 18.5,29.6 22.6,26.4 26.8,24.2 31,23.8 35.1,22.5 39.3,21.7 43.4,20.4 47.6,19.2 51.8,18.1 55.9,17.3 60.1,16 64.2,14.6 68.4,12.8 72.6,12.3 76.7,11.6 80.9,11.5 85,11.6 89.2,12 93.4,12.2 97.5,14.6 101.7,16.3 105.8,17.9 110,20.4 114.2,22.6 118.3,24.8 122.5,26.8 122.5,36.5 118.3,35 114.2,32.4 110,30.3 105.8,28.7 101.7,26.1 97.5,23.3 93.4,20.5 89.2,20.4 85,20 80.9,20.1 76.7,20.9 72.6,21.9 68.4,22.6 64.2,23.1 60.1,24.2 55.9,25.3 51.8,27.4 47.6,29 43.4,30.3 39.3,31.2 35.1,32.2 31,33.4 26.8,34.2 22.6,36.4 18.5,39.9 14.3,41.8 10.2,39.2"/></g>
<use href="#m3"/><use href="#G"/>
<polyline class="ml" clip-path="url(#c)" points="6,84 6.2,49.8 7,44.6 8.1,42.3 9.1,39.9 10.2,37.8 11.2,37.4 12.2,37.2 13.3,37.1 14.3,36.9 15.4,36.7 16.4,36.3 17.4,35.7 18.5,34.8 20.6,32.9 22.6,31.3 24.7,29.5 26.8,28.8 28.9,28.1 31,27.8 33,27.2 35.1,26.9 37.2,26.6 39.3,26.2 41.4,25.5 43.4,24.9 45.5,24.1 47.6,23.6 49.7,22.6 51.8,22 53.8,21 55.9,20.7 58,20.4 60.1,19.8 62.2,19.1 64.2,18.3 66.3,18.1 68.4,17.9 70.5,17.5 72.6,16.8 74.6,16.1 76.7,15.9 78.8,15.5 80.9,15.4 83,15.2 85,15.3 87.1,15.6 89.2,15.7 91.3,16 93.4,16.2 95.4,17.7 97.5,19.1 99.6,20.6 101.7,21.9 103.8,23.4 105.8,24.7 107.9,25.6 110,26.5 112.1,27.4 114.2,28.3 116.2,29.4 118.3,30.3 120.4,31.2 122.5,31.8"/>
<use href="#F"/></g>
<g class="r" transform="translate(1007.6,1182.2)">
<g clip-path="url(#c)"><path class="bb" d="M10.2,38.1L12.2,40.8L14.3,40.7L18.5,41.7L22.6,40.2L26.8,38.9L31,38.4L35.1,37.4L39.3,35.9L43.4,34.3L47.6,33.1L51.8,32.1L55.9,31.4L60.1,30.3L64.2,29.4L68.4,28.3L72.6,27.5L76.7,26.7L80.9,25.6L85,25.1L89.2,24.1L93.4,24.9L97.5,25.5L101.7,26.4L105.8,27L110,27.6L114.2,27.8L118.3,28.5L122.5,29L122.5,30.4L118.3,30.3L114.2,30.9L110,29.9L105.8,28.6L101.7,27.2L97.5,26.8L93.4,26.9L89.2,27.6L85,27.7L80.9,27.9L76.7,28.4L72.6,29.6L68.4,30.2L64.2,30.9L60.1,33L55.9,35.2L51.8,37.4L47.6,37.5L43.4,38L39.3,37.8L35.1,38.8L31,39.9L26.8,42L22.6,44.8L18.5,47.6L14.3,43.9L12.2,43.4L10.2,38.1ZM10.2,34.9L12.2,29.3L14.3,29L18.5,28L22.6,25.6L26.8,23.4L31,23.4L35.1,22.9L39.3,22.1L43.4,20.7L47.6,20.1L51.8,19.4L55.9,18.5L60.1,17.9L64.2,16.8L68.4,15.1L72.6,13.3L76.7,11.7L80.9,9.9L85,9.9L89.2,9.3L93.4,8.9L97.5,9.4L101.7,11.4L105.8,13.5L110,14.9L114.2,15.7L118.3,16.6L122.5,17.4L122.5,19.3L118.3,18.6L114.2,18L110,16.5L105.8,15.2L101.7,13.1L97.5,11.1L93.4,10.5L89.2,11.6L85,12L80.9,12L76.7,13.6L72.6,15.4L68.4,17.3L64.2,18.6L60.1,19.6L55.9,20.5L51.8,21.5L47.6,22.6L43.4,23.6L39.3,24.1L35.1,24.8L31,24.9L26.8,26L22.6,28.8L18.5,31.6L14.3,32.5L12.2,32L10.2,34.9Z"/><polygon class="ob" points="10.2,34.9 12.2,32 14.3,32.5 18.5,31.6 22.6,28.8 26.8,26 31,24.9 35.1,24.8 39.3,24.1 43.4,23.6 47.6,22.6 51.8,21.5 55.9,20.5 60.1,19.6 64.2,18.6 68.4,17.3 72.6,15.4 76.7,13.6 80.9,12 85,12 89.2,11.6 93.4,10.5 97.5,11.1 101.7,13.1 105.8,15.2 110,16.5 114.2,18 118.3,18.6 122.5,19.3 122.5,29 118.3,28.5 114.2,27.8 110,27.6 105.8,27 101.7,26.4 97.5,25.5 93.4,24.9 89.2,24.1 85,25.1 80.9,25.6 76.7,26.7 72.6,27.5 68.4,28.3 64.2,29.4 60.1,30.3 55.9,31.4 51.8,32.1 47.6,33.1 43.4,34.3 39.3,35.9 35.1,37.4 31,38.4 26.8,38.9 22.6,40.2 18.5,41.7 14.3,40.7 12.2,40.8 10.2,38.1"/></g>
<use href="#m4"/><use href="#G"/>
<polyline class="ml" clip-path="url(#c)" points="6,84 6.2,49.8 7,44.4 8.1,41.8 9.1,39.2 10.2,36.8 11.2,36.5 12.2,36.4 13.3,36.3 14.3,36.3 15.4,36.2 16.4,36.2 17.4,36.1 18.5,35.8 20.6,34.6 22.6,33.4 24.7,32.4 26.8,31.4 28.9,30.8 31,30.1 33,29.9 35.1,29.5 37.2,29.3 39.3,28.8 41.4,28.6 43.4,28.4 45.5,27.9 47.6,27.2 49.7,26.7 51.8,26.2 53.8,25.8 55.9,25 58,24.5 60.1,24.2 62.2,23.8 64.2,23.3 66.3,22.6 68.4,22 70.5,20.9 72.6,19.9 74.6,19 76.7,18.2 78.8,17.8 80.9,17.2 83,17.2 85,16.8 87.1,16.5 89.2,16.2 91.3,15.9 93.4,15.9 95.4,16.4 97.5,17 99.6,17.7 101.7,19.1 103.8,20.5 105.8,21.5 107.9,21.8 110,22.2 112.1,22.3 114.2,22.4 116.2,22.5 118.3,23 120.4,23.6 122.5,23.7"/>
<use href="#F"/></g>
<g class="r" transform="translate(1187,1182.2)">
<g clip-path="url(#c)"><path class="bb" d="M10.2,38.1L14.3,41.1L18.5,41.5L22.6,38.5L26.8,36.1L31,35.5L35.1,34.8L39.3,34L43.4,32.2L47.6,30.9L51.8,29L55.9,27.3L60.1,26.2L64.2,25.4L68.4,24.3L72.6,23.3L76.7,22.9L80.9,22.3L85,21.3L89.2,20.5L93.4,21.3L97.5,22.3L101.7,22.7L105.8,24.5L110,26.3L114.2,28.7L118.3,32L122.5,35.5L122.5,36.3L118.3,33.3L114.2,31.1L110,29.6L105.8,27.4L101.7,24.4L97.5,23.3L93.4,22.3L89.2,21.4L85,22.1L80.9,23.1L76.7,23.8L72.6,24.2L68.4,25.1L64.2,26.3L60.1,27.6L55.9,28.2L51.8,30L47.6,31.7L43.4,33.1L39.3,34.8L35.1,35.7L31,36.4L26.8,37.4L22.6,40.1L18.5,42.3L14.3,41.9L10.2,38.1ZM10.2,34.9L14.3,30.8L18.5,31.7L22.6,29L26.8,26.7L31,25.7L35.1,24.8L39.3,23.8L43.4,22.3L47.6,20.2L51.8,19.1L55.9,17.6L60.1,16.7L64.2,15.7L68.4,14L72.6,13.3L76.7,12.5L80.9,12.3L85,11.4L89.2,11.1L93.4,10.7L97.5,10.4L101.7,9.9L105.8,9.8L110,12.4L114.2,14.7L118.3,16.1L122.5,21.1L122.5,21.9L118.3,16.9L114.2,15.5L110,13.2L105.8,10.6L101.7,10.7L97.5,11.3L93.4,11.5L89.2,12.1L85,12.8L80.9,13.4L76.7,13.4L72.6,14.2L68.4,14.8L64.2,16.5L60.1,17.6L55.9,18.4L51.8,19.9L47.6,21.1L43.4,23.1L39.3,24.7L35.1,25.7L31,26.6L26.8,27.6L22.6,29.9L18.5,32.5L14.3,31.7L10.2,34.9Z"/><polygon class="ob" points="10.2,34.9 14.3,31.7 18.5,32.5 22.6,29.9 26.8,27.6 31,26.6 35.1,25.7 39.3,24.7 43.4,23.1 47.6,21.1 51.8,19.9 55.9,18.4 60.1,17.6 64.2,16.5 68.4,14.8 72.6,14.2 76.7,13.4 80.9,13.4 85,12.8 89.2,12.1 93.4,11.5 97.5,11.3 101.7,10.7 105.8,10.6 110,13.2 114.2,15.5 118.3,16.9 122.5,21.9 122.5,35.5 118.3,32 114.2,28.7 110,26.3 105.8,24.5 101.7,22.7 97.5,22.3 93.4,21.3 89.2,20.5 85,21.3 80.9,22.3 76.7,22.9 72.6,23.3 68.4,24.3 64.2,25.4 60.1,26.2 55.9,27.3 51.8,29 47.6,30.9 43.4,32.2 39.3,34 35.1,34.8 31,35.5 26.8,36.1 22.6,38.5 18.5,41.5 14.3,41.1 10.2,38.1"/></g>
<use href="#m5"/><use href="#G"/>
<polyline class="ml" clip-path="url(#c)" points="6,84 6.2,49.8 7,44.4 8.1,41.8 9.1,39.2 10.2,36.8 11.2,36.6 12.2,36.7 13.3,36.7 14.3,36.8 15.4,36.8 16.4,37 17.4,37 18.5,36.8 20.6,35.5 22.6,34.1 24.7,32.7 26.8,31.5 28.9,31.2 31,30.8 33,30.4 35.1,29.9 37.2,29.5 39.3,29.1 41.4,28.6 43.4,27.9 45.5,27 47.6,26 49.7,25 51.8,24.4 53.8,23.4 55.9,22.6 58,22 60.1,21.6 62.2,21.3 64.2,20.8 66.3,20.2 68.4,19.6 70.5,19 72.6,18.7 74.6,18.4 76.7,18.3 78.8,18 80.9,17.6 83,17.1 85,16.9 87.1,16.6 89.2,16.4 91.3,16 93.4,16.1 95.4,16.1 97.5,16.2 99.6,16.1 101.7,15.9 103.8,15.7 105.8,15.9 107.9,17.1 110,18.3 112.1,19.5 114.2,20.9 116.2,22.8 118.3,24.8 120.4,26.7 122.5,28.8"/>
<use href="#F"/></g>
<g class="r" transform="translate(1366.4,1182.2)">
<g clip-path="url(#c)"><path class="bb" d="M10.2,38.1L14.3,40.8L16.4,41.1L18.5,41.4L22.6,40.4L26.8,38.7L31,36.2L35.1,35.1L39.3,33.7L43.4,32.8L47.6,32.1L51.8,31.1L55.9,29.8L60.1,28.6L64.2,26.8L68.4,25.3L72.6,24.2L76.7,23.5L80.9,22.7L85,22.5L89.2,22L93.4,21.7L97.5,22L101.7,23.1L105.8,24.4L110,25.7L114.2,27.5L118.3,29.1L120.4,30.1L122.5,31.1L122.5,32L120.4,34.3L118.3,33.6L114.2,31.6L110,29.6L105.8,27.5L101.7,25.8L97.5,23.5L93.4,22.5L89.2,22.9L85,23.5L80.9,23.7L76.7,24.8L72.6,26L68.4,27.4L64.2,28.1L60.1,29.4L55.9,30.7L51.8,32.2L47.6,32.9L43.4,34.1L39.3,34.6L35.1,36L31,37.6L26.8,40.5L22.6,43.3L18.5,42.2L16.4,42.3L14.3,42.7L10.2,38.1ZM10.2,34.9L14.3,30.4L16.4,29.9L18.5,30.6L22.6,29.6L26.8,27.7L31,25.3L35.1,24.6L39.3,23.3L43.4,22.3L47.6,20.8L51.8,19.7L55.9,18.8L60.1,17.8L64.2,17.3L68.4,16L72.6,15.3L76.7,14L80.9,12.7L85,12L89.2,10.9L93.4,10.7L97.5,9.2L101.7,9L105.8,7.8L110,9.6L114.2,11.3L118.3,13.4L120.4,13.8L122.5,14.7L122.5,15.5L120.4,14.7L118.3,14.2L114.2,12.3L110,11L105.8,9.4L101.7,10.4L97.5,10.3L93.4,11.5L89.2,11.8L85,12.9L80.9,13.6L76.7,14.8L72.6,16.1L68.4,17.2L64.2,18.5L60.1,18.9L55.9,19.6L51.8,20.5L47.6,22.2L43.4,23.1L39.3,24.2L35.1,25.5L31,26.7L26.8,29.1L22.6,30.4L18.5,31.5L16.4,30.8L14.3,31.3L10.2,34.9Z"/><polygon class="ob" points="10.2,34.9 14.3,31.3 16.4,30.8 18.5,31.5 22.6,30.4 26.8,29.1 31,26.7 35.1,25.5 39.3,24.2 43.4,23.1 47.6,22.2 51.8,20.5 55.9,19.6 60.1,18.9 64.2,18.5 68.4,17.2 72.6,16.1 76.7,14.8 80.9,13.6 85,12.9 89.2,11.8 93.4,11.5 97.5,10.3 101.7,10.4 105.8,9.4 110,11 114.2,12.3 118.3,14.2 120.4,14.7 122.5,15.5 122.5,31.1 120.4,30.1 118.3,29.1 114.2,27.5 110,25.7 105.8,24.4 101.7,23.1 97.5,22 93.4,21.7 89.2,22 85,22.5 80.9,22.7 76.7,23.5 72.6,24.2 68.4,25.3 64.2,26.8 60.1,28.6 55.9,29.8 51.8,31.1 47.6,32.1 43.4,32.8 39.3,33.7 35.1,35.1 31,36.2 26.8,38.7 22.6,40.4 18.5,41.4 16.4,41.1 14.3,40.8 10.2,38.1"/></g>
<use href="#m6"/><use href="#G"/>
<polyline class="ml" clip-path="url(#c)" points="6,84 6.2,49.8 7,44.4 8.1,41.8 9.1,39.2 10.2,36.8 11.2,36.5 12.2,36.5 13.3,36.5 14.3,36.5 15.4,36.6 16.4,36.6 17.4,36.5 18.5,36.5 20.6,36.3 22.6,35.3 24.7,34.2 26.8,32.9 28.9,31.9 31,30.9 33,30.3 35.1,29.9 37.2,29.6 39.3,29.3 41.4,28.7 43.4,28.5 45.5,28 47.6,27.5 49.7,26.7 51.8,25.9 53.8,25.2 55.9,24.5 58,24.4 60.1,23.8 62.2,23.4 64.2,22.6 66.3,22.3 68.4,21.7 70.5,21.3 72.6,20.7 74.6,20 76.7,19.5 78.8,19 80.9,18.5 83,18 85,17.6 87.1,17.5 89.2,17.1 91.3,16.6 93.4,16.2 95.4,16 97.5,15.7 99.6,15.5 101.7,15.2 103.8,15.1 105.8,15.1 107.9,15.7 110,16.4 112.1,16.9 114.2,17.6 116.2,18.4 118.3,19.1 120.4,19.8 122.5,20.5"/>
<use href="#F"/></g>
<g class="r" transform="translate(1545.8,1182.2)">
<g clip-path="url(#c)"><path class="bb" d="M10.2,39.8L14.3,40.9L18.5,41.6L22.6,43.1L26.8,40.2L28.9,38.6L31,37.3L35.1,36.2L39.3,35.5L43.4,34.4L47.6,34.3L51.8,33.4L55.9,31.9L60.1,31L64.2,29.8L68.4,29.1L72.6,27.6L76.7,26.2L80.9,24.9L85,24.3L89.2,24.1L93.4,23.2L97.5,22.2L101.7,21.6L105.8,20.6L110,22.1L114.2,23.6L118.3,25.9L120.4,26L122.5,25.7L122.5,27L120.4,29.4L118.3,27.8L114.2,25.2L110,23.1L105.8,21.5L101.7,22.4L97.5,23L93.4,24L89.2,24.9L85,25.7L80.9,26.5L76.7,27.1L72.6,28.5L68.4,30L64.2,30.6L60.1,31.9L55.9,32.8L51.8,34.2L47.6,35.1L43.4,35.3L39.3,36.4L35.1,37.4L31,38.2L28.9,39.5L26.8,41.1L22.6,45L18.5,42.5L14.3,41.7L10.2,39.8ZM10.2,36.6L14.3,30.9L18.5,31.2L22.6,32.8L26.8,29.9L28.9,27.8L31,26.5L35.1,25.1L39.3,24.5L43.4,23.4L47.6,23.2L51.8,22.5L55.9,21.4L60.1,20L64.2,18.9L68.4,18.5L72.6,17.6L76.7,16.3L80.9,14.9L85,14.5L89.2,13.4L93.4,12.2L97.5,11.5L101.7,10.7L105.8,9.5L110,8.8L114.2,8.7L118.3,8.5L120.4,8.6L122.5,9.2L122.5,11L120.4,11.3L118.3,10.9L114.2,10.4L110,9.7L105.8,10.4L101.7,11.7L97.5,12.5L93.4,13.9L89.2,14.3L85,15.4L80.9,15.8L76.7,17.2L72.6,18.4L68.4,19.3L64.2,19.7L60.1,20.9L55.9,22.3L51.8,23.4L47.6,24L43.4,24.2L39.3,25.3L35.1,25.9L31,27.4L28.9,28.6L26.8,30.7L22.6,33.7L18.5,32L14.3,31.7L10.2,36.6Z"/><polygon class="ob" points="10.2,36.6 14.3,31.7 18.5,32 22.6,33.7 26.8,30.7 28.9,28.6 31,27.4 35.1,25.9 39.3,25.3 43.4,24.2 47.6,24 51.8,23.4 55.9,22.3 60.1,20.9 64.2,19.7 68.4,19.3 72.6,18.4 76.7,17.2 80.9,15.8 85,15.4 89.2,14.3 93.4,13.9 97.5,12.5 101.7,11.7 105.8,10.4 110,9.7 114.2,10.4 118.3,10.9 120.4,11.3 122.5,11 122.5,25.7 120.4,26 118.3,25.9 114.2,23.6 110,22.1 105.8,20.6 101.7,21.6 97.5,22.2 93.4,23.2 89.2,24.1 85,24.3 80.9,24.9 76.7,26.2 72.6,27.6 68.4,29.1 64.2,29.8 60.1,31 55.9,31.9 51.8,33.4 47.6,34.3 43.4,34.4 39.3,35.5 35.1,36.2 31,37.3 28.9,38.6 26.8,40.2 22.6,43.1 18.5,41.6 14.3,40.9 10.2,39.8"/></g>
<use href="#m7"/><use href="#G"/>
<polyline class="ml" clip-path="url(#c)" points="6,84 6.2,51.1 7,43.8 8.1,37.8 9.1,36.6 10.2,36.5 11.2,36.4 12.2,36.3 13.3,36.3 14.3,36.4 15.4,36.6 16.4,36.8 17.4,36.9 18.5,37.1 20.6,37.8 22.6,38.1 24.7,37 26.8,35.2 28.9,33.3 31,31.7 33,31.2 35.1,31.3 37.2,31 39.3,30.6 41.4,30.1 43.4,29.8 45.5,29.5 47.6,29.2 49.7,28.6 51.8,28.1 53.8,27.6 55.9,27.2 58,26.7 60.1,26.2 62.2,25.6 64.2,24.9 66.3,24.6 68.4,23.8 70.5,23.5 72.6,22.8 74.6,22.3 76.7,21.7 78.8,21.1 80.9,20.7 83,20.6 85,20.2 87.1,19.9 89.2,19.2 91.3,18.7 93.4,18.3 95.4,17.8 97.5,17.5 99.6,16.7 101.7,16.2 103.8,15.9 105.8,15.5 107.9,15 110,14.5 112.1,14.5 114.2,14.5 116.2,14.4 118.3,14.5 120.4,14.7 122.5,14.8"/>
<use href="#F"/></g>
<g class="r" transform="translate(1725.2,1182.2)">
<g clip-path="url(#c)"><path class="bb" d="M10.2,39.4L14.3,40L18.5,39L22.6,37.7L24.7,36.8L26.8,36.4L31,34.2L35.1,33.6L39.3,32.9L43.4,32L47.6,31.2L51.8,30.5L55.9,30.2L60.1,29.4L64.2,28.2L68.4,26.5L72.6,25.2L76.7,23.7L80.9,23.1L85,22.5L89.2,21.7L93.4,22.3L97.5,24.8L101.7,28L105.8,30.6L110,32.4L114.2,34L118.3,35.8L120.4,36.3L122.5,34.9L122.5,35.7L120.4,37.1L118.3,36.6L114.2,36.1L110,34L105.8,32.9L101.7,29.9L97.5,27.4L93.4,25L89.2,23.2L85,24.6L80.9,25.5L76.7,27.3L72.6,27.6L68.4,28.7L64.2,29.5L60.1,31.1L55.9,31.9L51.8,33L47.6,33.7L43.4,34.5L39.3,35.3L35.1,35.6L31,35.3L26.8,37.4L24.7,39.3L22.6,39.9L18.5,40.6L14.3,41.1L10.2,39.4ZM10.2,36.2L14.3,28.2L18.5,28.7L22.6,27L24.7,26.3L26.8,23.5L31,21.7L35.1,21.3L39.3,22L43.4,21.2L47.6,20.6L51.8,19.2L55.9,18.4L60.1,17.5L64.2,17.2L68.4,16.1L72.6,15.1L76.7,13.7L80.9,12.6L85,11.3L89.2,10L93.4,9.3L97.5,8.6L101.7,8.5L105.8,8.2L110,8.4L114.2,11.6L118.3,14.6L120.4,17.4L122.5,20.7L122.5,21.5L120.4,19.2L118.3,17.2L114.2,13.8L110,9.8L105.8,9.9L101.7,10.4L97.5,10.8L93.4,11.7L89.2,12.2L85,13.2L80.9,13.9L76.7,15.7L72.6,17L68.4,18.2L64.2,19.4L60.1,20.3L55.9,20.6L51.8,21L47.6,21.8L43.4,22.9L39.3,23.4L35.1,23.7L31,23.6L26.8,26L24.7,27.5L22.6,28.5L18.5,29.7L14.3,30.4L10.2,36.2Z"/><polygon class="ob" points="10.2,36.2 14.3,30.4 18.5,29.7 22.6,28.5 24.7,27.5 26.8,26 31,23.6 35.1,23.7 39.3,23.4 43.4,22.9 47.6,21.8 51.8,21 55.9,20.6 60.1,20.3 64.2,19.4 68.4,18.2 72.6,17 76.7,15.7 80.9,13.9 85,13.2 89.2,12.2 93.4,11.7 97.5,10.8 101.7,10.4 105.8,9.9 110,9.8 114.2,13.8 118.3,17.2 120.4,19.2 122.5,21.5 122.5,34.9 120.4,36.3 118.3,35.8 114.2,34 110,32.4 105.8,30.6 101.7,28 97.5,24.8 93.4,22.3 89.2,21.7 85,22.5 80.9,23.1 76.7,23.7 72.6,25.2 68.4,26.5 64.2,28.2 60.1,29.4 55.9,30.2 51.8,30.5 47.6,31.2 43.4,32 39.3,32.9 35.1,33.6 31,34.2 26.8,36.4 24.7,36.8 22.6,37.7 18.5,39 14.3,40 10.2,39.4"/></g>
<use href="#m8"/><use href="#G"/>
<polyline class="ml" clip-path="url(#c)" points="6,84 6.2,51.1 7,43.6 8.1,37.4 9.1,36.1 10.2,35.9 11.2,35.8 12.2,35.7 13.3,35.6 14.3,35.4 15.4,35.1 16.4,34.9 17.4,34.8 18.5,34.5 20.6,33.7 22.6,32.7 24.7,32.1 26.8,31.2 28.9,30.2 31,29.1 33,28.9 35.1,28.7 37.2,28.6 39.3,28.2 41.4,27.6 43.4,27.3 45.5,27.3 47.6,26.9 49.7,26.8 51.8,26.3 53.8,25.8 55.9,25.4 58,24.9 60.1,24.6 62.2,23.9 64.2,23 66.3,22.4 68.4,22 70.5,21.7 72.6,20.9 74.6,20.1 76.7,19.3 78.8,19.1 80.9,18.5 83,18.1 85,17.7 87.1,17.3 89.2,17 91.3,16.5 93.4,16.1 95.4,15.8 97.5,15.4 99.6,15.1 101.7,14.8 103.8,14.7 105.8,14.6 107.9,14.4 110,14.4 112.1,16.1 114.2,17.8 116.2,19.8 118.3,21.5 120.4,24.1 122.5,26.4"/>
<use href="#F"/></g>
<g class="r" transform="translate(1904.6,1182.2)">
<g clip-path="url(#c)"><path class="bb" d="M10.2,40.8L14.3,39.4L18.5,40.2L22.6,40.8L26.8,37.3L28.9,35.3L31,34L35.1,32.6L39.3,31.6L43.4,31L47.6,30.3L51.8,28.9L55.9,27.5L60.1,26.2L64.2,25.5L68.4,24.3L72.6,23.6L76.7,22.1L80.9,20.9L85,20.5L89.2,20.4L93.4,20.3L97.5,19.6L101.7,21.3L105.8,22.7L110,27.5L114.2,32.1L118.3,34.5L120.4,36L122.5,37.2L122.5,38.8L120.4,40.1L118.3,38.5L114.2,35.9L110,31.4L105.8,26.8L101.7,24.4L97.5,21.5L93.4,21.2L89.2,21.2L85,21.8L80.9,22.6L76.7,23.3L72.6,24.4L68.4,25.2L64.2,26.4L60.1,27.1L55.9,28.4L51.8,29.7L47.6,31.1L43.4,31.8L39.3,32.5L35.1,33.5L31,35.1L28.9,36.7L26.8,38.7L22.6,43.3L18.5,41.1L14.3,40.2L10.2,40.8ZM10.2,37.7L14.3,28.6L18.5,29.5L22.6,30.9L26.8,27.3L28.9,25.5L31,23.2L35.1,22.2L39.3,21.1L43.4,20.3L47.6,19.5L51.8,18.6L55.9,16.6L60.1,15.3L64.2,14.8L68.4,14.2L72.6,12.5L76.7,12.1L80.9,11L85,10.9L89.2,9.8L93.4,9L97.5,8.5L101.7,10.3L105.8,11L110,11.7L114.2,13.1L118.3,14.9L120.4,18.4L122.5,20.9L122.5,21.7L120.4,19.2L118.3,16.9L114.2,15.1L110,13.3L105.8,12.7L101.7,11.3L97.5,9.4L93.4,9.9L89.2,10.6L85,11.9L80.9,12.3L76.7,13L72.6,13.3L68.4,15.1L64.2,16.3L60.1,17.6L55.9,18.2L51.8,19.5L47.6,20.6L43.4,21.7L39.3,22.6L35.1,23.6L31,24.8L28.9,26.4L26.8,28.2L22.6,32L18.5,31.3L14.3,30L10.2,37.7Z"/><polygon class="ob" points="10.2,37.7 14.3,30 18.5,31.3 22.6,32 26.8,28.2 28.9,26.4 31,24.8 35.1,23.6 39.3,22.6 43.4,21.7 47.6,20.6 51.8,19.5 55.9,18.2 60.1,17.6 64.2,16.3 68.4,15.1 72.6,13.3 76.7,13 80.9,12.3 85,11.9 89.2,10.6 93.4,9.9 97.5,9.4 101.7,11.3 105.8,12.7 110,13.3 114.2,15.1 118.3,16.9 120.4,19.2 122.5,21.7 122.5,37.2 120.4,36 118.3,34.5 114.2,32.1 110,27.5 105.8,22.7 101.7,21.3 97.5,19.6 93.4,20.3 89.2,20.4 85,20.5 80.9,20.9 76.7,22.1 72.6,23.6 68.4,24.3 64.2,25.5 60.1,26.2 55.9,27.5 51.8,28.9 47.6,30.3 43.4,31 39.3,31.6 35.1,32.6 31,34 28.9,35.3 26.8,37.3 22.6,40.8 18.5,40.2 14.3,39.4 10.2,40.8"/></g>
<use href="#m9"/><use href="#G"/>
<polyline class="ml" clip-path="url(#c)" points="6,84 6.2,51 7,43.3 8.1,36.4 9.1,35.1 10.2,34.9 11.2,34.8 12.2,34.8 13.3,34.7 14.3,34.8 15.4,34.9 16.4,35.1 17.4,35.4 18.5,35.6 20.6,35.8 22.6,35.6 24.7,34.3 26.8,32.9 28.9,31.2 31,29.4 33,28.3 35.1,28 37.2,27.7 39.3,27.3 41.4,26.4 43.4,25.8 45.5,25.4 47.6,25.2 49.7,24.6 51.8,24.1 53.8,23.4 55.9,22.6 58,22 60.1,21.4 62.2,21.3 64.2,20.7 66.3,20.3 68.4,19.6 70.5,19.1 72.6,18.5 74.6,17.9 76.7,17.6 78.8,17.1 80.9,16.7 83,16.4 85,16.1 87.1,15.9 89.2,15.5 91.3,15.1 93.4,14.6 95.4,14.3 97.5,14 99.6,14.7 101.7,15.6 103.8,16.8 105.8,17.9 107.9,20.2 110,22.6 112.1,25.3 114.2,27.7 116.2,29.3 118.3,30.4 120.4,31.6 122.5,32.9"/>
<use href="#F"/></g>
<g class="r" transform="translate(2084,1182.2)">
<g clip-path="url(#c)"><path class="bb" d="M10.2,40.5L14.3,39.4L18.5,40.9L22.6,43L26.8,39.2L28.9,37.3L31,35L35.1,33.7L39.3,31.8L43.4,30.6L47.6,29.7L51.8,29.8L55.9,28.6L60.1,28.3L64.2,27L68.4,26L72.6,24.5L76.7,23.8L80.9,22.7L85,21.3L89.2,21.9L93.4,23.3L97.5,24.5L101.7,24.9L105.8,25.8L110,28.5L114.2,31.3L118.3,34.1L120.4,33.2L122.5,33.1L122.5,34L120.4,36.5L118.3,36.3L114.2,34.3L110,32.5L105.8,30.7L101.7,29L97.5,26.7L93.4,24.8L89.2,23.2L85,24.1L80.9,24.9L76.7,26.1L72.6,26.8L68.4,28.1L64.2,28.8L60.1,29.2L55.9,29.6L51.8,30.6L47.6,31.5L43.4,33.5L39.3,35.2L35.1,35.5L31,35.9L28.9,38.2L26.8,40.5L22.6,45.8L18.5,44L14.3,42.1L10.2,40.5ZM10.2,37.4L14.3,28.9L18.5,30.5L22.6,31.8L26.8,27.4L28.9,25.4L31,23.1L35.1,22.1L39.3,20.9L43.4,19.8L47.6,18.7L51.8,17.4L55.9,17.2L60.1,16.3L64.2,15.2L68.4,13.8L72.6,13L76.7,12.5L80.9,11.5L85,9.9L89.2,8.3L93.4,7.6L97.5,8.5L101.7,8.8L105.8,8.1L110,10.7L114.2,13.1L118.3,17.6L120.4,19.3L122.5,21L122.5,23.2L120.4,21.7L118.3,19.6L114.2,17.1L110,13.7L105.8,10.6L101.7,10.4L97.5,10L93.4,10.1L89.2,11.3L85,12.5L80.9,12.9L76.7,13.4L72.6,14.9L68.4,16L64.2,17.8L60.1,18.8L55.9,19.4L51.8,20.2L47.6,21.1L43.4,22.1L39.3,23.1L35.1,24L31,25.5L28.9,27.6L26.8,29.6L22.6,33.6L18.5,31.8L14.3,30.2L10.2,37.4Z"/><polygon class="ob" points="10.2,37.4 14.3,30.2 18.5,31.8 22.6,33.6 26.8,29.6 28.9,27.6 31,25.5 35.1,24 39.3,23.1 43.4,22.1 47.6,21.1 51.8,20.2 55.9,19.4 60.1,18.8 64.2,17.8 68.4,16 72.6,14.9 76.7,13.4 80.9,12.9 85,12.5 89.2,11.3 93.4,10.1 97.5,10 101.7,10.4 105.8,10.6 110,13.7 114.2,17.1 118.3,19.6 120.4,21.7 122.5,23.2 122.5,33.1 120.4,33.2 118.3,34.1 114.2,31.3 110,28.5 105.8,25.8 101.7,24.9 97.5,24.5 93.4,23.3 89.2,21.9 85,21.3 80.9,22.7 76.7,23.8 72.6,24.5 68.4,26 64.2,27 60.1,28.3 55.9,28.6 51.8,29.8 47.6,29.7 43.4,30.6 39.3,31.8 35.1,33.7 31,35 28.9,37.3 26.8,39.2 22.6,43 18.5,40.9 14.3,39.4 10.2,40.5"/></g>
<use href="#m10"/><use href="#G"/>
<polyline class="ml" clip-path="url(#c)" points="6,84 6.2,51 7,43.1 8.1,35.9 9.1,34.5 10.2,34.4 11.2,34.3 12.2,34.2 13.3,34.2 14.3,34.3 15.4,34.6 16.4,35.1 17.4,35.5 18.5,36.1 20.6,37.1 22.6,37.8 24.7,36.4 26.8,34.3 28.9,32.1 31,30.2 33,29.7 35.1,29.1 37.2,29 39.3,28.3 41.4,27.8 43.4,27.1 45.5,26.2 47.6,25.8 49.7,25.3 51.8,25.1 53.8,24.5 55.9,23.8 58,23.4 60.1,23.1 62.2,22.7 64.2,22.4 66.3,22 68.4,21.4 70.5,20.6 72.6,19.6 74.6,19.2 76.7,18.8 78.8,18.5 80.9,17.8 83,17.1 85,16.4 87.1,15.9 89.2,15.2 91.3,14.7 93.4,14.3 95.4,14.4 97.5,14.6 99.6,14.7 101.7,14.9 103.8,14.9 105.8,15 107.9,16.4 110,18.1 112.1,19.5 114.2,20.9 116.2,22.4 118.3,24 120.4,25.6 122.5,26.8"/>
<use href="#F"/></g>
<g class="r" transform="translate(290,1300.1)">
<g clip-path="url(#c)"><path class="bb" d="M10.2,39.2L14.3,40.9L18.5,37.7L22.6,32.2L26.8,30.8L31,29.2L35.1,28.2L39.3,27.5L43.4,26.9L47.6,25.4L51.8,24.5L55.9,23.4L60.1,23.3L64.2,21.5L68.4,20.4L72.6,20.5L76.7,22.8L80.9,25.1L85,27.1L89.2,29.4L93.4,31.5L97.5,33.6L101.7,36.1L105.8,36.6L110,37.2L114.2,37.7L118.3,38.4L120.4,39L122.5,39.2L122.5,40.6L120.4,40.5L118.3,39.9L114.2,39.3L110,38.7L105.8,38.1L101.7,37.8L97.5,35.1L93.4,33.5L89.2,31.4L85,28.9L80.9,26L76.7,23.6L72.6,22L68.4,21.9L64.2,23.8L60.1,25.2L55.9,25.5L51.8,26L47.6,27.2L43.4,29L39.3,29.9L35.1,31.8L31,32.9L26.8,34.9L22.6,35.9L18.5,39.2L14.3,42.9L10.2,39.2ZM10.2,36L14.3,29.4L18.5,26.5L22.6,20.4L26.8,19.7L31,18L35.1,17.4L39.3,16.8L43.4,15.9L47.6,14.5L51.8,13.2L55.9,11.9L60.1,10.6L64.2,9.6L68.4,9.1L72.6,9.9L76.7,9.8L80.9,11.6L85,11.8L89.2,12.5L93.4,13.5L97.5,13.6L101.7,14.4L105.8,13.8L110,16.3L114.2,18L118.3,22.9L120.4,24.3L122.5,27.4L122.5,30L120.4,28.1L118.3,26.3L114.2,23.4L110,20.9L105.8,20.1L101.7,18.8L97.5,17.9L93.4,17.2L89.2,16.6L85,16L80.9,14.2L76.7,12.4L72.6,11.8L68.4,11.7L64.2,12.4L60.1,13L55.9,14.3L51.8,15L47.6,16.8L43.4,17.1L39.3,18.2L35.1,18.3L31,19.8L26.8,20.9L22.6,22.3L18.5,27.5L14.3,31.6L10.2,36Z"/><polygon class="ob" points="10.2,36 14.3,31.6 18.5,27.5 22.6,22.3 26.8,20.9 31,19.8 35.1,18.3 39.3,18.2 43.4,17.1 47.6,16.8 51.8,15 55.9,14.3 60.1,13 64.2,12.4 68.4,11.7 72.6,11.8 76.7,12.4 80.9,14.2 85,16 89.2,16.6 93.4,17.2 97.5,17.9 101.7,18.8 105.8,20.1 110,20.9 114.2,23.4 118.3,26.3 120.4,28.1 122.5,30 122.5,39.2 120.4,39 118.3,38.4 114.2,37.7 110,37.2 105.8,36.6 101.7,36.1 97.5,33.6 93.4,31.5 89.2,29.4 85,27.1 80.9,25.1 76.7,22.8 72.6,20.5 68.4,20.4 64.2,21.5 60.1,23.3 55.9,23.4 51.8,24.5 47.6,25.4 43.4,26.9 39.3,27.5 35.1,28.2 31,29.2 26.8,30.8 22.6,32.2 18.5,37.7 14.3,40.9 10.2,39.2"/></g>
<use href="#m0"/><use href="#G"/>
<polyline class="ml" clip-path="url(#c)" points="6,84 6.2,49.8 7,44.6 8.1,42.3 9.1,39.9 10.2,37.8 11.2,37.2 12.2,36.9 13.3,36.5 14.3,36.2 15.4,35.8 16.4,35.1 17.4,34.1 18.5,32.7 20.6,30.1 22.6,27.6 24.7,26.8 26.8,26.3 28.9,25.7 31,24.9 33,24.3 35.1,23.8 37.2,23.2 39.3,22.6 41.4,22 43.4,21.5 45.5,20.9 47.6,20.3 49.7,19.7 51.8,19.4 53.8,19 55.9,18.5 58,17.9 60.1,17.2 62.2,16.8 64.2,16.3 66.3,16.1 68.4,15.7 70.5,15.9 72.6,16.3 74.6,16.5 76.7,17 78.8,17.7 80.9,18.8 83,20.1 85,21.7 87.1,23 89.2,24.2 91.3,25.1 93.4,26.4 95.4,27.5 97.5,29 99.6,30.1 101.7,31.5 103.8,31.6 105.8,31.8 107.9,32.1 110,32.5 112.1,33.1 114.2,33.3 116.2,33.7 118.3,33.8 120.4,34.1 122.5,34.2"/>
<use href="#F"/></g>
<g class="r" transform="translate(469.4,1300.1)">
<g clip-path="url(#c)"><path class="bb" d="M10.2,39.2L14.3,41.4L18.5,38.9L22.6,35.9L26.8,33.5L31,32.1L35.1,31.1L39.3,30.1L43.4,28.2L47.6,26.4L51.8,24.3L55.9,22.5L60.1,21L64.2,19.9L68.4,20.6L72.6,21.2L76.7,23L80.9,24.7L85,27.1L89.2,29.2L93.4,31.8L97.5,33.3L101.7,35.2L105.8,37.2L110,38.8L114.2,39.6L118.3,41L120.4,40.2L122.5,40.5L122.5,43.3L120.4,45.5L118.3,44.7L114.2,43.2L110,41.5L105.8,39.5L101.7,37.2L97.5,35.6L93.4,34L89.2,30.9L85,27.9L80.9,25.5L76.7,23.8L72.6,23.6L68.4,22.7L64.2,22.3L60.1,23.2L55.9,24.4L51.8,26.2L47.6,27.4L43.4,29.6L39.3,31.7L35.1,33L31,33.7L26.8,34.8L22.6,37.3L18.5,41L14.3,43.2L10.2,39.2ZM10.2,36L14.3,29.3L18.5,27.4L22.6,23.8L26.8,22.1L31,20.7L35.1,20.3L39.3,19L43.4,16.8L47.6,14.8L51.8,12.5L55.9,11L60.1,9.3L64.2,8.8L68.4,8.6L72.6,10.3L76.7,10.7L80.9,11.6L85,14L89.2,15.2L93.4,17.7L97.5,19.9L101.7,22.2L105.8,24.5L110,26.7L114.2,27.1L118.3,27.5L120.4,27.4L122.5,28.4L122.5,29.7L120.4,29.9L118.3,29.5L114.2,29L110,27.5L105.8,25.3L101.7,23L97.5,20.8L93.4,19.2L89.2,17.4L85,15.6L80.9,12.7L76.7,12.2L72.6,12.2L68.4,11.9L64.2,11.3L60.1,12.4L55.9,13.2L51.8,14.8L47.6,16.3L43.4,18.3L39.3,20.6L35.1,21.6L31,22.4L26.8,23.1L22.6,25.4L18.5,28.7L14.3,31.4L10.2,36Z"/><polygon class="ob" points="10.2,36 14.3,31.4 18.5,28.7 22.6,25.4 26.8,23.1 31,22.4 35.1,21.6 39.3,20.6 43.4,18.3 47.6,16.3 51.8,14.8 55.9,13.2 60.1,12.4 64.2,11.3 68.4,11.9 72.6,12.2 76.7,12.2 80.9,12.7 85,15.6 89.2,17.4 93.4,19.2 97.5,20.8 101.7,23 105.8,25.3 110,27.5 114.2,29 118.3,29.5 120.4,29.9 122.5,29.7 122.5,40.5 120.4,40.2 118.3,41 114.2,39.6 110,38.8 105.8,37.2 101.7,35.2 97.5,33.3 93.4,31.8 89.2,29.2 85,27.1 80.9,24.7 76.7,23 72.6,21.2 68.4,20.6 64.2,19.9 60.1,21 55.9,22.5 51.8,24.3 47.6,26.4 43.4,28.2 39.3,30.1 35.1,31.1 31,32.1 26.8,33.5 22.6,35.9 18.5,38.9 14.3,41.4 10.2,39.2"/></g>
<use href="#m1"/><use href="#G"/>
<polyline class="ml" clip-path="url(#c)" points="6,84 6.2,49.8 7,44.6 8.1,42.3 9.1,39.9 10.2,37.8 11.2,37.2 12.2,36.9 13.3,36.5 14.3,36.2 15.4,35.8 16.4,35.4 17.4,34.7 18.5,33.9 20.6,32.3 22.6,30.4 24.7,29 26.8,28.4 28.9,27.9 31,27.4 33,26.8 35.1,26.1 37.2,25.4 39.3,24.5 41.4,23.6 43.4,22.9 45.5,21.9 47.6,21.2 49.7,20.2 51.8,19.7 53.8,18.5 55.9,17.5 58,16.9 60.1,16.4 62.2,16.1 64.2,15.5 66.3,15.8 68.4,16 70.5,16.1 72.6,16.4 74.6,16.4 76.7,16.7 78.8,16.7 80.9,17.2 83,18.5 85,20 87.1,21.6 89.2,22.9 91.3,24.3 93.4,25.5 95.4,26.8 97.5,27.9 99.6,29.2 101.7,30.4 103.8,31.7 105.8,32.8 107.9,33.6 110,33.8 112.1,33.6 114.2,33.6 116.2,33.9 118.3,34.6 120.4,34.8 122.5,34.7"/>
<use href="#F"/></g>
<g class="r" transform="translate(648.8,1300.1)">
<g clip-path="url(#c)"><path class="bb" d="M10.2,39.2L14.3,40.5L18.5,38.7L22.6,36.5L26.8,34.9L31,33.7L35.1,32.2L39.3,30.2L43.4,28.7L47.6,27.7L51.8,26.8L55.9,25.9L60.1,24.6L64.2,23.7L68.4,22.3L72.6,21.8L76.7,21.5L80.9,22.1L85,22.5L89.2,23.3L93.4,25.8L97.5,28.5L101.7,31L105.8,33.9L110,36.3L114.2,38.8L118.3,39L122.5,39.2L122.5,41.3L118.3,40.3L114.2,41.1L110,38.3L105.8,36.1L101.7,32.8L97.5,30.8L93.4,28.6L89.2,26.7L85,25L80.9,23.5L76.7,23.6L72.6,24L68.4,23.8L64.2,24.9L60.1,26.1L55.9,27.4L51.8,29L47.6,30.2L43.4,31.6L39.3,32.6L35.1,33.4L31,34.6L26.8,35.8L22.6,37.3L18.5,40.7L14.3,42.8L10.2,39.2ZM10.2,36L14.3,30L18.5,27.6L22.6,25.4L26.8,23.5L31,22.1L35.1,20.5L39.3,18.8L43.4,17.6L47.6,16.1L51.8,15.1L55.9,13.6L60.1,13.2L64.2,11.5L68.4,11.2L72.6,10.7L76.7,11.2L80.9,10.5L85,10.7L89.2,12.2L93.4,13L97.5,15.7L101.7,17.8L105.8,21.2L110,24.1L114.2,26.4L118.3,27.6L122.5,27.7L122.5,29.8L118.3,29.7L114.2,27.5L110,25.2L105.8,22L101.7,19.5L97.5,17.1L93.4,15L89.2,13.8L85,12.1L80.9,12.2L76.7,12.1L72.6,12L68.4,12.1L64.2,13L60.1,14.1L55.9,14.9L51.8,16.9L47.6,18.1L43.4,19.5L39.3,20.6L35.1,22.3L31,24L26.8,25L22.6,26.6L18.5,29.1L14.3,31.5L10.2,36Z"/><polygon class="ob" points="10.2,36 14.3,31.5 18.5,29.1 22.6,26.6 26.8,25 31,24 35.1,22.3 39.3,20.6 43.4,19.5 47.6,18.1 51.8,16.9 55.9,14.9 60.1,14.1 64.2,13 68.4,12.1 72.6,12 76.7,12.1 80.9,12.2 85,12.1 89.2,13.8 93.4,15 97.5,17.1 101.7,19.5 105.8,22 110,25.2 114.2,27.5 118.3,29.7 122.5,29.8 122.5,39.2 118.3,39 114.2,38.8 110,36.3 105.8,33.9 101.7,31 97.5,28.5 93.4,25.8 89.2,23.3 85,22.5 80.9,22.1 76.7,21.5 72.6,21.8 68.4,22.3 64.2,23.7 60.1,24.6 55.9,25.9 51.8,26.8 47.6,27.7 43.4,28.7 39.3,30.2 35.1,32.2 31,33.7 26.8,34.9 22.6,36.5 18.5,38.7 14.3,40.5 10.2,39.2"/></g>
<use href="#m2"/><use href="#G"/>
<polyline class="ml" clip-path="url(#c)" points="6,84 6.2,49.8 7,44.6 8.1,42.3 9.1,39.9 10.2,37.8 11.2,37.2 12.2,36.9 13.3,36.5 14.3,36.2 15.4,35.8 16.4,35.3 17.4,34.8 18.5,34.3 20.6,33 22.6,31.9 24.7,30.4 26.8,29.7 28.9,28.8 31,28.3 33,27.8 35.1,27.5 37.2,26.9 39.3,26.5 41.4,25.8 43.4,24.9 45.5,23.9 47.6,23.1 49.7,22.6 51.8,22 53.8,21.3 55.9,20.9 58,20 60.1,19.7 62.2,19.3 64.2,19.1 66.3,18.4 68.4,17.8 70.5,17.4 72.6,17.5 74.6,17.1 76.7,17 78.8,16.7 80.9,16.5 83,16.2 85,16.2 87.1,16.9 89.2,17.8 91.3,18.9 93.4,19.7 95.4,21.1 97.5,22.4 99.6,24.3 101.7,26 103.8,27.7 105.8,29.1 107.9,30.5 110,31.7 112.1,33.2 114.2,34.4 116.2,34.9 118.3,34.9 120.4,34.8 122.5,34.5"/>
<use href="#F"/></g>
<g class="r" transform="translate(828.2,1300.1)">
<g clip-path="url(#c)"><path class="bb" d="M10.2,39.2L14.3,41.5L18.5,39.1L22.6,36L26.8,34.1L31,33.1L35.1,32.2L39.3,31L43.4,30L47.6,28.5L51.8,27.5L55.9,26.2L60.1,25.8L64.2,24.8L68.4,24L72.6,22.7L76.7,21.6L80.9,20.2L85,20.4L89.2,21.1L93.4,21.8L97.5,25.6L101.7,28.9L105.8,32.2L110,34.4L114.2,36.4L118.3,37.3L122.5,37.7L122.5,38.6L118.3,38.1L114.2,38.2L110,35.7L105.8,33.4L101.7,29.9L97.5,26.5L93.4,22.7L89.2,21.9L85,21.2L80.9,21.1L76.7,22.4L72.6,23.6L68.4,24.8L64.2,25.6L60.1,26.6L55.9,27L51.8,28.3L47.6,29.4L43.4,30.8L39.3,31.9L35.1,33L31,34L26.8,34.9L22.6,36.9L18.5,40L14.3,42.4L10.2,39.2ZM10.2,36L14.3,31L18.5,29.3L22.6,26.1L26.8,23.9L31,22.9L35.1,21.7L39.3,20.5L43.4,19.2L47.6,18.2L51.8,17.3L55.9,16.3L60.1,15.4L64.2,14.2L68.4,13.3L72.6,12L76.7,11.4L80.9,10.3L85,10.9L89.2,10.7L93.4,11.5L97.5,15.3L101.7,17.3L105.8,19.8L110,21.8L114.2,23.9L118.3,25.4L122.5,26.6L122.5,27.4L118.3,26.6L114.2,24.8L110,22.7L105.8,20.7L101.7,18.6L97.5,16.2L93.4,12.3L89.2,11.6L85,11.7L80.9,11.1L76.7,12.2L72.6,12.9L68.4,14.1L64.2,15L60.1,16.3L55.9,17.3L51.8,18.3L47.6,19L43.4,20L39.3,21.3L35.1,22.5L31,23.8L26.8,24.7L22.6,27L18.5,30.4L14.3,32.3L10.2,36Z"/><polygon class="ob" points="10.2,36 14.3,32.3 18.5,30.4 22.6,27 26.8,24.7 31,23.8 35.1,22.5 39.3,21.3 43.4,20 47.6,19 51.8,18.3 55.9,17.3 60.1,16.3 64.2,15 68.4,14.1 72.6,12.9 76.7,12.2 80.9,11.1 85,11.7 89.2,11.6 93.4,12.3 97.5,16.2 101.7,18.6 105.8,20.7 110,22.7 114.2,24.8 118.3,26.6 122.5,27.4 122.5,37.7 118.3,37.3 114.2,36.4 110,34.4 105.8,32.2 101.7,28.9 97.5,25.6 93.4,21.8 89.2,21.1 85,20.4 80.9,20.2 76.7,21.6 72.6,22.7 68.4,24 64.2,24.8 60.1,25.8 55.9,26.2 51.8,27.5 47.6,28.5 43.4,30 39.3,31 35.1,32.2 31,33.1 26.8,34.1 22.6,36 18.5,39.1 14.3,41.5 10.2,39.2"/></g>
<use href="#m3"/><use href="#G"/>
<polyline class="ml" clip-path="url(#c)" points="6,84 6.2,49.8 7,44.6 8.1,42.3 9.1,39.9 10.2,37.8 11.2,37.4 12.2,37.2 13.3,37.1 14.3,36.9 15.4,36.7 16.4,36.3 17.4,35.6 18.5,34.7 20.6,33 22.6,31.4 24.7,30.4 26.8,29.8 28.9,29.3 31,28.3 33,27.6 35.1,27.3 37.2,26.8 39.3,26.3 41.4,25.5 43.4,25.2 45.5,24.7 47.6,23.9 49.7,23.2 51.8,22.7 53.8,22.3 55.9,22 58,21.3 60.1,20.8 62.2,19.9 64.2,19.4 66.3,19.1 68.4,18.8 70.5,18.4 72.6,17.8 74.6,17.3 76.7,16.8 78.8,16.5 80.9,15.9 83,16.1 85,16.5 87.1,17.1 89.2,17.4 91.3,17.7 93.4,18.1 95.4,19.5 97.5,21.1 99.6,22.9 101.7,24.8 103.8,26.5 105.8,28.2 107.9,29.3 110,30.3 112.1,31.4 114.2,32.1 116.2,32.4 118.3,32.6 120.4,33.2 122.5,33.2"/>
<use href="#F"/></g>
<g class="r" transform="translate(1007.6,1300.1)">
<g clip-path="url(#c)"><path class="bb" d="M10.2,38.1L14.3,40.8L18.5,40.6L22.6,37.2L26.8,34.5L31,33.8L35.1,32.5L39.3,31.7L43.4,30.4L47.6,29.2L51.8,28.2L55.9,26.7L60.1,25.4L64.2,23.5L68.4,22.5L72.6,20.9L76.7,19.9L80.9,18.9L85,21.9L89.2,25.2L93.4,28.1L97.5,30.8L101.7,32.4L105.8,34.4L110,37.1L114.2,38.4L118.3,40.1L120.4,40.3L122.5,41L122.5,45.6L120.4,48.2L118.3,47.3L114.2,46.1L110,43.6L105.8,41.1L101.7,37.6L97.5,34.7L93.4,29.1L89.2,26.1L85,22.7L80.9,20.2L76.7,21.8L72.6,22.1L68.4,23.3L64.2,24.3L60.1,26.3L55.9,27.9L51.8,29.7L47.6,30.1L43.4,31.6L39.3,33.1L35.1,34.9L31,36L26.8,36.8L22.6,40.1L18.5,43L14.3,43.2L10.2,38.1ZM10.2,34.9L14.3,29.3L18.5,29L22.6,26.2L26.8,23.9L31,22.5L35.1,21.4L39.3,19.7L43.4,19.1L47.6,17.8L51.8,16.6L55.9,14.9L60.1,13.1L64.2,11.9L68.4,10.6L72.6,9.5L76.7,8L80.9,6.1L85,7.9L89.2,9.8L93.4,11.6L97.5,12.4L101.7,13.4L105.8,15.1L110,18.3L114.2,21.9L118.3,24.9L120.4,26.9L122.5,28.2L122.5,30.9L120.4,29.6L118.3,26.9L114.2,22.9L110,19.1L105.8,17.9L101.7,17L97.5,15.5L93.4,14.3L89.2,12.7L85,11.2L80.9,9.3L76.7,10.8L72.6,11.8L68.4,12.6L64.2,13.4L60.1,14.4L55.9,16L51.8,17.4L47.6,18.7L43.4,19.9L39.3,21.2L35.1,22.8L31,24L26.8,25.6L22.6,28.3L18.5,31.3L14.3,31.6L10.2,34.9Z"/><polygon class="ob" points="10.2,34.9 14.3,31.6 18.5,31.3 22.6,28.3 26.8,25.6 31,24 35.1,22.8 39.3,21.2 43.4,19.9 47.6,18.7 51.8,17.4 55.9,16 60.1,14.4 64.2,13.4 68.4,12.6 72.6,11.8 76.7,10.8 80.9,9.3 85,11.2 89.2,12.7 93.4,14.3 97.5,15.5 101.7,17 105.8,17.9 110,19.1 114.2,22.9 118.3,26.9 120.4,29.6 122.5,30.9 122.5,41 120.4,40.3 118.3,40.1 114.2,38.4 110,37.1 105.8,34.4 101.7,32.4 97.5,30.8 93.4,28.1 89.2,25.2 85,21.9 80.9,18.9 76.7,19.9 72.6,20.9 68.4,22.5 64.2,23.5 60.1,25.4 55.9,26.7 51.8,28.2 47.6,29.2 43.4,30.4 39.3,31.7 35.1,32.5 31,33.8 26.8,34.5 22.6,37.2 18.5,40.6 14.3,40.8 10.2,38.1"/></g>
<use href="#m4"/><use href="#G"/>
<polyline class="ml" clip-path="url(#c)" points="6,84 6.2,49.8 7,44.4 8.1,41.8 9.1,39.2 10.2,36.8 11.2,36.5 12.2,36.4 13.3,36.3 14.3,36.3 15.4,36.1 16.4,36.1 17.4,36.1 18.5,35.9 20.6,34.6 22.6,33.2 24.7,31.6 26.8,30.4 28.9,29.7 31,29.4 33,28.8 35.1,28 37.2,26.7 39.3,25.9 41.4,25.3 43.4,25.1 45.5,24.5 47.6,23.9 49.7,23.1 51.8,22.5 53.8,21.8 55.9,21.3 58,20.7 60.1,20.1 62.2,19.4 64.2,18.8 66.3,18.3 68.4,17.7 70.5,16.8 72.6,16.4 74.6,15.9 76.7,15.4 78.8,14.6 80.9,14.3 83,15.1 85,15.9 87.1,16.5 89.2,17.5 91.3,18.9 93.4,20.6 95.4,22.2 97.5,23.7 99.6,25.3 101.7,26.7 103.8,27.7 105.8,28.3 107.9,29.2 110,30.4 112.1,31.4 114.2,32.4 116.2,33.4 118.3,34.3 120.4,35.2 122.5,35.6"/>
<use href="#F"/></g>
<g class="r" transform="translate(1187,1300.1)">
<g clip-path="url(#c)"><path class="bb" d="M10.2,38.1L14.3,40.9L18.5,41.1L22.6,38.2L26.8,35.2L31,34.5L35.1,34.1L39.3,33.2L43.4,31.6L47.6,30.1L51.8,28.4L55.9,26.9L60.1,25.1L64.2,23.8L68.4,21.9L72.6,20.2L76.7,19.7L80.9,19.4L85,22.1L89.2,24.7L93.4,27.3L97.5,29.8L101.7,32.5L105.8,36L110,37.6L114.2,39.5L118.3,41.2L122.5,43.5L122.5,45.6L118.3,42.7L114.2,40.9L110,38.5L105.8,37.2L101.7,33.9L97.5,30.7L93.4,28.2L89.2,25.6L85,22.9L80.9,20.2L76.7,20.5L72.6,21L68.4,22.8L64.2,24.6L60.1,26L55.9,27.8L51.8,29.2L47.6,31L43.4,32.5L39.3,34.1L35.1,34.9L31,35.4L26.8,36L22.6,39L18.5,42L14.3,41.9L10.2,38.1ZM10.2,34.9L14.3,30.5L18.5,30.3L22.6,27.6L26.8,25L31,24.8L35.1,23.7L39.3,22.9L43.4,21L47.6,19.6L51.8,17.4L55.9,15.6L60.1,13.8L64.2,12.3L68.4,11.3L72.6,10L76.7,10L80.9,8.5L85,11.1L89.2,13.4L93.4,14L97.5,16L101.7,16.6L105.8,17.9L110,19.5L114.2,21.7L118.3,26.1L122.5,30.8L122.5,34.1L118.3,29.9L114.2,25.2L110,22.7L105.8,20.5L101.7,18.2L97.5,17.4L93.4,16.1L89.2,14.2L85,11.9L80.9,9.4L76.7,10.9L72.6,10.9L68.4,12.2L64.2,13.1L60.1,14.6L55.9,16.4L51.8,18.3L47.6,20.4L43.4,21.9L39.3,23.7L35.1,24.5L31,25.7L26.8,26.1L22.6,28.7L18.5,31.2L14.3,31.3L10.2,34.9Z"/><polygon class="ob" points="10.2,34.9 14.3,31.3 18.5,31.2 22.6,28.7 26.8,26.1 31,25.7 35.1,24.5 39.3,23.7 43.4,21.9 47.6,20.4 51.8,18.3 55.9,16.4 60.1,14.6 64.2,13.1 68.4,12.2 72.6,10.9 76.7,10.9 80.9,9.4 85,11.9 89.2,14.2 93.4,16.1 97.5,17.4 101.7,18.2 105.8,20.5 110,22.7 114.2,25.2 118.3,29.9 122.5,34.1 122.5,43.5 118.3,41.2 114.2,39.5 110,37.6 105.8,36 101.7,32.5 97.5,29.8 93.4,27.3 89.2,24.7 85,22.1 80.9,19.4 76.7,19.7 72.6,20.2 68.4,21.9 64.2,23.8 60.1,25.1 55.9,26.9 51.8,28.4 47.6,30.1 43.4,31.6 39.3,33.2 35.1,34.1 31,34.5 26.8,35.2 22.6,38.2 18.5,41.1 14.3,40.9 10.2,38.1"/></g>
<use href="#m5"/><use href="#G"/>
<polyline class="ml" clip-path="url(#c)" points="6,84 6.2,49.8 7,44.4 8.1,41.8 9.1,39.2 10.2,36.8 11.2,36.5 12.2,36.4 13.3,36.3 14.3,36.3 15.4,36.2 16.4,36.2 17.4,36.1 18.5,35.8 20.6,34.5 22.6,33.1 24.7,31.8 26.8,30.6 28.9,29.9 31,29.5 33,29.1 35.1,28.8 37.2,28.3 39.3,27.9 41.4,27.3 43.4,26.5 45.5,25.9 47.6,25.1 49.7,24.3 51.8,23.4 53.8,22.6 55.9,21.9 58,21.2 60.1,20.2 62.2,19.6 64.2,18.6 66.3,18.1 68.4,17.6 70.5,17 72.6,16.2 74.6,15.7 76.7,15.5 78.8,15.3 80.9,15.3 83,16.2 85,17.3 87.1,18.3 89.2,19.6 91.3,20.9 93.4,22.3 95.4,23.6 97.5,25.1 99.6,26.4 101.7,28.1 103.8,29.7 105.8,31.3 107.9,32.2 110,33 112.1,33.8 114.2,34.8 116.2,36 118.3,37.5 120.4,38.8 122.5,39.9"/>
<use href="#F"/></g>
<g class="r" transform="translate(1366.4,1300.1)">
<g clip-path="url(#c)"><path class="bb" d="M10.2,38.1L14.3,40.9L18.5,40.9L22.6,38.8L26.8,34L31,32.8L35.1,31L39.3,29.2L43.4,27.9L47.6,26.8L51.8,26L55.9,24.7L60.1,24.1L64.2,23.2L68.4,22.3L72.6,21.2L76.7,22.1L80.9,24.8L85,26.5L89.2,28.2L93.4,29.5L97.5,30.8L101.7,31.4L105.8,31.6L110,32.3L114.2,32.7L118.3,33.5L120.4,35.6L122.5,37.9L122.5,38.7L120.4,38.1L118.3,38.1L114.2,37.5L110,37.1L105.8,36.6L101.7,36.5L97.5,34.9L93.4,33L89.2,31.6L85,28.8L80.9,26.8L76.7,24.5L72.6,23.1L68.4,23.2L64.2,24L60.1,25L55.9,25.5L51.8,27L47.6,28.3L43.4,29.5L39.3,30.1L35.1,31.9L31,33.7L26.8,34.8L22.6,40L18.5,42.5L14.3,42.5L10.2,38.1ZM10.2,34.9L14.3,30.7L18.5,31.2L22.6,28.6L26.8,23.7L31,22.3L35.1,20.9L39.3,19.5L43.4,18L47.6,16.5L51.8,15.3L55.9,13.6L60.1,13L64.2,12L68.4,11.3L72.6,11.2L76.7,12.4L80.9,13.5L85,14.3L89.2,14.9L93.4,15.7L97.5,15.6L101.7,15.5L105.8,13.5L110,12.9L114.2,12.9L118.3,13.7L120.4,19.6L122.5,25L122.5,27.2L120.4,24.7L118.3,21.9L114.2,16.7L110,15.8L105.8,16.1L101.7,16.5L97.5,16.4L93.4,16.5L89.2,15.7L85,15.1L80.9,14.3L76.7,13.3L72.6,12L68.4,12.1L64.2,12.8L60.1,13.8L55.9,14.9L51.8,16.3L47.6,17.6L43.4,18.9L39.3,20.4L35.1,21.8L31,23.2L26.8,24.5L22.6,29.4L18.5,32.2L14.3,31.7L10.2,34.9Z"/><polygon class="ob" points="10.2,34.9 14.3,31.7 18.5,32.2 22.6,29.4 26.8,24.5 31,23.2 35.1,21.8 39.3,20.4 43.4,18.9 47.6,17.6 51.8,16.3 55.9,14.9 60.1,13.8 64.2,12.8 68.4,12.1 72.6,12 76.7,13.3 80.9,14.3 85,15.1 89.2,15.7 93.4,16.5 97.5,16.4 101.7,16.5 105.8,16.1 110,15.8 114.2,16.7 118.3,21.9 120.4,24.7 122.5,27.2 122.5,37.9 120.4,35.6 118.3,33.5 114.2,32.7 110,32.3 105.8,31.6 101.7,31.4 97.5,30.8 93.4,29.5 89.2,28.2 85,26.5 80.9,24.8 76.7,22.1 72.6,21.2 68.4,22.3 64.2,23.2 60.1,24.1 55.9,24.7 51.8,26 47.6,26.8 43.4,27.9 39.3,29.2 35.1,31 31,32.8 26.8,34 22.6,38.8 18.5,40.9 14.3,40.9 10.2,38.1"/></g>
<use href="#m6"/><use href="#G"/>
<polyline class="ml" clip-path="url(#c)" points="6,84 6.2,49.8 7,44.4 8.1,41.8 9.1,39.2 10.2,36.8 11.2,36.5 12.2,36.5 13.3,36.5 14.3,36.5 15.4,36.5 16.4,36.5 17.4,36.4 18.5,36.5 20.6,36.2 22.6,34.3 24.7,31.7 26.8,29.5 28.9,28.5 31,27.7 33,26.9 35.1,26.3 37.2,25.6 39.3,24.9 41.4,24.2 43.4,23.4 45.5,22.5 47.6,21.9 49.7,21.5 51.8,21 53.8,20.3 55.9,19.7 58,19.1 60.1,18.6 62.2,18.1 64.2,18 66.3,17.6 68.4,17.2 70.5,16.7 72.6,16.7 74.6,17.1 76.7,17.7 78.8,17.9 80.9,17.9 83,18.4 85,19 87.1,19.6 89.2,19.9 91.3,20.3 93.4,20.5 95.4,20.4 97.5,20.5 99.6,20.5 101.7,20.4 103.8,20.2 105.8,20.3 107.9,20.4 110,20.8 112.1,22.7 114.2,25 116.2,27.1 118.3,28.8 120.4,30.7 122.5,32.3"/>
<use href="#F"/></g>
<g class="r" transform="translate(1545.8,1300.1)">
<g clip-path="url(#c)"><path class="bb" d="M10.2,39.8L14.3,41.5L18.5,41.8L22.6,41.8L26.8,38.8L31,36.3L35.1,35.3L39.3,34.4L43.4,33.6L47.6,32.7L51.8,31.2L55.9,29.8L60.1,28.1L64.2,26.4L68.4,24.8L72.6,24L76.7,22.9L80.9,21.9L85,21.7L89.2,22.7L93.4,25L97.5,27.9L101.7,30.2L105.8,32.9L110,35L114.2,37.9L116.2,38.8L118.3,40.3L120.4,41L122.5,39.5L122.5,43.3L120.4,45.8L118.3,44.7L116.2,43.5L114.2,41.7L110,39.1L105.8,35.2L101.7,31L97.5,28.8L93.4,25.9L89.2,23.6L85,22.6L80.9,22.8L76.7,23.7L72.6,24.9L68.4,25.8L64.2,27.4L60.1,28.9L55.9,30.7L51.8,32.1L47.6,33.5L43.4,34.4L39.3,35.3L35.1,36.1L31,37.8L26.8,40.8L22.6,43.7L18.5,42.7L14.3,42.3L10.2,39.8ZM10.2,36.6L14.3,31.3L18.5,31.3L22.6,31.3L26.8,28.7L31,26.2L35.1,25.2L39.3,24.2L43.4,23.3L47.6,22.5L51.8,20.9L55.9,19.2L60.1,17.3L64.2,15.7L68.4,14.4L72.6,13.3L76.7,12.5L80.9,11.4L85,11.8L89.2,11.9L93.4,12.1L97.5,13.3L101.7,13.6L105.8,14.3L110,14.5L114.2,17.9L116.2,19.1L118.3,19.3L120.4,19.9L122.5,25.3L122.5,26.6L120.4,25.2L118.3,23.8L116.2,21.8L114.2,20L110,17.1L105.8,16.2L101.7,15.6L97.5,14.2L93.4,12.9L89.2,12.8L85,12.6L80.9,12.2L76.7,13.4L72.6,14.6L68.4,16.4L64.2,17.3L60.1,19.1L55.9,20.4L51.8,21.8L47.6,23.4L43.4,24.1L39.3,25L35.1,26L31,27L26.8,29.6L22.6,32.2L18.5,32.1L14.3,32.1L10.2,36.6Z"/><polygon class="ob" points="10.2,36.6 14.3,32.1 18.5,32.1 22.6,32.2 26.8,29.6 31,27 35.1,26 39.3,25 43.4,24.1 47.6,23.4 51.8,21.8 55.9,20.4 60.1,19.1 64.2,17.3 68.4,16.4 72.6,14.6 76.7,13.4 80.9,12.2 85,12.6 89.2,12.8 93.4,12.9 97.5,14.2 101.7,15.6 105.8,16.2 110,17.1 114.2,20 116.2,21.8 118.3,23.8 120.4,25.2 122.5,26.6 122.5,39.5 120.4,41 118.3,40.3 116.2,38.8 114.2,37.9 110,35 105.8,32.9 101.7,30.2 97.5,27.9 93.4,25 89.2,22.7 85,21.7 80.9,21.9 76.7,22.9 72.6,24 68.4,24.8 64.2,26.4 60.1,28.1 55.9,29.8 51.8,31.2 47.6,32.7 43.4,33.6 39.3,34.4 35.1,35.3 31,36.3 26.8,38.8 22.6,41.8 18.5,41.8 14.3,41.5 10.2,39.8"/></g>
<use href="#m7"/><use href="#G"/>
<polyline class="ml" clip-path="url(#c)" points="6,84 6.2,51.1 7,43.8 8.1,37.8 9.1,36.6 10.2,36.5 11.2,36.4 12.2,36.3 13.3,36.3 14.3,36.4 15.4,36.6 16.4,36.8 17.4,37 18.5,37.2 20.6,37.4 22.6,37.4 24.7,36.2 26.8,34.7 28.9,33.2 31,32 33,31.5 35.1,31.2 37.2,30.7 39.3,30.2 41.4,29.6 43.4,28.9 45.5,28.4 47.6,28.1 49.7,27.1 51.8,26.1 53.8,25.3 55.9,24.7 58,24.1 60.1,23.2 62.2,22.7 64.2,21.9 66.3,21.4 68.4,20.8 70.5,20.2 72.6,19.5 74.6,18.6 76.7,18.1 78.8,17.3 80.9,17 83,17 85,17.2 87.1,17.2 89.2,17.4 91.3,17.4 93.4,17.7 95.4,18.5 97.5,19.2 99.6,19.6 101.7,20.3 103.8,20.9 105.8,21.8 107.9,22.7 110,24.2 112.1,25.6 114.2,26.5 116.2,27.6 118.3,28.7 120.4,30.2 122.5,31.1"/>
<use href="#F"/></g>
<g class="r" transform="translate(1725.2,1300.1)">
<g clip-path="url(#c)"><path class="bb" d="M10.2,40.8L14.3,39.8L18.5,41.5L22.6,41.3L26.8,38.2L31,35.3L35.1,34.5L39.3,33.9L43.4,32.6L47.6,31.3L51.8,30.1L55.9,29.3L60.1,28.3L64.2,27L68.4,25.5L72.6,24.4L76.7,23.3L80.9,22.4L85,21.4L89.2,20.8L93.4,20.1L95.4,20.2L97.5,19.4L101.7,20.1L105.8,20.5L110,23.5L114.2,26.4L118.3,30.2L120.4,32.5L122.5,34.6L122.5,36.6L120.4,37.2L118.3,38.3L114.2,39L110,39.4L105.8,37.1L101.7,34.6L97.5,30.1L95.4,28.1L93.4,26.5L89.2,24L85,22.8L80.9,23.4L76.7,25.3L72.6,26.7L68.4,27.8L64.2,28L60.1,29.1L55.9,30.1L51.8,31.1L47.6,33L43.4,34.4L39.3,35.8L35.1,36.3L31,37.3L26.8,40.4L22.6,43.6L18.5,44.3L14.3,41.7L10.2,40.8ZM10.2,37.7L14.3,28.6L18.5,30.3L22.6,29.6L26.8,26.6L31,23.9L35.1,23.1L39.3,22L43.4,20.7L47.6,19.9L51.8,18.9L55.9,17.5L60.1,17.2L64.2,16L68.4,14.7L72.6,13L76.7,12.6L80.9,11.8L85,10.9L89.2,10.3L93.4,9.4L95.4,9.5L97.5,8.4L101.7,7.3L105.8,7.5L110,10.9L114.2,13L118.3,16.8L120.4,18.3L122.5,24.4L122.5,25.8L120.4,22.2L118.3,18.4L114.2,16.4L110,14.5L105.8,11.9L101.7,11.7L97.5,10.9L95.4,10.9L93.4,10.2L89.2,11.1L85,11.7L80.9,13.3L76.7,14.1L72.6,15.2L68.4,16.4L64.2,17L60.1,18.1L55.9,18.3L51.8,20L47.6,21.8L43.4,23.2L39.3,23.8L35.1,23.9L31,25L26.8,28.1L22.6,31.5L18.5,32.3L14.3,30.7L10.2,37.7Z"/><polygon class="ob" points="10.2,37.7 14.3,30.7 18.5,32.3 22.6,31.5 26.8,28.1 31,25 35.1,23.9 39.3,23.8 43.4,23.2 47.6,21.8 51.8,20 55.9,18.3 60.1,18.1 64.2,17 68.4,16.4 72.6,15.2 76.7,14.1 80.9,13.3 85,11.7 89.2,11.1 93.4,10.2 95.4,10.9 97.5,10.9 101.7,11.7 105.8,11.9 110,14.5 114.2,16.4 118.3,18.4 120.4,22.2 122.5,25.8 122.5,34.6 120.4,32.5 118.3,30.2 114.2,26.4 110,23.5 105.8,20.5 101.7,20.1 97.5,19.4 95.4,20.2 93.4,20.1 89.2,20.8 85,21.4 80.9,22.4 76.7,23.3 72.6,24.4 68.4,25.5 64.2,27 60.1,28.3 55.9,29.3 51.8,30.1 47.6,31.3 43.4,32.6 39.3,33.9 35.1,34.5 31,35.3 26.8,38.2 22.6,41.3 18.5,41.5 14.3,39.8 10.2,40.8"/></g>
<use href="#m8"/><use href="#G"/>
<polyline class="ml" clip-path="url(#c)" points="6,84 6.2,51 7,43.3 8.1,36.4 9.1,35.1 10.2,34.9 11.2,34.8 12.2,34.8 13.3,34.7 14.3,34.9 15.4,35.2 16.4,35.6 17.4,36.1 18.5,36.5 20.6,37.4 22.6,36.1 24.7,34.7 26.8,32.8 28.9,31.5 31,30.2 33,29.7 35.1,29.4 37.2,29 39.3,28.4 41.4,27.7 43.4,27.3 45.5,27 47.6,26.5 49.7,25.9 51.8,25.3 53.8,24.5 55.9,23.7 58,23.2 60.1,22.8 62.2,22.6 64.2,22.2 66.3,21.5 68.4,20.8 70.5,20.3 72.6,20 74.6,19.1 76.7,18.6 78.8,17.7 80.9,17.5 83,17 85,16.8 87.1,16.6 89.2,16.4 91.3,16 93.4,15.8 95.4,15.3 97.5,15.3 99.6,15.3 101.7,15.1 103.8,15.1 105.8,15.4 107.9,17.2 110,18.6 112.1,20.2 114.2,21.6 116.2,23.8 118.3,26 120.4,28.1 122.5,29.7"/>
<use href="#F"/></g>
<g class="r" transform="translate(1904.6,1300.1)">
<g clip-path="url(#c)"><path class="bb" d="M10.2,40.8L14.3,39.6L16.4,40.1L18.5,39.4L20.6,39.1L22.6,39.1L26.8,37.1L31,35.6L35.1,34.5L39.3,33.4L43.4,31.7L47.6,30.9L51.8,29.9L55.9,28.5L60.1,27.1L62.2,26.5L64.2,26.4L68.4,25.3L72.6,24.1L76.7,22.8L80.9,21.7L85,21.6L89.2,22.7L93.4,25L97.5,27.5L101.7,29.6L105.8,33L110,36.2L114.2,38.9L116.2,41.1L118.3,42.8L120.4,44.9L122.5,42.3L122.5,50.2L120.4,53.4L118.3,50.5L116.2,47.3L114.2,44.8L110,40.3L105.8,36.2L101.7,32.9L97.5,29.1L93.4,27.6L89.2,25.1L85,24.9L80.9,24.4L76.7,26L72.6,27.1L68.4,28.4L64.2,30.6L62.2,31.5L60.1,32.4L55.9,35.5L51.8,33.6L47.6,32.8L43.4,33.3L39.3,35.2L35.1,35.4L31,36.9L26.8,38.6L22.6,42.2L20.6,41.5L18.5,41.2L16.4,40.9L14.3,41.2L10.2,40.8ZM10.2,37.7L14.3,28L16.4,28.2L18.5,28.5L20.6,29L22.6,29.2L26.8,26.9L31,24.5L35.1,23.1L39.3,21.6L43.4,19.8L47.6,17.9L51.8,16.7L55.9,15.8L60.1,15.5L62.2,14.9L64.2,14.9L68.4,13.8L72.6,12.8L76.7,11.4L80.9,10.3L85,10L89.2,9.5L93.4,9L97.5,10L101.7,11.5L105.8,12.6L110,12.8L114.2,13L116.2,12.3L118.3,12.3L120.4,17.1L122.5,22.1L122.5,23.9L120.4,22L118.3,19.5L116.2,17L114.2,14.6L110,14L105.8,13.5L101.7,12.7L97.5,12.1L93.4,11.1L89.2,11.3L85,11.7L80.9,12L76.7,13.8L72.6,14.4L68.4,15.6L64.2,15.9L62.2,16.4L60.1,17.6L55.9,19.2L51.8,20.6L47.6,21.1L43.4,22.4L39.3,23.8L35.1,25.4L31,26.4L26.8,28.5L22.6,30.6L20.6,30.4L18.5,30.2L16.4,29.9L14.3,29.8L10.2,37.7Z"/><polygon class="ob" points="10.2,37.7 14.3,29.8 16.4,29.9 18.5,30.2 20.6,30.4 22.6,30.6 26.8,28.5 31,26.4 35.1,25.4 39.3,23.8 43.4,22.4 47.6,21.1 51.8,20.6 55.9,19.2 60.1,17.6 62.2,16.4 64.2,15.9 68.4,15.6 72.6,14.4 76.7,13.8 80.9,12 85,11.7 89.2,11.3 93.4,11.1 97.5,12.1 101.7,12.7 105.8,13.5 110,14 114.2,14.6 116.2,17 118.3,19.5 120.4,22 122.5,23.9 122.5,42.3 120.4,44.9 118.3,42.8 116.2,41.1 114.2,38.9 110,36.2 105.8,33 101.7,29.6 97.5,27.5 93.4,25 89.2,22.7 85,21.6 80.9,21.7 76.7,22.8 72.6,24.1 68.4,25.3 64.2,26.4 62.2,26.5 60.1,27.1 55.9,28.5 51.8,29.9 47.6,30.9 43.4,31.7 39.3,33.4 35.1,34.5 31,35.6 26.8,37.1 22.6,39.1 20.6,39.1 18.5,39.4 16.4,40.1 14.3,39.6 10.2,40.8"/></g>
<use href="#m9"/><use href="#G"/>
<polyline class="ml" clip-path="url(#c)" points="6,84 6.2,51 7,43.3 8.1,36.4 9.1,35.1 10.2,34.9 11.2,34.8 12.2,34.8 13.3,34.7 14.3,34.7 15.4,34.7 16.4,34.8 17.4,34.9 18.5,35.1 20.6,35.4 22.6,35.4 24.7,34.3 26.8,33.1 28.9,32.1 31,31 33,30.4 35.1,29.6 37.2,29 39.3,28.3 41.4,27.6 43.4,27.2 45.5,26.5 47.6,26 49.7,25.4 51.8,25.3 53.8,24.9 55.9,23.9 58,23 60.1,22.2 62.2,21.6 64.2,20.8 66.3,20.4 68.4,20 70.5,19.8 72.6,19.2 74.6,18.8 76.7,18.3 78.8,17.7 80.9,16.9 83,16.7 85,16.5 87.1,16.9 89.2,16.8 91.3,17.1 93.4,16.8 95.4,17.2 97.5,17.5 99.6,18 101.7,18.5 103.8,18.9 105.8,19.2 107.9,20.1 110,21.3 112.1,22.6 114.2,24 116.2,25.4 118.3,26.7 120.4,27.8 122.5,28.8"/>
<use href="#F"/></g>
<g class="r" transform="translate(2084,1300.1)">
<g clip-path="url(#c)"><path class="bb" d="M10.2,40.5L14.3,39.9L18.5,42.3L22.6,44.1L26.8,39.4L31,34.6L35.1,34.2L39.3,33.2L43.4,32.4L47.6,31.3L51.8,29.8L55.9,28.6L60.1,27.4L64.2,26.7L68.4,25.7L72.6,24.9L76.7,23.8L80.9,23L85,22L87.1,21.7L89.2,23.7L93.4,26.7L97.5,29.3L101.7,32.5L105.8,34.7L110,37.3L114.2,39.1L118.3,41.2L120.4,41.6L122.5,42.9L122.5,45.6L120.4,47.6L118.3,46L114.2,43.7L110,41.6L105.8,40.6L101.7,39.9L97.5,36.1L93.4,31.3L89.2,27.5L87.1,25.3L85,25.4L80.9,23.9L76.7,28L72.6,32.4L68.4,32.8L64.2,32.3L60.1,31.8L55.9,31.4L51.8,31.4L47.6,32.1L43.4,33.2L39.3,34.1L35.1,35L31,35.5L26.8,40.3L22.6,45.5L18.5,43.1L14.3,40.8L10.2,40.5ZM10.2,37.4L14.3,28.1L18.5,30.8L22.6,33.6L26.8,28.9L31,24.3L35.1,22.8L39.3,22.4L43.4,21.6L47.6,20.6L51.8,19.5L55.9,17.9L60.1,17.3L64.2,16.2L68.4,15.1L72.6,13.9L76.7,13.1L80.9,12.1L85,11L87.1,10.7L89.2,9.9L93.4,9.2L97.5,10.6L101.7,11.6L105.8,12L110,12.5L114.2,14.3L118.3,16.3L120.4,17.6L122.5,28.9L122.5,31.7L120.4,25.7L118.3,19.7L114.2,17.2L110,15.1L105.8,14.8L101.7,12.7L97.5,11.5L93.4,10L89.2,11L87.1,11.6L85,11.9L80.9,13L76.7,13.9L72.6,15.5L68.4,16.5L64.2,17L60.1,18.1L55.9,18.8L51.8,20.4L47.6,21.4L43.4,22.4L39.3,23.3L35.1,23.7L31,25.1L26.8,29.8L22.6,34.5L18.5,31.7L14.3,29L10.2,37.4Z"/><polygon class="ob" points="10.2,37.4 14.3,29 18.5,31.7 22.6,34.5 26.8,29.8 31,25.1 35.1,23.7 39.3,23.3 43.4,22.4 47.6,21.4 51.8,20.4 55.9,18.8 60.1,18.1 64.2,17 68.4,16.5 72.6,15.5 76.7,13.9 80.9,13 85,11.9 87.1,11.6 89.2,11 93.4,10 97.5,11.5 101.7,12.7 105.8,14.8 110,15.1 114.2,17.2 118.3,19.7 120.4,25.7 122.5,31.7 122.5,42.9 120.4,41.6 118.3,41.2 114.2,39.1 110,37.3 105.8,34.7 101.7,32.5 97.5,29.3 93.4,26.7 89.2,23.7 87.1,21.7 85,22 80.9,23 76.7,23.8 72.6,24.9 68.4,25.7 64.2,26.7 60.1,27.4 55.9,28.6 51.8,29.8 47.6,31.3 43.4,32.4 39.3,33.2 35.1,34.2 31,34.6 26.8,39.4 22.6,44.1 18.5,42.3 14.3,39.9 10.2,40.5"/></g>
<use href="#m10"/><use href="#G"/>
<polyline class="ml" clip-path="url(#c)" points="6,84 6.2,51 7,43.1 8.1,35.9 9.1,34.5 10.2,34.4 11.2,34.3 12.2,34.2 13.3,34.2 14.3,34.4 15.4,34.9 16.4,35.6 17.4,36.3 18.5,36.9 20.6,38.5 22.6,39.3 24.7,37.5 26.8,35.1 28.9,32.9 31,30.7 33,29.7 35.1,29 37.2,28.8 39.3,28.3 41.4,27.7 43.4,27.3 45.5,26.9 47.6,26.6 49.7,26 51.8,25.5 53.8,24.8 55.9,24.4 58,23.9 60.1,23.4 62.2,22.3 64.2,22 66.3,21.4 68.4,21 70.5,20 72.6,19.3 74.6,18.9 76.7,18.5 78.8,18.1 80.9,17.5 83,17.3 85,17.1 87.1,16.6 89.2,15.9 91.3,15.5 93.4,15.3 95.4,15.9 97.5,16.2 99.6,16.9 101.7,17.8 103.8,19.7 105.8,21.6 107.9,23.5 110,25.5 112.1,27.6 114.2,29.3 116.2,31.2 118.3,33.3 120.4,35.4 122.5,37.3"/>
<use href="#F"/></g>
</svg></body></html>
